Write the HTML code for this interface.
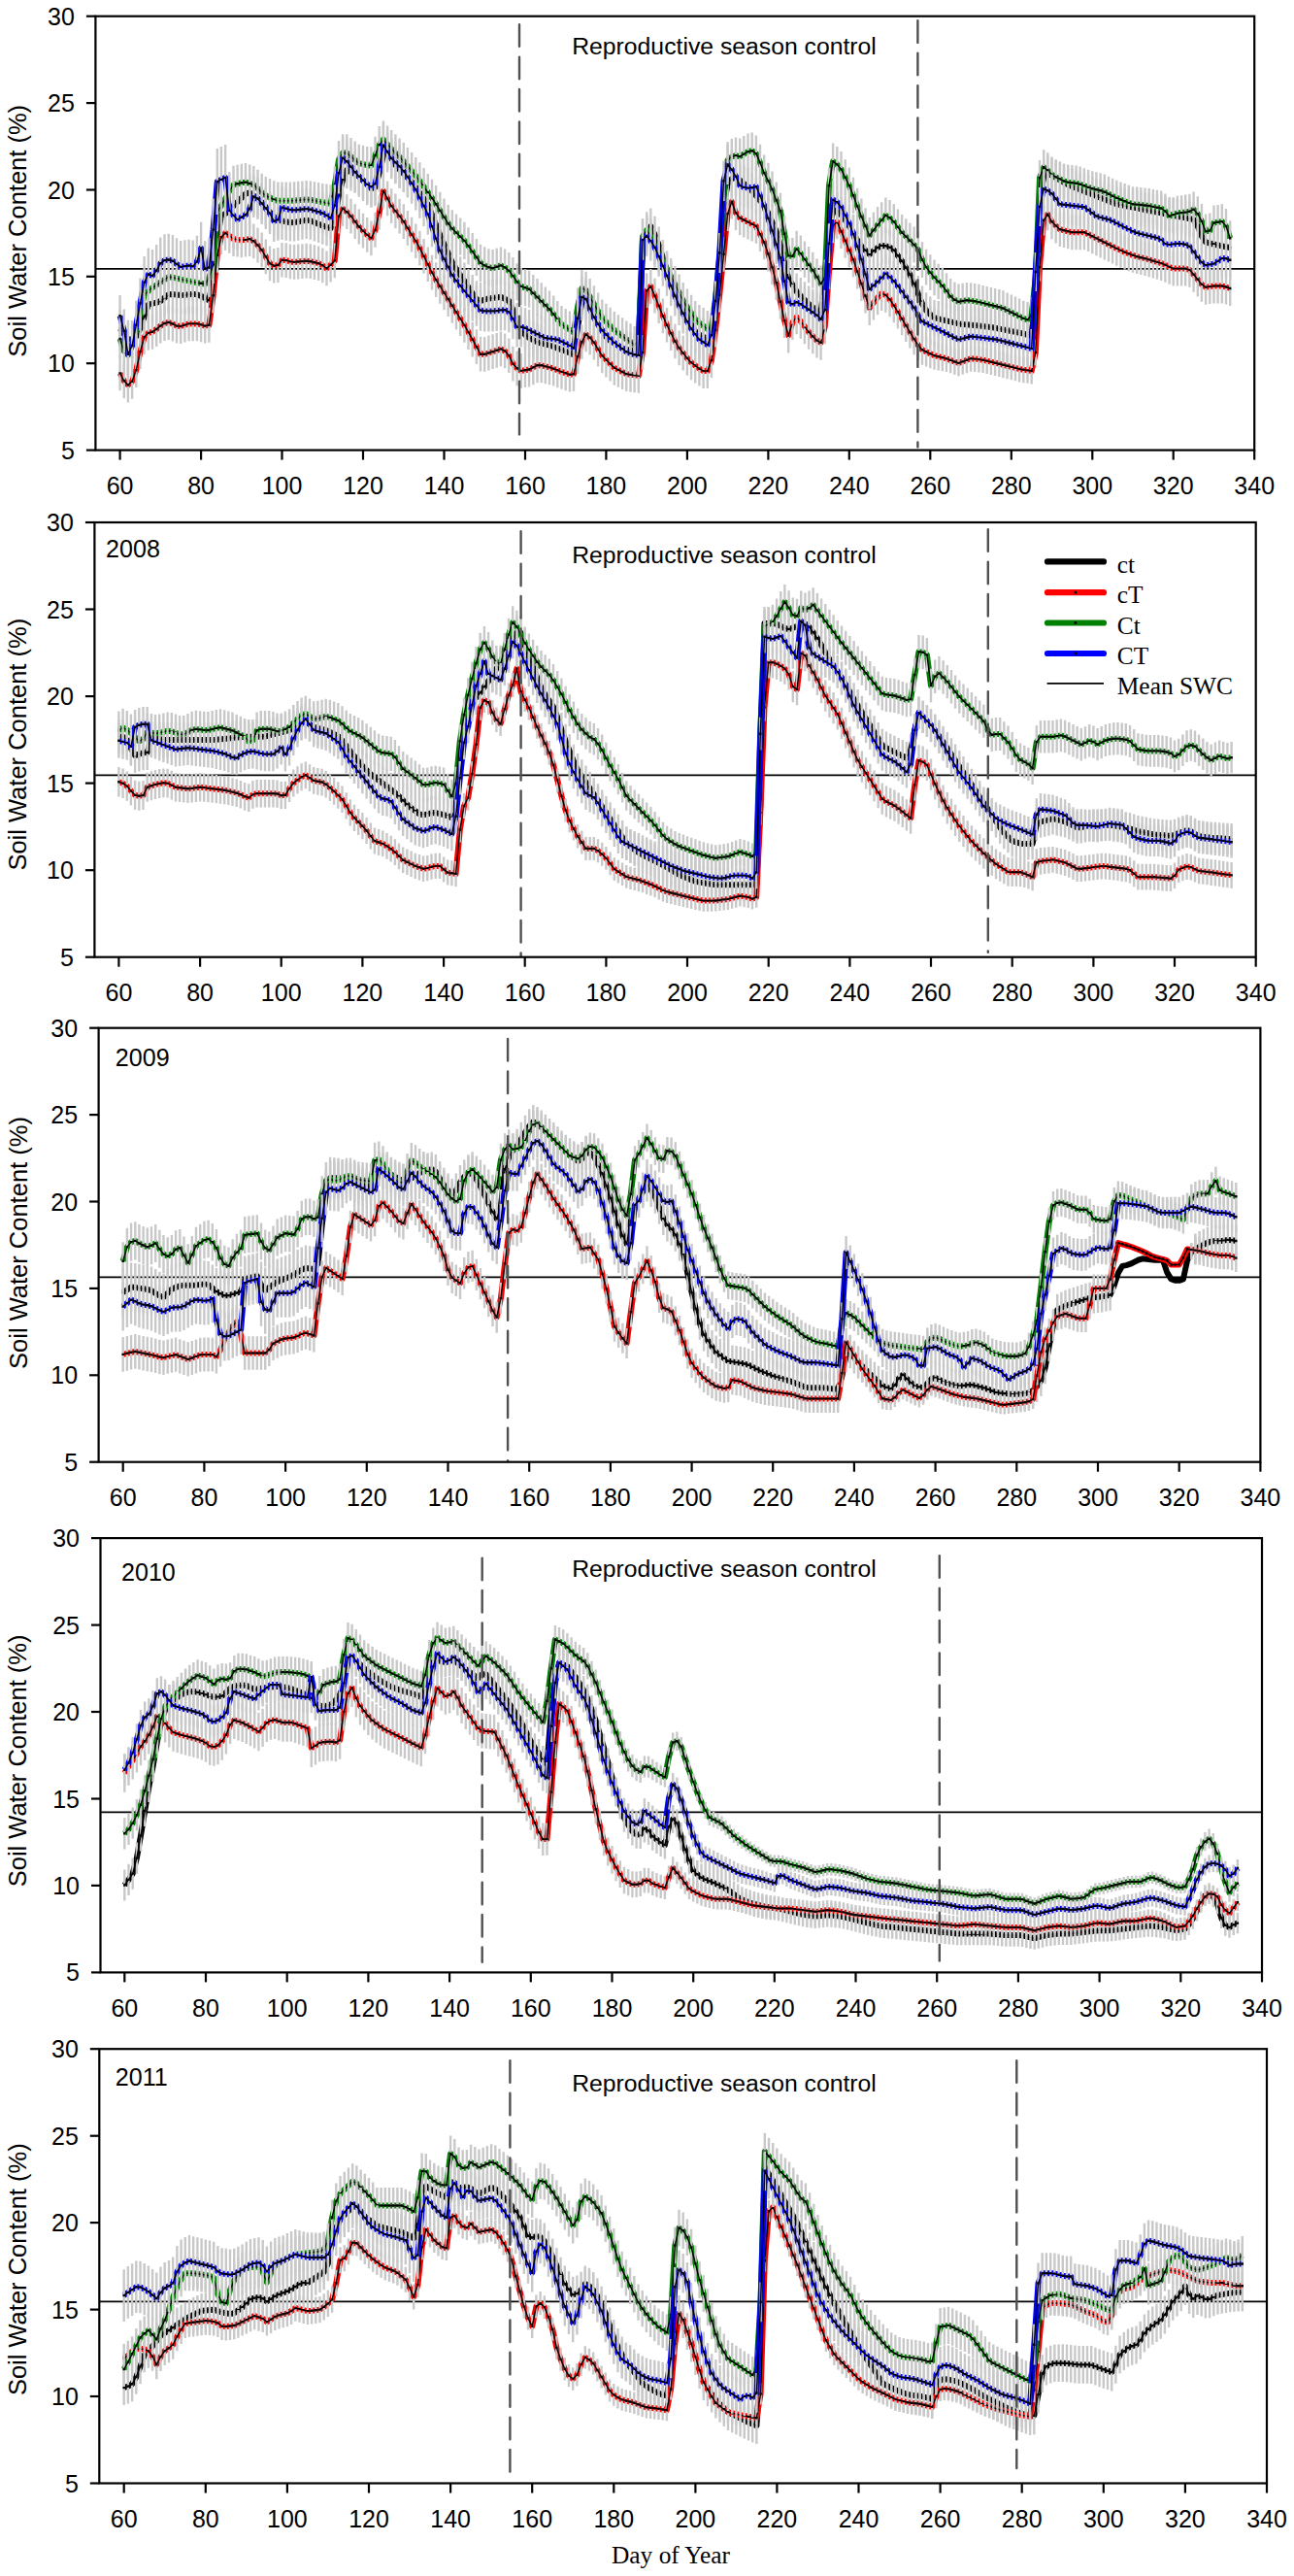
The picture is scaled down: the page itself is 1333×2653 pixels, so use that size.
<!DOCTYPE html><html><head><meta charset="utf-8"><title>Soil Water Content</title>
<style>html,body{margin:0;padding:0;background:#fff;}body{width:1333px;height:2653px;overflow:hidden;}svg{display:block;}</style>
</head><body>
<svg width="1333" height="2653" viewBox="0 0 1333 2653">
<rect x="0" y="0" width="1333" height="2653" fill="#fff"/>
<line x1="98.4" y1="276.9" x2="1292.2" y2="276.9" stroke="#000" stroke-width="1.8"/>
<polyline fill="none" stroke="#000000" stroke-width="6" stroke-linejoin="round" points="123.6,338.2 127.8,343.8 131.9,349.3 136.1,349.7 140.3,346.4 144.5,338.1 148.6,326.1 152.8,313.7 157,312.6 161.2,311.6 165.3,310.1 169.5,306.7 173.7,303.2 177.9,303 182,303.6 186.2,304.1 190.4,303.8 194.6,303.3 198.7,302.8 202.9,303.4 207.1,304.8 211.2,307 215.4,309.3 219.6,285.7 223.8,245.2 227.9,222.3 232.1,220.2 236.3,216.4 240.5,212.2 244.6,208 248.8,203.8 253,199.7 257.2,198.3 261.3,201.5 265.5,204.6 269.7,208.2 273.8,213.2 278,218.3 282.2,223.3 286.4,226.6 290.5,227.5 294.7,228.3 298.9,229.2 303.1,229.1 307.2,228.3 311.4,227.5 315.6,226.6 319.8,227.3 323.9,229 328.1,230.7 332.3,232.4 336.5,233.8 340.6,235.2 344.8,226.3 349,201.2 353.1,184.9 357.3,175 361.5,177.1 365.7,179.1 369.8,181.6 374,185.8 378.2,189.9 382.4,194.1 386.5,193 390.7,178.4 394.9,160.3 399.1,155.7 403.2,162.8 407.4,170 411.6,174.6 415.8,178.8 419.9,183 424.1,187.2 428.3,192.9 432.4,198.8 436.6,204.6 440.8,210.7 445,221.2 449.1,231.6 453.3,242 457.5,251.5 461.7,260.9 465.8,270.2 470,277 474.2,283.3 478.4,289.5 482.5,295.8 486.7,302.1 490.9,308.3 495,309.9 499.2,308.6 503.4,307.4 507.6,306.9 511.7,306.4 515.9,305.8 520.1,307.9 524.3,310 528.4,318.9 532.6,330.9 536.8,337.8 541,344.8 545.1,348 549.3,350.1 553.5,352.2 557.7,353.6 561.8,354.6 566,355.7 570.2,357 574.3,358.6 578.5,360.1 582.7,361.8 586.9,363.6 591,365.4 595.2,336.2 599.4,311.1 603.6,307.8 607.7,317.4 611.9,326.9 616.1,334.3 620.3,340.6 624.4,346.8 628.6,351 632.8,353.5 636.9,356 641.1,358.5 645.3,360 649.5,360.9 653.6,361.9 657.8,348.5 662,259.5 666.2,240.2 670.3,233.2 674.5,241.6 678.7,252.4 682.9,265.7 687,277.7 691.2,288.6 695.4,299.4 699.6,310.3 703.7,318.9 707.9,326.4 712.1,333.9 716.2,341.4 720.4,344.8 724.6,346.9 728.8,349 732.9,346.9 737.1,329.8 741.3,291.3 745.5,212 749.6,189.6 753.8,184 758,182.3 762.2,185.7 766.3,189 770.5,192.4 774.7,196.6 778.9,201.6 783,206.6 787.2,211.6 791.4,219.6 795.5,228.9 799.7,238.3 803.9,252.5 808.1,270.6 812.2,286.3 816.4,293.2 820.6,300.2 824.8,304.7 828.9,308.8 833.1,313 837.3,316.4 841.5,319.5 845.6,322.6 849.8,284.9 854,231.5 858.1,218.9 862.3,216.2 866.5,221.4 870.7,226.7 874.8,232.8 879,240.1 883.2,247.4 887.4,253.7 891.5,257.8 895.7,262 899.9,258.3 904.1,255 908.2,252.9 912.4,253.3 916.6,254.7 920.8,257.6 924.9,263.2 929.1,268.8 933.3,275.7 937.4,282.7 941.6,292.1 945.8,302.5 950,312.9 954.1,319.7 958.3,323.8 962.5,327.2 966.7,328.3 970.8,329.3 975,330.3 979.2,331.4 983.4,332.4 987.5,333.4 991.7,333.9 995.9,334.3 1000.1,334.7 1004.2,335.1 1008.4,335.5 1012.6,336 1016.7,336.4 1020.9,336.9 1025.1,337.7 1029.3,338.6 1033.4,339.4 1037.6,340.2 1041.8,341.1 1046,341.9 1050.1,342.7 1054.3,343.7 1058.5,344.9 1062.7,346.1 1066.8,301.9 1071,205.1 1075.2,182.3 1079.3,178.3 1083.5,180.6 1087.7,183 1091.9,185.4 1096,187.8 1100.2,190.2 1104.4,192 1108.6,193.7 1112.7,195.3 1116.9,197 1121.1,198.7 1125.3,200.3 1129.4,202 1133.6,203.7 1137.8,205.3 1142,207 1146.1,208.7 1150.3,210.2 1154.5,211.1 1158.6,211.9 1162.8,212.7 1167,213.6 1171.2,214.4 1175.3,215.2 1179.5,216.1 1183.7,216.9 1187.9,217.7 1192,218.6 1196.2,219.4 1200.4,220.2 1204.6,221.1 1208.7,221.9 1212.9,222.7 1217.1,223.6 1221.2,224.4 1225.4,225.2 1229.6,226.1 1233.8,233.2 1237.9,243 1242.1,249.4 1246.3,250.5 1250.5,251.5 1254.6,252.5 1258.8,253.4 1263,254.3 1267.2,255.1"/>
<path fill="none" stroke="#c8c8c8" stroke-width="2.4" d="M123.6 318.5V357.9M127.8 324.1V363.4M131.9 329.7V369M136.1 330V369.3M140.3 326.8V366.1M144.5 318.5V357.7M148.6 306.4V345.7M152.8 294.1V333.3M157 293V332.2M161.2 292V331.2M165.3 290.5V329.7M169.5 287.1V326.3M173.7 283.6V322.8M177.9 283.5V322.6M182 284V323.1M186.2 284.5V323.6M190.4 284.3V323.4M194.6 283.8V322.9M198.7 283.3V322.3M202.9 283.9V323M207.1 285.3V324.4M211.2 287.5V326.5M215.4 289.8V328.9M219.6 266.2V305.3M223.8 225.7V264.7M227.9 202.8V241.8M232.1 200.7V239.7M236.3 196.9V235.8M240.5 192.7V231.7M244.6 188.5V227.5M248.8 184.4V223.3M253 180.2V219.1M257.2 178.9V217.8M261.3 182V220.9M265.5 185.1V224M269.7 188.8V227.7M273.8 193.8V232.7M278 198.8V237.7M282.2 203.8V242.7M286.4 207.2V246.1M290.5 208.1V246.9M294.7 208.9V247.7M298.9 209.8V248.5M303.1 209.8V248.5M307.2 208.9V247.7M311.4 208.1V246.8M315.6 207.3V246M319.8 208V246.7M323.9 209.7V248.4M328.1 211.3V250M332.3 213V251.7M336.5 214.5V253.2M340.6 215.9V254.5M344.8 207V245.6M349 181.9V220.5M353.1 165.6V204.2M357.3 155.7V194.3M361.5 157.8V196.4M365.7 159.9V198.4M369.8 162.3V200.9M374 166.5V205M378.2 170.7V209.2M382.4 174.8V213.4M386.5 173.8V212.3M390.7 159.2V197.6M394.9 141V179.5M399.1 136.4V174.9M403.2 143.6V182M407.4 150.8V189.2M411.6 155.4V193.9M415.8 159.6V198M419.9 163.8V202.2M424.1 168V206.4M428.3 173.7V212.1M432.4 179.6V217.9M436.6 185.4V223.8M440.8 191.6V229.9M445 202V240.3M449.1 212.4V250.7M453.3 222.9V261.2M457.5 232.3V270.6M461.7 241.7V280M465.8 251.1V289.4M470 257.9V296.1M474.2 264.2V302.4M478.4 270.4V308.6M482.5 276.7V314.9M486.7 283V321.1M490.9 289.2V327.4M495 290.8V329M499.2 289.6V327.7M503.4 288.3V326.5M507.6 287.8V326M511.7 287.3V325.4M515.9 286.8V324.9M520.1 288.9V326.9M524.3 291V329M528.4 299.9V337.9M532.6 311.9V349.9M536.8 318.8V356.9M541 325.8V363.8M545.1 329V367M549.3 331.1V369.1M553.5 333.2V371.2M557.7 334.6V372.6M561.8 335.7V373.6M566 336.7V374.6M570.2 338V376M574.3 339.6V377.5M578.5 341.2V379.1M582.7 342.9V380.7M586.9 344.6V382.5M591 346.4V384.3M595.2 317.2V355.1M599.4 292.2V330M603.6 288.9V326.7M607.7 298.5V336.3M611.9 308V345.8M616.1 315.4V353.2M620.3 321.7V359.4M624.4 327.9V365.7M628.6 332.2V369.9M632.8 334.7V372.4M636.9 337.2V374.9M641.1 339.7V377.4M645.3 341.2V378.9M649.5 342.1V379.8M653.6 343V380.7M657.8 329.7V367.4M662 240.7V278.3M666.2 221.3V259M670.3 214.4V252M674.5 222.8V260.4M678.7 233.6V271.2M682.9 246.9V284.5M687 258.9V296.5M691.2 269.8V307.3M695.4 280.6V318.2M699.6 291.5V329M703.7 300.2V337.7M707.9 307.7V345.2M712.1 315.2V352.7M716.2 322.7V360.2M720.4 326V363.5M724.6 328.1V365.6M728.8 330.2V367.7M732.9 328.2V365.6M737.1 311.1V348.5M741.3 272.6V309.9M745.5 193.3V230.6M749.6 170.9V208.3M753.8 165.3V202.7M758 163.7V201M762.2 167V204.4M766.3 170.4V207.7M770.5 173.7V211M774.7 178V215.3M778.9 183V220.3M783 188V225.3M787.2 193V230.3M791.4 200.9V238.2M795.5 210.3V247.6M799.7 219.7V256.9M803.9 233.9V271.1M808.1 252V289.2M812.2 267.7V304.8M816.4 274.6V311.8M820.6 281.6V318.7M824.8 286.1V323.2M828.9 290.3V327.4M833.1 294.5V331.6M837.3 297.8V334.9M841.5 301V338.1M845.6 304.1V341.2M849.8 266.4V303.5M854 212.9V250M858.1 200.4V237.5M862.3 197.7V234.7M866.5 202.9V239.9M870.7 208.2V245.2M874.8 214.3V251.3M879 221.6V258.6M883.2 228.9V265.9M887.4 235.2V272.1M891.5 239.4V276.3M895.7 243.6V280.5M899.9 239.9V276.8M904.1 236.6V273.4M908.2 234.5V271.3M912.4 234.8V271.7M916.6 236.2V273.1M920.8 239.2V276M924.9 244.7V281.6M929.1 250.4V287.2M933.3 257.3V294.1M937.4 264.3V301.1M941.6 273.7V310.5M945.8 284.1V320.9M950 294.6V331.3M954.1 301.3V338M958.3 305.5V342.2M962.5 308.9V345.6M966.7 309.9V346.6M970.8 311V347.6M975 312V348.7M979.2 313.1V349.7M983.4 314.1V350.7M987.5 315.1V351.8M991.7 315.6V352.2M995.9 316V352.6M1000.1 316.4V353M1004.2 316.8V353.4M1008.4 317.3V353.8M1012.6 317.7V354.2M1016.7 318.1V354.6M1020.9 318.6V355.2M1025.1 319.5V356M1029.3 320.3V356.8M1033.4 321.2V357.6M1037.6 322V358.5M1041.8 322.8V359.3M1046 323.7V360.1M1050.1 324.5V361M1054.3 325.5V362M1058.5 326.7V363.1M1062.7 327.9V364.3M1066.8 283.7V320.1M1071 187V223.3M1075.2 164.1V200.4M1079.3 160.1V196.4M1083.5 162.5V198.8M1087.7 164.9V201.2M1091.9 167.3V203.6M1096 169.7V205.9M1100.2 172V208.3M1104.4 173.9V210.1M1108.6 175.5V211.8M1112.7 177.2V213.4M1116.9 178.9V215.1M1121.1 180.6V216.8M1125.3 182.2V218.4M1129.4 183.9V220.1M1133.6 185.6V221.8M1137.8 187.3V223.4M1142 188.9V225.1M1146.1 190.6V226.7M1150.3 192.2V228.3M1154.5 193V229.1M1158.6 193.8V229.9M1162.8 194.7V230.8M1167 195.5V231.6M1171.2 196.4V232.4M1175.3 197.2V233.2M1179.5 198.1V234.1M1183.7 198.9V234.9M1187.9 199.7V235.7M1192 200.6V236.6M1196.2 201.4V237.4M1200.4 202.3V238.2M1204.6 203.1V239M1208.7 203.9V239.9M1212.9 204.8V240.7M1217.1 205.6V241.5M1221.2 206.5V242.4M1225.4 207.3V243.2M1229.6 208.1V244M1233.8 215.3V251.2M1237.9 225.1V260.9M1242.1 231.5V267.4M1246.3 232.6V268.4M1250.5 233.6V269.4M1254.6 234.6V270.4M1258.8 235.5V271.3M1263 236.4V272.1M1267.2 237.3V273"/>
<polyline fill="none" stroke="#000" stroke-width="1.4" stroke-linejoin="round" points="123.6,338.2 127.8,343.8 131.9,349.3 136.1,349.7 140.3,346.4 144.5,338.1 148.6,326.1 152.8,313.7 157,312.6 161.2,311.6 165.3,310.1 169.5,306.7 173.7,303.2 177.9,303 182,303.6 186.2,304.1 190.4,303.8 194.6,303.3 198.7,302.8 202.9,303.4 207.1,304.8 211.2,307 215.4,309.3 219.6,285.7 223.8,245.2 227.9,222.3 232.1,220.2 236.3,216.4 240.5,212.2 244.6,208 248.8,203.8 253,199.7 257.2,198.3 261.3,201.5 265.5,204.6 269.7,208.2 273.8,213.2 278,218.3 282.2,223.3 286.4,226.6 290.5,227.5 294.7,228.3 298.9,229.2 303.1,229.1 307.2,228.3 311.4,227.5 315.6,226.6 319.8,227.3 323.9,229 328.1,230.7 332.3,232.4 336.5,233.8 340.6,235.2 344.8,226.3 349,201.2 353.1,184.9 357.3,175 361.5,177.1 365.7,179.1 369.8,181.6 374,185.8 378.2,189.9 382.4,194.1 386.5,193 390.7,178.4 394.9,160.3 399.1,155.7 403.2,162.8 407.4,170 411.6,174.6 415.8,178.8 419.9,183 424.1,187.2 428.3,192.9 432.4,198.8 436.6,204.6 440.8,210.7 445,221.2 449.1,231.6 453.3,242 457.5,251.5 461.7,260.9 465.8,270.2 470,277 474.2,283.3 478.4,289.5 482.5,295.8 486.7,302.1 490.9,308.3 495,309.9 499.2,308.6 503.4,307.4 507.6,306.9 511.7,306.4 515.9,305.8 520.1,307.9 524.3,310 528.4,318.9 532.6,330.9 536.8,337.8 541,344.8 545.1,348 549.3,350.1 553.5,352.2 557.7,353.6 561.8,354.6 566,355.7 570.2,357 574.3,358.6 578.5,360.1 582.7,361.8 586.9,363.6 591,365.4 595.2,336.2 599.4,311.1 603.6,307.8 607.7,317.4 611.9,326.9 616.1,334.3 620.3,340.6 624.4,346.8 628.6,351 632.8,353.5 636.9,356 641.1,358.5 645.3,360 649.5,360.9 653.6,361.9 657.8,348.5 662,259.5 666.2,240.2 670.3,233.2 674.5,241.6 678.7,252.4 682.9,265.7 687,277.7 691.2,288.6 695.4,299.4 699.6,310.3 703.7,318.9 707.9,326.4 712.1,333.9 716.2,341.4 720.4,344.8 724.6,346.9 728.8,349 732.9,346.9 737.1,329.8 741.3,291.3 745.5,212 749.6,189.6 753.8,184 758,182.3 762.2,185.7 766.3,189 770.5,192.4 774.7,196.6 778.9,201.6 783,206.6 787.2,211.6 791.4,219.6 795.5,228.9 799.7,238.3 803.9,252.5 808.1,270.6 812.2,286.3 816.4,293.2 820.6,300.2 824.8,304.7 828.9,308.8 833.1,313 837.3,316.4 841.5,319.5 845.6,322.6 849.8,284.9 854,231.5 858.1,218.9 862.3,216.2 866.5,221.4 870.7,226.7 874.8,232.8 879,240.1 883.2,247.4 887.4,253.7 891.5,257.8 895.7,262 899.9,258.3 904.1,255 908.2,252.9 912.4,253.3 916.6,254.7 920.8,257.6 924.9,263.2 929.1,268.8 933.3,275.7 937.4,282.7 941.6,292.1 945.8,302.5 950,312.9 954.1,319.7 958.3,323.8 962.5,327.2 966.7,328.3 970.8,329.3 975,330.3 979.2,331.4 983.4,332.4 987.5,333.4 991.7,333.9 995.9,334.3 1000.1,334.7 1004.2,335.1 1008.4,335.5 1012.6,336 1016.7,336.4 1020.9,336.9 1025.1,337.7 1029.3,338.6 1033.4,339.4 1037.6,340.2 1041.8,341.1 1046,341.9 1050.1,342.7 1054.3,343.7 1058.5,344.9 1062.7,346.1 1066.8,301.9 1071,205.1 1075.2,182.3 1079.3,178.3 1083.5,180.6 1087.7,183 1091.9,185.4 1096,187.8 1100.2,190.2 1104.4,192 1108.6,193.7 1112.7,195.3 1116.9,197 1121.1,198.7 1125.3,200.3 1129.4,202 1133.6,203.7 1137.8,205.3 1142,207 1146.1,208.7 1150.3,210.2 1154.5,211.1 1158.6,211.9 1162.8,212.7 1167,213.6 1171.2,214.4 1175.3,215.2 1179.5,216.1 1183.7,216.9 1187.9,217.7 1192,218.6 1196.2,219.4 1200.4,220.2 1204.6,221.1 1208.7,221.9 1212.9,222.7 1217.1,223.6 1221.2,224.4 1225.4,225.2 1229.6,226.1 1233.8,233.2 1237.9,243 1242.1,249.4 1246.3,250.5 1250.5,251.5 1254.6,252.5 1258.8,253.4 1263,254.3 1267.2,255.1"/><path fill="none" stroke="#000" stroke-width="2.4" d="M122.4 338.2h2.4M126.6 343.8h2.4M130.7 349.3h2.4M134.9 349.7h2.4M139.1 346.4h2.4M143.3 338.1h2.4M147.4 326.1h2.4M151.6 313.7h2.4M155.8 312.6h2.4M160 311.6h2.4M164.1 310.1h2.4M168.3 306.7h2.4M172.5 303.2h2.4M176.7 303h2.4M180.8 303.6h2.4M185 304.1h2.4M189.2 303.8h2.4M193.4 303.3h2.4M197.5 302.8h2.4M201.7 303.4h2.4M205.9 304.8h2.4M210 307h2.4M214.2 309.3h2.4M218.4 285.7h2.4M222.6 245.2h2.4M226.7 222.3h2.4M230.9 220.2h2.4M235.1 216.4h2.4M239.3 212.2h2.4M243.4 208h2.4M247.6 203.8h2.4M251.8 199.7h2.4M256 198.3h2.4M260.1 201.5h2.4M264.3 204.6h2.4M268.5 208.2h2.4M272.6 213.2h2.4M276.8 218.3h2.4M281 223.3h2.4M285.2 226.6h2.4M289.3 227.5h2.4M293.5 228.3h2.4M297.7 229.2h2.4M301.9 229.1h2.4M306 228.3h2.4M310.2 227.5h2.4M314.4 226.6h2.4M318.6 227.3h2.4M322.7 229h2.4M326.9 230.7h2.4M331.1 232.4h2.4M335.3 233.8h2.4M339.4 235.2h2.4M343.6 226.3h2.4M347.8 201.2h2.4M351.9 184.9h2.4M356.1 175h2.4M360.3 177.1h2.4M364.5 179.1h2.4M368.6 181.6h2.4M372.8 185.8h2.4M377 189.9h2.4M381.2 194.1h2.4M385.3 193h2.4M389.5 178.4h2.4M393.7 160.3h2.4M397.9 155.7h2.4M402 162.8h2.4M406.2 170h2.4M410.4 174.6h2.4M414.6 178.8h2.4M418.7 183h2.4M422.9 187.2h2.4M427.1 192.9h2.4M431.2 198.8h2.4M435.4 204.6h2.4M439.6 210.7h2.4M443.8 221.2h2.4M447.9 231.6h2.4M452.1 242h2.4M456.3 251.5h2.4M460.5 260.9h2.4M464.6 270.2h2.4M468.8 277h2.4M473 283.3h2.4M477.2 289.5h2.4M481.3 295.8h2.4M485.5 302.1h2.4M489.7 308.3h2.4M493.8 309.9h2.4M498 308.6h2.4M502.2 307.4h2.4M506.4 306.9h2.4M510.5 306.4h2.4M514.7 305.8h2.4M518.9 307.9h2.4M523.1 310h2.4M527.2 318.9h2.4M531.4 330.9h2.4M535.6 337.8h2.4M539.8 344.8h2.4M543.9 348h2.4M548.1 350.1h2.4M552.3 352.2h2.4M556.5 353.6h2.4M560.6 354.6h2.4M564.8 355.7h2.4M569 357h2.4M573.1 358.6h2.4M577.3 360.1h2.4M581.5 361.8h2.4M585.7 363.6h2.4M589.8 365.4h2.4M594 336.2h2.4M598.2 311.1h2.4M602.4 307.8h2.4M606.5 317.4h2.4M610.7 326.9h2.4M614.9 334.3h2.4M619.1 340.6h2.4M623.2 346.8h2.4M627.4 351h2.4M631.6 353.5h2.4M635.7 356h2.4M639.9 358.5h2.4M644.1 360h2.4M648.3 360.9h2.4M652.4 361.9h2.4M656.6 348.5h2.4M660.8 259.5h2.4M665 240.2h2.4M669.1 233.2h2.4M673.3 241.6h2.4M677.5 252.4h2.4M681.7 265.7h2.4M685.8 277.7h2.4M690 288.6h2.4M694.2 299.4h2.4M698.4 310.3h2.4M702.5 318.9h2.4M706.7 326.4h2.4M710.9 333.9h2.4M715 341.4h2.4M719.2 344.8h2.4M723.4 346.9h2.4M727.6 349h2.4M731.7 346.9h2.4M735.9 329.8h2.4M740.1 291.3h2.4M744.3 212h2.4M748.4 189.6h2.4M752.6 184h2.4M756.8 182.3h2.4M761 185.7h2.4M765.1 189h2.4M769.3 192.4h2.4M773.5 196.6h2.4M777.7 201.6h2.4M781.8 206.6h2.4M786 211.6h2.4M790.2 219.6h2.4M794.3 228.9h2.4M798.5 238.3h2.4M802.7 252.5h2.4M806.9 270.6h2.4M811 286.3h2.4M815.2 293.2h2.4M819.4 300.2h2.4M823.6 304.7h2.4M827.7 308.8h2.4M831.9 313h2.4M836.1 316.4h2.4M840.3 319.5h2.4M844.4 322.6h2.4M848.6 284.9h2.4M852.8 231.5h2.4M856.9 218.9h2.4M861.1 216.2h2.4M865.3 221.4h2.4M869.5 226.7h2.4M873.6 232.8h2.4M877.8 240.1h2.4M882 247.4h2.4M886.2 253.7h2.4M890.3 257.8h2.4M894.5 262h2.4M898.7 258.3h2.4M902.9 255h2.4M907 252.9h2.4M911.2 253.3h2.4M915.4 254.7h2.4M919.6 257.6h2.4M923.7 263.2h2.4M927.9 268.8h2.4M932.1 275.7h2.4M936.2 282.7h2.4M940.4 292.1h2.4M944.6 302.5h2.4M948.8 312.9h2.4M952.9 319.7h2.4M957.1 323.8h2.4M961.3 327.2h2.4M965.5 328.3h2.4M969.6 329.3h2.4M973.8 330.3h2.4M978 331.4h2.4M982.2 332.4h2.4M986.3 333.4h2.4M990.5 333.9h2.4M994.7 334.3h2.4M998.9 334.7h2.4M1003 335.1h2.4M1007.2 335.5h2.4M1011.4 336h2.4M1015.5 336.4h2.4M1019.7 336.9h2.4M1023.9 337.7h2.4M1028.1 338.6h2.4M1032.2 339.4h2.4M1036.4 340.2h2.4M1040.6 341.1h2.4M1044.8 341.9h2.4M1048.9 342.7h2.4M1053.1 343.7h2.4M1057.3 344.9h2.4M1061.5 346.1h2.4M1065.6 301.9h2.4M1069.8 205.1h2.4M1074 182.3h2.4M1078.1 178.3h2.4M1082.3 180.6h2.4M1086.5 183h2.4M1090.7 185.4h2.4M1094.8 187.8h2.4M1099 190.2h2.4M1103.2 192h2.4M1107.4 193.7h2.4M1111.5 195.3h2.4M1115.7 197h2.4M1119.9 198.7h2.4M1124.1 200.3h2.4M1128.2 202h2.4M1132.4 203.7h2.4M1136.6 205.3h2.4M1140.8 207h2.4M1144.9 208.7h2.4M1149.1 210.2h2.4M1153.3 211.1h2.4M1157.4 211.9h2.4M1161.6 212.7h2.4M1165.8 213.6h2.4M1170 214.4h2.4M1174.1 215.2h2.4M1178.3 216.1h2.4M1182.5 216.9h2.4M1186.7 217.7h2.4M1190.8 218.6h2.4M1195 219.4h2.4M1199.2 220.2h2.4M1203.4 221.1h2.4M1207.5 221.9h2.4M1211.7 222.7h2.4M1215.9 223.6h2.4M1220 224.4h2.4M1224.2 225.2h2.4M1228.4 226.1h2.4M1232.6 233.2h2.4M1236.7 243h2.4M1240.9 249.4h2.4M1245.1 250.5h2.4M1249.3 251.5h2.4M1253.4 252.5h2.4M1257.6 253.4h2.4M1261.8 254.3h2.4M1266 255.1h2.4"/>
<polyline fill="none" stroke="#ff0000" stroke-width="6" stroke-linejoin="round" points="123.6,384.4 127.8,392.3 131.9,396.5 136.1,392.8 140.3,381.1 144.5,362.1 148.6,347.2 152.8,342.9 157,341.8 161.2,339 165.3,335.6 169.5,333 173.7,332 177.9,333.5 182,335.6 186.2,336 190.4,334.6 194.6,333.4 198.7,333.4 202.9,333.4 207.1,334.4 211.2,335.6 215.4,334.8 219.6,304.3 223.8,262.8 227.9,244.2 232.1,240 236.3,242.8 240.5,246 244.6,246.7 248.8,247.4 253,246.8 257.2,246.1 261.3,248.3 265.5,252.5 269.7,257.5 273.8,264.4 278,271.4 282.2,273.7 286.4,273 290.5,267.8 294.7,268.1 298.9,269.4 303.1,269.9 307.2,269.5 311.4,269.1 315.6,268.7 319.8,269.2 323.9,270.2 328.1,271.2 332.3,273.3 336.5,276.5 340.6,272.7 344.8,268.4 349,222.6 353.1,214.8 357.3,218.2 361.5,222.6 365.7,228.2 369.8,233.5 374,237.7 378.2,241.9 382.4,245.3 386.5,237 390.7,218.7 394.9,196.7 399.1,204.4 403.2,212.1 407.4,217.4 411.6,222.6 415.8,228.2 419.9,234.9 424.1,241.6 428.3,248.2 432.4,255.6 436.6,263.9 440.8,272.3 445,280.6 449.1,288.1 453.3,294.8 457.5,301.5 461.7,308.1 465.8,314.8 470,321.5 474.2,328.2 478.4,334.9 482.5,342.1 486.7,349.7 490.9,357.2 495,364.7 499.2,364.8 503.4,363.5 507.6,362.2 511.7,360.8 515.9,359.4 520.1,361.5 524.3,366.3 528.4,374.6 532.6,379.3 536.8,381.9 541,381.2 545.1,380.5 549.3,378.4 553.5,376.3 557.7,376.3 561.8,377.4 566,378.4 570.2,379.7 574.3,381.3 578.5,382.9 582.7,384.3 586.9,385.7 591,385.2 595.2,367.1 599.4,352.2 603.6,344.4 607.7,347.8 611.9,352.7 616.1,359.6 620.3,366.3 624.4,370.5 628.6,374.7 632.8,378.8 636.9,380.9 641.1,383 645.3,385.1 649.5,385.8 653.6,386.3 657.8,386.9 662,362.9 666.2,299.2 670.3,294.9 674.5,304.6 678.7,315 682.9,325.5 687,334.8 691.2,343.1 695.4,351.5 699.6,358.4 703.7,363.6 707.9,368.9 712.1,373.4 716.2,376.5 720.4,379.7 724.6,382.1 728.8,382.1 732.9,371.1 737.1,339.7 741.3,303.5 745.5,261.8 749.6,220.1 753.8,207.7 758,219.2 762.2,224.5 766.3,226.5 770.5,228.6 774.7,230.7 778.9,232.8 783,241.1 787.2,249.5 791.4,261.5 795.5,275.4 799.7,291.1 803.9,310.6 808.1,330.1 812.2,345.5 816.4,332.1 820.6,326.5 824.8,330.8 828.9,336.3 833.1,341.9 837.3,346.4 841.5,350.6 845.6,352.9 849.8,336.3 854,279.8 858.1,232.4 862.3,228.5 866.5,238.2 870.7,247.9 874.8,257.7 879,267.4 883.2,279.6 887.4,292.1 891.5,304.7 895.7,317.2 899.9,311.6 904.1,306.4 908.2,302.2 912.4,303.9 916.6,308.4 920.8,314.6 924.9,321.3 929.1,328.3 933.3,335.2 937.4,342.2 941.6,349.1 945.8,355.5 950,360.2 954.1,362.3 958.3,364.3 962.5,366.2 966.7,367.2 970.8,368.2 975,369.4 979.2,370.9 983.4,372.5 987.5,373.9 991.7,372.4 995.9,370.8 1000.1,369.2 1004.2,369.6 1008.4,370.1 1012.6,370.7 1016.7,371.6 1020.9,372.7 1025.1,373.7 1029.3,374.7 1033.4,375.8 1037.6,376.8 1041.8,377.9 1046,378.9 1050.1,380 1054.3,380.8 1058.5,381.4 1062.7,382 1066.8,363 1071,275 1075.2,226.9 1079.3,220.6 1083.5,228.3 1087.7,232.5 1091.9,236.2 1096,237.3 1100.2,238.3 1104.4,239.3 1108.6,239.3 1112.7,239.3 1116.9,239.3 1121.1,241.2 1125.3,243.3 1129.4,245.4 1133.6,247.5 1137.8,249.6 1142,251.7 1146.1,253.8 1150.3,255.9 1154.5,257.9 1158.6,259.7 1162.8,261.3 1167,262.8 1171.2,264.2 1175.3,265.2 1179.5,266.2 1183.7,267.4 1187.9,268.6 1192,269.9 1196.2,271.1 1200.4,272.8 1204.6,274.9 1208.7,276.6 1212.9,276.6 1217.1,276.6 1221.2,276.6 1225.4,277.9 1229.6,282.8 1233.8,287.7 1237.9,292.9 1242.1,295.8 1246.3,295.1 1250.5,294.5 1254.6,294.5 1258.8,294.5 1263,295.5 1267.2,297"/>
<path fill="none" stroke="#c8c8c8" stroke-width="2.4" d="M123.6 366.5V402.3M127.8 374.4V410.2M131.9 378.6V414.4M136.1 374.9V410.7M140.3 363.2V399M144.5 344.2V380M148.6 329.3V365.1M152.8 325V360.8M157 324V359.7M161.2 321.2V356.9M165.3 317.7V353.4M169.5 315.2V350.9M173.7 314.1V349.9M177.9 315.7V351.4M182 317.8V353.5M186.2 318.1V353.9M190.4 316.7V352.5M194.6 315.6V351.3M198.7 315.6V351.3M202.9 315.6V351.3M207.1 316.5V352.3M211.2 317.7V353.5M215.4 317V352.7M219.6 286.4V322.2M223.8 245V280.7M227.9 226.3V262.1M232.1 222.1V257.9M236.3 224.9V260.7M240.5 228.1V263.9M244.6 228.8V264.6M248.8 229.5V265.3M253 228.9V264.6M257.2 228.2V263.9M261.3 230.5V266.2M265.5 234.6V270.4M269.7 239.6V275.3M273.8 246.5V282.3M278 253.5V289.3M282.2 255.9V291.6M286.4 255.1V290.9M290.5 249.9V285.6M294.7 250.2V285.9M298.9 251.6V287.3M303.1 252.1V287.8M307.2 251.6V287.4M311.4 251.2V287M315.6 250.8V286.6M319.8 251.3V287M323.9 252.3V288.1M328.1 253.4V289.1M332.3 255.5V291.2M336.5 258.6V294.3M340.6 254.8V290.6M344.8 250.5V286.3M349 204.7V240.5M353.1 197V232.7M357.3 200.3V236M361.5 204.7V240.5M365.7 210.3V246.1M369.8 215.6V251.4M374 219.8V255.6M378.2 224V259.7M382.4 227.4V263.2M386.5 219.1V254.8M390.7 200.8V236.6M394.9 178.8V214.6M399.1 186.5V222.3M403.2 194.3V230M407.4 199.5V235.2M411.6 204.7V240.4M415.8 210.3V246.1M419.9 217V252.8M424.1 223.7V259.4M428.3 230.4V266.1M432.4 237.7V273.4M436.6 246V281.8M440.8 254.4V290.1M445 262.7V298.5M449.1 270.2V306M453.3 276.9V312.7M457.5 283.6V319.3M461.7 290.3V326M465.8 296.9V332.7M470 303.6V339.4M474.2 310.3V346.1M478.4 317V352.7M482.5 324.3V360M486.7 331.8V367.5M490.9 339.3V375M495 346.8V382.6M499.2 346.9V382.7M503.4 345.6V381.4M507.6 344.3V380.1M511.7 342.9V378.7M515.9 341.5V377.3M520.1 343.6V379.3M524.3 348.4V384.1M528.4 356.7V392.5M532.6 361.4V397.2M536.8 364V399.8M541 363.3V399.1M545.1 362.6V398.4M549.3 360.6V396.3M553.5 358.5V394.2M557.7 358.4V394.2M561.8 359.5V395.2M566 360.5V396.3M570.2 361.8V397.6M574.3 363.4V399.2M578.5 365V400.7M582.7 366.5V402.2M586.9 367.9V403.6M591 367.3V403M595.2 349.2V384.9M599.4 334.4V370.1M603.6 326.6V362.3M607.7 329.9V365.6M611.9 334.8V370.6M616.1 341.8V377.5M620.3 348.4V384.2M624.4 352.6V388.4M628.6 356.8V392.5M632.8 361V396.7M636.9 363.1V398.8M641.1 365.2V400.9M645.3 367.2V403M649.5 367.9V403.7M653.6 368.5V404.2M657.8 369V404.7M662 345V380.8M666.2 281.3V317M670.3 277V312.8M674.5 286.7V322.5M678.7 297.2V332.9M682.9 307.6V343.3M687 316.9V352.6M691.2 325.2V361M695.4 333.6V369.3M699.6 340.6V376.3M703.7 345.8V381.5M707.9 351V386.7M712.1 355.5V391.3M716.2 358.7V394.4M720.4 361.8V397.5M724.6 364.2V400M728.8 364.2V400M732.9 353.2V389M737.1 321.8V357.5M741.3 285.7V321.4M745.5 243.9V279.7M749.6 202.2V237.9M753.8 189.8V225.6M758 201.3V237.1M762.2 206.6V242.3M766.3 208.7V244.4M770.5 210.8V246.5M774.7 212.8V248.6M778.9 214.9V250.7M783 223.2V259M787.2 231.6V267.3M791.4 243.6V279.4M795.5 257.5V293.3M799.7 273.3V309M803.9 292.7V328.5M808.1 312.2V348M812.2 327.6V363.4M816.4 314.3V350M820.6 308.6V344.3M824.8 312.9V348.7M828.9 318.5V354.2M833.1 324V359.8M837.3 328.5V364.3M841.5 332.7V368.4M845.6 335V370.8M849.8 318.4V354.2M854 262V297.7M858.1 214.5V250.3M862.3 210.6V246.3M866.5 220.3V256.1M870.7 230.1V265.8M874.8 239.8V275.5M879 249.5V285.3M883.2 261.7V297.5M887.4 274.3V310M891.5 286.8V322.5M895.7 299.3V335.1M899.9 293.7V329.5M904.1 288.5V324.3M908.2 284.3V320.1M912.4 286V321.8M916.6 290.5V326.3M920.8 297.1V332.2M924.9 304V338.6M929.1 311.3V345.3M933.3 318.5V351.9M937.4 325.8V358.6M941.6 333.1V365.2M945.8 339.7V371.2M950 344.7V375.7M954.1 347.1V377.5M958.3 349.4V379.2M962.5 351.6V380.8M966.7 352.9V381.5M970.8 354.2V382.2M975 355.7V383.1M979.2 357.5V384.3M983.4 359.1V385.9M987.5 360.5V387.4M991.7 359V385.8M995.9 357.4V384.2M1000.1 355.8V382.7M1004.2 356.2V383M1008.4 356.7V383.5M1012.6 357.3V384.1M1016.7 358.2V385M1020.9 359.2V386.1M1025.1 360.3V387.1M1029.3 361.3V388.1M1033.4 362.4V389.2M1037.6 363.4V390.2M1041.8 364.5V391.3M1046 365.5V392.3M1050.1 366.5V393.4M1054.3 367.4V394.2M1058.5 368V394.8M1062.7 368.6V395.4M1066.8 349.6V376.4M1071 260.5V289.5M1075.2 211.3V242.6M1079.3 203.8V237.3M1083.5 210.5V246.2M1087.7 214.6V250.4M1091.9 218.3V254.1M1096 219.4V255.1M1100.2 220.4V256.2M1104.4 221.4V257.2M1108.6 221.4V257.2M1112.7 221.4V257.2M1116.9 221.4V257.2M1121.1 223.4V259.1M1125.3 225.5V261.2M1129.4 227.5V263.3M1133.6 229.6V265.4M1137.8 231.7V267.5M1142 233.8V269.6M1146.1 235.9V271.6M1150.3 238V273.7M1154.5 240.1V275.8M1158.6 241.8V277.6M1162.8 243.4V279.2M1167 245V280.7M1171.2 246.3V282M1175.3 247.3V283.1M1179.5 248.4V284.1M1183.7 249.5V285.2M1187.9 250.7V286.5M1192 252V287.7M1196.2 253.2V289M1200.4 254.9V290.7M1204.6 257V292.7M1208.7 258.8V294.5M1212.9 258.8V294.5M1217.1 258.8V294.5M1221.2 258.8V294.5M1225.4 260.1V295.8M1229.6 264.9V300.7M1233.8 269.8V305.5M1237.9 275V310.7M1242.1 278V313.7M1246.3 277.3V313M1250.5 276.6V312.4M1254.6 276.6V312.4M1258.8 276.6V312.4M1263 277.7V313.4M1267.2 279.2V314.9"/>
<polyline fill="none" stroke="#000" stroke-width="1.4" stroke-linejoin="round" points="123.6,384.4 127.8,392.3 131.9,396.5 136.1,392.8 140.3,381.1 144.5,362.1 148.6,347.2 152.8,342.9 157,341.8 161.2,339 165.3,335.6 169.5,333 173.7,332 177.9,333.5 182,335.6 186.2,336 190.4,334.6 194.6,333.4 198.7,333.4 202.9,333.4 207.1,334.4 211.2,335.6 215.4,334.8 219.6,304.3 223.8,262.8 227.9,244.2 232.1,240 236.3,242.8 240.5,246 244.6,246.7 248.8,247.4 253,246.8 257.2,246.1 261.3,248.3 265.5,252.5 269.7,257.5 273.8,264.4 278,271.4 282.2,273.7 286.4,273 290.5,267.8 294.7,268.1 298.9,269.4 303.1,269.9 307.2,269.5 311.4,269.1 315.6,268.7 319.8,269.2 323.9,270.2 328.1,271.2 332.3,273.3 336.5,276.5 340.6,272.7 344.8,268.4 349,222.6 353.1,214.8 357.3,218.2 361.5,222.6 365.7,228.2 369.8,233.5 374,237.7 378.2,241.9 382.4,245.3 386.5,237 390.7,218.7 394.9,196.7 399.1,204.4 403.2,212.1 407.4,217.4 411.6,222.6 415.8,228.2 419.9,234.9 424.1,241.6 428.3,248.2 432.4,255.6 436.6,263.9 440.8,272.3 445,280.6 449.1,288.1 453.3,294.8 457.5,301.5 461.7,308.1 465.8,314.8 470,321.5 474.2,328.2 478.4,334.9 482.5,342.1 486.7,349.7 490.9,357.2 495,364.7 499.2,364.8 503.4,363.5 507.6,362.2 511.7,360.8 515.9,359.4 520.1,361.5 524.3,366.3 528.4,374.6 532.6,379.3 536.8,381.9 541,381.2 545.1,380.5 549.3,378.4 553.5,376.3 557.7,376.3 561.8,377.4 566,378.4 570.2,379.7 574.3,381.3 578.5,382.9 582.7,384.3 586.9,385.7 591,385.2 595.2,367.1 599.4,352.2 603.6,344.4 607.7,347.8 611.9,352.7 616.1,359.6 620.3,366.3 624.4,370.5 628.6,374.7 632.8,378.8 636.9,380.9 641.1,383 645.3,385.1 649.5,385.8 653.6,386.3 657.8,386.9 662,362.9 666.2,299.2 670.3,294.9 674.5,304.6 678.7,315 682.9,325.5 687,334.8 691.2,343.1 695.4,351.5 699.6,358.4 703.7,363.6 707.9,368.9 712.1,373.4 716.2,376.5 720.4,379.7 724.6,382.1 728.8,382.1 732.9,371.1 737.1,339.7 741.3,303.5 745.5,261.8 749.6,220.1 753.8,207.7 758,219.2 762.2,224.5 766.3,226.5 770.5,228.6 774.7,230.7 778.9,232.8 783,241.1 787.2,249.5 791.4,261.5 795.5,275.4 799.7,291.1 803.9,310.6 808.1,330.1 812.2,345.5 816.4,332.1 820.6,326.5 824.8,330.8 828.9,336.3 833.1,341.9 837.3,346.4 841.5,350.6 845.6,352.9 849.8,336.3 854,279.8 858.1,232.4 862.3,228.5 866.5,238.2 870.7,247.9 874.8,257.7 879,267.4 883.2,279.6 887.4,292.1 891.5,304.7 895.7,317.2 899.9,311.6 904.1,306.4 908.2,302.2 912.4,303.9 916.6,308.4 920.8,314.6 924.9,321.3 929.1,328.3 933.3,335.2 937.4,342.2 941.6,349.1 945.8,355.5 950,360.2 954.1,362.3 958.3,364.3 962.5,366.2 966.7,367.2 970.8,368.2 975,369.4 979.2,370.9 983.4,372.5 987.5,373.9 991.7,372.4 995.9,370.8 1000.1,369.2 1004.2,369.6 1008.4,370.1 1012.6,370.7 1016.7,371.6 1020.9,372.7 1025.1,373.7 1029.3,374.7 1033.4,375.8 1037.6,376.8 1041.8,377.9 1046,378.9 1050.1,380 1054.3,380.8 1058.5,381.4 1062.7,382 1066.8,363 1071,275 1075.2,226.9 1079.3,220.6 1083.5,228.3 1087.7,232.5 1091.9,236.2 1096,237.3 1100.2,238.3 1104.4,239.3 1108.6,239.3 1112.7,239.3 1116.9,239.3 1121.1,241.2 1125.3,243.3 1129.4,245.4 1133.6,247.5 1137.8,249.6 1142,251.7 1146.1,253.8 1150.3,255.9 1154.5,257.9 1158.6,259.7 1162.8,261.3 1167,262.8 1171.2,264.2 1175.3,265.2 1179.5,266.2 1183.7,267.4 1187.9,268.6 1192,269.9 1196.2,271.1 1200.4,272.8 1204.6,274.9 1208.7,276.6 1212.9,276.6 1217.1,276.6 1221.2,276.6 1225.4,277.9 1229.6,282.8 1233.8,287.7 1237.9,292.9 1242.1,295.8 1246.3,295.1 1250.5,294.5 1254.6,294.5 1258.8,294.5 1263,295.5 1267.2,297"/><path fill="none" stroke="#000" stroke-width="2.4" d="M122.4 384.4h2.4M126.6 392.3h2.4M130.7 396.5h2.4M134.9 392.8h2.4M139.1 381.1h2.4M143.3 362.1h2.4M147.4 347.2h2.4M151.6 342.9h2.4M155.8 341.8h2.4M160 339h2.4M164.1 335.6h2.4M168.3 333h2.4M172.5 332h2.4M176.7 333.5h2.4M180.8 335.6h2.4M185 336h2.4M189.2 334.6h2.4M193.4 333.4h2.4M197.5 333.4h2.4M201.7 333.4h2.4M205.9 334.4h2.4M210 335.6h2.4M214.2 334.8h2.4M218.4 304.3h2.4M222.6 262.8h2.4M226.7 244.2h2.4M230.9 240h2.4M235.1 242.8h2.4M239.3 246h2.4M243.4 246.7h2.4M247.6 247.4h2.4M251.8 246.8h2.4M256 246.1h2.4M260.1 248.3h2.4M264.3 252.5h2.4M268.5 257.5h2.4M272.6 264.4h2.4M276.8 271.4h2.4M281 273.7h2.4M285.2 273h2.4M289.3 267.8h2.4M293.5 268.1h2.4M297.7 269.4h2.4M301.9 269.9h2.4M306 269.5h2.4M310.2 269.1h2.4M314.4 268.7h2.4M318.6 269.2h2.4M322.7 270.2h2.4M326.9 271.2h2.4M331.1 273.3h2.4M335.3 276.5h2.4M339.4 272.7h2.4M343.6 268.4h2.4M347.8 222.6h2.4M351.9 214.8h2.4M356.1 218.2h2.4M360.3 222.6h2.4M364.5 228.2h2.4M368.6 233.5h2.4M372.8 237.7h2.4M377 241.9h2.4M381.2 245.3h2.4M385.3 237h2.4M389.5 218.7h2.4M393.7 196.7h2.4M397.9 204.4h2.4M402 212.1h2.4M406.2 217.4h2.4M410.4 222.6h2.4M414.6 228.2h2.4M418.7 234.9h2.4M422.9 241.6h2.4M427.1 248.2h2.4M431.2 255.6h2.4M435.4 263.9h2.4M439.6 272.3h2.4M443.8 280.6h2.4M447.9 288.1h2.4M452.1 294.8h2.4M456.3 301.5h2.4M460.5 308.1h2.4M464.6 314.8h2.4M468.8 321.5h2.4M473 328.2h2.4M477.2 334.9h2.4M481.3 342.1h2.4M485.5 349.7h2.4M489.7 357.2h2.4M493.8 364.7h2.4M498 364.8h2.4M502.2 363.5h2.4M506.4 362.2h2.4M510.5 360.8h2.4M514.7 359.4h2.4M518.9 361.5h2.4M523.1 366.3h2.4M527.2 374.6h2.4M531.4 379.3h2.4M535.6 381.9h2.4M539.8 381.2h2.4M543.9 380.5h2.4M548.1 378.4h2.4M552.3 376.3h2.4M556.5 376.3h2.4M560.6 377.4h2.4M564.8 378.4h2.4M569 379.7h2.4M573.1 381.3h2.4M577.3 382.9h2.4M581.5 384.3h2.4M585.7 385.7h2.4M589.8 385.2h2.4M594 367.1h2.4M598.2 352.2h2.4M602.4 344.4h2.4M606.5 347.8h2.4M610.7 352.7h2.4M614.9 359.6h2.4M619.1 366.3h2.4M623.2 370.5h2.4M627.4 374.7h2.4M631.6 378.8h2.4M635.7 380.9h2.4M639.9 383h2.4M644.1 385.1h2.4M648.3 385.8h2.4M652.4 386.3h2.4M656.6 386.9h2.4M660.8 362.9h2.4M665 299.2h2.4M669.1 294.9h2.4M673.3 304.6h2.4M677.5 315h2.4M681.7 325.5h2.4M685.8 334.8h2.4M690 343.1h2.4M694.2 351.5h2.4M698.4 358.4h2.4M702.5 363.6h2.4M706.7 368.9h2.4M710.9 373.4h2.4M715 376.5h2.4M719.2 379.7h2.4M723.4 382.1h2.4M727.6 382.1h2.4M731.7 371.1h2.4M735.9 339.7h2.4M740.1 303.5h2.4M744.3 261.8h2.4M748.4 220.1h2.4M752.6 207.7h2.4M756.8 219.2h2.4M761 224.5h2.4M765.1 226.5h2.4M769.3 228.6h2.4M773.5 230.7h2.4M777.7 232.8h2.4M781.8 241.1h2.4M786 249.5h2.4M790.2 261.5h2.4M794.3 275.4h2.4M798.5 291.1h2.4M802.7 310.6h2.4M806.9 330.1h2.4M811 345.5h2.4M815.2 332.1h2.4M819.4 326.5h2.4M823.6 330.8h2.4M827.7 336.3h2.4M831.9 341.9h2.4M836.1 346.4h2.4M840.3 350.6h2.4M844.4 352.9h2.4M848.6 336.3h2.4M852.8 279.8h2.4M856.9 232.4h2.4M861.1 228.5h2.4M865.3 238.2h2.4M869.5 247.9h2.4M873.6 257.7h2.4M877.8 267.4h2.4M882 279.6h2.4M886.2 292.1h2.4M890.3 304.7h2.4M894.5 317.2h2.4M898.7 311.6h2.4M902.9 306.4h2.4M907 302.2h2.4M911.2 303.9h2.4M915.4 308.4h2.4M919.6 314.6h2.4M923.7 321.3h2.4M927.9 328.3h2.4M932.1 335.2h2.4M936.2 342.2h2.4M940.4 349.1h2.4M944.6 355.5h2.4M948.8 360.2h2.4M952.9 362.3h2.4M957.1 364.3h2.4M961.3 366.2h2.4M965.5 367.2h2.4M969.6 368.2h2.4M973.8 369.4h2.4M978 370.9h2.4M982.2 372.5h2.4M986.3 373.9h2.4M990.5 372.4h2.4M994.7 370.8h2.4M998.9 369.2h2.4M1003 369.6h2.4M1007.2 370.1h2.4M1011.4 370.7h2.4M1015.5 371.6h2.4M1019.7 372.7h2.4M1023.9 373.7h2.4M1028.1 374.7h2.4M1032.2 375.8h2.4M1036.4 376.8h2.4M1040.6 377.9h2.4M1044.8 378.9h2.4M1048.9 380h2.4M1053.1 380.8h2.4M1057.3 381.4h2.4M1061.5 382h2.4M1065.6 363h2.4M1069.8 275h2.4M1074 226.9h2.4M1078.1 220.6h2.4M1082.3 228.3h2.4M1086.5 232.5h2.4M1090.7 236.2h2.4M1094.8 237.3h2.4M1099 238.3h2.4M1103.2 239.3h2.4M1107.4 239.3h2.4M1111.5 239.3h2.4M1115.7 239.3h2.4M1119.9 241.2h2.4M1124.1 243.3h2.4M1128.2 245.4h2.4M1132.4 247.5h2.4M1136.6 249.6h2.4M1140.8 251.7h2.4M1144.9 253.8h2.4M1149.1 255.9h2.4M1153.3 257.9h2.4M1157.4 259.7h2.4M1161.6 261.3h2.4M1165.8 262.8h2.4M1170 264.2h2.4M1174.1 265.2h2.4M1178.3 266.2h2.4M1182.5 267.4h2.4M1186.7 268.6h2.4M1190.8 269.9h2.4M1195 271.1h2.4M1199.2 272.8h2.4M1203.4 274.9h2.4M1207.5 276.6h2.4M1211.7 276.6h2.4M1215.9 276.6h2.4M1220 276.6h2.4M1224.2 277.9h2.4M1228.4 282.8h2.4M1232.6 287.7h2.4M1236.7 292.9h2.4M1240.9 295.8h2.4M1245.1 295.1h2.4M1249.3 294.5h2.4M1253.4 294.5h2.4M1257.6 294.5h2.4M1261.8 295.5h2.4M1266 297h2.4"/>
<polyline fill="none" stroke="#008000" stroke-width="6" stroke-linejoin="round" points="123.6,348.9 127.8,361.5 131.9,365.6 136.1,354.1 140.3,339.4 144.5,321.4 148.6,304 152.8,299.8 157,296.3 161.2,293.6 165.3,290.8 169.5,288 173.7,285.2 177.9,285.6 182,286.7 186.2,287.7 190.4,288.6 194.6,289.4 198.7,290.3 202.9,291.1 207.1,291.8 211.2,292.5 215.4,286.1 219.6,272.5 223.8,218.7 227.9,211.7 232.1,204.8 236.3,196.7 240.5,190.3 244.6,189.3 248.8,188.2 253,187.6 257.2,189 261.3,190.4 265.5,194.1 269.7,198.3 273.8,201.4 278,203.5 282.2,205.6 286.4,206.8 290.5,206.8 294.7,206.8 298.9,206.8 303.1,206.6 307.2,206.2 311.4,205.8 315.6,205.4 319.8,205.7 323.9,206.6 328.1,207.4 332.3,208.2 336.5,209 340.6,209.7 344.8,190.5 349,164.3 353.1,157.5 357.3,157.6 361.5,161.2 365.7,164.9 369.8,168.1 374,169.1 378.2,170.2 382.4,170.5 386.5,160.1 390.7,149.3 394.9,143.6 399.1,148.6 403.2,153.3 407.4,157.5 411.6,161.7 415.8,166.1 419.9,171.1 424.1,176.1 428.3,181.1 432.4,186.4 436.6,192.3 440.8,198.1 445,204 449.1,210.2 453.3,216.9 457.5,223.6 461.7,230.2 465.8,235.4 470,239.6 474.2,243.7 478.4,247.9 482.5,253.3 486.7,259.1 490.9,265 495,270.8 499.2,273.4 503.4,275.3 507.6,276.2 511.7,274.8 515.9,273.4 520.1,275.4 524.3,278.9 528.4,284.1 532.6,290.2 536.8,294.9 541,296.3 545.1,297.7 549.3,301.9 553.5,306 557.7,310.2 561.8,314.4 566,318.5 570.2,323.5 574.3,329 578.5,334 582.7,336.8 586.9,339.6 591,342.4 595.2,315.4 599.4,297 603.6,298.7 607.7,305.8 611.9,313.1 616.1,320.4 620.3,327.4 624.4,331.5 628.6,335.7 632.8,339.9 636.9,343 641.1,346.2 645.3,349.3 649.5,352.1 653.6,354.9 657.8,351.6 662,243.7 666.2,237 670.3,243.9 674.5,253.5 678.7,262.8 682.9,270.1 687,277.4 691.2,284.7 695.4,293 699.6,301.4 703.7,309.7 707.9,316.2 712.1,322.5 716.2,328.8 720.4,332.6 724.6,335.7 728.8,338.9 732.9,337.2 737.1,307.2 741.3,264.3 745.5,201.7 749.6,164.8 753.8,161.5 758,160.2 762.2,161.3 766.3,158.6 770.5,156.2 774.7,155.2 778.9,158.1 783,167.4 787.2,178.1 791.4,186.4 795.5,195 799.7,206.2 803.9,217.3 808.1,240.8 812.2,263.4 816.4,263.7 820.6,256.4 824.8,261.1 828.9,267.1 833.1,272.7 837.3,278.2 841.5,285.2 845.6,292.1 849.8,286.2 854,191.2 858.1,166.1 862.3,169.4 866.5,174.4 870.7,182.7 874.8,191.1 879,201.3 883.2,212.4 887.4,223.1 891.5,232.8 895.7,242.5 899.9,237 904.1,231.6 908.2,226.7 912.4,221.8 916.6,224.3 920.8,228.4 924.9,233.9 929.1,239.5 933.3,243.6 937.4,247.8 941.6,252 945.8,257.1 950,267.5 954.1,275.1 958.3,280.6 962.5,285.8 966.7,290 970.8,294.2 975,299.6 979.2,305.2 983.4,308.7 987.5,310.7 991.7,310 995.9,309.3 1000.1,309.6 1004.2,310.3 1008.4,311.1 1012.6,312.1 1016.7,313.2 1020.9,314.2 1025.1,315.3 1029.3,316.3 1033.4,317.5 1037.6,319.6 1041.8,321.7 1046,323.8 1050.1,325.9 1054.3,327.9 1058.5,329.3 1062.7,324.3 1066.8,285.4 1071,183.1 1075.2,172.3 1079.3,175.5 1083.5,179.7 1087.7,182.4 1091.9,184.4 1096,186.5 1100.2,187.7 1104.4,188.2 1108.6,188.7 1112.7,189.8 1116.9,191.3 1121.1,192.9 1125.3,194.3 1129.4,195.3 1133.6,196.3 1137.8,197.7 1142,199.7 1146.1,201.8 1150.3,203.9 1154.5,205.5 1158.6,207.2 1162.8,208.9 1167,210.2 1171.2,210.6 1175.3,211 1179.5,211.5 1183.7,212 1187.9,212.9 1192,213.7 1196.2,214.5 1200.4,217.5 1204.6,222.7 1208.7,221.1 1212.9,219.6 1217.1,219.1 1221.2,218.6 1225.4,217.7 1229.6,215.6 1233.8,220.2 1237.9,227.9 1242.1,238.4 1246.3,237.5 1250.5,229.5 1254.6,228.8 1258.8,228.1 1263,232.9 1267.2,245.2"/>
<path fill="none" stroke="#c8c8c8" stroke-width="2.4" d="M123.6 329.2V368.5M127.8 341.8V381.1M131.9 346V385.3M136.1 334.5V373.8M140.3 319.8V359.1M144.5 301.7V341M148.6 284.4V323.6M152.8 280.2V319.4M157 276.7V316M161.2 274V313.2M165.3 271.2V310.4M169.5 268.4V307.6M173.7 265.6V304.8M177.9 266V305.2M182 267.1V306.2M186.2 268.1V307.3M190.4 269V308.2M194.6 269.9V309M198.7 270.7V309.8M202.9 271.6V310.6M207.1 272.3V311.3M211.2 273V312M215.4 266.6V305.6M219.6 253V292M223.8 199.2V238.2M227.9 192.2V231.2M232.1 185.3V224.3M236.3 177.2V216.1M240.5 170.8V209.8M244.6 169.8V208.8M248.8 168.8V207.7M253 168.1V207.1M257.2 169.5V208.4M261.3 170.9V209.8M265.5 174.7V213.5M269.7 178.8V217.7M273.8 182V220.8M278 184.1V222.9M282.2 186.2V225M286.4 187.4V226.3M290.5 187.4V226.2M294.7 187.5V226.2M298.9 187.5V226.2M303.1 187.3V226M307.2 186.8V225.6M311.4 186.4V225.2M315.6 186V224.7M319.8 186.4V225.1M323.9 187.2V225.9M328.1 188.1V226.7M332.3 188.9V227.6M336.5 189.6V228.3M340.6 190.3V229M344.8 171.2V209.8M349 145V183.6M353.1 138.2V176.8M357.3 138.3V176.9M361.5 141.9V180.5M365.7 145.6V184.1M369.8 148.8V187.4M374 149.8V188.4M378.2 150.9V189.4M382.4 151.3V189.8M386.5 140.8V179.4M390.7 130.1V168.6M394.9 124.4V162.9M399.1 129.4V167.9M403.2 134.1V172.5M407.4 138.3V176.7M411.6 142.4V180.9M415.8 146.9V185.3M419.9 151.9V190.3M424.1 156.9V195.3M428.3 161.9V200.3M432.4 167.2V205.6M436.6 173.1V211.4M440.8 178.9V217.3M445 184.8V223.1M449.1 191.1V229.4M453.3 197.7V236M457.5 204.4V242.7M461.7 211.1V249.4M465.8 216.3V254.5M470 220.4V258.7M474.2 224.6V262.8M478.4 228.8V267M482.5 234.2V272.4M486.7 240V278.2M490.9 245.9V284.1M495 251.7V289.9M499.2 254.3V292.5M503.4 256.2V294.4M507.6 257.1V295.2M511.7 255.7V293.8M515.9 254.4V292.5M520.1 256.4V294.5M524.3 259.9V297.9M528.4 265.1V303.1M532.6 271.2V309.3M536.8 275.9V313.9M541 277.3V315.3M545.1 278.7V316.7M549.3 282.9V320.9M553.5 287V325M557.7 291.2V329.2M561.8 295.4V333.4M566 299.6V337.5M570.2 304.5V342.4M574.3 310.1V348M578.5 315.1V353M582.7 317.9V355.7M586.9 320.6V358.5M591 323.4V361.3M595.2 296.5V334.4M599.4 278V315.9M603.6 279.8V317.7M607.7 286.9V324.7M611.9 294.2V332M616.1 301.5V339.3M620.3 308.5V346.3M624.4 312.7V350.4M628.6 316.8V354.6M632.8 321V358.8M636.9 324.2V361.9M641.1 327.3V365M645.3 330.4V368.1M649.5 333.3V371M653.6 336.1V373.7M657.8 332.8V370.4M662 224.9V262.5M666.2 218.2V255.8M670.3 225.1V262.7M674.5 234.7V272.3M678.7 244V281.6M682.9 251.3V288.9M687 258.6V296.2M691.2 265.9V303.5M695.4 274.3V311.8M699.6 282.6V320.1M703.7 291V328.5M707.9 297.5V335M712.1 303.7V341.2M716.2 310V347.5M720.4 313.9V351.3M724.6 317V354.5M728.8 320.1V357.6M732.9 318.5V355.9M737.1 288.5V325.9M741.3 245.6V283M745.5 183V220.3M749.6 146.1V183.5M753.8 142.9V180.2M758 141.6V178.9M762.2 142.6V180M766.3 140V177.3M770.5 137.5V174.8M774.7 136.5V173.8M778.9 139.5V176.8M783 148.7V186M787.2 159.4V196.7M791.4 167.8V205M795.5 176.4V213.7M799.7 187.6V224.8M803.9 198.7V235.9M808.1 222.2V259.4M812.2 244.8V282M816.4 245.1V282.3M820.6 237.8V274.9M824.8 242.5V279.6M828.9 248.5V285.7M833.1 254.1V291.2M837.3 259.7V296.8M841.5 266.6V303.7M845.6 273.6V310.7M849.8 267.6V304.7M854 172.6V209.7M858.1 147.6V184.6M862.3 150.9V187.9M866.5 155.9V192.9M870.7 164.2V201.2M874.8 172.6V209.6M879 182.8V219.7M883.2 193.9V230.9M887.4 204.6V241.5M891.5 214.3V251.3M895.7 224.1V261M899.9 218.5V255.4M904.1 213.1V250M908.2 208.3V245.1M912.4 203.4V240.3M916.6 205.9V242.8M920.8 210V246.8M924.9 215.5V252.4M929.1 221.1V257.9M933.3 225.2V262M937.4 229.4V266.2M941.6 233.6V270.4M945.8 238.7V275.5M950 249.1V285.9M954.1 256.7V293.4M958.3 262.3V299M962.5 267.5V304.2M966.7 271.7V308.3M970.8 275.8V312.5M975 281.3V318M979.2 286.9V323.5M983.4 290.4V327M987.5 292.4V329M991.7 291.7V328.3M995.9 291V327.6M1000.1 291.3V327.9M1004.2 292V328.6M1008.4 292.8V329.4M1012.6 293.9V330.4M1016.7 294.9V331.5M1020.9 296V332.5M1025.1 297V333.5M1029.3 298.1V334.6M1033.4 299.3V335.8M1037.6 301.4V337.8M1041.8 303.5V339.9M1046 305.6V342M1050.1 307.6V344.1M1054.3 309.7V346.2M1058.5 311.1V347.5M1062.7 306.1V342.5M1066.8 267.2V303.6M1071 164.9V201.2M1075.2 154.2V190.5M1079.3 157.3V193.7M1083.5 161.5V197.8M1087.7 164.2V200.5M1091.9 166.3V202.6M1096 168.4V204.7M1100.2 169.5V205.8M1104.4 170.1V206.3M1108.6 170.6V206.9M1112.7 171.6V207.9M1116.9 173.2V209.4M1121.1 174.8V211M1125.3 176.2V212.4M1129.4 177.2V213.4M1133.6 178.3V214.4M1137.8 179.6V215.7M1142 181.7V217.8M1146.1 183.8V219.9M1150.3 185.8V221.9M1154.5 187.5V223.6M1158.6 189.1V225.2M1162.8 190.8V226.9M1167 192.2V228.2M1171.2 192.6V228.6M1175.3 193V229.1M1179.5 193.4V229.5M1183.7 194V230M1187.9 194.9V230.9M1192 195.7V231.7M1196.2 196.5V232.5M1200.4 199.5V235.5M1204.6 204.7V240.7M1208.7 203.2V239.1M1212.9 201.7V237.6M1217.1 201.2V237.1M1221.2 200.6V236.5M1225.4 199.7V235.6M1229.6 197.6V233.5M1233.8 202.2V238.1M1237.9 210V245.9M1242.1 220.5V256.3M1246.3 219.6V255.5M1250.5 211.6V247.4M1254.6 210.9V246.7M1258.8 210.3V246M1263 215V250.8M1267.2 227.3V263"/>
<polyline fill="none" stroke="#000" stroke-width="1.4" stroke-linejoin="round" points="123.6,348.9 127.8,361.5 131.9,365.6 136.1,354.1 140.3,339.4 144.5,321.4 148.6,304 152.8,299.8 157,296.3 161.2,293.6 165.3,290.8 169.5,288 173.7,285.2 177.9,285.6 182,286.7 186.2,287.7 190.4,288.6 194.6,289.4 198.7,290.3 202.9,291.1 207.1,291.8 211.2,292.5 215.4,286.1 219.6,272.5 223.8,218.7 227.9,211.7 232.1,204.8 236.3,196.7 240.5,190.3 244.6,189.3 248.8,188.2 253,187.6 257.2,189 261.3,190.4 265.5,194.1 269.7,198.3 273.8,201.4 278,203.5 282.2,205.6 286.4,206.8 290.5,206.8 294.7,206.8 298.9,206.8 303.1,206.6 307.2,206.2 311.4,205.8 315.6,205.4 319.8,205.7 323.9,206.6 328.1,207.4 332.3,208.2 336.5,209 340.6,209.7 344.8,190.5 349,164.3 353.1,157.5 357.3,157.6 361.5,161.2 365.7,164.9 369.8,168.1 374,169.1 378.2,170.2 382.4,170.5 386.5,160.1 390.7,149.3 394.9,143.6 399.1,148.6 403.2,153.3 407.4,157.5 411.6,161.7 415.8,166.1 419.9,171.1 424.1,176.1 428.3,181.1 432.4,186.4 436.6,192.3 440.8,198.1 445,204 449.1,210.2 453.3,216.9 457.5,223.6 461.7,230.2 465.8,235.4 470,239.6 474.2,243.7 478.4,247.9 482.5,253.3 486.7,259.1 490.9,265 495,270.8 499.2,273.4 503.4,275.3 507.6,276.2 511.7,274.8 515.9,273.4 520.1,275.4 524.3,278.9 528.4,284.1 532.6,290.2 536.8,294.9 541,296.3 545.1,297.7 549.3,301.9 553.5,306 557.7,310.2 561.8,314.4 566,318.5 570.2,323.5 574.3,329 578.5,334 582.7,336.8 586.9,339.6 591,342.4 595.2,315.4 599.4,297 603.6,298.7 607.7,305.8 611.9,313.1 616.1,320.4 620.3,327.4 624.4,331.5 628.6,335.7 632.8,339.9 636.9,343 641.1,346.2 645.3,349.3 649.5,352.1 653.6,354.9 657.8,351.6 662,243.7 666.2,237 670.3,243.9 674.5,253.5 678.7,262.8 682.9,270.1 687,277.4 691.2,284.7 695.4,293 699.6,301.4 703.7,309.7 707.9,316.2 712.1,322.5 716.2,328.8 720.4,332.6 724.6,335.7 728.8,338.9 732.9,337.2 737.1,307.2 741.3,264.3 745.5,201.7 749.6,164.8 753.8,161.5 758,160.2 762.2,161.3 766.3,158.6 770.5,156.2 774.7,155.2 778.9,158.1 783,167.4 787.2,178.1 791.4,186.4 795.5,195 799.7,206.2 803.9,217.3 808.1,240.8 812.2,263.4 816.4,263.7 820.6,256.4 824.8,261.1 828.9,267.1 833.1,272.7 837.3,278.2 841.5,285.2 845.6,292.1 849.8,286.2 854,191.2 858.1,166.1 862.3,169.4 866.5,174.4 870.7,182.7 874.8,191.1 879,201.3 883.2,212.4 887.4,223.1 891.5,232.8 895.7,242.5 899.9,237 904.1,231.6 908.2,226.7 912.4,221.8 916.6,224.3 920.8,228.4 924.9,233.9 929.1,239.5 933.3,243.6 937.4,247.8 941.6,252 945.8,257.1 950,267.5 954.1,275.1 958.3,280.6 962.5,285.8 966.7,290 970.8,294.2 975,299.6 979.2,305.2 983.4,308.7 987.5,310.7 991.7,310 995.9,309.3 1000.1,309.6 1004.2,310.3 1008.4,311.1 1012.6,312.1 1016.7,313.2 1020.9,314.2 1025.1,315.3 1029.3,316.3 1033.4,317.5 1037.6,319.6 1041.8,321.7 1046,323.8 1050.1,325.9 1054.3,327.9 1058.5,329.3 1062.7,324.3 1066.8,285.4 1071,183.1 1075.2,172.3 1079.3,175.5 1083.5,179.7 1087.7,182.4 1091.9,184.4 1096,186.5 1100.2,187.7 1104.4,188.2 1108.6,188.7 1112.7,189.8 1116.9,191.3 1121.1,192.9 1125.3,194.3 1129.4,195.3 1133.6,196.3 1137.8,197.7 1142,199.7 1146.1,201.8 1150.3,203.9 1154.5,205.5 1158.6,207.2 1162.8,208.9 1167,210.2 1171.2,210.6 1175.3,211 1179.5,211.5 1183.7,212 1187.9,212.9 1192,213.7 1196.2,214.5 1200.4,217.5 1204.6,222.7 1208.7,221.1 1212.9,219.6 1217.1,219.1 1221.2,218.6 1225.4,217.7 1229.6,215.6 1233.8,220.2 1237.9,227.9 1242.1,238.4 1246.3,237.5 1250.5,229.5 1254.6,228.8 1258.8,228.1 1263,232.9 1267.2,245.2"/><path fill="none" stroke="#000" stroke-width="2.4" d="M122.4 348.9h2.4M126.6 361.5h2.4M130.7 365.6h2.4M134.9 354.1h2.4M139.1 339.4h2.4M143.3 321.4h2.4M147.4 304h2.4M151.6 299.8h2.4M155.8 296.3h2.4M160 293.6h2.4M164.1 290.8h2.4M168.3 288h2.4M172.5 285.2h2.4M176.7 285.6h2.4M180.8 286.7h2.4M185 287.7h2.4M189.2 288.6h2.4M193.4 289.4h2.4M197.5 290.3h2.4M201.7 291.1h2.4M205.9 291.8h2.4M210 292.5h2.4M214.2 286.1h2.4M218.4 272.5h2.4M222.6 218.7h2.4M226.7 211.7h2.4M230.9 204.8h2.4M235.1 196.7h2.4M239.3 190.3h2.4M243.4 189.3h2.4M247.6 188.2h2.4M251.8 187.6h2.4M256 189h2.4M260.1 190.4h2.4M264.3 194.1h2.4M268.5 198.3h2.4M272.6 201.4h2.4M276.8 203.5h2.4M281 205.6h2.4M285.2 206.8h2.4M289.3 206.8h2.4M293.5 206.8h2.4M297.7 206.8h2.4M301.9 206.6h2.4M306 206.2h2.4M310.2 205.8h2.4M314.4 205.4h2.4M318.6 205.7h2.4M322.7 206.6h2.4M326.9 207.4h2.4M331.1 208.2h2.4M335.3 209h2.4M339.4 209.7h2.4M343.6 190.5h2.4M347.8 164.3h2.4M351.9 157.5h2.4M356.1 157.6h2.4M360.3 161.2h2.4M364.5 164.9h2.4M368.6 168.1h2.4M372.8 169.1h2.4M377 170.2h2.4M381.2 170.5h2.4M385.3 160.1h2.4M389.5 149.3h2.4M393.7 143.6h2.4M397.9 148.6h2.4M402 153.3h2.4M406.2 157.5h2.4M410.4 161.7h2.4M414.6 166.1h2.4M418.7 171.1h2.4M422.9 176.1h2.4M427.1 181.1h2.4M431.2 186.4h2.4M435.4 192.3h2.4M439.6 198.1h2.4M443.8 204h2.4M447.9 210.2h2.4M452.1 216.9h2.4M456.3 223.6h2.4M460.5 230.2h2.4M464.6 235.4h2.4M468.8 239.6h2.4M473 243.7h2.4M477.2 247.9h2.4M481.3 253.3h2.4M485.5 259.1h2.4M489.7 265h2.4M493.8 270.8h2.4M498 273.4h2.4M502.2 275.3h2.4M506.4 276.2h2.4M510.5 274.8h2.4M514.7 273.4h2.4M518.9 275.4h2.4M523.1 278.9h2.4M527.2 284.1h2.4M531.4 290.2h2.4M535.6 294.9h2.4M539.8 296.3h2.4M543.9 297.7h2.4M548.1 301.9h2.4M552.3 306h2.4M556.5 310.2h2.4M560.6 314.4h2.4M564.8 318.5h2.4M569 323.5h2.4M573.1 329h2.4M577.3 334h2.4M581.5 336.8h2.4M585.7 339.6h2.4M589.8 342.4h2.4M594 315.4h2.4M598.2 297h2.4M602.4 298.7h2.4M606.5 305.8h2.4M610.7 313.1h2.4M614.9 320.4h2.4M619.1 327.4h2.4M623.2 331.5h2.4M627.4 335.7h2.4M631.6 339.9h2.4M635.7 343h2.4M639.9 346.2h2.4M644.1 349.3h2.4M648.3 352.1h2.4M652.4 354.9h2.4M656.6 351.6h2.4M660.8 243.7h2.4M665 237h2.4M669.1 243.9h2.4M673.3 253.5h2.4M677.5 262.8h2.4M681.7 270.1h2.4M685.8 277.4h2.4M690 284.7h2.4M694.2 293h2.4M698.4 301.4h2.4M702.5 309.7h2.4M706.7 316.2h2.4M710.9 322.5h2.4M715 328.8h2.4M719.2 332.6h2.4M723.4 335.7h2.4M727.6 338.9h2.4M731.7 337.2h2.4M735.9 307.2h2.4M740.1 264.3h2.4M744.3 201.7h2.4M748.4 164.8h2.4M752.6 161.5h2.4M756.8 160.2h2.4M761 161.3h2.4M765.1 158.6h2.4M769.3 156.2h2.4M773.5 155.2h2.4M777.7 158.1h2.4M781.8 167.4h2.4M786 178.1h2.4M790.2 186.4h2.4M794.3 195h2.4M798.5 206.2h2.4M802.7 217.3h2.4M806.9 240.8h2.4M811 263.4h2.4M815.2 263.7h2.4M819.4 256.4h2.4M823.6 261.1h2.4M827.7 267.1h2.4M831.9 272.7h2.4M836.1 278.2h2.4M840.3 285.2h2.4M844.4 292.1h2.4M848.6 286.2h2.4M852.8 191.2h2.4M856.9 166.1h2.4M861.1 169.4h2.4M865.3 174.4h2.4M869.5 182.7h2.4M873.6 191.1h2.4M877.8 201.3h2.4M882 212.4h2.4M886.2 223.1h2.4M890.3 232.8h2.4M894.5 242.5h2.4M898.7 237h2.4M902.9 231.6h2.4M907 226.7h2.4M911.2 221.8h2.4M915.4 224.3h2.4M919.6 228.4h2.4M923.7 233.9h2.4M927.9 239.5h2.4M932.1 243.6h2.4M936.2 247.8h2.4M940.4 252h2.4M944.6 257.1h2.4M948.8 267.5h2.4M952.9 275.1h2.4M957.1 280.6h2.4M961.3 285.8h2.4M965.5 290h2.4M969.6 294.2h2.4M973.8 299.6h2.4M978 305.2h2.4M982.2 308.7h2.4M986.3 310.7h2.4M990.5 310h2.4M994.7 309.3h2.4M998.9 309.6h2.4M1003 310.3h2.4M1007.2 311.1h2.4M1011.4 312.1h2.4M1015.5 313.2h2.4M1019.7 314.2h2.4M1023.9 315.3h2.4M1028.1 316.3h2.4M1032.2 317.5h2.4M1036.4 319.6h2.4M1040.6 321.7h2.4M1044.8 323.8h2.4M1048.9 325.9h2.4M1053.1 327.9h2.4M1057.3 329.3h2.4M1061.5 324.3h2.4M1065.6 285.4h2.4M1069.8 183.1h2.4M1074 172.3h2.4M1078.1 175.5h2.4M1082.3 179.7h2.4M1086.5 182.4h2.4M1090.7 184.4h2.4M1094.8 186.5h2.4M1099 187.7h2.4M1103.2 188.2h2.4M1107.4 188.7h2.4M1111.5 189.8h2.4M1115.7 191.3h2.4M1119.9 192.9h2.4M1124.1 194.3h2.4M1128.2 195.3h2.4M1132.4 196.3h2.4M1136.6 197.7h2.4M1140.8 199.7h2.4M1144.9 201.8h2.4M1149.1 203.9h2.4M1153.3 205.5h2.4M1157.4 207.2h2.4M1161.6 208.9h2.4M1165.8 210.2h2.4M1170 210.6h2.4M1174.1 211h2.4M1178.3 211.5h2.4M1182.5 212h2.4M1186.7 212.9h2.4M1190.8 213.7h2.4M1195 214.5h2.4M1199.2 217.5h2.4M1203.4 222.7h2.4M1207.5 221.1h2.4M1211.7 219.6h2.4M1215.9 219.1h2.4M1220 218.6h2.4M1224.2 217.7h2.4M1228.4 215.6h2.4M1232.6 220.2h2.4M1236.7 227.9h2.4M1240.9 238.4h2.4M1245.1 237.5h2.4M1249.3 229.5h2.4M1253.4 228.8h2.4M1257.6 228.1h2.4M1261.8 232.9h2.4M1266 245.2h2.4"/>
<polyline fill="none" stroke="#0000ff" stroke-width="6" stroke-linejoin="round" points="123.6,325.3 127.8,340.8 131.9,364.7 136.1,356 140.3,334.6 144.5,312.3 148.6,290.8 152.8,282.5 157,284 161.2,278.7 165.3,271.2 169.5,268.1 173.7,267.5 177.9,268.7 182,272 186.2,274.9 190.4,274.1 194.6,273.5 198.7,274.4 202.9,269.5 207.1,255.5 211.2,276.8 215.4,275.5 219.6,236.6 223.8,187 227.9,184.9 232.1,182.9 236.3,216.9 240.5,221.9 244.6,226.1 248.8,223.7 253,221.3 257.2,215 261.3,202.4 265.5,204.5 269.7,209.5 273.8,214.5 278,219.6 282.2,227.7 286.4,226.3 290.5,213.6 294.7,214.8 298.9,216 303.1,216.4 307.2,216 311.4,215.5 315.6,215.1 319.8,215.7 323.9,217 328.1,218.2 332.3,219.5 336.5,221.8 340.6,224.6 344.8,211.6 349,178.3 353.1,162.6 357.3,166.2 361.5,171.8 365.7,177.3 369.8,181.6 374,185.8 378.2,189.9 382.4,192.4 386.5,189.2 390.7,171.8 394.9,149.6 399.1,156.3 403.2,163 407.4,167.2 411.6,171.4 415.8,176.2 419.9,182.4 424.1,188.7 428.3,195.3 432.4,203.6 436.6,212 440.8,220.6 445,233.1 449.1,245.6 453.3,258.1 457.5,266.7 461.7,275 465.8,283.4 470,289.1 474.2,294.3 478.4,299.6 482.5,304.6 486.7,309.6 490.9,314.6 495,319.6 499.2,320.4 503.4,320.4 507.6,320.4 511.7,320.1 515.9,319.4 520.1,319.3 524.3,321.4 528.4,328.2 532.6,336.7 536.8,336.7 541,337.8 545.1,339.9 549.3,342 553.5,344.1 557.7,346.2 561.8,348.1 566,348.6 570.2,349.1 574.3,349.7 578.5,351.7 582.7,353.8 586.9,355.9 591,358.6 595.2,327.7 599.4,305.9 603.6,308 607.7,318 611.9,326.7 616.1,333.7 620.3,340.3 624.4,344.5 628.6,348.7 632.8,352.9 636.9,356 641.1,359.1 645.3,362.3 649.5,363.9 653.6,365.3 657.8,365.9 662,247.1 666.2,243 670.3,248.1 674.5,254.7 678.7,264.1 682.9,273.9 687,284 691.2,294.4 695.4,304.8 699.6,314.4 703.7,322.7 707.9,331.1 712.1,338.5 716.2,344.1 720.4,349.6 724.6,352.4 728.8,355.2 732.9,345.1 737.1,310 741.3,260.5 745.5,186.4 749.6,169.5 753.8,174.7 758,181.8 762.2,191.1 766.3,192.9 770.5,193.6 774.7,193.3 778.9,192.2 783,201.6 787.2,212.4 791.4,224.9 795.5,237.5 799.7,251.5 803.9,265.4 808.1,289.5 812.2,311.2 816.4,313.3 820.6,311.2 824.8,313.2 828.9,316 833.1,318.7 837.3,321.5 841.5,324.6 845.6,328.8 849.8,319.1 854,250.7 858.1,205.6 862.3,208.3 866.5,213.3 870.7,221.7 874.8,230 879,241.1 883.2,253.7 887.4,267.1 891.5,282.4 895.7,297.7 899.9,294 904.1,290.2 908.2,286 912.4,281.8 916.6,285.4 920.8,289.5 924.9,294.5 929.1,300.1 933.3,305.7 937.4,311.2 941.6,316.8 945.8,324.9 950,331 954.1,333 958.3,335.1 962.5,337.2 966.7,339.3 970.8,341.4 975,343.5 979.2,345.6 983.4,347.7 987.5,349.6 991.7,348.6 995.9,347.5 1000.1,346.5 1004.2,346.9 1008.4,347.4 1012.6,347.9 1016.7,348.5 1020.9,349 1025.1,349.5 1029.3,350.4 1033.4,351.4 1037.6,352.5 1041.8,353.5 1046,354.6 1050.1,355.6 1054.3,356.7 1058.5,357.9 1062.7,359.1 1066.8,279.9 1071,212.9 1075.2,194.5 1079.3,196.3 1083.5,199.4 1087.7,204.8 1091.9,210.2 1096,210.7 1100.2,211.2 1104.4,211.7 1108.6,212.3 1112.7,212.8 1116.9,213.3 1121.1,216.2 1125.3,219.4 1129.4,222.5 1133.6,223.9 1137.8,225 1142,226 1146.1,227.8 1150.3,229.9 1154.5,232 1158.6,234.1 1162.8,236.1 1167,238.2 1171.2,239.8 1175.3,240.9 1179.5,241.9 1183.7,242.9 1187.9,244 1192,245 1196.2,246.9 1200.4,251.1 1204.6,251.9 1208.7,251.4 1212.9,250.9 1217.1,251.1 1221.2,251.8 1225.4,253.8 1229.6,259.3 1233.8,264.9 1237.9,270.1 1242.1,273.1 1246.3,272.4 1250.5,271.6 1254.6,268.9 1258.8,266.1 1263,266.3 1267.2,267.8"/>
<path fill="none" stroke="#c8c8c8" stroke-width="2.4" d="M123.6 303.9V346.8M127.8 318.5V363.2M131.9 341.4V387.9M136.1 331.9V380.1M140.3 309.6V359.6M144.5 286.4V338.3M148.6 264V317.6M152.8 255.6V309.3M157 257.1V310.8M161.2 251.9V305.6M165.3 244.4V298.1M169.5 241.3V294.9M173.7 240.7V294.3M177.9 241.9V295.5M182 245.2V298.8M186.2 248.1V301.7M190.4 247.3V300.9M194.6 246.7V300.3M198.7 247.5V301.2M202.9 242.7V296.3M207.1 228.7V282.3M211.2 248.2V305.4M215.4 245.1V305.9M219.6 204.4V268.8M223.8 153.1V221M227.9 151V218.9M232.1 148.9V216.8M236.3 182.9V250.8M240.5 187.9V255.8M244.6 195.2V256.9M248.8 196V251.4M253 196.7V245.9M257.2 193.5V236.4M261.3 181V223.9M265.5 183.1V226M269.7 188.1V231M273.8 193.1V236M278 198.1V241M282.2 206.3V249.1M286.4 204.9V247.7M290.5 192.2V235M294.7 193.4V236.2M298.9 194.6V237.4M303.1 195V237.7M307.2 194.6V237.3M311.4 194.2V236.9M315.6 193.8V236.5M319.8 194.4V237.1M323.9 195.6V238.3M328.1 196.9V239.6M332.3 198.2V240.8M336.5 200.5V243.2M340.6 203.3V245.9M344.8 190.3V232.9M349 157.1V199.6M353.1 141.4V183.9M357.3 144.9V187.5M361.5 150.5V193M365.7 156.1V198.6M369.8 160.3V202.8M374 164.5V207M378.2 168.7V211.2M382.4 171.1V213.6M386.5 168V210.4M390.7 150.6V193.1M394.9 128.4V170.8M399.1 135.1V177.5M403.2 141.9V184.2M407.4 146V188.4M411.6 150.2V192.6M415.8 155V197.3M419.9 161.2V203.6M424.1 167.5V209.8M428.3 174.1V216.4M432.4 182.5V224.8M436.6 190.9V233.1M440.8 199.5V241.7M445 212V254.2M449.1 224.5V266.7M453.3 237V279.2M457.5 245.6V287.8M461.7 254V296.1M465.8 262.3V304.5M470 268V310.2M474.2 273.3V315.4M478.4 278.5V320.6M482.5 283.6V325.7M486.7 288.6V330.7M490.9 293.6V335.7M495 298.6V340.7M499.2 299.4V341.5M503.4 299.4V341.5M507.6 299.4V341.5M511.7 299.1V341.1M515.9 298.4V340.4M520.1 298.3V340.2M524.3 300.4V342.3M528.4 307.2V349.2M532.6 315.7V357.6M536.8 315.7V357.6M541 316.9V358.8M545.1 319V360.8M549.3 321.1V362.9M553.5 323.1V365M557.7 325.2V367.1M561.8 327.2V369M566 327.7V369.5M570.2 328.2V370M574.3 328.8V370.5M578.5 330.8V372.6M582.7 332.9V374.7M586.9 335V376.8M591 337.7V379.5M595.2 306.8V348.5M599.4 285.1V326.8M603.6 287.2V328.9M607.7 297.2V338.9M611.9 305.9V347.5M616.1 312.9V354.5M620.3 319.5V361.2M624.4 323.7V365.3M628.6 327.9V369.5M632.8 332.1V373.7M636.9 335.2V376.8M641.1 338.4V379.9M645.3 341.5V383M649.5 343.1V384.6M653.6 344.5V386M657.8 345.1V386.6M662 226.3V267.8M666.2 222.3V263.8M670.3 227.3V268.8M674.5 234V275.5M678.7 243.4V284.8M682.9 253.2V294.5M687 263.3V304.7M691.2 273.7V315.1M695.4 284.2V325.5M699.6 293.7V335M703.7 302V343.4M707.9 310.4V351.7M712.1 317.8V359.1M716.2 323.4V364.7M720.4 329V370.3M724.6 331.8V373M728.8 334.6V375.8M732.9 324.5V365.7M737.1 289.4V330.6M741.3 239.9V281.1M745.5 165.8V207M749.6 148.9V190.1M753.8 154.1V195.3M758 161.2V202.3M762.2 170.6V211.7M766.3 172.3V213.4M770.5 173V214.1M774.7 172.8V213.8M778.9 171.7V212.8M783 181.1V222.1M787.2 191.8V232.9M791.4 204.4V245.4M795.5 217V258M799.7 231V271.9M803.9 244.9V285.8M808.1 269V310M812.2 290.7V331.6M816.4 292.8V333.7M820.6 290.7V331.6M824.8 292.7V333.6M828.9 295.5V336.4M833.1 298.3V339.2M837.3 301.1V341.9M841.5 304.2V345M845.6 308.4V349.2M849.8 298.7V339.5M854 230.3V271.1M858.1 185.2V225.9M862.3 187.9V228.7M866.5 193V233.7M870.7 201.3V242M874.8 209.7V250.4M879 220.8V261.5M883.2 233.3V274M887.4 246.8V287.4M891.5 262.1V302.7M895.7 277.4V318M899.9 273.7V314.3M904.1 269.9V310.5M908.2 265.7V306.3M912.4 261.5V302.1M916.6 265.1V305.6M920.8 269.3V309.8M924.9 274.3V314.8M929.1 279.8V320.4M933.3 285.4V325.9M937.4 291V331.5M941.6 296.5V337M945.8 304.7V345.2M950 310.7V351.2M954.1 312.8V353.3M958.3 314.9V355.3M962.5 317V357.4M966.7 319.1V359.5M970.8 321.2V361.6M975 323.3V363.7M979.2 325.4V365.7M983.4 327.5V367.8M987.5 329.5V369.8M991.7 328.4V368.7M995.9 327.4V367.7M1000.1 326.4V366.6M1004.2 326.8V367M1008.4 327.3V367.5M1012.6 327.8V368.1M1016.7 328.4V368.6M1020.9 328.9V369.1M1025.1 329.4V369.6M1029.3 330.3V370.5M1033.4 331.4V371.5M1037.6 332.4V372.6M1041.8 333.5V373.6M1046 334.5V374.6M1050.1 335.6V375.7M1054.3 336.7V376.8M1058.5 337.9V378M1062.7 339.1V379.1M1066.8 259.9V299.9M1071 192.9V232.9M1075.2 174.5V214.5M1079.3 176.3V216.3M1083.5 179.4V219.4M1087.7 184.8V224.8M1091.9 190.2V230.1M1096 190.7V230.7M1100.2 191.3V231.2M1104.4 191.8V231.7M1108.6 192.3V232.2M1112.7 192.8V232.7M1116.9 193.4V233.2M1121.1 196.3V236.2M1125.3 199.5V239.3M1129.4 202.6V242.4M1133.6 204V243.8M1137.8 205.1V244.9M1142 206.1V245.9M1146.1 207.9V247.7M1150.3 210V249.8M1154.5 212.1V251.8M1158.6 214.2V253.9M1162.8 216.3V256M1167 218.4V258.1M1171.2 220V259.6M1175.3 221V260.7M1179.5 222.1V261.7M1183.7 223.1V262.8M1187.9 224.2V263.8M1192 225.2V264.8M1196.2 227.1V266.7M1200.4 231.3V270.9M1204.6 232.1V271.7M1208.7 231.6V271.2M1212.9 231.1V270.6M1217.1 231.3V270.8M1221.2 232V271.5M1225.4 234V273.5M1229.6 239.6V279.1M1233.8 245.2V284.6M1237.9 250.4V289.9M1242.1 253.4V292.8M1246.3 252.7V292.1M1250.5 251.9V291.3M1254.6 249.2V288.5M1258.8 246.4V285.8M1263 246.7V286M1267.2 248.2V287.5"/>
<polyline fill="none" stroke="#000" stroke-width="1.4" stroke-linejoin="round" points="123.6,325.3 127.8,340.8 131.9,364.7 136.1,356 140.3,334.6 144.5,312.3 148.6,290.8 152.8,282.5 157,284 161.2,278.7 165.3,271.2 169.5,268.1 173.7,267.5 177.9,268.7 182,272 186.2,274.9 190.4,274.1 194.6,273.5 198.7,274.4 202.9,269.5 207.1,255.5 211.2,276.8 215.4,275.5 219.6,236.6 223.8,187 227.9,184.9 232.1,182.9 236.3,216.9 240.5,221.9 244.6,226.1 248.8,223.7 253,221.3 257.2,215 261.3,202.4 265.5,204.5 269.7,209.5 273.8,214.5 278,219.6 282.2,227.7 286.4,226.3 290.5,213.6 294.7,214.8 298.9,216 303.1,216.4 307.2,216 311.4,215.5 315.6,215.1 319.8,215.7 323.9,217 328.1,218.2 332.3,219.5 336.5,221.8 340.6,224.6 344.8,211.6 349,178.3 353.1,162.6 357.3,166.2 361.5,171.8 365.7,177.3 369.8,181.6 374,185.8 378.2,189.9 382.4,192.4 386.5,189.2 390.7,171.8 394.9,149.6 399.1,156.3 403.2,163 407.4,167.2 411.6,171.4 415.8,176.2 419.9,182.4 424.1,188.7 428.3,195.3 432.4,203.6 436.6,212 440.8,220.6 445,233.1 449.1,245.6 453.3,258.1 457.5,266.7 461.7,275 465.8,283.4 470,289.1 474.2,294.3 478.4,299.6 482.5,304.6 486.7,309.6 490.9,314.6 495,319.6 499.2,320.4 503.4,320.4 507.6,320.4 511.7,320.1 515.9,319.4 520.1,319.3 524.3,321.4 528.4,328.2 532.6,336.7 536.8,336.7 541,337.8 545.1,339.9 549.3,342 553.5,344.1 557.7,346.2 561.8,348.1 566,348.6 570.2,349.1 574.3,349.7 578.5,351.7 582.7,353.8 586.9,355.9 591,358.6 595.2,327.7 599.4,305.9 603.6,308 607.7,318 611.9,326.7 616.1,333.7 620.3,340.3 624.4,344.5 628.6,348.7 632.8,352.9 636.9,356 641.1,359.1 645.3,362.3 649.5,363.9 653.6,365.3 657.8,365.9 662,247.1 666.2,243 670.3,248.1 674.5,254.7 678.7,264.1 682.9,273.9 687,284 691.2,294.4 695.4,304.8 699.6,314.4 703.7,322.7 707.9,331.1 712.1,338.5 716.2,344.1 720.4,349.6 724.6,352.4 728.8,355.2 732.9,345.1 737.1,310 741.3,260.5 745.5,186.4 749.6,169.5 753.8,174.7 758,181.8 762.2,191.1 766.3,192.9 770.5,193.6 774.7,193.3 778.9,192.2 783,201.6 787.2,212.4 791.4,224.9 795.5,237.5 799.7,251.5 803.9,265.4 808.1,289.5 812.2,311.2 816.4,313.3 820.6,311.2 824.8,313.2 828.9,316 833.1,318.7 837.3,321.5 841.5,324.6 845.6,328.8 849.8,319.1 854,250.7 858.1,205.6 862.3,208.3 866.5,213.3 870.7,221.7 874.8,230 879,241.1 883.2,253.7 887.4,267.1 891.5,282.4 895.7,297.7 899.9,294 904.1,290.2 908.2,286 912.4,281.8 916.6,285.4 920.8,289.5 924.9,294.5 929.1,300.1 933.3,305.7 937.4,311.2 941.6,316.8 945.8,324.9 950,331 954.1,333 958.3,335.1 962.5,337.2 966.7,339.3 970.8,341.4 975,343.5 979.2,345.6 983.4,347.7 987.5,349.6 991.7,348.6 995.9,347.5 1000.1,346.5 1004.2,346.9 1008.4,347.4 1012.6,347.9 1016.7,348.5 1020.9,349 1025.1,349.5 1029.3,350.4 1033.4,351.4 1037.6,352.5 1041.8,353.5 1046,354.6 1050.1,355.6 1054.3,356.7 1058.5,357.9 1062.7,359.1 1066.8,279.9 1071,212.9 1075.2,194.5 1079.3,196.3 1083.5,199.4 1087.7,204.8 1091.9,210.2 1096,210.7 1100.2,211.2 1104.4,211.7 1108.6,212.3 1112.7,212.8 1116.9,213.3 1121.1,216.2 1125.3,219.4 1129.4,222.5 1133.6,223.9 1137.8,225 1142,226 1146.1,227.8 1150.3,229.9 1154.5,232 1158.6,234.1 1162.8,236.1 1167,238.2 1171.2,239.8 1175.3,240.9 1179.5,241.9 1183.7,242.9 1187.9,244 1192,245 1196.2,246.9 1200.4,251.1 1204.6,251.9 1208.7,251.4 1212.9,250.9 1217.1,251.1 1221.2,251.8 1225.4,253.8 1229.6,259.3 1233.8,264.9 1237.9,270.1 1242.1,273.1 1246.3,272.4 1250.5,271.6 1254.6,268.9 1258.8,266.1 1263,266.3 1267.2,267.8"/><path fill="none" stroke="#000" stroke-width="2.4" d="M122.4 325.3h2.4M126.6 340.8h2.4M130.7 364.7h2.4M134.9 356h2.4M139.1 334.6h2.4M143.3 312.3h2.4M147.4 290.8h2.4M151.6 282.5h2.4M155.8 284h2.4M160 278.7h2.4M164.1 271.2h2.4M168.3 268.1h2.4M172.5 267.5h2.4M176.7 268.7h2.4M180.8 272h2.4M185 274.9h2.4M189.2 274.1h2.4M193.4 273.5h2.4M197.5 274.4h2.4M201.7 269.5h2.4M205.9 255.5h2.4M210 276.8h2.4M214.2 275.5h2.4M218.4 236.6h2.4M222.6 187h2.4M226.7 184.9h2.4M230.9 182.9h2.4M235.1 216.9h2.4M239.3 221.9h2.4M243.4 226.1h2.4M247.6 223.7h2.4M251.8 221.3h2.4M256 215h2.4M260.1 202.4h2.4M264.3 204.5h2.4M268.5 209.5h2.4M272.6 214.5h2.4M276.8 219.6h2.4M281 227.7h2.4M285.2 226.3h2.4M289.3 213.6h2.4M293.5 214.8h2.4M297.7 216h2.4M301.9 216.4h2.4M306 216h2.4M310.2 215.5h2.4M314.4 215.1h2.4M318.6 215.7h2.4M322.7 217h2.4M326.9 218.2h2.4M331.1 219.5h2.4M335.3 221.8h2.4M339.4 224.6h2.4M343.6 211.6h2.4M347.8 178.3h2.4M351.9 162.6h2.4M356.1 166.2h2.4M360.3 171.8h2.4M364.5 177.3h2.4M368.6 181.6h2.4M372.8 185.8h2.4M377 189.9h2.4M381.2 192.4h2.4M385.3 189.2h2.4M389.5 171.8h2.4M393.7 149.6h2.4M397.9 156.3h2.4M402 163h2.4M406.2 167.2h2.4M410.4 171.4h2.4M414.6 176.2h2.4M418.7 182.4h2.4M422.9 188.7h2.4M427.1 195.3h2.4M431.2 203.6h2.4M435.4 212h2.4M439.6 220.6h2.4M443.8 233.1h2.4M447.9 245.6h2.4M452.1 258.1h2.4M456.3 266.7h2.4M460.5 275h2.4M464.6 283.4h2.4M468.8 289.1h2.4M473 294.3h2.4M477.2 299.6h2.4M481.3 304.6h2.4M485.5 309.6h2.4M489.7 314.6h2.4M493.8 319.6h2.4M498 320.4h2.4M502.2 320.4h2.4M506.4 320.4h2.4M510.5 320.1h2.4M514.7 319.4h2.4M518.9 319.3h2.4M523.1 321.4h2.4M527.2 328.2h2.4M531.4 336.7h2.4M535.6 336.7h2.4M539.8 337.8h2.4M543.9 339.9h2.4M548.1 342h2.4M552.3 344.1h2.4M556.5 346.2h2.4M560.6 348.1h2.4M564.8 348.6h2.4M569 349.1h2.4M573.1 349.7h2.4M577.3 351.7h2.4M581.5 353.8h2.4M585.7 355.9h2.4M589.8 358.6h2.4M594 327.7h2.4M598.2 305.9h2.4M602.4 308h2.4M606.5 318h2.4M610.7 326.7h2.4M614.9 333.7h2.4M619.1 340.3h2.4M623.2 344.5h2.4M627.4 348.7h2.4M631.6 352.9h2.4M635.7 356h2.4M639.9 359.1h2.4M644.1 362.3h2.4M648.3 363.9h2.4M652.4 365.3h2.4M656.6 365.9h2.4M660.8 247.1h2.4M665 243h2.4M669.1 248.1h2.4M673.3 254.7h2.4M677.5 264.1h2.4M681.7 273.9h2.4M685.8 284h2.4M690 294.4h2.4M694.2 304.8h2.4M698.4 314.4h2.4M702.5 322.7h2.4M706.7 331.1h2.4M710.9 338.5h2.4M715 344.1h2.4M719.2 349.6h2.4M723.4 352.4h2.4M727.6 355.2h2.4M731.7 345.1h2.4M735.9 310h2.4M740.1 260.5h2.4M744.3 186.4h2.4M748.4 169.5h2.4M752.6 174.7h2.4M756.8 181.8h2.4M761 191.1h2.4M765.1 192.9h2.4M769.3 193.6h2.4M773.5 193.3h2.4M777.7 192.2h2.4M781.8 201.6h2.4M786 212.4h2.4M790.2 224.9h2.4M794.3 237.5h2.4M798.5 251.5h2.4M802.7 265.4h2.4M806.9 289.5h2.4M811 311.2h2.4M815.2 313.3h2.4M819.4 311.2h2.4M823.6 313.2h2.4M827.7 316h2.4M831.9 318.7h2.4M836.1 321.5h2.4M840.3 324.6h2.4M844.4 328.8h2.4M848.6 319.1h2.4M852.8 250.7h2.4M856.9 205.6h2.4M861.1 208.3h2.4M865.3 213.3h2.4M869.5 221.7h2.4M873.6 230h2.4M877.8 241.1h2.4M882 253.7h2.4M886.2 267.1h2.4M890.3 282.4h2.4M894.5 297.7h2.4M898.7 294h2.4M902.9 290.2h2.4M907 286h2.4M911.2 281.8h2.4M915.4 285.4h2.4M919.6 289.5h2.4M923.7 294.5h2.4M927.9 300.1h2.4M932.1 305.7h2.4M936.2 311.2h2.4M940.4 316.8h2.4M944.6 324.9h2.4M948.8 331h2.4M952.9 333h2.4M957.1 335.1h2.4M961.3 337.2h2.4M965.5 339.3h2.4M969.6 341.4h2.4M973.8 343.5h2.4M978 345.6h2.4M982.2 347.7h2.4M986.3 349.6h2.4M990.5 348.6h2.4M994.7 347.5h2.4M998.9 346.5h2.4M1003 346.9h2.4M1007.2 347.4h2.4M1011.4 347.9h2.4M1015.5 348.5h2.4M1019.7 349h2.4M1023.9 349.5h2.4M1028.1 350.4h2.4M1032.2 351.4h2.4M1036.4 352.5h2.4M1040.6 353.5h2.4M1044.8 354.6h2.4M1048.9 355.6h2.4M1053.1 356.7h2.4M1057.3 357.9h2.4M1061.5 359.1h2.4M1065.6 279.9h2.4M1069.8 212.9h2.4M1074 194.5h2.4M1078.1 196.3h2.4M1082.3 199.4h2.4M1086.5 204.8h2.4M1090.7 210.2h2.4M1094.8 210.7h2.4M1099 211.2h2.4M1103.2 211.7h2.4M1107.4 212.3h2.4M1111.5 212.8h2.4M1115.7 213.3h2.4M1119.9 216.2h2.4M1124.1 219.4h2.4M1128.2 222.5h2.4M1132.4 223.9h2.4M1136.6 225h2.4M1140.8 226h2.4M1144.9 227.8h2.4M1149.1 229.9h2.4M1153.3 232h2.4M1157.4 234.1h2.4M1161.6 236.1h2.4M1165.8 238.2h2.4M1170 239.8h2.4M1174.1 240.9h2.4M1178.3 241.9h2.4M1182.5 242.9h2.4M1186.7 244h2.4M1190.8 245h2.4M1195 246.9h2.4M1199.2 251.1h2.4M1203.4 251.9h2.4M1207.5 251.4h2.4M1211.7 250.9h2.4M1215.9 251.1h2.4M1220 251.8h2.4M1224.2 253.8h2.4M1228.4 259.3h2.4M1232.6 264.9h2.4M1236.7 270.1h2.4M1240.9 273.1h2.4M1245.1 272.4h2.4M1249.3 271.6h2.4M1253.4 268.9h2.4M1257.6 266.1h2.4M1261.8 266.3h2.4M1266 267.8h2.4"/>
<line x1="535" y1="25.2" x2="535" y2="447.4" stroke="#505050" stroke-width="2.4" stroke-dasharray="22.6 10.8" stroke-linecap="round"/>
<line x1="945.4" y1="21.3" x2="945.4" y2="460.4" stroke="#505050" stroke-width="2.4" stroke-dasharray="22.6 10.8" stroke-linecap="round"/>
<rect x="98.4" y="16.7" width="1193.8" height="446.9" fill="none" stroke="#000" stroke-width="2.2"/>
<line x1="88.9" y1="463.6" x2="98.4" y2="463.6" stroke="#000" stroke-width="2.2"/>
<text x="76.9" y="472.6" text-anchor="end" font-family='"Liberation Sans", sans-serif' font-size="25">5</text>
<line x1="88.9" y1="374.2" x2="98.4" y2="374.2" stroke="#000" stroke-width="2.2"/>
<text x="76.9" y="383.2" text-anchor="end" font-family='"Liberation Sans", sans-serif' font-size="25">10</text>
<line x1="88.9" y1="284.8" x2="98.4" y2="284.8" stroke="#000" stroke-width="2.2"/>
<text x="76.9" y="293.8" text-anchor="end" font-family='"Liberation Sans", sans-serif' font-size="25">15</text>
<line x1="88.9" y1="195.5" x2="98.4" y2="195.5" stroke="#000" stroke-width="2.2"/>
<text x="76.9" y="204.5" text-anchor="end" font-family='"Liberation Sans", sans-serif' font-size="25">20</text>
<line x1="88.9" y1="106.1" x2="98.4" y2="106.1" stroke="#000" stroke-width="2.2"/>
<text x="76.9" y="115.1" text-anchor="end" font-family='"Liberation Sans", sans-serif' font-size="25">25</text>
<line x1="88.9" y1="16.7" x2="98.4" y2="16.7" stroke="#000" stroke-width="2.2"/>
<text x="76.9" y="25.7" text-anchor="end" font-family='"Liberation Sans", sans-serif' font-size="25">30</text>
<line x1="123.6" y1="463.6" x2="123.6" y2="473.6" stroke="#000" stroke-width="2.2"/>
<text x="123.6" y="509.1" text-anchor="middle" font-family='"Liberation Sans", sans-serif' font-size="25">60</text>
<line x1="207.1" y1="463.6" x2="207.1" y2="473.6" stroke="#000" stroke-width="2.2"/>
<text x="207.1" y="509.1" text-anchor="middle" font-family='"Liberation Sans", sans-serif' font-size="25">80</text>
<line x1="290.5" y1="463.6" x2="290.5" y2="473.6" stroke="#000" stroke-width="2.2"/>
<text x="290.5" y="509.1" text-anchor="middle" font-family='"Liberation Sans", sans-serif' font-size="25">100</text>
<line x1="374" y1="463.6" x2="374" y2="473.6" stroke="#000" stroke-width="2.2"/>
<text x="374" y="509.1" text-anchor="middle" font-family='"Liberation Sans", sans-serif' font-size="25">120</text>
<line x1="457.5" y1="463.6" x2="457.5" y2="473.6" stroke="#000" stroke-width="2.2"/>
<text x="457.5" y="509.1" text-anchor="middle" font-family='"Liberation Sans", sans-serif' font-size="25">140</text>
<line x1="541" y1="463.6" x2="541" y2="473.6" stroke="#000" stroke-width="2.2"/>
<text x="541" y="509.1" text-anchor="middle" font-family='"Liberation Sans", sans-serif' font-size="25">160</text>
<line x1="624.4" y1="463.6" x2="624.4" y2="473.6" stroke="#000" stroke-width="2.2"/>
<text x="624.4" y="509.1" text-anchor="middle" font-family='"Liberation Sans", sans-serif' font-size="25">180</text>
<line x1="707.9" y1="463.6" x2="707.9" y2="473.6" stroke="#000" stroke-width="2.2"/>
<text x="707.9" y="509.1" text-anchor="middle" font-family='"Liberation Sans", sans-serif' font-size="25">200</text>
<line x1="791.4" y1="463.6" x2="791.4" y2="473.6" stroke="#000" stroke-width="2.2"/>
<text x="791.4" y="509.1" text-anchor="middle" font-family='"Liberation Sans", sans-serif' font-size="25">220</text>
<line x1="874.8" y1="463.6" x2="874.8" y2="473.6" stroke="#000" stroke-width="2.2"/>
<text x="874.8" y="509.1" text-anchor="middle" font-family='"Liberation Sans", sans-serif' font-size="25">240</text>
<line x1="958.3" y1="463.6" x2="958.3" y2="473.6" stroke="#000" stroke-width="2.2"/>
<text x="958.3" y="509.1" text-anchor="middle" font-family='"Liberation Sans", sans-serif' font-size="25">260</text>
<line x1="1041.8" y1="463.6" x2="1041.8" y2="473.6" stroke="#000" stroke-width="2.2"/>
<text x="1041.8" y="509.1" text-anchor="middle" font-family='"Liberation Sans", sans-serif' font-size="25">280</text>
<line x1="1125.3" y1="463.6" x2="1125.3" y2="473.6" stroke="#000" stroke-width="2.2"/>
<text x="1125.3" y="509.1" text-anchor="middle" font-family='"Liberation Sans", sans-serif' font-size="25">300</text>
<line x1="1208.7" y1="463.6" x2="1208.7" y2="473.6" stroke="#000" stroke-width="2.2"/>
<text x="1208.7" y="509.1" text-anchor="middle" font-family='"Liberation Sans", sans-serif' font-size="25">320</text>
<line x1="1292.2" y1="463.6" x2="1292.2" y2="473.6" stroke="#000" stroke-width="2.2"/>
<text x="1292.2" y="509.1" text-anchor="middle" font-family='"Liberation Sans", sans-serif' font-size="25">340</text>
<text transform="translate(26.8 237.8) rotate(-90)" text-anchor="middle" font-family='"Liberation Sans", sans-serif' font-size="25.5">Soil Water Content (%)</text>
<text x="589.2" y="56.4" font-family='"Liberation Sans", sans-serif' font-size="24.75">Reproductive season control</text>
<line x1="97.4" y1="798.4" x2="1293.7" y2="798.4" stroke="#000" stroke-width="1.8"/>
<polyline fill="none" stroke="#000000" stroke-width="6" stroke-linejoin="round" points="122.4,758.8 126.6,758.8 130.8,762.4 134.9,770.8 139.1,778.1 143.3,776.7 147.5,775.3 151.7,775 155.9,760.5 160,760.9 164.2,761.3 168.4,761.8 172.6,762 176.8,762 181,762 185.1,762 189.3,762 193.5,762 197.7,762 201.9,762 206.1,762 210.2,762 214.4,762 218.6,762 222.8,761.7 227,761.3 231.2,760.9 235.3,760.5 239.5,760.1 243.7,759.6 247.9,759.2 252.1,758.8 256.3,758.8 260.4,758.8 264.6,758.8 268.8,758.8 273,758.5 277.2,757.4 281.4,756.4 285.5,755.3 289.7,754.3 293.9,753.2 298.1,752.1 302.3,749.6 306.5,747 310.6,744.5 314.8,743.1 319,745.9 323.2,748.7 327.4,750 331.6,751 335.7,752.1 339.9,753.9 344.1,756 348.3,758.1 352.5,762.5 356.7,768.1 360.8,773.6 365,778.8 369.2,784 373.4,789 377.6,793.2 381.8,797.4 385.9,800.6 390.1,803.7 394.3,806.9 398.5,810 402.7,813.1 406.9,816.3 411,820.2 415.2,824.3 419.4,828.5 423.6,832.1 427.8,835.2 432,838.4 436.1,839.4 440.3,838.4 444.5,837.3 448.7,837.1 452.9,838.1 457.1,839.2 461.2,840.4 465.4,842.1 469.6,829.4 473.8,790.3 478,751.7 482.2,729.4 486.3,722.7 490.5,718.5 494.7,713.4 498.9,707.5 503.1,701.6 507.3,695.5 511.4,688.8 515.6,682.1 519.8,675.4 524,667.3 528.2,656.9 532.4,651.5 536.5,651.7 540.7,664.3 544.9,676.8 549.1,687.4 553.3,697.9 557.5,708.3 561.6,715.3 565.8,721.6 570,727.9 574.2,738.7 578.4,751.2 582.6,763 586.7,773.4 590.9,783.9 595.1,793.1 599.3,799.4 603.5,805.6 607.7,811.9 611.8,818.2 616,824.5 620.2,830.7 624.4,837 628.6,843.3 632.8,849.6 636.9,855.8 641.1,862.1 645.3,868.4 649.5,871.9 653.7,875 657.9,878.2 662,880.5 666.2,882.6 670.4,884.7 674.6,886.8 678.8,888.9 683,891 687.1,893.3 691.3,895.8 695.5,898.3 699.7,900.8 703.9,902.7 708,904.4 712.2,906.1 716.4,907.8 720.6,908.6 724.8,909.3 729,910 733.1,910.7 737.3,911.3 741.5,911.3 745.7,911.3 749.9,911.3 754.1,911.3 758.2,911.3 762.4,911.3 766.6,911.3 770.8,911.3 775,911.3 779.2,911.3 783.3,828.6 787.5,641.9 791.7,641.9 795.9,641.9 800.1,642.8 804.3,644.9 808.4,647 812.6,648 816.8,646.6 821,645.2 825.2,643.8 829.4,642.4 833.5,645.6 837.7,651.2 841.9,657.3 846.1,664.6 850.3,672 854.5,679 858.6,685.3 862.8,691.6 867,698 871.2,705.3 875.4,712.6 879.6,719.9 883.7,726.7 887.9,733.5 892.1,740.3 896.3,747.1 900.5,753.9 904.7,760.7 908.8,767.5 913,770.3 917.2,772.4 921.4,774.5 925.6,776.6 929.8,778.7 933.9,780.8 938.1,772.5 942.3,751.9 946.5,734.1 950.7,738.3 954.9,742.5 959,747.7 963.2,752.9 967.4,758.2 971.6,764.3 975.8,770.6 980,776.9 984.1,783.1 988.3,789.4 992.5,795.7 996.7,802 1000.9,808.2 1005.1,814.5 1009.2,820.8 1013.4,827.1 1017.6,833.3 1021.8,839.6 1026,845.9 1030.2,852.2 1034.3,857.7 1038.5,861.9 1042.7,865.9 1046.9,867.3 1051.1,868.7 1055.3,869.1 1059.4,869.1 1063.6,869.1 1067.8,849.1 1072,846.4 1076.2,845.3 1080.4,844.3 1084.5,843.2 1088.7,844.2 1092.9,845.2 1097.1,846.3 1101.3,848.2 1105.5,850.3 1109.6,852.4 1113.8,852.1 1118,851.1 1122.2,850 1126.4,849.7 1130.6,849.7 1134.7,849.7 1138.9,849.7 1143.1,849.7 1147.3,850.3 1151.5,851 1155.7,851.7 1159.8,852.4 1164,853.4 1168.2,854.8 1172.4,856.2 1176.6,857 1180.8,857.8 1184.9,858.7 1189.1,859.4 1193.3,859.8 1197.5,860.1 1201.7,860.5 1205.9,860.8 1210,860 1214.2,858 1218.4,856.5 1222.6,855.1 1226.8,856.2 1231,859 1235.1,861.2 1239.3,861.7 1243.5,862.2 1247.7,862.7 1251.9,863 1256.1,863.3 1260.2,863.6 1264.4,863.9 1268.6,864.2"/>
<path fill="none" stroke="#c8c8c8" stroke-width="2.4" d="M122.4 740.9V776.7M126.6 740.9V776.7M130.8 744.5V780.3M134.9 752.9V788.7M139.1 760.2V796M143.3 758.8V794.6M147.5 757.4V793.2M151.7 757.1V792.9M155.9 742.6V778.4M160 743.1V778.8M164.2 743.5V779.2M168.4 743.9V779.6M172.6 744.2V779.9M176.8 744.2V779.8M181 744.2V779.8M185.1 744.2V779.8M189.3 744.2V779.8M193.5 744.2V779.8M197.7 744.2V779.8M201.9 744.2V779.8M206.1 744.2V779.8M210.2 744.3V779.8M214.4 744.3V779.8M218.6 744.3V779.8M222.8 744V779.5M227 743.6V779.1M231.2 743.2V778.6M235.3 742.7V778.2M239.5 742.3V777.8M243.7 741.9V777.4M247.9 741.5V776.9M252.1 741.1V776.5M256.3 741.1V776.5M260.4 741.1V776.5M264.6 741.1V776.5M268.8 741.1V776.5M273 740.8V776.1M277.2 739.8V775.1M281.4 738.7V774M285.5 737.7V773M289.7 736.6V771.9M293.9 735.6V770.9M298.1 734.4V769.7M302.3 731.9V767.2M306.5 729.4V764.7M310.6 726.9V762.2M314.8 725.5V760.7M319 728.3V763.5M323.2 731.1V766.3M327.4 732.4V767.6M331.6 733.4V768.6M335.7 734.5V769.6M339.9 736.3V771.5M344.1 738.4V773.6M348.3 740.5V775.7M352.5 745V780.1M356.7 750.6V785.7M360.8 756V791.1M365 761.3V796.3M369.2 766.5V801.5M373.4 771.5V806.5M377.6 775.7V810.7M381.8 779.9V814.9M385.9 783.1V818.1M390.1 786.2V821.2M394.3 789.4V824.4M398.5 792.5V827.5M402.7 795.7V830.6M406.9 798.8V833.7M411 802.7V837.6M415.2 806.9V841.8M419.4 811.1V846M423.6 814.6V849.5M427.8 817.8V852.6M432 820.9V855.8M436.1 822V856.8M440.3 820.9V855.8M444.5 819.9V854.7M448.7 819.7V854.5M452.9 820.7V855.5M457.1 821.8V856.6M461.2 823V857.8M465.4 824.7V859.5M469.6 812V846.7M473.8 773V807.7M478 734.4V769.1M482.2 712.1V746.8M486.3 705.4V740.1M490.5 701.2V735.9M494.7 696.1V730.7M498.9 690.2V724.8M503.1 684.3V718.9M507.3 678.2V712.8M511.4 671.5V706.1M515.6 664.8V699.4M519.8 658.1V692.7M524 650V684.6M528.2 639.6V674.1M532.4 634.2V668.8M536.5 634.5V669M540.7 647V681.5M544.9 659.6V694.1M549.1 670.2V704.7M553.3 680.6V715.1M557.5 691.1V725.6M561.6 698.1V732.5M565.8 704.4V738.8M570 710.6V745.1M574.2 721.5V755.9M578.4 734.1V768.4M582.6 745.8V780.1M586.7 756.2V790.6M590.9 766.7V801.1M595.1 775.9V810.3M599.3 782.2V816.5M603.5 788.5V822.8M607.7 794.8V829.1M611.8 801.1V835.3M616 807.3V841.6M620.2 813.6V847.9M624.4 819.9V854.1M628.6 826.2V860.4M632.8 832.5V866.7M636.9 838.7V872.9M641.1 845V879.2M645.3 851.3V885.5M649.5 854.8V889M653.7 858V892.1M657.9 861.1V895.2M662 863.4V897.6M666.2 865.5V899.6M670.4 867.6V901.7M674.6 869.7V903.8M678.8 871.8V905.9M683 873.9V908M687.1 876.3V910.3M691.3 878.8V912.8M695.5 881.3V915.3M699.7 883.8V917.8M703.9 885.7V919.7M708 887.4V921.4M712.2 889.1V923.1M716.4 890.8V924.7M720.6 891.7V925.6M724.8 892.4V926.3M729 893.1V927M733.1 893.8V927.7M737.3 894.4V928.3M741.5 894.4V928.3M745.7 894.4V928.3M749.9 894.4V928.3M754.1 894.4V928.3M758.2 894.4V928.2M762.4 894.4V928.2M766.6 894.4V928.2M770.8 894.4V928.2M775 894.4V928.2M779.2 894.4V928.2M783.3 811.7V845.5M787.5 625.1V658.8M791.7 625.1V658.8M795.9 625.1V658.8M800.1 626V659.6M804.3 628V661.7M808.4 630.1V663.8M812.6 631.2V664.8M816.8 629.8V663.4M821 628.4V662M825.2 627V660.6M829.4 625.6V659.2M833.5 628.8V662.4M837.7 634.4V668M841.9 640.5V674.1M846.1 647.9V681.4M850.3 655.2V688.7M854.5 662.3V695.8M858.6 668.6V702.1M862.8 674.8V708.3M867 681.2V714.7M871.2 688.6V722.1M875.4 695.9V729.4M879.6 703.2V736.7M883.7 710V743.5M887.9 716.8V750.2M892.1 723.6V757M896.3 730.4V763.8M900.5 737.2V770.6M904.7 744V777.4M908.8 750.8V784.2M913 753.6V787M917.2 755.7V789.1M921.4 757.8V791.1M925.6 759.9V793.2M929.8 762V795.3M933.9 764.1V797.4M938.1 755.9V789.2M942.3 735.3V768.6M946.5 717.5V750.7M950.7 721.7V754.9M954.9 725.9V759.1M959 731.1V764.3M963.2 736.3V769.5M967.4 741.6V774.8M971.6 747.7V780.9M975.8 754V787.2M980 760.3V793.4M984.1 766.6V799.7M988.3 772.9V806M992.5 779.1V812.2M996.7 785.4V818.5M1000.9 791.7V824.8M1005.1 798V831M1009.2 804.3V837.3M1013.4 810.6V843.6M1017.6 816.8V849.9M1021.8 823.1V856.1M1026 829.4V862.4M1030.2 835.7V868.7M1034.3 841.2V874.2M1038.5 845.4V878.3M1042.7 849.5V882.4M1046.9 850.9V883.8M1051.1 852.3V885.2M1055.3 852.7V885.6M1059.4 852.7V885.6M1063.6 852.7V885.6M1067.8 832.6V865.5M1072 829.9V862.8M1076.2 828.9V861.7M1080.4 827.9V860.7M1084.5 826.8V859.6M1088.7 827.8V860.6M1092.9 828.8V861.6M1097.1 829.9V862.6M1101.3 831.8V864.6M1105.5 833.9V866.7M1109.6 836V868.7M1113.8 835.8V868.5M1118 834.7V867.4M1122.2 833.7V866.4M1126.4 833.3V866M1130.6 833.3V866M1134.7 833.3V866M1138.9 833.3V866M1143.1 833.3V866M1147.3 834V866.7M1151.5 834.7V867.3M1155.7 835.4V868M1159.8 836.2V868.7M1164 837.1V869.6M1168.2 838.5V871M1172.4 839.9V872.4M1176.6 840.7V873.3M1180.8 841.6V874.1M1184.9 842.4V874.9M1189.1 843.2V875.7M1193.3 843.6V876M1197.5 843.9V876.4M1201.7 844.3V876.7M1205.9 844.6V877M1210 843.8V876.3M1214.2 841.8V874.2M1218.4 840.3V872.7M1222.6 838.9V871.3M1226.8 840V872.3M1231 842.8V875.1M1235.1 845V877.3M1239.3 845.5V877.8M1243.5 846V878.4M1247.7 846.5V878.8M1251.9 846.8V879.1M1256.1 847.2V879.4M1260.2 847.5V879.7M1264.4 847.8V880M1268.6 848.1V880.3"/>
<polyline fill="none" stroke="#000" stroke-width="1.4" stroke-linejoin="round" points="122.4,758.8 126.6,758.8 130.8,762.4 134.9,770.8 139.1,778.1 143.3,776.7 147.5,775.3 151.7,775 155.9,760.5 160,760.9 164.2,761.3 168.4,761.8 172.6,762 176.8,762 181,762 185.1,762 189.3,762 193.5,762 197.7,762 201.9,762 206.1,762 210.2,762 214.4,762 218.6,762 222.8,761.7 227,761.3 231.2,760.9 235.3,760.5 239.5,760.1 243.7,759.6 247.9,759.2 252.1,758.8 256.3,758.8 260.4,758.8 264.6,758.8 268.8,758.8 273,758.5 277.2,757.4 281.4,756.4 285.5,755.3 289.7,754.3 293.9,753.2 298.1,752.1 302.3,749.6 306.5,747 310.6,744.5 314.8,743.1 319,745.9 323.2,748.7 327.4,750 331.6,751 335.7,752.1 339.9,753.9 344.1,756 348.3,758.1 352.5,762.5 356.7,768.1 360.8,773.6 365,778.8 369.2,784 373.4,789 377.6,793.2 381.8,797.4 385.9,800.6 390.1,803.7 394.3,806.9 398.5,810 402.7,813.1 406.9,816.3 411,820.2 415.2,824.3 419.4,828.5 423.6,832.1 427.8,835.2 432,838.4 436.1,839.4 440.3,838.4 444.5,837.3 448.7,837.1 452.9,838.1 457.1,839.2 461.2,840.4 465.4,842.1 469.6,829.4 473.8,790.3 478,751.7 482.2,729.4 486.3,722.7 490.5,718.5 494.7,713.4 498.9,707.5 503.1,701.6 507.3,695.5 511.4,688.8 515.6,682.1 519.8,675.4 524,667.3 528.2,656.9 532.4,651.5 536.5,651.7 540.7,664.3 544.9,676.8 549.1,687.4 553.3,697.9 557.5,708.3 561.6,715.3 565.8,721.6 570,727.9 574.2,738.7 578.4,751.2 582.6,763 586.7,773.4 590.9,783.9 595.1,793.1 599.3,799.4 603.5,805.6 607.7,811.9 611.8,818.2 616,824.5 620.2,830.7 624.4,837 628.6,843.3 632.8,849.6 636.9,855.8 641.1,862.1 645.3,868.4 649.5,871.9 653.7,875 657.9,878.2 662,880.5 666.2,882.6 670.4,884.7 674.6,886.8 678.8,888.9 683,891 687.1,893.3 691.3,895.8 695.5,898.3 699.7,900.8 703.9,902.7 708,904.4 712.2,906.1 716.4,907.8 720.6,908.6 724.8,909.3 729,910 733.1,910.7 737.3,911.3 741.5,911.3 745.7,911.3 749.9,911.3 754.1,911.3 758.2,911.3 762.4,911.3 766.6,911.3 770.8,911.3 775,911.3 779.2,911.3 783.3,828.6 787.5,641.9 791.7,641.9 795.9,641.9 800.1,642.8 804.3,644.9 808.4,647 812.6,648 816.8,646.6 821,645.2 825.2,643.8 829.4,642.4 833.5,645.6 837.7,651.2 841.9,657.3 846.1,664.6 850.3,672 854.5,679 858.6,685.3 862.8,691.6 867,698 871.2,705.3 875.4,712.6 879.6,719.9 883.7,726.7 887.9,733.5 892.1,740.3 896.3,747.1 900.5,753.9 904.7,760.7 908.8,767.5 913,770.3 917.2,772.4 921.4,774.5 925.6,776.6 929.8,778.7 933.9,780.8 938.1,772.5 942.3,751.9 946.5,734.1 950.7,738.3 954.9,742.5 959,747.7 963.2,752.9 967.4,758.2 971.6,764.3 975.8,770.6 980,776.9 984.1,783.1 988.3,789.4 992.5,795.7 996.7,802 1000.9,808.2 1005.1,814.5 1009.2,820.8 1013.4,827.1 1017.6,833.3 1021.8,839.6 1026,845.9 1030.2,852.2 1034.3,857.7 1038.5,861.9 1042.7,865.9 1046.9,867.3 1051.1,868.7 1055.3,869.1 1059.4,869.1 1063.6,869.1 1067.8,849.1 1072,846.4 1076.2,845.3 1080.4,844.3 1084.5,843.2 1088.7,844.2 1092.9,845.2 1097.1,846.3 1101.3,848.2 1105.5,850.3 1109.6,852.4 1113.8,852.1 1118,851.1 1122.2,850 1126.4,849.7 1130.6,849.7 1134.7,849.7 1138.9,849.7 1143.1,849.7 1147.3,850.3 1151.5,851 1155.7,851.7 1159.8,852.4 1164,853.4 1168.2,854.8 1172.4,856.2 1176.6,857 1180.8,857.8 1184.9,858.7 1189.1,859.4 1193.3,859.8 1197.5,860.1 1201.7,860.5 1205.9,860.8 1210,860 1214.2,858 1218.4,856.5 1222.6,855.1 1226.8,856.2 1231,859 1235.1,861.2 1239.3,861.7 1243.5,862.2 1247.7,862.7 1251.9,863 1256.1,863.3 1260.2,863.6 1264.4,863.9 1268.6,864.2"/><path fill="none" stroke="#000" stroke-width="2.4" d="M121.2 758.8h2.4M125.4 758.8h2.4M129.6 762.4h2.4M133.7 770.8h2.4M137.9 778.1h2.4M142.1 776.7h2.4M146.3 775.3h2.4M150.5 775h2.4M154.7 760.5h2.4M158.8 760.9h2.4M163 761.3h2.4M167.2 761.8h2.4M171.4 762h2.4M175.6 762h2.4M179.8 762h2.4M183.9 762h2.4M188.1 762h2.4M192.3 762h2.4M196.5 762h2.4M200.7 762h2.4M204.9 762h2.4M209 762h2.4M213.2 762h2.4M217.4 762h2.4M221.6 761.7h2.4M225.8 761.3h2.4M230 760.9h2.4M234.1 760.5h2.4M238.3 760.1h2.4M242.5 759.6h2.4M246.7 759.2h2.4M250.9 758.8h2.4M255.1 758.8h2.4M259.2 758.8h2.4M263.4 758.8h2.4M267.6 758.8h2.4M271.8 758.5h2.4M276 757.4h2.4M280.2 756.4h2.4M284.3 755.3h2.4M288.5 754.3h2.4M292.7 753.2h2.4M296.9 752.1h2.4M301.1 749.6h2.4M305.3 747h2.4M309.4 744.5h2.4M313.6 743.1h2.4M317.8 745.9h2.4M322 748.7h2.4M326.2 750h2.4M330.4 751h2.4M334.5 752.1h2.4M338.7 753.9h2.4M342.9 756h2.4M347.1 758.1h2.4M351.3 762.5h2.4M355.5 768.1h2.4M359.6 773.6h2.4M363.8 778.8h2.4M368 784h2.4M372.2 789h2.4M376.4 793.2h2.4M380.6 797.4h2.4M384.7 800.6h2.4M388.9 803.7h2.4M393.1 806.9h2.4M397.3 810h2.4M401.5 813.1h2.4M405.7 816.3h2.4M409.8 820.2h2.4M414 824.3h2.4M418.2 828.5h2.4M422.4 832.1h2.4M426.6 835.2h2.4M430.8 838.4h2.4M434.9 839.4h2.4M439.1 838.4h2.4M443.3 837.3h2.4M447.5 837.1h2.4M451.7 838.1h2.4M455.9 839.2h2.4M460 840.4h2.4M464.2 842.1h2.4M468.4 829.4h2.4M472.6 790.3h2.4M476.8 751.7h2.4M481 729.4h2.4M485.1 722.7h2.4M489.3 718.5h2.4M493.5 713.4h2.4M497.7 707.5h2.4M501.9 701.6h2.4M506.1 695.5h2.4M510.2 688.8h2.4M514.4 682.1h2.4M518.6 675.4h2.4M522.8 667.3h2.4M527 656.9h2.4M531.2 651.5h2.4M535.3 651.7h2.4M539.5 664.3h2.4M543.7 676.8h2.4M547.9 687.4h2.4M552.1 697.9h2.4M556.3 708.3h2.4M560.4 715.3h2.4M564.6 721.6h2.4M568.8 727.9h2.4M573 738.7h2.4M577.2 751.2h2.4M581.4 763h2.4M585.5 773.4h2.4M589.7 783.9h2.4M593.9 793.1h2.4M598.1 799.4h2.4M602.3 805.6h2.4M606.5 811.9h2.4M610.6 818.2h2.4M614.8 824.5h2.4M619 830.7h2.4M623.2 837h2.4M627.4 843.3h2.4M631.6 849.6h2.4M635.7 855.8h2.4M639.9 862.1h2.4M644.1 868.4h2.4M648.3 871.9h2.4M652.5 875h2.4M656.7 878.2h2.4M660.8 880.5h2.4M665 882.6h2.4M669.2 884.7h2.4M673.4 886.8h2.4M677.6 888.9h2.4M681.8 891h2.4M685.9 893.3h2.4M690.1 895.8h2.4M694.3 898.3h2.4M698.5 900.8h2.4M702.7 902.7h2.4M706.8 904.4h2.4M711 906.1h2.4M715.2 907.8h2.4M719.4 908.6h2.4M723.6 909.3h2.4M727.8 910h2.4M731.9 910.7h2.4M736.1 911.3h2.4M740.3 911.3h2.4M744.5 911.3h2.4M748.7 911.3h2.4M752.9 911.3h2.4M757 911.3h2.4M761.2 911.3h2.4M765.4 911.3h2.4M769.6 911.3h2.4M773.8 911.3h2.4M778 911.3h2.4M782.1 828.6h2.4M786.3 641.9h2.4M790.5 641.9h2.4M794.7 641.9h2.4M798.9 642.8h2.4M803.1 644.9h2.4M807.2 647h2.4M811.4 648h2.4M815.6 646.6h2.4M819.8 645.2h2.4M824 643.8h2.4M828.2 642.4h2.4M832.3 645.6h2.4M836.5 651.2h2.4M840.7 657.3h2.4M844.9 664.6h2.4M849.1 672h2.4M853.3 679h2.4M857.4 685.3h2.4M861.6 691.6h2.4M865.8 698h2.4M870 705.3h2.4M874.2 712.6h2.4M878.4 719.9h2.4M882.5 726.7h2.4M886.7 733.5h2.4M890.9 740.3h2.4M895.1 747.1h2.4M899.3 753.9h2.4M903.5 760.7h2.4M907.6 767.5h2.4M911.8 770.3h2.4M916 772.4h2.4M920.2 774.5h2.4M924.4 776.6h2.4M928.6 778.7h2.4M932.7 780.8h2.4M936.9 772.5h2.4M941.1 751.9h2.4M945.3 734.1h2.4M949.5 738.3h2.4M953.7 742.5h2.4M957.8 747.7h2.4M962 752.9h2.4M966.2 758.2h2.4M970.4 764.3h2.4M974.6 770.6h2.4M978.8 776.9h2.4M982.9 783.1h2.4M987.1 789.4h2.4M991.3 795.7h2.4M995.5 802h2.4M999.7 808.2h2.4M1003.9 814.5h2.4M1008 820.8h2.4M1012.2 827.1h2.4M1016.4 833.3h2.4M1020.6 839.6h2.4M1024.8 845.9h2.4M1029 852.2h2.4M1033.1 857.7h2.4M1037.3 861.9h2.4M1041.5 865.9h2.4M1045.7 867.3h2.4M1049.9 868.7h2.4M1054.1 869.1h2.4M1058.2 869.1h2.4M1062.4 869.1h2.4M1066.6 849.1h2.4M1070.8 846.4h2.4M1075 845.3h2.4M1079.2 844.3h2.4M1083.3 843.2h2.4M1087.5 844.2h2.4M1091.7 845.2h2.4M1095.9 846.3h2.4M1100.1 848.2h2.4M1104.3 850.3h2.4M1108.4 852.4h2.4M1112.6 852.1h2.4M1116.8 851.1h2.4M1121 850h2.4M1125.2 849.7h2.4M1129.4 849.7h2.4M1133.5 849.7h2.4M1137.7 849.7h2.4M1141.9 849.7h2.4M1146.1 850.3h2.4M1150.3 851h2.4M1154.5 851.7h2.4M1158.6 852.4h2.4M1162.8 853.4h2.4M1167 854.8h2.4M1171.2 856.2h2.4M1175.4 857h2.4M1179.6 857.8h2.4M1183.7 858.7h2.4M1187.9 859.4h2.4M1192.1 859.8h2.4M1196.3 860.1h2.4M1200.5 860.5h2.4M1204.7 860.8h2.4M1208.8 860h2.4M1213 858h2.4M1217.2 856.5h2.4M1221.4 855.1h2.4M1225.6 856.2h2.4M1229.8 859h2.4M1233.9 861.2h2.4M1238.1 861.7h2.4M1242.3 862.2h2.4M1246.5 862.7h2.4M1250.7 863h2.4M1254.9 863.3h2.4M1259 863.6h2.4M1263.2 863.9h2.4M1267.4 864.2h2.4"/>
<polyline fill="none" stroke="#ff0000" stroke-width="6" stroke-linejoin="round" points="122.4,805.3 126.6,806.7 130.8,809.6 134.9,814.5 139.1,818.9 143.3,819.8 147.5,819.1 151.7,810.7 155.9,809.3 160,807.9 164.2,807 168.4,806.3 172.6,806.6 176.8,808.7 181,810.7 185.1,811.2 189.3,811.8 193.5,812.3 197.7,811.9 201.9,811.3 206.1,810.8 210.2,811.1 214.4,811.7 218.6,812.2 222.8,812.7 227,813.2 231.2,813.8 235.3,814.6 239.5,815.6 243.7,816.7 247.9,818.3 252.1,820.3 256.3,821.5 260.4,818.4 264.6,817.2 268.8,817.2 273,817.2 277.2,817.2 281.4,817.2 285.5,817.5 289.7,819.2 293.9,818.8 298.1,812.1 302.3,806.5 306.5,803.3 310.6,800.2 314.8,798.3 319,801.1 323.2,803.9 327.4,804.8 331.6,805.5 335.7,807.8 339.9,811.3 344.1,814.9 348.3,819.1 352.5,823.3 356.7,830 360.8,836.9 365,842.3 369.2,846.5 373.4,850.7 377.6,855.5 381.8,861.1 385.9,866.1 390.1,867.5 394.3,868.9 398.5,871.4 402.7,874.2 406.9,877.6 411,881.8 415.2,885.7 419.4,887.8 423.6,889.9 427.8,891.9 432,893.3 436.1,894.7 440.3,894.1 444.5,892.7 448.7,891.9 452.9,891.9 457.1,895.4 461.2,898.6 465.4,899.2 469.6,899.9 473.8,854.6 478,830 482.2,821.6 486.3,797 490.5,766.6 494.7,728.9 498.9,721.2 503.1,723.3 507.3,733.8 511.4,741.3 515.6,745.5 519.8,730.4 524,716 528.2,705.5 532.4,688.5 536.5,712.3 540.7,720.7 544.9,729 549.1,738.7 553.3,748.5 557.5,757.4 561.6,765.7 565.8,775.3 570,787.8 574.2,803.4 578.4,819.8 582.6,834.4 586.7,845.1 590.9,853.5 595.1,861.3 599.3,867.5 603.5,873.8 607.7,874 611.8,874 616,876.2 620.2,879.7 624.4,883.9 628.6,889.4 632.8,895 636.9,897.7 641.1,900.3 645.3,902.9 649.5,904.1 653.7,905.2 657.9,906.2 662,907.7 666.2,909.3 670.4,910.8 674.6,912.7 678.8,914.8 683,916.9 687.1,918.4 691.3,919.5 695.5,920.5 699.7,921.6 703.9,922.6 708,923.6 712.2,924.7 716.4,925.7 720.6,926.8 724.8,927.6 729,927.6 733.1,927.6 737.3,927.5 741.5,927 745.7,926.4 749.9,925.9 754.1,924.8 758.2,923.8 762.4,922.7 766.6,923.4 770.8,924 775,925.6 779.2,924 783.3,836.9 787.5,728.4 791.7,682.4 795.9,682.2 800.1,683.6 804.3,685.9 808.4,688.7 812.6,694.5 816.8,707.1 821,710.1 825.2,672.7 829.4,675.1 833.5,685.5 837.7,692.4 841.9,699.9 846.1,708.2 850.3,716.6 854.5,722.9 858.6,729.1 862.8,735.4 867,744.8 871.2,754.6 875.4,764.3 879.6,774.1 883.7,783.1 887.9,789.7 892.1,796.3 896.3,802.9 900.5,809.5 904.7,816.1 908.8,822.7 913,825.5 917.2,827.6 921.4,829.7 925.6,832.7 929.8,836 933.9,839.4 938.1,842.7 942.3,808.4 946.5,783.3 950.7,784.6 954.9,787.9 959,797.6 963.2,807.4 967.4,816.2 971.6,824.6 975.8,832.3 980,838.5 984.1,844.8 988.3,850.9 992.5,856.1 996.7,861.3 1000.9,866.4 1005.1,870.6 1009.2,874.8 1013.4,878.9 1017.6,882.6 1021.8,886.3 1026,889.9 1030.2,892.6 1034.3,895.2 1038.5,897.9 1042.7,898.3 1046.9,898.3 1051.1,898.3 1055.3,899.6 1059.4,901.4 1063.6,903.2 1067.8,888.3 1072,887 1076.2,886.4 1080.4,885.9 1084.5,885.4 1088.7,886.4 1092.9,887.4 1097.1,888.4 1101.3,890.4 1105.5,892.5 1109.6,894.6 1113.8,894.7 1118,894.2 1122.2,893.7 1126.4,893.1 1130.6,892.6 1134.7,892.1 1138.9,892.1 1143.1,892.7 1147.3,893.2 1151.5,893.7 1155.7,894.2 1159.8,894.7 1164,896.2 1168.2,899.7 1172.4,903.2 1176.6,903.2 1180.8,903.2 1184.9,903.2 1189.1,903.3 1193.3,903.6 1197.5,904 1201.7,904.3 1205.9,904.7 1210,901.9 1214.2,895.6 1218.4,893.8 1222.6,892.4 1226.8,893.1 1231,895.2 1235.1,896.9 1239.3,897.4 1243.5,897.9 1247.7,898.4 1251.9,899 1256.1,899.6 1260.2,900.2 1264.4,900.8 1268.6,901.4"/>
<path fill="none" stroke="#c8c8c8" stroke-width="2.4" d="M122.4 790.1V820.5M126.6 791.5V821.9M130.8 794.4V824.8M134.9 799.3V829.6M139.1 803.8V834M143.3 804.7V834.8M147.5 804V834.1M151.7 795.7V825.7M155.9 794.3V824.3M160 792.9V822.9M164.2 792V821.9M168.4 791.4V821.2M172.6 791.7V821.5M176.8 793.8V823.5M181 795.9V825.6M185.1 796.4V826.1M189.3 797V826.5M193.5 797.5V827M197.7 797.1V826.6M201.9 796.6V826M206.1 796.1V825.5M210.2 796.5V825.8M214.4 797V826.3M218.6 797.6V826.8M222.8 798.1V827.3M227 798.7V827.8M231.2 799.2V828.3M235.3 800.1V829.1M239.5 801.2V830.1M243.7 802.3V831.1M247.9 803.9V832.6M252.1 806V834.7M256.3 807.2V835.9M260.4 804.1V832.7M264.6 802.9V831.5M268.8 802.9V831.5M273 803V831.4M277.2 803V831.4M281.4 803V831.4M285.5 803.4V831.7M289.7 805.1V833.3M293.9 804.7V832.9M298.1 798V826.1M302.3 792.4V820.5M306.5 789.3V817.4M310.6 786.2V814.2M314.8 784.4V812.3M319 787.2V815M323.2 790V817.8M327.4 791V818.7M331.6 791.7V819.4M335.7 794V821.6M339.9 797.5V825M344.1 801.1V828.7M348.3 805.3V832.8M352.5 809.6V837M356.7 816.3V843.6M360.8 823.3V850.6M365 828.7V855.9M369.2 832.9V860.1M373.4 837.1V864.2M377.6 842V869M381.8 847.6V874.6M385.9 852.6V879.6M390.1 854V880.9M394.3 855.4V882.3M398.5 858V884.8M402.7 860.8V887.6M406.9 864.3V891M411 868.5V895.2M415.2 872.4V899M419.4 874.5V901M423.6 876.6V903.1M427.8 878.7V905.1M432 880.1V906.5M436.1 881.6V907.9M440.3 881V907.2M444.5 879.6V905.8M448.7 878.8V904.9M452.9 878.8V904.9M457.1 882.4V908.4M461.2 885.6V911.5M465.4 886.3V912.2M469.6 887V912.9M473.8 841.7V867.6M478 817.1V842.9M482.2 808.8V834.5M486.3 784.2V809.8M490.5 753.8V779.4M494.7 716.2V741.7M498.9 708.5V734M503.1 710.6V736M507.3 721.1V746.4M511.4 728.6V753.9M515.6 732.8V758.1M519.8 717.8V743M524 703.4V728.6M528.2 693V718.1M532.4 676V701M536.5 699.8V724.8M540.7 708.2V733.1M544.9 716.6V741.5M549.1 726.3V751.1M553.3 736.1V760.8M557.5 745V769.7M561.6 753.4V778.1M565.8 763V787.6M570 775.5V800.1M574.2 791.2V815.7M578.4 807.6V832M582.6 822.2V846.6M586.7 833V857.3M590.9 841.4V865.6M595.1 849.1V873.4M599.3 855.4V879.6M603.5 861.8V885.9M607.7 862V886M611.8 862V886M616 864.3V888.2M620.2 867.8V891.7M624.4 871.9V895.8M628.6 877.6V901.3M632.8 883.2V906.9M636.9 885.8V909.5M641.1 888.5V912.1M645.3 891.1V914.7M649.5 892.4V915.9M653.7 893.5V916.9M657.9 894.5V917.9M662 896V919.3M666.2 897.6V920.9M670.4 899.2V922.4M674.6 901.2V924.3M678.8 903.3V926.4M683 905.4V928.4M687.1 906.9V929.9M691.3 908V930.9M695.5 909.1V931.9M699.7 910.2V932.9M703.9 911.3V933.9M708 912.3V935M712.2 913.4V936M716.4 914.5V937M720.6 915.6V938M724.8 916.4V938.7M729 916.4V938.7M733.1 916.4V938.7M737.3 916.4V938.6M741.5 915.9V938M745.7 915.4V937.4M749.9 914.9V936.9M754.1 913.9V935.8M758.2 912.9V934.7M762.4 911.9V933.6M766.6 912.5V934.2M770.8 913.2V934.9M775 914.8V936.4M779.2 913.3V934.8M783.3 824.4V849.5M787.5 714.1V742.8M791.7 666.3V698.5M795.9 666.1V698.3M800.1 667.5V699.7M804.3 669.8V702M808.4 672.6V704.8M812.6 678.4V710.6M816.8 691V723.2M821 694V726.2M825.2 656.6V688.8M829.4 659V691.2M833.5 669.3V701.6M837.7 676.3V708.5M841.9 683.7V716M846.1 692.1V724.3M850.3 700.5V732.7M854.5 706.7V739M858.6 713V745.3M862.8 719.3V751.5M867 728.7V760.9M871.2 738.5V770.7M875.4 748.2V780.4M879.6 758V790.2M883.7 767V799.2M887.9 773.6V805.8M892.1 780.2V812.4M896.3 786.8V819M900.5 793.4V825.6M904.7 800V832.2M908.8 806.6V838.8M913 809.4V841.6M917.2 811.4V843.7M921.4 813.5V845.8M925.6 816.6V848.8M929.8 819.9V852.1M933.9 823.3V855.5M938.1 826.6V858.8M942.3 792.3V824.6M946.5 767.2V799.5M950.7 768.5V800.7M954.9 771.8V804.1M959 781.5V813.7M963.2 791.3V823.5M967.4 800.1V832.3M971.6 808.5V840.7M975.8 816.1V848.4M980 822.4V854.7M984.1 828.7V860.9M988.3 834.7V867M992.5 840V872.2M996.7 845.2V877.4M1000.9 850.3V882.5M1005.1 854.6V886.6M1009.2 858.9V890.6M1013.4 863.2V894.7M1017.6 867V898.2M1021.8 870.8V901.7M1026 874.6V905.2M1030.2 877.5V907.8M1034.3 880.2V910.3M1038.5 882.9V912.8M1042.7 883.6V913.1M1046.9 883.7V913M1051.1 883.8V912.9M1055.3 885.2V914M1059.4 887.2V915.6M1063.6 889.1V917.3M1067.8 874.3V902.3M1072 873.1V900.8M1076.2 872.7V900.1M1080.4 872.3V899.5M1084.5 872V898.8M1088.7 872.9V899.8M1092.9 874V900.8M1097.1 875V901.9M1101.3 877V903.8M1105.5 879V905.9M1109.6 881.1V908M1113.8 881.3V908.1M1118 880.8V907.6M1122.2 880.2V907.1M1126.4 879.7V906.6M1130.6 879.2V906.1M1134.7 878.7V905.5M1138.9 878.7V905.6M1143.1 879.2V906.1M1147.3 879.8V906.6M1151.5 880.3V907.1M1155.7 880.8V907.7M1159.8 881.3V908.2M1164 882.8V909.7M1168.2 886.3V913.2M1172.4 889.8V916.6M1176.6 889.8V916.6M1180.8 889.8V916.6M1184.9 889.8V916.6M1189.1 889.8V916.7M1193.3 890.2V917M1197.5 890.5V917.4M1201.7 890.9V917.7M1205.9 891.2V918.1M1210 888.5V915.3M1214.2 882.2V909.1M1218.4 880.4V907.3M1222.6 879V905.9M1226.8 879.7V906.5M1231 881.7V908.6M1235.1 883.4V910.3M1239.3 884V910.8M1243.5 884.5V911.3M1247.7 885V911.9M1251.9 885.6V912.5M1256.1 886.2V913.1M1260.2 886.8V913.7M1264.4 887.4V914.3M1268.6 888V914.9"/>
<polyline fill="none" stroke="#000" stroke-width="1.4" stroke-linejoin="round" points="122.4,805.3 126.6,806.7 130.8,809.6 134.9,814.5 139.1,818.9 143.3,819.8 147.5,819.1 151.7,810.7 155.9,809.3 160,807.9 164.2,807 168.4,806.3 172.6,806.6 176.8,808.7 181,810.7 185.1,811.2 189.3,811.8 193.5,812.3 197.7,811.9 201.9,811.3 206.1,810.8 210.2,811.1 214.4,811.7 218.6,812.2 222.8,812.7 227,813.2 231.2,813.8 235.3,814.6 239.5,815.6 243.7,816.7 247.9,818.3 252.1,820.3 256.3,821.5 260.4,818.4 264.6,817.2 268.8,817.2 273,817.2 277.2,817.2 281.4,817.2 285.5,817.5 289.7,819.2 293.9,818.8 298.1,812.1 302.3,806.5 306.5,803.3 310.6,800.2 314.8,798.3 319,801.1 323.2,803.9 327.4,804.8 331.6,805.5 335.7,807.8 339.9,811.3 344.1,814.9 348.3,819.1 352.5,823.3 356.7,830 360.8,836.9 365,842.3 369.2,846.5 373.4,850.7 377.6,855.5 381.8,861.1 385.9,866.1 390.1,867.5 394.3,868.9 398.5,871.4 402.7,874.2 406.9,877.6 411,881.8 415.2,885.7 419.4,887.8 423.6,889.9 427.8,891.9 432,893.3 436.1,894.7 440.3,894.1 444.5,892.7 448.7,891.9 452.9,891.9 457.1,895.4 461.2,898.6 465.4,899.2 469.6,899.9 473.8,854.6 478,830 482.2,821.6 486.3,797 490.5,766.6 494.7,728.9 498.9,721.2 503.1,723.3 507.3,733.8 511.4,741.3 515.6,745.5 519.8,730.4 524,716 528.2,705.5 532.4,688.5 536.5,712.3 540.7,720.7 544.9,729 549.1,738.7 553.3,748.5 557.5,757.4 561.6,765.7 565.8,775.3 570,787.8 574.2,803.4 578.4,819.8 582.6,834.4 586.7,845.1 590.9,853.5 595.1,861.3 599.3,867.5 603.5,873.8 607.7,874 611.8,874 616,876.2 620.2,879.7 624.4,883.9 628.6,889.4 632.8,895 636.9,897.7 641.1,900.3 645.3,902.9 649.5,904.1 653.7,905.2 657.9,906.2 662,907.7 666.2,909.3 670.4,910.8 674.6,912.7 678.8,914.8 683,916.9 687.1,918.4 691.3,919.5 695.5,920.5 699.7,921.6 703.9,922.6 708,923.6 712.2,924.7 716.4,925.7 720.6,926.8 724.8,927.6 729,927.6 733.1,927.6 737.3,927.5 741.5,927 745.7,926.4 749.9,925.9 754.1,924.8 758.2,923.8 762.4,922.7 766.6,923.4 770.8,924 775,925.6 779.2,924 783.3,836.9 787.5,728.4 791.7,682.4 795.9,682.2 800.1,683.6 804.3,685.9 808.4,688.7 812.6,694.5 816.8,707.1 821,710.1 825.2,672.7 829.4,675.1 833.5,685.5 837.7,692.4 841.9,699.9 846.1,708.2 850.3,716.6 854.5,722.9 858.6,729.1 862.8,735.4 867,744.8 871.2,754.6 875.4,764.3 879.6,774.1 883.7,783.1 887.9,789.7 892.1,796.3 896.3,802.9 900.5,809.5 904.7,816.1 908.8,822.7 913,825.5 917.2,827.6 921.4,829.7 925.6,832.7 929.8,836 933.9,839.4 938.1,842.7 942.3,808.4 946.5,783.3 950.7,784.6 954.9,787.9 959,797.6 963.2,807.4 967.4,816.2 971.6,824.6 975.8,832.3 980,838.5 984.1,844.8 988.3,850.9 992.5,856.1 996.7,861.3 1000.9,866.4 1005.1,870.6 1009.2,874.8 1013.4,878.9 1017.6,882.6 1021.8,886.3 1026,889.9 1030.2,892.6 1034.3,895.2 1038.5,897.9 1042.7,898.3 1046.9,898.3 1051.1,898.3 1055.3,899.6 1059.4,901.4 1063.6,903.2 1067.8,888.3 1072,887 1076.2,886.4 1080.4,885.9 1084.5,885.4 1088.7,886.4 1092.9,887.4 1097.1,888.4 1101.3,890.4 1105.5,892.5 1109.6,894.6 1113.8,894.7 1118,894.2 1122.2,893.7 1126.4,893.1 1130.6,892.6 1134.7,892.1 1138.9,892.1 1143.1,892.7 1147.3,893.2 1151.5,893.7 1155.7,894.2 1159.8,894.7 1164,896.2 1168.2,899.7 1172.4,903.2 1176.6,903.2 1180.8,903.2 1184.9,903.2 1189.1,903.3 1193.3,903.6 1197.5,904 1201.7,904.3 1205.9,904.7 1210,901.9 1214.2,895.6 1218.4,893.8 1222.6,892.4 1226.8,893.1 1231,895.2 1235.1,896.9 1239.3,897.4 1243.5,897.9 1247.7,898.4 1251.9,899 1256.1,899.6 1260.2,900.2 1264.4,900.8 1268.6,901.4"/><path fill="none" stroke="#000" stroke-width="2.4" d="M121.2 805.3h2.4M125.4 806.7h2.4M129.6 809.6h2.4M133.7 814.5h2.4M137.9 818.9h2.4M142.1 819.8h2.4M146.3 819.1h2.4M150.5 810.7h2.4M154.7 809.3h2.4M158.8 807.9h2.4M163 807h2.4M167.2 806.3h2.4M171.4 806.6h2.4M175.6 808.7h2.4M179.8 810.7h2.4M183.9 811.2h2.4M188.1 811.8h2.4M192.3 812.3h2.4M196.5 811.9h2.4M200.7 811.3h2.4M204.9 810.8h2.4M209 811.1h2.4M213.2 811.7h2.4M217.4 812.2h2.4M221.6 812.7h2.4M225.8 813.2h2.4M230 813.8h2.4M234.1 814.6h2.4M238.3 815.6h2.4M242.5 816.7h2.4M246.7 818.3h2.4M250.9 820.3h2.4M255.1 821.5h2.4M259.2 818.4h2.4M263.4 817.2h2.4M267.6 817.2h2.4M271.8 817.2h2.4M276 817.2h2.4M280.2 817.2h2.4M284.3 817.5h2.4M288.5 819.2h2.4M292.7 818.8h2.4M296.9 812.1h2.4M301.1 806.5h2.4M305.3 803.3h2.4M309.4 800.2h2.4M313.6 798.3h2.4M317.8 801.1h2.4M322 803.9h2.4M326.2 804.8h2.4M330.4 805.5h2.4M334.5 807.8h2.4M338.7 811.3h2.4M342.9 814.9h2.4M347.1 819.1h2.4M351.3 823.3h2.4M355.5 830h2.4M359.6 836.9h2.4M363.8 842.3h2.4M368 846.5h2.4M372.2 850.7h2.4M376.4 855.5h2.4M380.6 861.1h2.4M384.7 866.1h2.4M388.9 867.5h2.4M393.1 868.9h2.4M397.3 871.4h2.4M401.5 874.2h2.4M405.7 877.6h2.4M409.8 881.8h2.4M414 885.7h2.4M418.2 887.8h2.4M422.4 889.9h2.4M426.6 891.9h2.4M430.8 893.3h2.4M434.9 894.7h2.4M439.1 894.1h2.4M443.3 892.7h2.4M447.5 891.9h2.4M451.7 891.9h2.4M455.9 895.4h2.4M460 898.6h2.4M464.2 899.2h2.4M468.4 899.9h2.4M472.6 854.6h2.4M476.8 830h2.4M481 821.6h2.4M485.1 797h2.4M489.3 766.6h2.4M493.5 728.9h2.4M497.7 721.2h2.4M501.9 723.3h2.4M506.1 733.8h2.4M510.2 741.3h2.4M514.4 745.5h2.4M518.6 730.4h2.4M522.8 716h2.4M527 705.5h2.4M531.2 688.5h2.4M535.3 712.3h2.4M539.5 720.7h2.4M543.7 729h2.4M547.9 738.7h2.4M552.1 748.5h2.4M556.3 757.4h2.4M560.4 765.7h2.4M564.6 775.3h2.4M568.8 787.8h2.4M573 803.4h2.4M577.2 819.8h2.4M581.4 834.4h2.4M585.5 845.1h2.4M589.7 853.5h2.4M593.9 861.3h2.4M598.1 867.5h2.4M602.3 873.8h2.4M606.5 874h2.4M610.6 874h2.4M614.8 876.2h2.4M619 879.7h2.4M623.2 883.9h2.4M627.4 889.4h2.4M631.6 895h2.4M635.7 897.7h2.4M639.9 900.3h2.4M644.1 902.9h2.4M648.3 904.1h2.4M652.5 905.2h2.4M656.7 906.2h2.4M660.8 907.7h2.4M665 909.3h2.4M669.2 910.8h2.4M673.4 912.7h2.4M677.6 914.8h2.4M681.8 916.9h2.4M685.9 918.4h2.4M690.1 919.5h2.4M694.3 920.5h2.4M698.5 921.6h2.4M702.7 922.6h2.4M706.8 923.6h2.4M711 924.7h2.4M715.2 925.7h2.4M719.4 926.8h2.4M723.6 927.6h2.4M727.8 927.6h2.4M731.9 927.6h2.4M736.1 927.5h2.4M740.3 927h2.4M744.5 926.4h2.4M748.7 925.9h2.4M752.9 924.8h2.4M757 923.8h2.4M761.2 922.7h2.4M765.4 923.4h2.4M769.6 924h2.4M773.8 925.6h2.4M778 924h2.4M782.1 836.9h2.4M786.3 728.4h2.4M790.5 682.4h2.4M794.7 682.2h2.4M798.9 683.6h2.4M803.1 685.9h2.4M807.2 688.7h2.4M811.4 694.5h2.4M815.6 707.1h2.4M819.8 710.1h2.4M824 672.7h2.4M828.2 675.1h2.4M832.3 685.5h2.4M836.5 692.4h2.4M840.7 699.9h2.4M844.9 708.2h2.4M849.1 716.6h2.4M853.3 722.9h2.4M857.4 729.1h2.4M861.6 735.4h2.4M865.8 744.8h2.4M870 754.6h2.4M874.2 764.3h2.4M878.4 774.1h2.4M882.5 783.1h2.4M886.7 789.7h2.4M890.9 796.3h2.4M895.1 802.9h2.4M899.3 809.5h2.4M903.5 816.1h2.4M907.6 822.7h2.4M911.8 825.5h2.4M916 827.6h2.4M920.2 829.7h2.4M924.4 832.7h2.4M928.6 836h2.4M932.7 839.4h2.4M936.9 842.7h2.4M941.1 808.4h2.4M945.3 783.3h2.4M949.5 784.6h2.4M953.7 787.9h2.4M957.8 797.6h2.4M962 807.4h2.4M966.2 816.2h2.4M970.4 824.6h2.4M974.6 832.3h2.4M978.8 838.5h2.4M982.9 844.8h2.4M987.1 850.9h2.4M991.3 856.1h2.4M995.5 861.3h2.4M999.7 866.4h2.4M1003.9 870.6h2.4M1008 874.8h2.4M1012.2 878.9h2.4M1016.4 882.6h2.4M1020.6 886.3h2.4M1024.8 889.9h2.4M1029 892.6h2.4M1033.1 895.2h2.4M1037.3 897.9h2.4M1041.5 898.3h2.4M1045.7 898.3h2.4M1049.9 898.3h2.4M1054.1 899.6h2.4M1058.2 901.4h2.4M1062.4 903.2h2.4M1066.6 888.3h2.4M1070.8 887h2.4M1075 886.4h2.4M1079.2 885.9h2.4M1083.3 885.4h2.4M1087.5 886.4h2.4M1091.7 887.4h2.4M1095.9 888.4h2.4M1100.1 890.4h2.4M1104.3 892.5h2.4M1108.4 894.6h2.4M1112.6 894.7h2.4M1116.8 894.2h2.4M1121 893.7h2.4M1125.2 893.1h2.4M1129.4 892.6h2.4M1133.5 892.1h2.4M1137.7 892.1h2.4M1141.9 892.7h2.4M1146.1 893.2h2.4M1150.3 893.7h2.4M1154.5 894.2h2.4M1158.6 894.7h2.4M1162.8 896.2h2.4M1167 899.7h2.4M1171.2 903.2h2.4M1175.4 903.2h2.4M1179.6 903.2h2.4M1183.7 903.2h2.4M1187.9 903.3h2.4M1192.1 903.6h2.4M1196.3 904h2.4M1200.5 904.3h2.4M1204.7 904.7h2.4M1208.8 901.9h2.4M1213 895.6h2.4M1217.2 893.8h2.4M1221.4 892.4h2.4M1225.6 893.1h2.4M1229.8 895.2h2.4M1233.9 896.9h2.4M1238.1 897.4h2.4M1242.3 897.9h2.4M1246.5 898.4h2.4M1250.7 899h2.4M1254.9 899.6h2.4M1259 900.2h2.4M1263.2 900.8h2.4M1267.4 901.4h2.4"/>
<polyline fill="none" stroke="#008000" stroke-width="6" stroke-linejoin="round" points="122.4,752.3 126.6,749.5 130.8,751.6 134.9,755 139.1,759.2 143.3,763.4 147.5,761.2 151.7,753.9 155.9,754.6 160,755.3 164.2,754.8 168.4,753.8 172.6,752.7 176.8,753.2 181,754.8 185.1,756.3 189.3,756.2 193.5,754.1 197.7,752 201.9,750.9 206.1,751.4 210.2,751.9 214.4,752 218.6,751 222.8,749.9 227,749.2 231.2,750.3 235.3,751.3 239.5,752.4 243.7,754.5 247.9,756.6 252.1,758.7 256.3,763.7 260.4,762.7 264.6,752.3 268.8,750.7 273,750.7 277.2,750.7 281.4,751.7 285.5,753.1 289.7,753 293.9,750.9 298.1,748.7 302.3,744.5 306.5,740.3 310.6,736.9 314.8,735 319,737.8 323.2,740.6 327.4,740 331.6,739 335.7,737.9 339.9,738.9 344.1,740.5 348.3,742 352.5,745.4 356.7,749.6 360.8,753 365,755.1 369.2,757.2 373.4,759.6 377.6,763.1 381.8,766.6 385.9,770.1 390.1,773.6 394.3,775.3 398.5,775.8 402.7,776.4 406.9,779.7 411,785.9 415.2,791.7 419.4,794.9 423.6,798 427.8,801.2 432,804.6 436.1,808.1 440.3,808.1 444.5,806.7 448.7,806.1 452.9,806.8 457.1,807.9 461.2,814.2 465.4,820.1 469.6,807 473.8,763.4 478,736.2 482.2,715.7 486.3,698.9 490.5,683 494.7,668.7 498.9,662 503.1,668.1 507.3,676.4 511.4,681.9 515.6,684 519.8,668.8 524,653.6 528.2,641 532.4,645.5 536.5,653.9 540.7,662.2 544.9,669.1 549.1,675.4 553.3,681.7 557.5,686.7 561.6,690.8 565.8,695 570,700.6 574.2,707.6 578.4,714.8 582.6,723.2 586.7,731.5 590.9,738.7 595.1,745.7 599.3,751.2 603.5,755.4 607.7,759.2 611.8,761.3 616,766 620.2,772.5 624.4,780.9 628.6,788.5 632.8,795.5 636.9,802.7 641.1,811.1 645.3,819.5 649.5,824.1 653.7,828.3 657.9,832.5 662,836.7 666.2,840.9 670.4,845.1 674.6,849.9 678.8,855.2 683,860.4 687.1,864.1 691.3,866.8 695.5,869.4 699.7,871.5 703.9,873.1 708,874.6 712.2,876.2 716.4,877.8 720.6,879.3 724.8,880.8 729,881.8 733.1,882.9 737.3,883.7 741.5,883.1 745.7,882.6 749.9,882 754.1,880.5 758.2,878.9 762.4,877.3 766.6,878.6 770.8,880 775,881.8 779.2,877.7 783.3,752 787.5,644.5 791.7,643.1 795.9,640.7 800.1,634.5 804.3,626.9 808.4,619.8 812.6,626 816.8,633.4 821,634.5 825.2,626.1 829.4,628.2 833.5,626.2 837.7,623 841.9,628.6 846.1,634.2 850.3,639.8 854.5,645.3 858.6,650.9 862.8,656.5 867,662 871.2,667.3 875.4,672.5 879.6,677.7 883.7,682.9 887.9,688.1 892.1,693.3 896.3,698.6 900.5,703.8 904.7,709 908.8,714.2 913,715.4 917.2,715.9 921.4,716.5 925.6,717.8 929.8,719.3 933.9,720.9 938.1,720.1 942.3,695 946.5,671.3 950.7,671.8 954.9,674.4 959,706 963.2,696.8 967.4,693.4 971.6,697.6 975.8,702.1 980,707.3 984.1,712.5 988.3,717.5 992.5,721.7 996.7,725.9 1000.9,730.1 1005.1,734.3 1009.2,738.5 1013.4,742.7 1017.6,752.2 1021.8,756.8 1026,756.1 1030.2,756.1 1034.3,760.3 1038.5,764.5 1042.7,770.9 1046.9,777.9 1051.1,782.5 1055.3,784.6 1059.4,787 1063.6,791.2 1067.8,764.1 1072,758.8 1076.2,758.8 1080.4,758.8 1084.5,758.8 1088.7,758.1 1092.9,757.4 1097.1,758.5 1101.3,760.6 1105.5,762.6 1109.6,764.7 1113.8,766.8 1118,764.9 1122.2,762.8 1126.4,764 1130.6,766.7 1134.7,764.6 1138.9,762.5 1143.1,761.5 1147.3,760.8 1151.5,760.6 1155.7,761.2 1159.8,761.7 1164,763.4 1168.2,767.6 1172.4,771.8 1176.6,772.5 1180.8,773.2 1184.9,773.4 1189.1,773.4 1193.3,773.4 1197.5,773.8 1201.7,774.5 1205.9,775.8 1210,778.9 1214.2,777 1218.4,772.8 1222.6,768.6 1226.8,767.5 1231,768.7 1235.1,772.8 1239.3,776.7 1243.5,780.2 1247.7,782.8 1251.9,780.7 1256.1,778.6 1260.2,780 1264.4,781.2 1268.6,780.2"/>
<path fill="none" stroke="#c8c8c8" stroke-width="2.4" d="M122.4 732.6V772M126.6 729.8V769.2M130.8 731.9V771.2M134.9 735.4V774.7M139.1 739.6V778.8M143.3 743.9V783M147.5 741.7V780.7M151.7 734.4V773.4M155.9 735.1V774.1M160 735.9V774.7M164.2 735.4V774.2M168.4 734.4V773.2M172.6 733.4V772.1M176.8 733.9V772.5M181 735.5V774M185.1 737.1V775.6M189.3 737V775.4M193.5 734.9V773.3M197.7 732.8V771.2M201.9 731.7V770M206.1 732.3V770.5M210.2 732.8V771M214.4 733V771.1M218.6 732V770M222.8 730.9V768.9M227 730.3V768.2M231.2 731.3V769.2M235.3 732.4V770.2M239.5 733.5V771.3M243.7 735.7V773.3M247.9 737.8V775.4M252.1 739.9V777.4M256.3 745V782.5M260.4 744V781.4M264.6 733.6V771M268.8 732V769.3M273 732V769.3M277.2 732.1V769.3M281.4 733.1V770.3M285.5 734.6V771.6M289.7 734.5V771.5M293.9 732.5V769.4M298.1 730.2V767.1M302.3 726.1V762.9M306.5 721.9V758.7M310.6 718.6V755.3M314.8 716.7V753.3M319 719.5V756.1M323.2 722.3V758.9M327.4 721.8V758.2M331.6 720.8V757.2M335.7 719.7V756.1M339.9 720.8V757M344.1 722.4V758.6M348.3 724V760.1M352.5 727.3V763.4M356.7 731.5V767.6M360.8 735V771M365 737.1V773.1M369.2 739.3V775.1M373.4 741.7V777.5M377.6 745.2V781M381.8 748.7V784.4M385.9 752.3V787.9M390.1 755.8V791.4M394.3 757.6V793.1M398.5 758.1V793.6M402.7 758.7V794.1M406.9 762V797.3M411 768.3V803.6M415.2 774.1V809.3M419.4 777.3V812.4M423.6 780.4V815.5M427.8 783.6V818.7M432 787.2V822.1M436.1 790.7V825.6M440.3 790.6V825.5M444.5 789.3V824.1M448.7 788.7V823.5M452.9 789.5V824.2M457.1 790.6V825.2M461.2 796.9V831.5M465.4 802.8V837.3M469.6 789.7V824.2M473.8 746.2V780.6M478 719V753.3M482.2 698.5V732.8M486.3 681.8V716M490.5 665.9V700M494.7 651.7V685.8M498.9 645V679M503.1 651.1V685.1M507.3 659.5V693.4M511.4 664.9V698.8M515.6 667.1V700.8M519.8 651.9V685.6M524 636.7V670.4M528.2 624.2V657.8M532.4 628.7V662.3M536.5 637.1V670.6M540.7 645.5V678.9M544.9 652.4V685.8M549.1 658.7V692M553.3 665V698.3M557.5 670.1V703.3M561.6 674.3V707.4M565.8 678.5V711.6M570 684.1V717.1M574.2 691.1V724.1M578.4 698.4V731.3M582.6 706.8V739.6M586.7 715.2V747.9M590.9 722.4V755.1M595.1 729.4V762M599.3 734.9V767.5M603.5 739.1V771.7M607.7 742.9V775.4M611.8 745.1V777.5M616 749.9V782.2M620.2 756.4V788.7M624.4 764.8V797M628.6 772.6V804.4M632.8 779.7V811.2M636.9 787.1V818.3M641.1 795.7V826.5M645.3 804.2V834.7M649.5 809.1V839.2M653.7 813.5V843.2M657.9 817.8V847.2M662 822.2V851.2M666.2 826.5V855.2M670.4 830.9V859.2M674.6 836V863.9M678.8 841.4V869M683 846.8V874M687.1 850.7V877.6M691.3 853.3V880.2M695.5 855.9V882.8M699.7 858.1V884.9M703.9 859.6V886.5M708 861.2V888.1M712.2 862.8V889.6M716.4 864.3V891.2M720.6 865.9V892.8M724.8 867.3V894.2M729 868.4V895.2M733.1 869.4V896.3M737.3 870.2V897.1M741.5 869.7V896.6M745.7 869.2V896M749.9 868.6V895.5M754.1 867V893.9M758.2 865.5V892.3M762.4 863.9V890.8M766.6 865.1V892M770.8 866.5V893.4M775 868.4V895.2M779.2 864.3V891.2M783.3 737.1V766.9M787.5 628V660.9M791.7 625.2V661M795.9 622.8V658.6M800.1 616.6V652.3M804.3 609V644.7M808.4 601.9V637.6M812.6 608.2V643.9M816.8 615.6V651.2M821 616.7V652.3M825.2 608.4V643.9M829.4 610.5V646M833.5 608.5V644M837.7 605.3V640.8M841.9 610.9V646.3M846.1 616.5V651.9M850.3 622.1V657.5M854.5 627.7V663M858.6 633.3V668.6M862.8 638.9V674.1M867 644.4V679.7M871.2 649.7V684.9M875.4 654.9V690.1M879.6 660.1V695.3M883.7 665.4V700.5M887.9 670.6V705.7M892.1 675.8V710.9M896.3 681V716.1M900.5 686.3V721.3M904.7 691.5V726.5M908.8 696.7V731.6M913 698V732.9M917.2 698.5V733.4M921.4 699V733.9M925.6 700.3V735.2M929.8 701.9V736.7M933.9 703.5V738.3M938.1 702.8V737.5M942.3 677.6V712.3M946.5 653.9V688.6M950.7 654.5V689.2M954.9 657.1V691.7M959 688.8V723.3M963.2 679.5V714.1M967.4 676.1V710.6M971.6 680.3V714.8M975.8 684.9V719.3M980 690.1V724.5M984.1 695.4V729.7M988.3 700.4V734.7M992.5 704.6V738.9M996.7 708.8V743M1000.9 713V747.2M1005.1 717.2V751.4M1009.2 721.4V755.5M1013.4 725.7V759.8M1017.6 735.1V769.2M1021.8 739.8V773.9M1026 739.1V773.2M1030.2 739.1V773.1M1034.3 743.3V777.3M1038.5 747.5V781.5M1042.7 754V787.9M1046.9 761V794.9M1051.1 765.6V799.4M1055.3 767.7V801.5M1059.4 770.1V803.9M1063.6 774.3V808.1M1067.8 747.2V780.9M1072 741.9V775.6M1076.2 741.9V775.6M1080.4 742V775.6M1084.5 742V775.6M1088.7 741.3V774.9M1092.9 740.6V774.2M1097.1 741.7V775.2M1101.3 743.8V777.3M1105.5 745.9V779.4M1109.6 748V781.4M1113.8 750.1V783.5M1118 748.2V781.6M1122.2 746.1V779.4M1126.4 747.4V780.7M1130.6 750.1V783.3M1134.7 748V781.2M1138.9 745.9V779.1M1143.1 744.9V778.1M1147.3 744.2V777.4M1151.5 744.1V777.2M1155.7 744.6V777.7M1159.8 745.1V778.2M1164 746.9V779.9M1168.2 751.1V784.1M1172.4 755.3V788.2M1176.6 756V788.9M1180.8 756.7V789.6M1184.9 757V789.8M1189.1 757V789.8M1193.3 757V789.8M1197.5 757.4V790.2M1201.7 758.1V790.8M1205.9 759.4V792.1M1210 762.6V795.2M1214.2 760.7V793.3M1218.4 756.5V789.1M1222.6 752.3V784.9M1226.8 751.2V783.8M1231 752.4V784.9M1235.1 756.6V789.1M1239.3 760.5V792.9M1243.5 764V796.4M1247.7 766.6V799M1251.9 764.5V796.9M1256.1 762.4V794.8M1260.2 763.8V796.1M1264.4 765.1V797.3M1268.6 764V796.3"/>
<polyline fill="none" stroke="#000" stroke-width="1.4" stroke-linejoin="round" points="122.4,752.3 126.6,749.5 130.8,751.6 134.9,755 139.1,759.2 143.3,763.4 147.5,761.2 151.7,753.9 155.9,754.6 160,755.3 164.2,754.8 168.4,753.8 172.6,752.7 176.8,753.2 181,754.8 185.1,756.3 189.3,756.2 193.5,754.1 197.7,752 201.9,750.9 206.1,751.4 210.2,751.9 214.4,752 218.6,751 222.8,749.9 227,749.2 231.2,750.3 235.3,751.3 239.5,752.4 243.7,754.5 247.9,756.6 252.1,758.7 256.3,763.7 260.4,762.7 264.6,752.3 268.8,750.7 273,750.7 277.2,750.7 281.4,751.7 285.5,753.1 289.7,753 293.9,750.9 298.1,748.7 302.3,744.5 306.5,740.3 310.6,736.9 314.8,735 319,737.8 323.2,740.6 327.4,740 331.6,739 335.7,737.9 339.9,738.9 344.1,740.5 348.3,742 352.5,745.4 356.7,749.6 360.8,753 365,755.1 369.2,757.2 373.4,759.6 377.6,763.1 381.8,766.6 385.9,770.1 390.1,773.6 394.3,775.3 398.5,775.8 402.7,776.4 406.9,779.7 411,785.9 415.2,791.7 419.4,794.9 423.6,798 427.8,801.2 432,804.6 436.1,808.1 440.3,808.1 444.5,806.7 448.7,806.1 452.9,806.8 457.1,807.9 461.2,814.2 465.4,820.1 469.6,807 473.8,763.4 478,736.2 482.2,715.7 486.3,698.9 490.5,683 494.7,668.7 498.9,662 503.1,668.1 507.3,676.4 511.4,681.9 515.6,684 519.8,668.8 524,653.6 528.2,641 532.4,645.5 536.5,653.9 540.7,662.2 544.9,669.1 549.1,675.4 553.3,681.7 557.5,686.7 561.6,690.8 565.8,695 570,700.6 574.2,707.6 578.4,714.8 582.6,723.2 586.7,731.5 590.9,738.7 595.1,745.7 599.3,751.2 603.5,755.4 607.7,759.2 611.8,761.3 616,766 620.2,772.5 624.4,780.9 628.6,788.5 632.8,795.5 636.9,802.7 641.1,811.1 645.3,819.5 649.5,824.1 653.7,828.3 657.9,832.5 662,836.7 666.2,840.9 670.4,845.1 674.6,849.9 678.8,855.2 683,860.4 687.1,864.1 691.3,866.8 695.5,869.4 699.7,871.5 703.9,873.1 708,874.6 712.2,876.2 716.4,877.8 720.6,879.3 724.8,880.8 729,881.8 733.1,882.9 737.3,883.7 741.5,883.1 745.7,882.6 749.9,882 754.1,880.5 758.2,878.9 762.4,877.3 766.6,878.6 770.8,880 775,881.8 779.2,877.7 783.3,752 787.5,644.5 791.7,643.1 795.9,640.7 800.1,634.5 804.3,626.9 808.4,619.8 812.6,626 816.8,633.4 821,634.5 825.2,626.1 829.4,628.2 833.5,626.2 837.7,623 841.9,628.6 846.1,634.2 850.3,639.8 854.5,645.3 858.6,650.9 862.8,656.5 867,662 871.2,667.3 875.4,672.5 879.6,677.7 883.7,682.9 887.9,688.1 892.1,693.3 896.3,698.6 900.5,703.8 904.7,709 908.8,714.2 913,715.4 917.2,715.9 921.4,716.5 925.6,717.8 929.8,719.3 933.9,720.9 938.1,720.1 942.3,695 946.5,671.3 950.7,671.8 954.9,674.4 959,706 963.2,696.8 967.4,693.4 971.6,697.6 975.8,702.1 980,707.3 984.1,712.5 988.3,717.5 992.5,721.7 996.7,725.9 1000.9,730.1 1005.1,734.3 1009.2,738.5 1013.4,742.7 1017.6,752.2 1021.8,756.8 1026,756.1 1030.2,756.1 1034.3,760.3 1038.5,764.5 1042.7,770.9 1046.9,777.9 1051.1,782.5 1055.3,784.6 1059.4,787 1063.6,791.2 1067.8,764.1 1072,758.8 1076.2,758.8 1080.4,758.8 1084.5,758.8 1088.7,758.1 1092.9,757.4 1097.1,758.5 1101.3,760.6 1105.5,762.6 1109.6,764.7 1113.8,766.8 1118,764.9 1122.2,762.8 1126.4,764 1130.6,766.7 1134.7,764.6 1138.9,762.5 1143.1,761.5 1147.3,760.8 1151.5,760.6 1155.7,761.2 1159.8,761.7 1164,763.4 1168.2,767.6 1172.4,771.8 1176.6,772.5 1180.8,773.2 1184.9,773.4 1189.1,773.4 1193.3,773.4 1197.5,773.8 1201.7,774.5 1205.9,775.8 1210,778.9 1214.2,777 1218.4,772.8 1222.6,768.6 1226.8,767.5 1231,768.7 1235.1,772.8 1239.3,776.7 1243.5,780.2 1247.7,782.8 1251.9,780.7 1256.1,778.6 1260.2,780 1264.4,781.2 1268.6,780.2"/><path fill="none" stroke="#000" stroke-width="2.4" d="M121.2 752.3h2.4M125.4 749.5h2.4M129.6 751.6h2.4M133.7 755h2.4M137.9 759.2h2.4M142.1 763.4h2.4M146.3 761.2h2.4M150.5 753.9h2.4M154.7 754.6h2.4M158.8 755.3h2.4M163 754.8h2.4M167.2 753.8h2.4M171.4 752.7h2.4M175.6 753.2h2.4M179.8 754.8h2.4M183.9 756.3h2.4M188.1 756.2h2.4M192.3 754.1h2.4M196.5 752h2.4M200.7 750.9h2.4M204.9 751.4h2.4M209 751.9h2.4M213.2 752h2.4M217.4 751h2.4M221.6 749.9h2.4M225.8 749.2h2.4M230 750.3h2.4M234.1 751.3h2.4M238.3 752.4h2.4M242.5 754.5h2.4M246.7 756.6h2.4M250.9 758.7h2.4M255.1 763.7h2.4M259.2 762.7h2.4M263.4 752.3h2.4M267.6 750.7h2.4M271.8 750.7h2.4M276 750.7h2.4M280.2 751.7h2.4M284.3 753.1h2.4M288.5 753h2.4M292.7 750.9h2.4M296.9 748.7h2.4M301.1 744.5h2.4M305.3 740.3h2.4M309.4 736.9h2.4M313.6 735h2.4M317.8 737.8h2.4M322 740.6h2.4M326.2 740h2.4M330.4 739h2.4M334.5 737.9h2.4M338.7 738.9h2.4M342.9 740.5h2.4M347.1 742h2.4M351.3 745.4h2.4M355.5 749.6h2.4M359.6 753h2.4M363.8 755.1h2.4M368 757.2h2.4M372.2 759.6h2.4M376.4 763.1h2.4M380.6 766.6h2.4M384.7 770.1h2.4M388.9 773.6h2.4M393.1 775.3h2.4M397.3 775.8h2.4M401.5 776.4h2.4M405.7 779.7h2.4M409.8 785.9h2.4M414 791.7h2.4M418.2 794.9h2.4M422.4 798h2.4M426.6 801.2h2.4M430.8 804.6h2.4M434.9 808.1h2.4M439.1 808.1h2.4M443.3 806.7h2.4M447.5 806.1h2.4M451.7 806.8h2.4M455.9 807.9h2.4M460 814.2h2.4M464.2 820.1h2.4M468.4 807h2.4M472.6 763.4h2.4M476.8 736.2h2.4M481 715.7h2.4M485.1 698.9h2.4M489.3 683h2.4M493.5 668.7h2.4M497.7 662h2.4M501.9 668.1h2.4M506.1 676.4h2.4M510.2 681.9h2.4M514.4 684h2.4M518.6 668.8h2.4M522.8 653.6h2.4M527 641h2.4M531.2 645.5h2.4M535.3 653.9h2.4M539.5 662.2h2.4M543.7 669.1h2.4M547.9 675.4h2.4M552.1 681.7h2.4M556.3 686.7h2.4M560.4 690.8h2.4M564.6 695h2.4M568.8 700.6h2.4M573 707.6h2.4M577.2 714.8h2.4M581.4 723.2h2.4M585.5 731.5h2.4M589.7 738.7h2.4M593.9 745.7h2.4M598.1 751.2h2.4M602.3 755.4h2.4M606.5 759.2h2.4M610.6 761.3h2.4M614.8 766h2.4M619 772.5h2.4M623.2 780.9h2.4M627.4 788.5h2.4M631.6 795.5h2.4M635.7 802.7h2.4M639.9 811.1h2.4M644.1 819.5h2.4M648.3 824.1h2.4M652.5 828.3h2.4M656.7 832.5h2.4M660.8 836.7h2.4M665 840.9h2.4M669.2 845.1h2.4M673.4 849.9h2.4M677.6 855.2h2.4M681.8 860.4h2.4M685.9 864.1h2.4M690.1 866.8h2.4M694.3 869.4h2.4M698.5 871.5h2.4M702.7 873.1h2.4M706.8 874.6h2.4M711 876.2h2.4M715.2 877.8h2.4M719.4 879.3h2.4M723.6 880.8h2.4M727.8 881.8h2.4M731.9 882.9h2.4M736.1 883.7h2.4M740.3 883.1h2.4M744.5 882.6h2.4M748.7 882h2.4M752.9 880.5h2.4M757 878.9h2.4M761.2 877.3h2.4M765.4 878.6h2.4M769.6 880h2.4M773.8 881.8h2.4M778 877.7h2.4M782.1 752h2.4M786.3 644.5h2.4M790.5 643.1h2.4M794.7 640.7h2.4M798.9 634.5h2.4M803.1 626.9h2.4M807.2 619.8h2.4M811.4 626h2.4M815.6 633.4h2.4M819.8 634.5h2.4M824 626.1h2.4M828.2 628.2h2.4M832.3 626.2h2.4M836.5 623h2.4M840.7 628.6h2.4M844.9 634.2h2.4M849.1 639.8h2.4M853.3 645.3h2.4M857.4 650.9h2.4M861.6 656.5h2.4M865.8 662h2.4M870 667.3h2.4M874.2 672.5h2.4M878.4 677.7h2.4M882.5 682.9h2.4M886.7 688.1h2.4M890.9 693.3h2.4M895.1 698.6h2.4M899.3 703.8h2.4M903.5 709h2.4M907.6 714.2h2.4M911.8 715.4h2.4M916 715.9h2.4M920.2 716.5h2.4M924.4 717.8h2.4M928.6 719.3h2.4M932.7 720.9h2.4M936.9 720.1h2.4M941.1 695h2.4M945.3 671.3h2.4M949.5 671.8h2.4M953.7 674.4h2.4M957.8 706h2.4M962 696.8h2.4M966.2 693.4h2.4M970.4 697.6h2.4M974.6 702.1h2.4M978.8 707.3h2.4M982.9 712.5h2.4M987.1 717.5h2.4M991.3 721.7h2.4M995.5 725.9h2.4M999.7 730.1h2.4M1003.9 734.3h2.4M1008 738.5h2.4M1012.2 742.7h2.4M1016.4 752.2h2.4M1020.6 756.8h2.4M1024.8 756.1h2.4M1029 756.1h2.4M1033.1 760.3h2.4M1037.3 764.5h2.4M1041.5 770.9h2.4M1045.7 777.9h2.4M1049.9 782.5h2.4M1054.1 784.6h2.4M1058.2 787h2.4M1062.4 791.2h2.4M1066.6 764.1h2.4M1070.8 758.8h2.4M1075 758.8h2.4M1079.2 758.8h2.4M1083.3 758.8h2.4M1087.5 758.1h2.4M1091.7 757.4h2.4M1095.9 758.5h2.4M1100.1 760.6h2.4M1104.3 762.6h2.4M1108.4 764.7h2.4M1112.6 766.8h2.4M1116.8 764.9h2.4M1121 762.8h2.4M1125.2 764h2.4M1129.4 766.7h2.4M1133.5 764.6h2.4M1137.7 762.5h2.4M1141.9 761.5h2.4M1146.1 760.8h2.4M1150.3 760.6h2.4M1154.5 761.2h2.4M1158.6 761.7h2.4M1162.8 763.4h2.4M1167 767.6h2.4M1171.2 771.8h2.4M1175.4 772.5h2.4M1179.6 773.2h2.4M1183.7 773.4h2.4M1187.9 773.4h2.4M1192.1 773.4h2.4M1196.3 773.8h2.4M1200.5 774.5h2.4M1204.7 775.8h2.4M1208.8 778.9h2.4M1213 777h2.4M1217.2 772.8h2.4M1221.4 768.6h2.4M1225.6 767.5h2.4M1229.8 768.7h2.4M1233.9 772.8h2.4M1238.1 776.7h2.4M1242.3 780.2h2.4M1246.5 782.8h2.4M1250.7 780.7h2.4M1254.9 778.6h2.4M1259 780h2.4M1263.2 781.2h2.4M1267.4 780.2h2.4"/>
<polyline fill="none" stroke="#0000ff" stroke-width="6" stroke-linejoin="round" points="122.4,762.8 126.6,763.9 130.8,764.9 134.9,768.9 139.1,748.8 143.3,746.7 147.5,745.8 151.7,745.8 155.9,762.4 160,763.9 164.2,765.5 168.4,767.1 172.6,768.7 176.8,770.2 181,771.8 185.1,771.2 189.3,770.7 193.5,770.2 197.7,770.6 201.9,771.1 206.1,771.7 210.2,772.2 214.4,772.7 218.6,773.2 222.8,774.1 227,775.2 231.2,776.2 235.3,777.9 239.5,780 243.7,780.6 247.9,777.5 252.1,775.6 256.3,774.2 260.4,773.8 264.6,774.8 268.8,775.9 273,776.6 277.2,776.6 281.4,776.6 285.5,773.8 289.7,769.9 293.9,776.9 298.1,770.8 302.3,760.4 306.5,751.8 310.6,744.8 314.8,740.5 319,746 323.2,751.6 327.4,753.2 331.6,754.3 335.7,755.3 339.9,758 344.1,761.1 348.3,764.2 352.5,770.9 356.7,778.9 360.8,784.1 365,789.3 369.2,794.6 373.4,799.8 377.6,805 381.8,810.3 385.9,815.2 390.1,820.1 394.3,822.5 398.5,823.2 402.7,825.3 406.9,831.6 411,837.9 415.2,843.7 419.4,846.8 423.6,849.9 427.8,853 432,854.4 436.1,855.8 440.3,854.6 444.5,852.5 448.7,851.8 452.9,853.2 457.1,854.7 461.2,856.8 465.4,858.9 469.6,840.8 473.8,801.2 478,764.8 482.2,748.1 486.3,726 490.5,706.2 494.7,693.7 498.9,681.1 503.1,693.9 507.3,696 511.4,698.1 515.6,700.2 519.8,688.8 524,675.5 528.2,660.9 532.4,665 536.5,673.3 540.7,681.7 544.9,690.1 549.1,698.4 553.3,706.8 557.5,714.3 561.6,721.3 565.8,728.7 570,737 574.2,745.4 578.4,760.4 582.6,775.7 586.7,786.7 590.9,795.1 595.1,803 599.3,810 603.5,817 607.7,819.2 611.8,821.3 616,826.8 620.2,834.1 624.4,841 628.6,848 632.8,855 636.9,861.9 641.1,866.8 645.3,868.9 649.5,871 653.7,873.1 657.9,875.2 662,877.3 666.2,879.3 670.4,881.4 674.6,883.5 678.8,885.6 683,887.7 687.1,889.8 691.3,891.9 695.5,893.5 699.7,895 703.9,896.6 708,897.7 712.2,898.7 716.4,899.8 720.6,900.8 724.8,901.9 729,902.9 733.1,903.6 737.3,904.1 741.5,904.6 745.7,904.2 749.9,903.2 754.1,902.1 758.2,901.6 762.4,901.6 766.6,901.6 770.8,902.4 775,904.5 779.2,898.4 783.3,755.7 787.5,655.6 791.7,657 795.9,657.9 800.1,656.5 804.3,655.1 808.4,660.3 812.6,666.4 816.8,672 821,677.5 825.2,639.6 829.4,643.7 833.5,667.1 837.7,673.4 841.9,676.1 846.1,678.7 850.3,681.3 854.5,683.9 858.6,686.5 862.8,692.1 867,699 871.2,707 875.4,716.7 879.6,726.4 883.7,733.7 887.9,740.9 892.1,748.2 896.3,755.4 900.5,762.7 904.7,769.9 908.8,777.2 913,780 917.2,782.1 921.4,784.2 925.6,787.5 929.8,791.2 933.9,795 938.1,787.1 942.3,751.9 946.5,734.1 950.7,738.3 954.9,742.5 959,746.7 963.2,752.2 967.4,759.5 971.6,766.9 975.8,774.2 980,781.5 984.1,788.8 988.3,795.7 992.5,800.9 996.7,806.1 1000.9,811.5 1005.1,817.8 1009.2,824 1013.4,830.3 1017.6,834.5 1021.8,838.6 1026,842.8 1030.2,845.1 1034.3,847.2 1038.5,849.3 1042.7,850.9 1046.9,852.5 1051.1,854.1 1055.3,855.8 1059.4,857.6 1063.6,859.4 1067.8,838.7 1072,833.5 1076.2,834 1080.4,834.5 1084.5,835 1088.7,836.5 1092.9,838.1 1097.1,839.7 1101.3,843.5 1105.5,847.7 1109.6,849.7 1113.8,849.7 1118,849.8 1122.2,850.3 1126.4,850.8 1130.6,851.2 1134.7,850.1 1138.9,849.1 1143.1,848.1 1147.3,848.6 1151.5,849.1 1155.7,849.6 1159.8,853.3 1164,857.5 1168.2,861.7 1172.4,863.5 1176.6,864.5 1180.8,865.5 1184.9,865.9 1189.1,865.9 1193.3,865.9 1197.5,866.5 1201.7,867.5 1205.9,868.6 1210,866.2 1214.2,859.9 1218.4,858.1 1222.6,856.7 1226.8,857.8 1231,860.6 1235.1,862.8 1239.3,863.3 1243.5,863.8 1247.7,864.3 1251.9,864.9 1256.1,865.4 1260.2,865.9 1264.4,866.6 1268.6,867.3"/>
<path fill="none" stroke="#c8c8c8" stroke-width="2.4" d="M122.4 744.9V780.7M126.6 746V781.8M130.8 747V782.8M134.9 751.1V786.8M139.1 730.9V766.7M143.3 728.9V764.6M147.5 727.9V763.7M151.7 727.9V763.7M155.9 744.5V780.2M160 746.1V781.8M164.2 747.7V783.4M168.4 749.3V784.9M172.6 750.8V786.5M176.8 752.4V788M181 753.9V789.6M185.1 753.4V789M189.3 752.9V788.5M193.5 752.4V788M197.7 752.8V788.4M201.9 753.4V788.9M206.1 753.9V789.4M210.2 754.4V790M214.4 754.9V790.5M218.6 755.5V791M222.8 756.4V791.9M227 757.4V792.9M231.2 758.5V794M235.3 760.2V795.6M239.5 762.3V797.7M243.7 762.9V798.3M247.9 759.8V795.2M252.1 757.9V793.3M256.3 756.5V791.9M260.4 756.1V791.5M264.6 757.2V792.5M268.8 758.2V793.6M273 759V794.3M277.2 759V794.3M281.4 759V794.3M285.5 756.2V791.5M289.7 752.3V787.6M293.9 759.2V794.5M298.1 753.2V788.5M302.3 742.8V778M306.5 734.2V769.4M310.6 727.2V762.4M314.8 722.9V758.1M319 728.4V763.6M323.2 734V769.2M327.4 735.6V770.8M331.6 736.7V771.8M335.7 737.7V772.9M339.9 740.4V775.5M344.1 743.5V778.7M348.3 746.7V781.8M352.5 753.4V788.5M356.7 761.3V796.4M360.8 766.6V801.7M365 771.8V806.9M369.2 777.1V812.1M373.4 782.3V817.3M377.6 787.5V822.5M381.8 792.8V827.8M385.9 797.7V832.7M390.1 802.6V837.5M394.3 805V840M398.5 805.7V840.7M402.7 807.8V842.8M406.9 814.1V849.1M411 820.4V855.3M415.2 826.2V861.1M419.4 829.3V864.2M423.6 832.5V867.4M427.8 835.5V870.4M432 836.9V871.8M436.1 838.3V873.2M440.3 837.2V872M444.5 835.1V870M448.7 834.4V869.2M452.9 835.8V870.6M457.1 837.3V872.1M461.2 839.4V874.1M465.4 841.5V876.2M469.6 823.4V858.2M473.8 783.9V818.6M478 747.5V782.2M482.2 730.8V765.5M486.3 708.6V743.3M490.5 688.9V723.5M494.7 676.3V711M498.9 663.8V698.4M503.1 676.6V711.2M507.3 678.7V713.3M511.4 680.8V715.4M515.6 682.9V717.5M519.8 671.6V706.1M524 658.2V692.8M528.2 643.6V678.2M532.4 647.7V682.2M536.5 656.1V690.6M540.7 664.5V699M544.9 672.8V707.3M549.1 681.2V715.7M553.3 689.6V724M557.5 697.1V731.6M561.6 704.1V738.5M565.8 711.4V745.9M570 719.8V754.2M574.2 728.2V762.6M578.4 743.2V777.6M582.6 758.5V792.9M586.7 769.5V803.9M590.9 777.9V812.3M595.1 785.9V820.2M599.3 792.8V827.2M603.5 799.8V834.1M607.7 802.1V836.4M611.8 804.2V838.5M616 809.6V843.9M620.2 816.9V851.2M624.4 823.9V858.1M628.6 830.9V865.1M632.8 837.9V872.1M636.9 844.8V879M641.1 849.7V883.9M645.3 851.8V886M649.5 853.9V888.1M653.7 856V890.1M657.9 858.1V892.2M662 860.2V894.3M666.2 862.3V896.4M670.4 864.4V898.5M674.6 866.5V900.6M678.8 868.6V902.7M683 870.7V904.7M687.1 872.8V906.8M691.3 874.9V908.9M695.5 876.4V910.5M699.7 878V912M703.9 879.6V913.6M708 880.7V914.7M712.2 881.7V915.7M716.4 882.8V916.8M720.6 883.8V917.8M724.8 884.9V918.8M729 885.9V919.9M733.1 886.6V920.5M737.3 887.2V921.1M741.5 887.7V921.6M745.7 887.3V921.1M749.9 886.2V920.1M754.1 885.2V919M758.2 884.7V918.5M762.4 884.7V918.5M766.6 884.7V918.5M770.8 885.5V919.3M775 887.6V921.4M779.2 881.5V915.3M783.3 738.8V772.6M787.5 638.8V672.5M791.7 640.2V673.9M795.9 641V674.8M800.1 639.7V673.3M804.3 638.3V671.9M808.4 643.5V677.2M812.6 649.6V683.2M816.8 655.1V688.8M821 660.7V694.4M825.2 622.7V656.4M829.4 626.9V660.5M833.5 650.3V683.9M837.7 656.7V690.2M841.9 659.3V692.8M846.1 661.9V695.5M850.3 664.5V698.1M854.5 667.1V700.7M858.6 669.8V703.3M862.8 675.3V708.8M867 682.3V715.8M871.2 690.2V723.7M875.4 700V733.5M879.6 709.7V743.2M883.7 717V750.4M887.9 724.2V757.6M892.1 731.5V764.9M896.3 738.7V772.1M900.5 746V779.4M904.7 753.2V786.6M908.8 760.5V793.8M913 763.4V796.7M917.2 765.5V798.8M921.4 767.6V800.9M925.6 770.9V804.2M929.8 774.6V807.9M933.9 778.3V811.6M938.1 770.5V803.7M942.3 735.3V768.6M946.5 717.5V750.7M950.7 721.7V754.9M954.9 725.9V759.1M959 730.1V763.3M963.2 735.6V768.8M967.4 743V776.1M971.6 750.3V783.4M975.8 757.6V790.8M980 764.9V798.1M984.1 772.3V805.4M988.3 779.1V812.2M992.5 784.4V817.5M996.7 789.6V822.7M1000.9 795V828M1005.1 801.2V834.3M1009.2 807.5V840.6M1013.4 813.8V846.8M1017.6 817.9V851M1021.8 822.1V855.1M1026 826.3V859.3M1030.2 828.6V861.6M1034.3 830.7V863.7M1038.5 832.8V865.7M1042.7 834.5V867.4M1046.9 836V869M1051.1 837.6V870.5M1055.3 839.4V872.3M1059.4 841.1V874M1063.6 842.9V875.8M1067.8 822.3V855.1M1072 817V849.9M1076.2 817.6V850.4M1080.4 818.1V850.9M1084.5 818.6V851.4M1088.7 820.1V852.9M1092.9 821.7V854.5M1097.1 823.3V856.1M1101.3 827.1V859.8M1105.5 831.3V864M1109.6 833.3V866M1113.8 833.3V866M1118 833.4V866.1M1122.2 833.9V866.6M1126.4 834.5V867.1M1130.6 834.9V867.5M1134.7 833.8V866.5M1138.9 832.8V865.4M1143.1 831.7V864.4M1147.3 832.2V864.9M1151.5 832.8V865.4M1155.7 833.3V865.9M1159.8 837.1V869.6M1164 841.2V873.8M1168.2 845.4V878M1172.4 847.2V879.7M1176.6 848.2V880.8M1180.8 849.3V881.8M1184.9 849.6V882.1M1189.1 849.6V882.1M1193.3 849.7V882.1M1197.5 850.3V882.7M1201.7 851.3V883.8M1205.9 852.4V884.8M1210 850V882.4M1214.2 843.7V876.1M1218.4 841.9V874.3M1222.6 840.5V872.9M1226.8 841.6V874M1231 844.4V876.8M1235.1 846.6V878.9M1239.3 847.1V879.5M1243.5 847.7V880M1247.7 848.2V880.5M1251.9 848.7V881M1256.1 849.3V881.5M1260.2 849.8V882.1M1264.4 850.5V882.7M1268.6 851.2V883.4"/>
<polyline fill="none" stroke="#000" stroke-width="1.4" stroke-linejoin="round" points="122.4,762.8 126.6,763.9 130.8,764.9 134.9,768.9 139.1,748.8 143.3,746.7 147.5,745.8 151.7,745.8 155.9,762.4 160,763.9 164.2,765.5 168.4,767.1 172.6,768.7 176.8,770.2 181,771.8 185.1,771.2 189.3,770.7 193.5,770.2 197.7,770.6 201.9,771.1 206.1,771.7 210.2,772.2 214.4,772.7 218.6,773.2 222.8,774.1 227,775.2 231.2,776.2 235.3,777.9 239.5,780 243.7,780.6 247.9,777.5 252.1,775.6 256.3,774.2 260.4,773.8 264.6,774.8 268.8,775.9 273,776.6 277.2,776.6 281.4,776.6 285.5,773.8 289.7,769.9 293.9,776.9 298.1,770.8 302.3,760.4 306.5,751.8 310.6,744.8 314.8,740.5 319,746 323.2,751.6 327.4,753.2 331.6,754.3 335.7,755.3 339.9,758 344.1,761.1 348.3,764.2 352.5,770.9 356.7,778.9 360.8,784.1 365,789.3 369.2,794.6 373.4,799.8 377.6,805 381.8,810.3 385.9,815.2 390.1,820.1 394.3,822.5 398.5,823.2 402.7,825.3 406.9,831.6 411,837.9 415.2,843.7 419.4,846.8 423.6,849.9 427.8,853 432,854.4 436.1,855.8 440.3,854.6 444.5,852.5 448.7,851.8 452.9,853.2 457.1,854.7 461.2,856.8 465.4,858.9 469.6,840.8 473.8,801.2 478,764.8 482.2,748.1 486.3,726 490.5,706.2 494.7,693.7 498.9,681.1 503.1,693.9 507.3,696 511.4,698.1 515.6,700.2 519.8,688.8 524,675.5 528.2,660.9 532.4,665 536.5,673.3 540.7,681.7 544.9,690.1 549.1,698.4 553.3,706.8 557.5,714.3 561.6,721.3 565.8,728.7 570,737 574.2,745.4 578.4,760.4 582.6,775.7 586.7,786.7 590.9,795.1 595.1,803 599.3,810 603.5,817 607.7,819.2 611.8,821.3 616,826.8 620.2,834.1 624.4,841 628.6,848 632.8,855 636.9,861.9 641.1,866.8 645.3,868.9 649.5,871 653.7,873.1 657.9,875.2 662,877.3 666.2,879.3 670.4,881.4 674.6,883.5 678.8,885.6 683,887.7 687.1,889.8 691.3,891.9 695.5,893.5 699.7,895 703.9,896.6 708,897.7 712.2,898.7 716.4,899.8 720.6,900.8 724.8,901.9 729,902.9 733.1,903.6 737.3,904.1 741.5,904.6 745.7,904.2 749.9,903.2 754.1,902.1 758.2,901.6 762.4,901.6 766.6,901.6 770.8,902.4 775,904.5 779.2,898.4 783.3,755.7 787.5,655.6 791.7,657 795.9,657.9 800.1,656.5 804.3,655.1 808.4,660.3 812.6,666.4 816.8,672 821,677.5 825.2,639.6 829.4,643.7 833.5,667.1 837.7,673.4 841.9,676.1 846.1,678.7 850.3,681.3 854.5,683.9 858.6,686.5 862.8,692.1 867,699 871.2,707 875.4,716.7 879.6,726.4 883.7,733.7 887.9,740.9 892.1,748.2 896.3,755.4 900.5,762.7 904.7,769.9 908.8,777.2 913,780 917.2,782.1 921.4,784.2 925.6,787.5 929.8,791.2 933.9,795 938.1,787.1 942.3,751.9 946.5,734.1 950.7,738.3 954.9,742.5 959,746.7 963.2,752.2 967.4,759.5 971.6,766.9 975.8,774.2 980,781.5 984.1,788.8 988.3,795.7 992.5,800.9 996.7,806.1 1000.9,811.5 1005.1,817.8 1009.2,824 1013.4,830.3 1017.6,834.5 1021.8,838.6 1026,842.8 1030.2,845.1 1034.3,847.2 1038.5,849.3 1042.7,850.9 1046.9,852.5 1051.1,854.1 1055.3,855.8 1059.4,857.6 1063.6,859.4 1067.8,838.7 1072,833.5 1076.2,834 1080.4,834.5 1084.5,835 1088.7,836.5 1092.9,838.1 1097.1,839.7 1101.3,843.5 1105.5,847.7 1109.6,849.7 1113.8,849.7 1118,849.8 1122.2,850.3 1126.4,850.8 1130.6,851.2 1134.7,850.1 1138.9,849.1 1143.1,848.1 1147.3,848.6 1151.5,849.1 1155.7,849.6 1159.8,853.3 1164,857.5 1168.2,861.7 1172.4,863.5 1176.6,864.5 1180.8,865.5 1184.9,865.9 1189.1,865.9 1193.3,865.9 1197.5,866.5 1201.7,867.5 1205.9,868.6 1210,866.2 1214.2,859.9 1218.4,858.1 1222.6,856.7 1226.8,857.8 1231,860.6 1235.1,862.8 1239.3,863.3 1243.5,863.8 1247.7,864.3 1251.9,864.9 1256.1,865.4 1260.2,865.9 1264.4,866.6 1268.6,867.3"/><path fill="none" stroke="#000" stroke-width="2.4" d="M121.2 762.8h2.4M125.4 763.9h2.4M129.6 764.9h2.4M133.7 768.9h2.4M137.9 748.8h2.4M142.1 746.7h2.4M146.3 745.8h2.4M150.5 745.8h2.4M154.7 762.4h2.4M158.8 763.9h2.4M163 765.5h2.4M167.2 767.1h2.4M171.4 768.7h2.4M175.6 770.2h2.4M179.8 771.8h2.4M183.9 771.2h2.4M188.1 770.7h2.4M192.3 770.2h2.4M196.5 770.6h2.4M200.7 771.1h2.4M204.9 771.7h2.4M209 772.2h2.4M213.2 772.7h2.4M217.4 773.2h2.4M221.6 774.1h2.4M225.8 775.2h2.4M230 776.2h2.4M234.1 777.9h2.4M238.3 780h2.4M242.5 780.6h2.4M246.7 777.5h2.4M250.9 775.6h2.4M255.1 774.2h2.4M259.2 773.8h2.4M263.4 774.8h2.4M267.6 775.9h2.4M271.8 776.6h2.4M276 776.6h2.4M280.2 776.6h2.4M284.3 773.8h2.4M288.5 769.9h2.4M292.7 776.9h2.4M296.9 770.8h2.4M301.1 760.4h2.4M305.3 751.8h2.4M309.4 744.8h2.4M313.6 740.5h2.4M317.8 746h2.4M322 751.6h2.4M326.2 753.2h2.4M330.4 754.3h2.4M334.5 755.3h2.4M338.7 758h2.4M342.9 761.1h2.4M347.1 764.2h2.4M351.3 770.9h2.4M355.5 778.9h2.4M359.6 784.1h2.4M363.8 789.3h2.4M368 794.6h2.4M372.2 799.8h2.4M376.4 805h2.4M380.6 810.3h2.4M384.7 815.2h2.4M388.9 820.1h2.4M393.1 822.5h2.4M397.3 823.2h2.4M401.5 825.3h2.4M405.7 831.6h2.4M409.8 837.9h2.4M414 843.7h2.4M418.2 846.8h2.4M422.4 849.9h2.4M426.6 853h2.4M430.8 854.4h2.4M434.9 855.8h2.4M439.1 854.6h2.4M443.3 852.5h2.4M447.5 851.8h2.4M451.7 853.2h2.4M455.9 854.7h2.4M460 856.8h2.4M464.2 858.9h2.4M468.4 840.8h2.4M472.6 801.2h2.4M476.8 764.8h2.4M481 748.1h2.4M485.1 726h2.4M489.3 706.2h2.4M493.5 693.7h2.4M497.7 681.1h2.4M501.9 693.9h2.4M506.1 696h2.4M510.2 698.1h2.4M514.4 700.2h2.4M518.6 688.8h2.4M522.8 675.5h2.4M527 660.9h2.4M531.2 665h2.4M535.3 673.3h2.4M539.5 681.7h2.4M543.7 690.1h2.4M547.9 698.4h2.4M552.1 706.8h2.4M556.3 714.3h2.4M560.4 721.3h2.4M564.6 728.7h2.4M568.8 737h2.4M573 745.4h2.4M577.2 760.4h2.4M581.4 775.7h2.4M585.5 786.7h2.4M589.7 795.1h2.4M593.9 803h2.4M598.1 810h2.4M602.3 817h2.4M606.5 819.2h2.4M610.6 821.3h2.4M614.8 826.8h2.4M619 834.1h2.4M623.2 841h2.4M627.4 848h2.4M631.6 855h2.4M635.7 861.9h2.4M639.9 866.8h2.4M644.1 868.9h2.4M648.3 871h2.4M652.5 873.1h2.4M656.7 875.2h2.4M660.8 877.3h2.4M665 879.3h2.4M669.2 881.4h2.4M673.4 883.5h2.4M677.6 885.6h2.4M681.8 887.7h2.4M685.9 889.8h2.4M690.1 891.9h2.4M694.3 893.5h2.4M698.5 895h2.4M702.7 896.6h2.4M706.8 897.7h2.4M711 898.7h2.4M715.2 899.8h2.4M719.4 900.8h2.4M723.6 901.9h2.4M727.8 902.9h2.4M731.9 903.6h2.4M736.1 904.1h2.4M740.3 904.6h2.4M744.5 904.2h2.4M748.7 903.2h2.4M752.9 902.1h2.4M757 901.6h2.4M761.2 901.6h2.4M765.4 901.6h2.4M769.6 902.4h2.4M773.8 904.5h2.4M778 898.4h2.4M782.1 755.7h2.4M786.3 655.6h2.4M790.5 657h2.4M794.7 657.9h2.4M798.9 656.5h2.4M803.1 655.1h2.4M807.2 660.3h2.4M811.4 666.4h2.4M815.6 672h2.4M819.8 677.5h2.4M824 639.6h2.4M828.2 643.7h2.4M832.3 667.1h2.4M836.5 673.4h2.4M840.7 676.1h2.4M844.9 678.7h2.4M849.1 681.3h2.4M853.3 683.9h2.4M857.4 686.5h2.4M861.6 692.1h2.4M865.8 699h2.4M870 707h2.4M874.2 716.7h2.4M878.4 726.4h2.4M882.5 733.7h2.4M886.7 740.9h2.4M890.9 748.2h2.4M895.1 755.4h2.4M899.3 762.7h2.4M903.5 769.9h2.4M907.6 777.2h2.4M911.8 780h2.4M916 782.1h2.4M920.2 784.2h2.4M924.4 787.5h2.4M928.6 791.2h2.4M932.7 795h2.4M936.9 787.1h2.4M941.1 751.9h2.4M945.3 734.1h2.4M949.5 738.3h2.4M953.7 742.5h2.4M957.8 746.7h2.4M962 752.2h2.4M966.2 759.5h2.4M970.4 766.9h2.4M974.6 774.2h2.4M978.8 781.5h2.4M982.9 788.8h2.4M987.1 795.7h2.4M991.3 800.9h2.4M995.5 806.1h2.4M999.7 811.5h2.4M1003.9 817.8h2.4M1008 824h2.4M1012.2 830.3h2.4M1016.4 834.5h2.4M1020.6 838.6h2.4M1024.8 842.8h2.4M1029 845.1h2.4M1033.1 847.2h2.4M1037.3 849.3h2.4M1041.5 850.9h2.4M1045.7 852.5h2.4M1049.9 854.1h2.4M1054.1 855.8h2.4M1058.2 857.6h2.4M1062.4 859.4h2.4M1066.6 838.7h2.4M1070.8 833.5h2.4M1075 834h2.4M1079.2 834.5h2.4M1083.3 835h2.4M1087.5 836.5h2.4M1091.7 838.1h2.4M1095.9 839.7h2.4M1100.1 843.5h2.4M1104.3 847.7h2.4M1108.4 849.7h2.4M1112.6 849.7h2.4M1116.8 849.8h2.4M1121 850.3h2.4M1125.2 850.8h2.4M1129.4 851.2h2.4M1133.5 850.1h2.4M1137.7 849.1h2.4M1141.9 848.1h2.4M1146.1 848.6h2.4M1150.3 849.1h2.4M1154.5 849.6h2.4M1158.6 853.3h2.4M1162.8 857.5h2.4M1167 861.7h2.4M1171.2 863.5h2.4M1175.4 864.5h2.4M1179.6 865.5h2.4M1183.7 865.9h2.4M1187.9 865.9h2.4M1192.1 865.9h2.4M1196.3 866.5h2.4M1200.5 867.5h2.4M1204.7 868.6h2.4M1208.8 866.2h2.4M1213 859.9h2.4M1217.2 858.1h2.4M1221.4 856.7h2.4M1225.6 857.8h2.4M1229.8 860.6h2.4M1233.9 862.8h2.4M1238.1 863.3h2.4M1242.3 863.8h2.4M1246.5 864.3h2.4M1250.7 864.9h2.4M1254.9 865.4h2.4M1259 865.9h2.4M1263.2 866.6h2.4M1267.4 867.3h2.4"/>
<line x1="536.6" y1="547.2" x2="536.6" y2="984.8" stroke="#505050" stroke-width="2.4" stroke-dasharray="22.6 10.8" stroke-linecap="round"/>
<line x1="1017.8" y1="545.2" x2="1017.8" y2="980.8" stroke="#505050" stroke-width="2.4" stroke-dasharray="22.6 10.8" stroke-linecap="round"/>
<rect x="97.4" y="538" width="1196.3" height="447.7" fill="none" stroke="#000" stroke-width="2.2"/>
<line x1="87.9" y1="985.7" x2="97.4" y2="985.7" stroke="#000" stroke-width="2.2"/>
<text x="75.9" y="994.7" text-anchor="end" font-family='"Liberation Sans", sans-serif' font-size="25">5</text>
<line x1="87.9" y1="896.2" x2="97.4" y2="896.2" stroke="#000" stroke-width="2.2"/>
<text x="75.9" y="905.2" text-anchor="end" font-family='"Liberation Sans", sans-serif' font-size="25">10</text>
<line x1="87.9" y1="806.6" x2="97.4" y2="806.6" stroke="#000" stroke-width="2.2"/>
<text x="75.9" y="815.6" text-anchor="end" font-family='"Liberation Sans", sans-serif' font-size="25">15</text>
<line x1="87.9" y1="717.1" x2="97.4" y2="717.1" stroke="#000" stroke-width="2.2"/>
<text x="75.9" y="726.1" text-anchor="end" font-family='"Liberation Sans", sans-serif' font-size="25">20</text>
<line x1="87.9" y1="627.5" x2="97.4" y2="627.5" stroke="#000" stroke-width="2.2"/>
<text x="75.9" y="636.5" text-anchor="end" font-family='"Liberation Sans", sans-serif' font-size="25">25</text>
<line x1="87.9" y1="538" x2="97.4" y2="538" stroke="#000" stroke-width="2.2"/>
<text x="75.9" y="547" text-anchor="end" font-family='"Liberation Sans", sans-serif' font-size="25">30</text>
<line x1="122.4" y1="985.7" x2="122.4" y2="995.7" stroke="#000" stroke-width="2.2"/>
<text x="122.4" y="1031.2" text-anchor="middle" font-family='"Liberation Sans", sans-serif' font-size="25">60</text>
<line x1="206.1" y1="985.7" x2="206.1" y2="995.7" stroke="#000" stroke-width="2.2"/>
<text x="206.1" y="1031.2" text-anchor="middle" font-family='"Liberation Sans", sans-serif' font-size="25">80</text>
<line x1="289.7" y1="985.7" x2="289.7" y2="995.7" stroke="#000" stroke-width="2.2"/>
<text x="289.7" y="1031.2" text-anchor="middle" font-family='"Liberation Sans", sans-serif' font-size="25">100</text>
<line x1="373.4" y1="985.7" x2="373.4" y2="995.7" stroke="#000" stroke-width="2.2"/>
<text x="373.4" y="1031.2" text-anchor="middle" font-family='"Liberation Sans", sans-serif' font-size="25">120</text>
<line x1="457.1" y1="985.7" x2="457.1" y2="995.7" stroke="#000" stroke-width="2.2"/>
<text x="457.1" y="1031.2" text-anchor="middle" font-family='"Liberation Sans", sans-serif' font-size="25">140</text>
<line x1="540.7" y1="985.7" x2="540.7" y2="995.7" stroke="#000" stroke-width="2.2"/>
<text x="540.7" y="1031.2" text-anchor="middle" font-family='"Liberation Sans", sans-serif' font-size="25">160</text>
<line x1="624.4" y1="985.7" x2="624.4" y2="995.7" stroke="#000" stroke-width="2.2"/>
<text x="624.4" y="1031.2" text-anchor="middle" font-family='"Liberation Sans", sans-serif' font-size="25">180</text>
<line x1="708" y1="985.7" x2="708" y2="995.7" stroke="#000" stroke-width="2.2"/>
<text x="708" y="1031.2" text-anchor="middle" font-family='"Liberation Sans", sans-serif' font-size="25">200</text>
<line x1="791.7" y1="985.7" x2="791.7" y2="995.7" stroke="#000" stroke-width="2.2"/>
<text x="791.7" y="1031.2" text-anchor="middle" font-family='"Liberation Sans", sans-serif' font-size="25">220</text>
<line x1="875.4" y1="985.7" x2="875.4" y2="995.7" stroke="#000" stroke-width="2.2"/>
<text x="875.4" y="1031.2" text-anchor="middle" font-family='"Liberation Sans", sans-serif' font-size="25">240</text>
<line x1="959" y1="985.7" x2="959" y2="995.7" stroke="#000" stroke-width="2.2"/>
<text x="959" y="1031.2" text-anchor="middle" font-family='"Liberation Sans", sans-serif' font-size="25">260</text>
<line x1="1042.7" y1="985.7" x2="1042.7" y2="995.7" stroke="#000" stroke-width="2.2"/>
<text x="1042.7" y="1031.2" text-anchor="middle" font-family='"Liberation Sans", sans-serif' font-size="25">280</text>
<line x1="1126.4" y1="985.7" x2="1126.4" y2="995.7" stroke="#000" stroke-width="2.2"/>
<text x="1126.4" y="1031.2" text-anchor="middle" font-family='"Liberation Sans", sans-serif' font-size="25">300</text>
<line x1="1210" y1="985.7" x2="1210" y2="995.7" stroke="#000" stroke-width="2.2"/>
<text x="1210" y="1031.2" text-anchor="middle" font-family='"Liberation Sans", sans-serif' font-size="25">320</text>
<line x1="1293.7" y1="985.7" x2="1293.7" y2="995.7" stroke="#000" stroke-width="2.2"/>
<text x="1293.7" y="1031.2" text-anchor="middle" font-family='"Liberation Sans", sans-serif' font-size="25">340</text>
<text transform="translate(26.8 766.7) rotate(-90)" text-anchor="middle" font-family='"Liberation Sans", sans-serif' font-size="25.5">Soil Water Content (%)</text>
<text x="109.1" y="574" font-family='"Liberation Sans", sans-serif' font-size="25.1">2008</text>
<text x="589.2" y="579.6" font-family='"Liberation Sans", sans-serif' font-size="24.75">Reproductive season control</text>
<line x1="1079" y1="578.4" x2="1137" y2="578.4" stroke="#000" stroke-width="6.2" stroke-linecap="round"/>
<text x="1150.8" y="590" font-family='"Liberation Serif", serif' font-size="25.4">ct</text>
<line x1="1079" y1="610.2" x2="1137" y2="610.2" stroke="#ff0000" stroke-width="6.2" stroke-linecap="round"/>
<rect x="1106.6" y="608.9" width="2.6" height="2.6" fill="#000"/>
<text x="1150.8" y="621.4" font-family='"Liberation Serif", serif' font-size="25.4">cT</text>
<line x1="1079" y1="641.5" x2="1137" y2="641.5" stroke="#008000" stroke-width="6.2" stroke-linecap="round"/>
<rect x="1106.6" y="640.2" width="2.6" height="2.6" fill="#000"/>
<text x="1150.8" y="652.7" font-family='"Liberation Serif", serif' font-size="25.4">Ct</text>
<line x1="1079" y1="673" x2="1137" y2="673" stroke="#0000ff" stroke-width="6.2" stroke-linecap="round"/>
<rect x="1106.6" y="671.7" width="2.6" height="2.6" fill="#000"/>
<text x="1150.8" y="683.6" font-family='"Liberation Serif", serif' font-size="25.4">CT</text>
<line x1="1078.6" y1="703.9" x2="1137" y2="703.9" stroke="#000" stroke-width="1.6"/>
<text x="1150.8" y="714.6" font-family='"Liberation Serif", serif' font-size="25.4">Mean SWC</text>
<line x1="101.6" y1="1315.4" x2="1298.4" y2="1315.4" stroke="#000" stroke-width="1.8"/>
<polyline fill="none" stroke="#000000" stroke-width="6" stroke-linejoin="round" points="126.7,1331.1 130.9,1328.4 135.1,1325.6 139.3,1326 143.4,1326.6 147.6,1327.3 151.8,1328 156,1329.2 160.2,1331.9 164.4,1334.5 168.5,1336 172.7,1331.8 176.9,1327.7 181.1,1325.8 185.3,1324.4 189.5,1323.7 193.7,1323.7 197.8,1323.7 202,1323.5 206.2,1323 210.4,1322.4 214.6,1323.1 218.8,1326.6 222.9,1330.1 227.1,1332.2 231.3,1334.3 235.5,1334.2 239.7,1332.8 243.9,1331.5 248.1,1330.4 252.2,1317.4 256.4,1316.2 260.6,1315.1 264.8,1314.1 269,1323.2 273.2,1329.1 277.3,1326 281.5,1322.9 285.7,1320.1 289.9,1318.4 294.1,1316.7 298.3,1315 302.5,1313 306.6,1310.4 310.8,1307.8 315,1306 319.2,1306.5 323.4,1307 327.6,1301.5 331.7,1261.8 335.9,1229.1 340.1,1213.3 344.3,1213.3 348.5,1213.3 352.7,1213.9 356.9,1214.8 361,1215.6 365.2,1216.5 369.4,1218 373.6,1219.7 377.8,1221.3 382,1223 386.1,1211 390.3,1204.2 394.5,1205.6 398.7,1207.1 402.9,1209.6 407.1,1212.1 411.3,1214.6 415.4,1216.3 419.6,1214.9 423.8,1213.5 428,1210.9 432.2,1208.1 436.4,1206.3 440.5,1205.2 444.7,1204.2 448.9,1206.7 453.1,1213.7 457.3,1220.5 461.5,1226.1 465.7,1231.7 469.8,1226.1 474,1217.8 478.2,1212 482.4,1209.2 486.6,1207.8 490.8,1214.8 494.9,1221.8 499.1,1230.3 503.3,1239.2 507.5,1248.1 511.7,1255.2 515.9,1242.5 520.1,1204.3 524.2,1191.8 528.4,1184.7 532.6,1180.2 536.8,1173.2 541,1166.2 545.2,1159.8 549.3,1155.4 553.5,1157.5 557.7,1161 561.9,1165.1 566.1,1169.3 570.3,1173.5 574.5,1177.7 578.6,1181.9 582.8,1186.1 587,1189.5 591.2,1192.7 595.4,1195.8 599.6,1193.4 603.7,1187.4 607.9,1187.4 612.1,1191.4 616.3,1199.8 620.5,1208.8 624.7,1221.4 628.9,1233.9 633,1247.6 637.2,1261.6 641.4,1272.7 645.6,1281.1 649.8,1257.6 654,1244.4 658.1,1234.3 662.3,1227.1 666.5,1220.4 670.7,1225.9 674.9,1232.6 679.1,1243.7 683.3,1254.8 687.4,1261.5 691.6,1265.7 695.8,1271.6 700,1281.4 704.2,1291.1 708.4,1312 712.6,1331.1 716.7,1347.8 720.9,1362.7 725.1,1374.5 729.3,1380.8 733.5,1387 737.7,1392.6 741.8,1395.7 746,1398.9 750.2,1401.7 754.4,1402.4 758.6,1403.1 762.8,1403.8 767,1404.5 771.1,1405.8 775.3,1407.9 779.5,1410 783.7,1412 787.9,1413.6 792.1,1415.3 796.2,1417 800.4,1418.4 804.6,1419.7 808.8,1421 813,1422.2 817.2,1423.7 821.4,1425.4 825.5,1427.1 829.7,1428.7 833.9,1429.2 838.1,1429.2 842.3,1429.2 846.5,1429.2 850.6,1429.5 854.8,1430 859,1430.4 863.2,1430.8 867.4,1417.1 871.6,1396.2 875.8,1392.3 879.9,1397.9 884.1,1403 888.3,1407.2 892.5,1411.3 896.7,1415.5 900.9,1419.4 905,1423.4 909.2,1427.3 913.4,1428.9 917.6,1430.3 921.8,1426.5 926,1419.5 930.2,1415.8 934.3,1420 938.5,1424.1 942.7,1427.7 946.9,1428.4 951.1,1429.1 955.3,1425 959.4,1420.1 963.6,1418.9 967.8,1421 972,1423.1 976.2,1424.8 980.4,1425.8 984.6,1426.9 988.7,1427.4 992.9,1426.9 997.1,1426.3 1001.3,1426.2 1005.5,1427.2 1009.7,1428.3 1013.8,1429.4 1018,1430.9 1022.2,1432.5 1026.4,1434.1 1030.6,1434.6 1034.8,1435.1 1039,1435.6 1043.1,1435.7 1047.3,1435.7 1051.5,1435.7 1055.7,1435.1 1059.9,1434.4 1064.1,1432 1068.2,1427.8 1072.4,1421.7 1076.6,1409 1080.8,1386 1085,1364.7 1089.2,1349.1 1093.4,1347 1097.5,1344.9 1101.7,1343.5 1105.9,1342.1 1110.1,1340.7 1114.3,1339.3 1118.5,1338 1122.6,1336.9 1126.8,1336.3 1131,1335.8 1135.2,1335.2 1139.4,1334.5 1143.6,1333.7 1147.8,1323.6 1151.9,1311.1 1156.1,1303.9 1160.3,1303.1 1164.5,1301.7 1168.7,1299.6 1172.9,1297.5 1177,1296.3 1181.2,1296.8 1185.4,1297.3 1189.6,1297.7 1193.8,1297.7 1198,1297.7 1202.2,1310.4 1206.3,1317.1 1210.5,1318.8 1214.7,1318.8 1218.9,1317.4 1223.1,1297.8 1227.3,1289.3 1231.4,1286.5 1235.6,1284 1239.8,1281.9 1244,1279.8 1248.2,1278.3 1252.4,1278.3 1256.6,1278.3 1260.7,1277.6 1264.9,1276.9 1269.1,1277.2 1273.3,1278"/>
<path fill="none" stroke="#c8c8c8" stroke-width="2.4" d="M126.7 1306.1V1356.2M130.9 1303.4V1353.3M135.1 1300.6V1350.5M139.3 1301V1350.9M143.4 1301.8V1351.5M147.6 1302.5V1352.2M151.8 1303.2V1352.9M156 1304.5V1354M160.2 1307.1V1356.6M164.4 1309.8V1359.2M168.5 1311.4V1360.7M172.7 1307.2V1356.5M176.9 1303.1V1352.2M181.1 1301.2V1350.3M185.3 1299.9V1348.9M189.5 1299.2V1348.2M193.7 1299.3V1348.1M197.8 1299.3V1348.1M202 1299.1V1347.8M206.2 1298.6V1347.3M210.4 1298.2V1346.7M214.6 1298.9V1347.4M218.8 1302.4V1350.8M222.9 1305.9V1354.3M227.1 1308.1V1356.4M231.3 1310.2V1358.4M235.5 1310.1V1358.2M239.7 1308.7V1356.8M243.9 1307.5V1355.5M248.1 1306.5V1354.4M252.2 1293.5V1341.3M256.4 1292.3V1340M260.6 1291.3V1339M264.8 1290.3V1337.9M269 1299.5V1347M273.2 1305.4V1352.9M277.3 1302.3V1349.7M281.5 1299.2V1346.5M285.7 1296.4V1343.7M289.9 1294.8V1342M294.1 1293.2V1340.3M298.3 1291.5V1338.5M302.5 1289.6V1336.5M306.6 1287V1333.8M310.8 1284.4V1331.2M315 1282.6V1329.3M319.2 1283.2V1329.8M323.4 1283.7V1330.3M327.6 1278.3V1324.8M331.7 1239.1V1284.5M335.9 1207V1251.3M340.1 1191.7V1235M344.3 1192.2V1234.4M348.5 1192.8V1233.9M352.7 1193.9V1234M356.9 1195.3V1234.3M361 1196.7V1234.6M365.2 1198V1234.9M369.4 1200.1V1235.9M373.6 1201.8V1237.5M377.8 1203.5V1239.2M382 1205.2V1240.9M386.1 1193.1V1228.8M390.3 1186.3V1222M394.5 1187.7V1223.4M398.7 1189.2V1224.9M402.9 1191.8V1227.4M407.1 1194.3V1229.9M411.3 1196.8V1232.4M415.4 1198.5V1234.1M419.6 1197.1V1232.7M423.8 1195.8V1231.3M428 1193.1V1228.6M432.2 1190.4V1225.8M436.4 1188.5V1224M440.5 1187.5V1222.9M444.7 1186.5V1221.9M448.9 1189V1224.4M453.1 1196V1231.4M457.3 1202.8V1238.2M461.5 1208.4V1243.8M465.7 1214V1249.3M469.8 1208.5V1243.8M474 1200.1V1235.4M478.2 1194.4V1229.7M482.4 1191.6V1226.9M486.6 1190.2V1225.5M490.8 1197.2V1232.4M494.9 1204.2V1239.4M499.1 1212.7V1247.9M503.3 1221.6V1256.8M507.5 1230.5V1265.7M511.7 1237.7V1272.8M515.9 1224.9V1260M520.1 1186.8V1221.8M524.2 1174.2V1209.3M528.4 1167.1V1202.2M532.6 1162.7V1197.7M536.8 1155.7V1190.7M541 1148.8V1183.7M545.2 1142.3V1177.3M549.3 1137.9V1172.8M553.5 1140V1174.9M557.7 1143.5V1178.4M561.9 1147.7V1182.6M566.1 1151.9V1186.8M570.3 1156.1V1190.9M574.5 1160.3V1195.1M578.6 1164.5V1199.3M582.8 1168.7V1203.5M587 1172.2V1206.9M591.2 1175.3V1210M595.4 1178.5V1213.2M599.6 1176.1V1210.8M603.7 1170V1204.7M607.9 1170V1204.7M612.1 1174.1V1208.7M616.3 1182.5V1217.1M620.5 1191.5V1226.1M624.7 1204.1V1238.7M628.9 1216.6V1251.2M633 1230.4V1264.9M637.2 1244.3V1278.9M641.4 1255.5V1290M645.6 1263.9V1298.3M649.8 1240.4V1274.8M654 1227.1V1261.6M658.1 1217.1V1251.5M662.3 1209.9V1244.3M666.5 1203.2V1237.6M670.7 1208.7V1243.1M674.9 1215.4V1249.8M679.1 1226.5V1260.8M683.3 1237.7V1272M687.4 1244.3V1278.6M691.6 1248.5V1282.8M695.8 1254.5V1288.7M700 1264.3V1298.5M704.2 1274V1308.3M708.4 1294.9V1329.1M712.6 1314V1348.1M716.7 1330.7V1364.9M720.9 1345.6V1379.7M725.1 1357.4V1391.6M729.3 1363.7V1397.8M733.5 1370V1404.1M737.7 1375.6V1409.6M741.8 1378.7V1412.8M746 1381.9V1415.9M750.2 1384.7V1418.7M754.4 1385.4V1419.4M758.6 1386.1V1420.1M762.8 1386.8V1420.8M767 1387.5V1421.4M771.1 1388.9V1422.8M775.3 1391V1424.9M779.5 1393.1V1427M783.7 1395V1428.9M787.9 1396.7V1430.5M792.1 1398.4V1432.2M796.2 1400.1V1433.9M800.4 1401.6V1435.3M804.6 1402.8V1436.6M808.8 1404.1V1437.8M813 1405.4V1439.1M817.2 1406.9V1440.6M821.4 1408.6V1442.2M825.5 1410.2V1443.9M829.7 1411.9V1445.6M833.9 1412.4V1446M838.1 1412.4V1446M842.3 1412.4V1446M846.5 1412.4V1446M850.6 1412.8V1446.3M854.8 1413.2V1446.7M859 1413.6V1447.1M863.2 1414.1V1447.5M867.4 1400.3V1433.8M871.6 1379.5V1413M875.8 1375.6V1409M879.9 1381.2V1414.6M884.1 1386.3V1419.7M888.3 1390.5V1423.8M892.5 1394.7V1428M896.7 1398.8V1432.1M900.9 1402.8V1436.1M905 1406.7V1440M909.2 1410.7V1444M913.4 1412.2V1445.5M917.6 1413.6V1446.9M921.8 1409.9V1443.1M926 1402.9V1436.1M930.2 1399.2V1432.4M934.3 1403.4V1436.5M938.5 1407.6V1440.7M942.7 1411.1V1444.2M946.9 1411.8V1444.9M951.1 1412.5V1445.6M955.3 1408.5V1441.5M959.4 1403.6V1436.6M963.6 1402.4V1435.4M967.8 1404.5V1437.5M972 1406.6V1439.6M976.2 1408.3V1441.2M980.4 1409.3V1442.3M984.6 1410.4V1443.3M988.7 1410.9V1443.8M992.9 1410.4V1443.3M997.1 1409.9V1442.8M1001.3 1409.7V1442.6M1005.5 1410.8V1443.6M1009.7 1411.9V1444.7M1013.8 1413V1445.8M1018 1414.6V1447.3M1022.2 1416.1V1448.9M1026.4 1417.7V1450.4M1030.6 1418.2V1450.9M1034.8 1418.8V1451.5M1039 1419.3V1452M1043.1 1419.3V1452M1047.3 1419.4V1452M1051.5 1419.4V1452M1055.7 1418.8V1451.4M1059.9 1418.1V1450.7M1064.1 1415.7V1448.3M1068.2 1411.6V1444.1M1072.4 1405.4V1437.9M1076.6 1392.7V1425.2M1080.8 1369.7V1402.2M1085 1348.5V1380.9M1089.2 1332.8V1365.3M1093.4 1330.8V1363.2M1097.5 1328.7V1361.1M1101.7 1327.3V1359.7M1105.9 1325.9V1358.2M1110.1 1324.5V1356.8M1114.3 1323.1V1355.4M1118.5 1321.8V1354.1M1122.6 1320.8V1353.1M1126.8 1320.1V1352.4M1131 1319.6V1351.9M1135.2 1319.1V1351.4M1139.4 1318.4V1350.6M1143.6 1317.6V1349.8M1147.8 1315.5V1331.6M1227.3 1281.2V1297.3M1231.4 1270.4V1302.6M1235.6 1267.9V1300M1239.8 1265.8V1298M1244 1263.7V1295.9M1248.2 1262.2V1294.3M1252.4 1262.2V1294.3M1256.6 1262.2V1294.3M1260.7 1261.5V1293.7M1264.9 1260.8V1293M1269.1 1261.1V1293.2M1273.3 1261.9V1294.1"/>
<polyline fill="none" stroke="#000" stroke-width="1.4" stroke-linejoin="round" points="126.7,1331.1 130.9,1328.4 135.1,1325.6 139.3,1326 143.4,1326.6 147.6,1327.3 151.8,1328 156,1329.2 160.2,1331.9 164.4,1334.5 168.5,1336 172.7,1331.8 176.9,1327.7 181.1,1325.8 185.3,1324.4 189.5,1323.7 193.7,1323.7 197.8,1323.7 202,1323.5 206.2,1323 210.4,1322.4 214.6,1323.1 218.8,1326.6 222.9,1330.1 227.1,1332.2 231.3,1334.3 235.5,1334.2 239.7,1332.8 243.9,1331.5 248.1,1330.4 252.2,1317.4 256.4,1316.2 260.6,1315.1 264.8,1314.1 269,1323.2 273.2,1329.1 277.3,1326 281.5,1322.9 285.7,1320.1 289.9,1318.4 294.1,1316.7 298.3,1315 302.5,1313 306.6,1310.4 310.8,1307.8 315,1306 319.2,1306.5 323.4,1307 327.6,1301.5 331.7,1261.8 335.9,1229.1 340.1,1213.3 344.3,1213.3 348.5,1213.3 352.7,1213.9 356.9,1214.8 361,1215.6 365.2,1216.5 369.4,1218 373.6,1219.7 377.8,1221.3 382,1223 386.1,1211 390.3,1204.2 394.5,1205.6 398.7,1207.1 402.9,1209.6 407.1,1212.1 411.3,1214.6 415.4,1216.3 419.6,1214.9 423.8,1213.5 428,1210.9 432.2,1208.1 436.4,1206.3 440.5,1205.2 444.7,1204.2 448.9,1206.7 453.1,1213.7 457.3,1220.5 461.5,1226.1 465.7,1231.7 469.8,1226.1 474,1217.8 478.2,1212 482.4,1209.2 486.6,1207.8 490.8,1214.8 494.9,1221.8 499.1,1230.3 503.3,1239.2 507.5,1248.1 511.7,1255.2 515.9,1242.5 520.1,1204.3 524.2,1191.8 528.4,1184.7 532.6,1180.2 536.8,1173.2 541,1166.2 545.2,1159.8 549.3,1155.4 553.5,1157.5 557.7,1161 561.9,1165.1 566.1,1169.3 570.3,1173.5 574.5,1177.7 578.6,1181.9 582.8,1186.1 587,1189.5 591.2,1192.7 595.4,1195.8 599.6,1193.4 603.7,1187.4 607.9,1187.4 612.1,1191.4 616.3,1199.8 620.5,1208.8 624.7,1221.4 628.9,1233.9 633,1247.6 637.2,1261.6 641.4,1272.7 645.6,1281.1 649.8,1257.6 654,1244.4 658.1,1234.3 662.3,1227.1 666.5,1220.4 670.7,1225.9 674.9,1232.6 679.1,1243.7 683.3,1254.8 687.4,1261.5 691.6,1265.7 695.8,1271.6 700,1281.4 704.2,1291.1 708.4,1312 712.6,1331.1 716.7,1347.8 720.9,1362.7 725.1,1374.5 729.3,1380.8 733.5,1387 737.7,1392.6 741.8,1395.7 746,1398.9 750.2,1401.7 754.4,1402.4 758.6,1403.1 762.8,1403.8 767,1404.5 771.1,1405.8 775.3,1407.9 779.5,1410 783.7,1412 787.9,1413.6 792.1,1415.3 796.2,1417 800.4,1418.4 804.6,1419.7 808.8,1421 813,1422.2 817.2,1423.7 821.4,1425.4 825.5,1427.1 829.7,1428.7 833.9,1429.2 838.1,1429.2 842.3,1429.2 846.5,1429.2 850.6,1429.5 854.8,1430 859,1430.4 863.2,1430.8 867.4,1417.1 871.6,1396.2 875.8,1392.3 879.9,1397.9 884.1,1403 888.3,1407.2 892.5,1411.3 896.7,1415.5 900.9,1419.4 905,1423.4 909.2,1427.3 913.4,1428.9 917.6,1430.3 921.8,1426.5 926,1419.5 930.2,1415.8 934.3,1420 938.5,1424.1 942.7,1427.7 946.9,1428.4 951.1,1429.1 955.3,1425 959.4,1420.1 963.6,1418.9 967.8,1421 972,1423.1 976.2,1424.8 980.4,1425.8 984.6,1426.9 988.7,1427.4 992.9,1426.9 997.1,1426.3 1001.3,1426.2 1005.5,1427.2 1009.7,1428.3 1013.8,1429.4 1018,1430.9 1022.2,1432.5 1026.4,1434.1 1030.6,1434.6 1034.8,1435.1 1039,1435.6 1043.1,1435.7 1047.3,1435.7 1051.5,1435.7 1055.7,1435.1 1059.9,1434.4 1064.1,1432 1068.2,1427.8 1072.4,1421.7 1076.6,1409 1080.8,1386 1085,1364.7 1089.2,1349.1 1093.4,1347 1097.5,1344.9 1101.7,1343.5 1105.9,1342.1 1110.1,1340.7 1114.3,1339.3 1118.5,1338 1122.6,1336.9 1126.8,1336.3 1131,1335.8 1135.2,1335.2 1139.4,1334.5 1143.6,1333.7 1147.8,1323.6 1151.9,1311.1 1156.1,1303.9 1160.3,1303.1 1164.5,1301.7 1168.7,1299.6 1172.9,1297.5 1177,1296.3 1181.2,1296.8 1185.4,1297.3 1189.6,1297.7 1193.8,1297.7 1198,1297.7 1202.2,1310.4 1206.3,1317.1 1210.5,1318.8 1214.7,1318.8 1218.9,1317.4 1223.1,1297.8 1227.3,1289.3 1231.4,1286.5 1235.6,1284 1239.8,1281.9 1244,1279.8 1248.2,1278.3 1252.4,1278.3 1256.6,1278.3 1260.7,1277.6 1264.9,1276.9 1269.1,1277.2 1273.3,1278"/><path fill="none" stroke="#000" stroke-width="2.4" d="M125.5 1331.1h2.4M129.7 1328.4h2.4M133.9 1325.6h2.4M138.1 1326h2.4M142.2 1326.6h2.4M146.4 1327.3h2.4M150.6 1328h2.4M154.8 1329.2h2.4M159 1331.9h2.4M163.2 1334.5h2.4M167.3 1336h2.4M171.5 1331.8h2.4M175.7 1327.7h2.4M179.9 1325.8h2.4M184.1 1324.4h2.4M188.3 1323.7h2.4M192.5 1323.7h2.4M196.6 1323.7h2.4M200.8 1323.5h2.4M205 1323h2.4M209.2 1322.4h2.4M213.4 1323.1h2.4M217.6 1326.6h2.4M221.7 1330.1h2.4M225.9 1332.2h2.4M230.1 1334.3h2.4M234.3 1334.2h2.4M238.5 1332.8h2.4M242.7 1331.5h2.4M246.9 1330.4h2.4M251 1317.4h2.4M255.2 1316.2h2.4M259.4 1315.1h2.4M263.6 1314.1h2.4M267.8 1323.2h2.4M272 1329.1h2.4M276.1 1326h2.4M280.3 1322.9h2.4M284.5 1320.1h2.4M288.7 1318.4h2.4M292.9 1316.7h2.4M297.1 1315h2.4M301.3 1313h2.4M305.4 1310.4h2.4M309.6 1307.8h2.4M313.8 1306h2.4M318 1306.5h2.4M322.2 1307h2.4M326.4 1301.5h2.4M330.5 1261.8h2.4M334.7 1229.1h2.4M338.9 1213.3h2.4M343.1 1213.3h2.4M347.3 1213.3h2.4M351.5 1213.9h2.4M355.7 1214.8h2.4M359.8 1215.6h2.4M364 1216.5h2.4M368.2 1218h2.4M372.4 1219.7h2.4M376.6 1221.3h2.4M380.8 1223h2.4M384.9 1211h2.4M389.1 1204.2h2.4M393.3 1205.6h2.4M397.5 1207.1h2.4M401.7 1209.6h2.4M405.9 1212.1h2.4M410.1 1214.6h2.4M414.2 1216.3h2.4M418.4 1214.9h2.4M422.6 1213.5h2.4M426.8 1210.9h2.4M431 1208.1h2.4M435.2 1206.3h2.4M439.3 1205.2h2.4M443.5 1204.2h2.4M447.7 1206.7h2.4M451.9 1213.7h2.4M456.1 1220.5h2.4M460.3 1226.1h2.4M464.5 1231.7h2.4M468.6 1226.1h2.4M472.8 1217.8h2.4M477 1212h2.4M481.2 1209.2h2.4M485.4 1207.8h2.4M489.6 1214.8h2.4M493.7 1221.8h2.4M497.9 1230.3h2.4M502.1 1239.2h2.4M506.3 1248.1h2.4M510.5 1255.2h2.4M514.7 1242.5h2.4M518.9 1204.3h2.4M523 1191.8h2.4M527.2 1184.7h2.4M531.4 1180.2h2.4M535.6 1173.2h2.4M539.8 1166.2h2.4M544 1159.8h2.4M548.1 1155.4h2.4M552.3 1157.5h2.4M556.5 1161h2.4M560.7 1165.1h2.4M564.9 1169.3h2.4M569.1 1173.5h2.4M573.3 1177.7h2.4M577.4 1181.9h2.4M581.6 1186.1h2.4M585.8 1189.5h2.4M590 1192.7h2.4M594.2 1195.8h2.4M598.4 1193.4h2.4M602.5 1187.4h2.4M606.7 1187.4h2.4M610.9 1191.4h2.4M615.1 1199.8h2.4M619.3 1208.8h2.4M623.5 1221.4h2.4M627.7 1233.9h2.4M631.8 1247.6h2.4M636 1261.6h2.4M640.2 1272.7h2.4M644.4 1281.1h2.4M648.6 1257.6h2.4M652.8 1244.4h2.4M656.9 1234.3h2.4M661.1 1227.1h2.4M665.3 1220.4h2.4M669.5 1225.9h2.4M673.7 1232.6h2.4M677.9 1243.7h2.4M682.1 1254.8h2.4M686.2 1261.5h2.4M690.4 1265.7h2.4M694.6 1271.6h2.4M698.8 1281.4h2.4M703 1291.1h2.4M707.2 1312h2.4M711.4 1331.1h2.4M715.5 1347.8h2.4M719.7 1362.7h2.4M723.9 1374.5h2.4M728.1 1380.8h2.4M732.3 1387h2.4M736.5 1392.6h2.4M740.6 1395.7h2.4M744.8 1398.9h2.4M749 1401.7h2.4M753.2 1402.4h2.4M757.4 1403.1h2.4M761.6 1403.8h2.4M765.8 1404.5h2.4M769.9 1405.8h2.4M774.1 1407.9h2.4M778.3 1410h2.4M782.5 1412h2.4M786.7 1413.6h2.4M790.9 1415.3h2.4M795 1417h2.4M799.2 1418.4h2.4M803.4 1419.7h2.4M807.6 1421h2.4M811.8 1422.2h2.4M816 1423.7h2.4M820.2 1425.4h2.4M824.3 1427.1h2.4M828.5 1428.7h2.4M832.7 1429.2h2.4M836.9 1429.2h2.4M841.1 1429.2h2.4M845.3 1429.2h2.4M849.4 1429.5h2.4M853.6 1430h2.4M857.8 1430.4h2.4M862 1430.8h2.4M866.2 1417.1h2.4M870.4 1396.2h2.4M874.6 1392.3h2.4M878.7 1397.9h2.4M882.9 1403h2.4M887.1 1407.2h2.4M891.3 1411.3h2.4M895.5 1415.5h2.4M899.7 1419.4h2.4M903.8 1423.4h2.4M908 1427.3h2.4M912.2 1428.9h2.4M916.4 1430.3h2.4M920.6 1426.5h2.4M924.8 1419.5h2.4M929 1415.8h2.4M933.1 1420h2.4M937.3 1424.1h2.4M941.5 1427.7h2.4M945.7 1428.4h2.4M949.9 1429.1h2.4M954.1 1425h2.4M958.2 1420.1h2.4M962.4 1418.9h2.4M966.6 1421h2.4M970.8 1423.1h2.4M975 1424.8h2.4M979.2 1425.8h2.4M983.4 1426.9h2.4M987.5 1427.4h2.4M991.7 1426.9h2.4M995.9 1426.3h2.4M1000.1 1426.2h2.4M1004.3 1427.2h2.4M1008.5 1428.3h2.4M1012.6 1429.4h2.4M1016.8 1430.9h2.4M1021 1432.5h2.4M1025.2 1434.1h2.4M1029.4 1434.6h2.4M1033.6 1435.1h2.4M1037.8 1435.6h2.4M1041.9 1435.7h2.4M1046.1 1435.7h2.4M1050.3 1435.7h2.4M1054.5 1435.1h2.4M1058.7 1434.4h2.4M1062.9 1432h2.4M1067 1427.8h2.4M1071.2 1421.7h2.4M1075.4 1409h2.4M1079.6 1386h2.4M1083.8 1364.7h2.4M1088 1349.1h2.4M1092.2 1347h2.4M1096.3 1344.9h2.4M1100.5 1343.5h2.4M1104.7 1342.1h2.4M1108.9 1340.7h2.4M1113.1 1339.3h2.4M1117.3 1338h2.4M1121.4 1336.9h2.4M1125.6 1336.3h2.4M1129.8 1335.8h2.4M1134 1335.2h2.4M1138.2 1334.5h2.4M1142.4 1333.7h2.4M1146.6 1323.6h2.4M1150.7 1311.1h2.4M1154.9 1303.9h2.4M1159.1 1303.1h2.4M1163.3 1301.7h2.4M1167.5 1299.6h2.4M1171.7 1297.5h2.4M1175.8 1296.3h2.4M1180 1296.8h2.4M1184.2 1297.3h2.4M1188.4 1297.7h2.4M1192.6 1297.7h2.4M1196.8 1297.7h2.4M1201 1310.4h2.4M1205.1 1317.1h2.4M1209.3 1318.8h2.4M1213.5 1318.8h2.4M1217.7 1317.4h2.4M1221.9 1297.8h2.4M1226.1 1289.3h2.4M1230.2 1286.5h2.4M1234.4 1284h2.4M1238.6 1281.9h2.4M1242.8 1279.8h2.4M1247 1278.3h2.4M1251.2 1278.3h2.4M1255.4 1278.3h2.4M1259.5 1277.6h2.4M1263.7 1276.9h2.4M1267.9 1277.2h2.4M1272.1 1278h2.4"/>
<polyline fill="none" stroke="#ff0000" stroke-width="6" stroke-linejoin="round" points="126.7,1394.9 130.9,1393.8 135.1,1392.8 139.3,1392 143.4,1392.8 147.6,1393.6 151.8,1394.5 156,1395.4 160.2,1396.4 164.4,1397.5 168.5,1398.2 172.7,1397.1 176.9,1396.1 181.1,1395.2 185.3,1396.8 189.5,1398.3 193.7,1399.9 197.8,1398.5 202,1396.9 206.2,1395.3 210.4,1395.1 214.6,1395.1 218.8,1395.1 222.9,1397.2 227.1,1390.2 231.3,1379.2 235.5,1372.2 239.7,1365.5 243.9,1361.3 248.1,1375.2 252.2,1393.5 256.4,1393.5 260.6,1393.5 264.8,1393.5 269,1393.5 273.2,1393.5 277.3,1390 281.5,1383.7 285.7,1381.6 289.9,1379.5 294.1,1378.5 298.3,1378 302.5,1377.5 306.6,1376 310.8,1373.9 315,1372.7 319.2,1374.1 323.4,1375.5 327.6,1342.4 331.7,1315.2 335.9,1305.9 340.1,1308.7 344.3,1311.5 348.5,1314.3 352.7,1317 356.9,1293.5 361,1263.5 365.2,1250.8 369.4,1253.6 373.6,1256.3 377.8,1259.1 382,1261.9 386.1,1256.7 390.3,1242.1 394.5,1238.7 398.7,1242.9 402.9,1247.4 407.1,1252.6 411.3,1257.9 415.4,1259.9 419.6,1249.4 423.8,1240.3 428,1245.4 432.2,1252.4 436.4,1258.4 440.5,1263.7 444.7,1268.9 448.9,1275.5 453.1,1283.9 457.3,1293 461.5,1307.7 465.7,1315.7 469.8,1318.7 474,1321.6 478.2,1311.3 482.4,1305.3 486.6,1303.9 490.8,1313 494.9,1322 499.1,1331.1 503.3,1340.1 507.5,1349.8 511.7,1356.6 515.9,1337.1 520.1,1301.4 524.2,1269.7 528.4,1266.2 532.6,1267.6 536.8,1263.8 541,1249.1 545.2,1232.9 549.3,1217.7 553.5,1208.8 557.7,1214.7 561.9,1220.7 566.1,1227.6 570.3,1234.6 574.5,1240.5 578.6,1246.1 582.8,1252.3 587,1259.3 591.2,1266.6 595.4,1276.4 599.6,1286.1 603.7,1285.4 607.9,1284.8 612.1,1291 616.3,1297.3 620.5,1312 624.7,1327.4 628.9,1346.1 633,1366.2 637.2,1372.5 641.4,1378.3 645.6,1383.5 649.8,1351.3 654,1321.2 658.1,1314.9 662.3,1306.8 666.5,1298.5 670.7,1308.4 674.9,1320.1 679.1,1336.7 683.3,1347 687.4,1348.4 691.6,1350.6 695.8,1360.3 700,1370.1 704.2,1382 708.4,1394.6 712.6,1403.9 716.7,1409.1 720.9,1414.4 725.1,1418.9 729.3,1422 733.5,1425.2 737.7,1427.8 741.8,1428.8 746,1429.9 750.2,1429.1 754.4,1421.3 758.6,1422 762.8,1422.8 767,1424.8 771.1,1426.9 775.3,1429 779.5,1430.2 783.7,1431.2 787.9,1432.2 792.1,1432.9 796.2,1433.4 800.4,1433.9 804.6,1434.4 808.8,1435 813,1435.5 817.2,1436.4 821.4,1437.7 825.5,1439 829.7,1440.2 833.9,1440.5 838.1,1440.5 842.3,1440.5 846.5,1440.5 850.6,1440.5 854.8,1440.5 859,1440.5 863.2,1440.5 867.4,1414.1 871.6,1382.4 875.8,1389.1 879.9,1395.8 884.1,1402.8 888.3,1409.8 892.5,1415.7 896.7,1421.3 900.9,1427.2 905,1433.7 909.2,1440.2 913.4,1441.2 917.6,1441.9 921.8,1439.2 926,1434.3 930.2,1431.4 934.3,1433.5 938.5,1435.6 942.7,1437.7 946.9,1439.8 951.1,1437 955.3,1431.4 959.4,1428 963.6,1429.4 967.8,1430.8 972,1432.3 976.2,1433.9 980.4,1435.5 984.6,1436.6 988.7,1437.6 992.9,1438.7 997.1,1439.3 1001.3,1439.8 1005.5,1440.4 1009.7,1441.2 1013.8,1442.3 1018,1443.3 1022.2,1444.4 1026.4,1445.4 1030.6,1446.5 1034.8,1446.8 1039,1446.3 1043.1,1445.7 1047.3,1445.2 1051.5,1444.7 1055.7,1444.2 1059.9,1443.2 1064.1,1441.1 1068.2,1416.7 1072.4,1392.4 1076.6,1378.9 1080.8,1370.5 1085,1362.2 1089.2,1355.8 1093.4,1354.4 1097.5,1353 1101.7,1354.4 1105.9,1356 1110.1,1357.5 1114.3,1357.8 1118.5,1357.8 1122.6,1343.9 1126.8,1326.9 1131,1326.9 1135.2,1326.9 1139.4,1326.9 1143.6,1317.5 1147.8,1297.5 1151.9,1280.1 1156.1,1281.3 1160.3,1282.5 1164.5,1283.8 1168.7,1285.4 1172.9,1287 1177,1288.7 1181.2,1290.8 1185.4,1292.9 1189.6,1294.7 1193.8,1295.8 1198,1296.8 1202.2,1298.3 1206.3,1302.5 1210.5,1302.6 1214.7,1302.4 1218.9,1295.2 1223.1,1286.4 1227.3,1287 1231.4,1287.6 1235.6,1288.4 1239.8,1289.4 1244,1290.5 1248.2,1291.4 1252.4,1292.1 1256.6,1292.8 1260.7,1292.9 1264.9,1292.9 1269.1,1293.9 1273.3,1295.6"/>
<path fill="none" stroke="#c8c8c8" stroke-width="2.4" d="M126.7 1377V1412.7M130.9 1375.9V1411.7M135.1 1374.9V1410.6M139.3 1374.1V1409.8M143.4 1375V1410.6M147.6 1375.9V1411.4M151.8 1376.7V1412.2M156 1377.6V1413.1M160.2 1378.7V1414.1M164.4 1379.8V1415.2M168.5 1380.5V1415.9M172.7 1379.5V1414.8M176.9 1378.5V1413.7M181.1 1377.6V1412.8M185.3 1379.2V1414.4M189.5 1380.7V1415.9M193.7 1382.3V1417.5M197.8 1380.9V1416M202 1379.4V1414.4M206.2 1377.8V1412.8M210.4 1377.6V1412.6M214.6 1377.6V1412.6M218.8 1377.7V1412.5M222.9 1379.8V1414.6M227.1 1372.8V1407.6M231.3 1361.8V1396.6M235.5 1354.9V1389.6M239.7 1348.2V1382.9M243.9 1344V1378.6M248.1 1357.9V1392.5M252.2 1376.2V1410.8M256.4 1376.2V1410.7M260.6 1376.2V1410.7M264.8 1376.3V1410.7M269 1376.3V1410.7M273.2 1376.3V1410.7M277.3 1372.8V1407.1M281.5 1366.6V1400.9M285.7 1364.5V1398.8M289.9 1362.4V1396.6M294.1 1361.4V1395.6M298.3 1360.9V1395.1M302.5 1360.4V1394.5M306.6 1359V1393.1M310.8 1356.9V1391M315 1355.7V1389.7M319.2 1357.2V1391.1M323.4 1358.6V1392.5M327.6 1325.4V1359.3M331.7 1298.3V1332.1M335.9 1289V1322.8M340.1 1291.8V1325.5M344.3 1294.6V1328.3M348.5 1297.4V1331.1M352.7 1300.2V1333.9M356.9 1276.7V1310.3M361 1246.7V1280.2M365.2 1234V1267.5M369.4 1236.8V1270.3M373.6 1239.6V1273.1M377.8 1242.4V1275.8M382 1245.3V1278.6M386.1 1240V1273.3M390.3 1225.5V1258.8M394.5 1222.1V1255.3M398.7 1226.3V1259.5M402.9 1230.8V1264M407.1 1236.1V1269.2M411.3 1241.3V1274.4M415.4 1243.4V1276.4M419.6 1232.9V1265.9M423.8 1223.8V1256.8M428 1229V1261.9M432.2 1236V1268.8M436.4 1242V1274.8M440.5 1247.3V1280M444.7 1252.5V1285.3M448.9 1259.2V1291.9M453.1 1267.6V1300.2M457.3 1276.7V1309.4M461.5 1291.4V1324M465.7 1299.4V1331.9M469.8 1302.4V1334.9M474 1305.4V1337.9M478.2 1295.1V1327.5M482.4 1289.1V1321.5M486.6 1287.7V1320.1M490.8 1296.8V1329.1M494.9 1305.9V1338.2M499.1 1315V1347.2M503.3 1324V1356.2M507.5 1333.7V1365.9M511.7 1340.6V1372.7M515.9 1321.1V1353.1M520.1 1285.4V1317.4M524.2 1253.7V1285.6M528.4 1250.2V1282.2M532.6 1251.6V1283.5M536.8 1247.8V1279.7M541 1233.2V1265M545.2 1217V1248.8M549.3 1201.8V1233.5M553.5 1193V1224.7M557.7 1198.8V1230.5M561.9 1204.8V1236.5M566.1 1211.8V1243.4M570.3 1218.8V1250.4M574.5 1224.7V1256.2M578.6 1230.3V1261.8M582.8 1236.6V1268M587 1243.6V1275M591.2 1250.9V1282.3M595.4 1260.7V1292M599.6 1270.5V1301.8M603.7 1269.8V1301.1M607.9 1269.2V1300.3M612.1 1275.5V1306.6M616.3 1281.8V1312.9M620.5 1296.5V1327.6M624.7 1311.9V1342.9M628.9 1330.6V1361.6M633 1350.8V1381.7M637.2 1357.1V1388M641.4 1362.8V1393.7M645.6 1368.1V1398.9M649.8 1335.9V1366.7M654 1305.8V1336.6M658.1 1299.5V1330.3M662.3 1291.5V1322.2M666.5 1283.2V1313.8M670.7 1293.1V1323.7M674.9 1304.8V1335.4M679.1 1321.5V1352M683.3 1331.8V1362.2M687.4 1333.2V1363.6M691.6 1335.4V1365.8M695.8 1345.2V1375.5M700 1354.9V1385.3M704.2 1366.9V1397.1M708.4 1379.4V1409.7M712.6 1388.8V1419M716.7 1394V1424.2M720.9 1399.3V1429.4M725.1 1403.8V1433.9M729.3 1407V1437M733.5 1410.2V1440.2M737.7 1412.8V1442.8M741.8 1413.9V1443.8M746 1415V1444.8M750.2 1414.2V1444.1M754.4 1406.4V1436.2M758.6 1407.1V1436.9M762.8 1407.9V1437.6M767 1410V1439.7M771.1 1412.1V1441.8M775.3 1414.2V1443.8M779.5 1415.4V1444.9M783.7 1416.4V1446M787.9 1417.5V1447M792.1 1418.1V1447.6M796.2 1418.7V1448.1M800.4 1419.2V1448.6M804.6 1419.8V1449.1M808.8 1420.3V1449.6M813 1420.9V1450.1M817.2 1421.8V1451.1M821.4 1423.1V1452.3M825.5 1424.4V1453.5M829.7 1425.7V1454.8M833.9 1426V1455.1M838.1 1426V1455M842.3 1426.1V1455M846.5 1426.1V1455M850.6 1426.1V1455M854.8 1426.1V1455M859 1426.1V1454.9M863.2 1426.2V1454.9M867.4 1399.7V1428.4M871.6 1368.1V1396.8M875.8 1374.8V1403.4M879.9 1381.5V1410.1M884.1 1389V1416.7M888.3 1396.4V1423.2M892.5 1402.7V1428.6M896.7 1408.7V1433.8M900.9 1415.2V1439.3M905 1422.1V1445.3M909.2 1429V1451.3M913.4 1430.5V1451.9M917.6 1431.6V1452.2M921.8 1429.3V1449M926 1424.4V1444.1M930.2 1421.6V1441.2M934.3 1423.7V1443.3M938.5 1425.8V1445.4M942.7 1427.8V1447.5M946.9 1429.9V1449.6M951.1 1427.2V1446.8M955.3 1421.6V1441.3M959.4 1418.2V1437.8M963.6 1419.5V1439.2M967.8 1420.9V1440.6M972 1422.5V1442.2M976.2 1424.1V1443.7M980.4 1425.6V1445.3M984.6 1426.8V1446.4M988.7 1427.8V1447.5M992.9 1428.8V1448.5M997.1 1429.5V1449.2M1001.3 1430V1449.7M1005.5 1430.5V1450.2M1009.7 1431.4V1451.1M1013.8 1432.5V1452.1M1018 1433.5V1453.2M1022.2 1434.5V1454.2M1026.4 1435.6V1455.3M1030.6 1436.6V1456.3M1034.8 1437V1456.6M1039 1436.4V1456.1M1043.1 1435.9V1455.6M1047.3 1435.4V1455.1M1051.5 1434.9V1454.5M1055.7 1434.3V1454M1059.9 1433.4V1453.1M1064.1 1431.3V1451M1068.2 1406.9V1426.6M1072.4 1381.7V1403.2M1076.6 1367.3V1390.5M1080.8 1358V1383.1M1085 1348.8V1375.6M1089.2 1341.5V1370.1M1093.4 1340.1V1368.7M1097.5 1338.7V1367.3M1101.7 1340.1V1368.7M1105.9 1341.7V1370.3M1110.1 1343.2V1371.8M1114.3 1343.5V1372.1M1118.5 1343.5V1372.1M1122.6 1329.6V1358.2M1126.8 1312.6V1341.2M1131 1312.6V1341.2M1135.2 1312.6V1341.2M1139.4 1312.6V1341.2M1143.6 1303.2V1331.8M1147.8 1290.4V1304.7M1227.3 1279.9V1294.2M1231.4 1273.3V1301.9M1235.6 1274.1V1302.7M1239.8 1275.1V1303.7M1244 1276.2V1304.8M1248.2 1277.1V1305.7M1252.4 1277.8V1306.4M1256.6 1278.5V1307.1M1260.7 1278.6V1307.2M1264.9 1278.6V1307.2M1269.1 1279.6V1308.2M1273.3 1281.3V1309.9"/>
<polyline fill="none" stroke="#000" stroke-width="1.4" stroke-linejoin="round" points="126.7,1394.9 130.9,1393.8 135.1,1392.8 139.3,1392 143.4,1392.8 147.6,1393.6 151.8,1394.5 156,1395.4 160.2,1396.4 164.4,1397.5 168.5,1398.2 172.7,1397.1 176.9,1396.1 181.1,1395.2 185.3,1396.8 189.5,1398.3 193.7,1399.9 197.8,1398.5 202,1396.9 206.2,1395.3 210.4,1395.1 214.6,1395.1 218.8,1395.1 222.9,1397.2 227.1,1390.2 231.3,1379.2 235.5,1372.2 239.7,1365.5 243.9,1361.3 248.1,1375.2 252.2,1393.5 256.4,1393.5 260.6,1393.5 264.8,1393.5 269,1393.5 273.2,1393.5 277.3,1390 281.5,1383.7 285.7,1381.6 289.9,1379.5 294.1,1378.5 298.3,1378 302.5,1377.5 306.6,1376 310.8,1373.9 315,1372.7 319.2,1374.1 323.4,1375.5 327.6,1342.4 331.7,1315.2 335.9,1305.9 340.1,1308.7 344.3,1311.5 348.5,1314.3 352.7,1317 356.9,1293.5 361,1263.5 365.2,1250.8 369.4,1253.6 373.6,1256.3 377.8,1259.1 382,1261.9 386.1,1256.7 390.3,1242.1 394.5,1238.7 398.7,1242.9 402.9,1247.4 407.1,1252.6 411.3,1257.9 415.4,1259.9 419.6,1249.4 423.8,1240.3 428,1245.4 432.2,1252.4 436.4,1258.4 440.5,1263.7 444.7,1268.9 448.9,1275.5 453.1,1283.9 457.3,1293 461.5,1307.7 465.7,1315.7 469.8,1318.7 474,1321.6 478.2,1311.3 482.4,1305.3 486.6,1303.9 490.8,1313 494.9,1322 499.1,1331.1 503.3,1340.1 507.5,1349.8 511.7,1356.6 515.9,1337.1 520.1,1301.4 524.2,1269.7 528.4,1266.2 532.6,1267.6 536.8,1263.8 541,1249.1 545.2,1232.9 549.3,1217.7 553.5,1208.8 557.7,1214.7 561.9,1220.7 566.1,1227.6 570.3,1234.6 574.5,1240.5 578.6,1246.1 582.8,1252.3 587,1259.3 591.2,1266.6 595.4,1276.4 599.6,1286.1 603.7,1285.4 607.9,1284.8 612.1,1291 616.3,1297.3 620.5,1312 624.7,1327.4 628.9,1346.1 633,1366.2 637.2,1372.5 641.4,1378.3 645.6,1383.5 649.8,1351.3 654,1321.2 658.1,1314.9 662.3,1306.8 666.5,1298.5 670.7,1308.4 674.9,1320.1 679.1,1336.7 683.3,1347 687.4,1348.4 691.6,1350.6 695.8,1360.3 700,1370.1 704.2,1382 708.4,1394.6 712.6,1403.9 716.7,1409.1 720.9,1414.4 725.1,1418.9 729.3,1422 733.5,1425.2 737.7,1427.8 741.8,1428.8 746,1429.9 750.2,1429.1 754.4,1421.3 758.6,1422 762.8,1422.8 767,1424.8 771.1,1426.9 775.3,1429 779.5,1430.2 783.7,1431.2 787.9,1432.2 792.1,1432.9 796.2,1433.4 800.4,1433.9 804.6,1434.4 808.8,1435 813,1435.5 817.2,1436.4 821.4,1437.7 825.5,1439 829.7,1440.2 833.9,1440.5 838.1,1440.5 842.3,1440.5 846.5,1440.5 850.6,1440.5 854.8,1440.5 859,1440.5 863.2,1440.5 867.4,1414.1 871.6,1382.4 875.8,1389.1 879.9,1395.8 884.1,1402.8 888.3,1409.8 892.5,1415.7 896.7,1421.3 900.9,1427.2 905,1433.7 909.2,1440.2 913.4,1441.2 917.6,1441.9 921.8,1439.2 926,1434.3 930.2,1431.4 934.3,1433.5 938.5,1435.6 942.7,1437.7 946.9,1439.8 951.1,1437 955.3,1431.4 959.4,1428 963.6,1429.4 967.8,1430.8 972,1432.3 976.2,1433.9 980.4,1435.5 984.6,1436.6 988.7,1437.6 992.9,1438.7 997.1,1439.3 1001.3,1439.8 1005.5,1440.4 1009.7,1441.2 1013.8,1442.3 1018,1443.3 1022.2,1444.4 1026.4,1445.4 1030.6,1446.5 1034.8,1446.8 1039,1446.3 1043.1,1445.7 1047.3,1445.2 1051.5,1444.7 1055.7,1444.2 1059.9,1443.2 1064.1,1441.1 1068.2,1416.7 1072.4,1392.4 1076.6,1378.9 1080.8,1370.5 1085,1362.2 1089.2,1355.8 1093.4,1354.4 1097.5,1353 1101.7,1354.4 1105.9,1356 1110.1,1357.5 1114.3,1357.8 1118.5,1357.8 1122.6,1343.9 1126.8,1326.9 1131,1326.9 1135.2,1326.9 1139.4,1326.9 1143.6,1317.5 1147.8,1297.5 1151.9,1280.1 1156.1,1281.3 1160.3,1282.5 1164.5,1283.8 1168.7,1285.4 1172.9,1287 1177,1288.7 1181.2,1290.8 1185.4,1292.9 1189.6,1294.7 1193.8,1295.8 1198,1296.8 1202.2,1298.3 1206.3,1302.5 1210.5,1302.6 1214.7,1302.4 1218.9,1295.2 1223.1,1286.4 1227.3,1287 1231.4,1287.6 1235.6,1288.4 1239.8,1289.4 1244,1290.5 1248.2,1291.4 1252.4,1292.1 1256.6,1292.8 1260.7,1292.9 1264.9,1292.9 1269.1,1293.9 1273.3,1295.6"/><path fill="none" stroke="#000" stroke-width="2.4" d="M125.5 1394.9h2.4M129.7 1393.8h2.4M133.9 1392.8h2.4M138.1 1392h2.4M142.2 1392.8h2.4M146.4 1393.6h2.4M150.6 1394.5h2.4M154.8 1395.4h2.4M159 1396.4h2.4M163.2 1397.5h2.4M167.3 1398.2h2.4M171.5 1397.1h2.4M175.7 1396.1h2.4M179.9 1395.2h2.4M184.1 1396.8h2.4M188.3 1398.3h2.4M192.5 1399.9h2.4M196.6 1398.5h2.4M200.8 1396.9h2.4M205 1395.3h2.4M209.2 1395.1h2.4M213.4 1395.1h2.4M217.6 1395.1h2.4M221.7 1397.2h2.4M225.9 1390.2h2.4M230.1 1379.2h2.4M234.3 1372.2h2.4M238.5 1365.5h2.4M242.7 1361.3h2.4M246.9 1375.2h2.4M251 1393.5h2.4M255.2 1393.5h2.4M259.4 1393.5h2.4M263.6 1393.5h2.4M267.8 1393.5h2.4M272 1393.5h2.4M276.1 1390h2.4M280.3 1383.7h2.4M284.5 1381.6h2.4M288.7 1379.5h2.4M292.9 1378.5h2.4M297.1 1378h2.4M301.3 1377.5h2.4M305.4 1376h2.4M309.6 1373.9h2.4M313.8 1372.7h2.4M318 1374.1h2.4M322.2 1375.5h2.4M326.4 1342.4h2.4M330.5 1315.2h2.4M334.7 1305.9h2.4M338.9 1308.7h2.4M343.1 1311.5h2.4M347.3 1314.3h2.4M351.5 1317h2.4M355.7 1293.5h2.4M359.8 1263.5h2.4M364 1250.8h2.4M368.2 1253.6h2.4M372.4 1256.3h2.4M376.6 1259.1h2.4M380.8 1261.9h2.4M384.9 1256.7h2.4M389.1 1242.1h2.4M393.3 1238.7h2.4M397.5 1242.9h2.4M401.7 1247.4h2.4M405.9 1252.6h2.4M410.1 1257.9h2.4M414.2 1259.9h2.4M418.4 1249.4h2.4M422.6 1240.3h2.4M426.8 1245.4h2.4M431 1252.4h2.4M435.2 1258.4h2.4M439.3 1263.7h2.4M443.5 1268.9h2.4M447.7 1275.5h2.4M451.9 1283.9h2.4M456.1 1293h2.4M460.3 1307.7h2.4M464.5 1315.7h2.4M468.6 1318.7h2.4M472.8 1321.6h2.4M477 1311.3h2.4M481.2 1305.3h2.4M485.4 1303.9h2.4M489.6 1313h2.4M493.7 1322h2.4M497.9 1331.1h2.4M502.1 1340.1h2.4M506.3 1349.8h2.4M510.5 1356.6h2.4M514.7 1337.1h2.4M518.9 1301.4h2.4M523 1269.7h2.4M527.2 1266.2h2.4M531.4 1267.6h2.4M535.6 1263.8h2.4M539.8 1249.1h2.4M544 1232.9h2.4M548.1 1217.7h2.4M552.3 1208.8h2.4M556.5 1214.7h2.4M560.7 1220.7h2.4M564.9 1227.6h2.4M569.1 1234.6h2.4M573.3 1240.5h2.4M577.4 1246.1h2.4M581.6 1252.3h2.4M585.8 1259.3h2.4M590 1266.6h2.4M594.2 1276.4h2.4M598.4 1286.1h2.4M602.5 1285.4h2.4M606.7 1284.8h2.4M610.9 1291h2.4M615.1 1297.3h2.4M619.3 1312h2.4M623.5 1327.4h2.4M627.7 1346.1h2.4M631.8 1366.2h2.4M636 1372.5h2.4M640.2 1378.3h2.4M644.4 1383.5h2.4M648.6 1351.3h2.4M652.8 1321.2h2.4M656.9 1314.9h2.4M661.1 1306.8h2.4M665.3 1298.5h2.4M669.5 1308.4h2.4M673.7 1320.1h2.4M677.9 1336.7h2.4M682.1 1347h2.4M686.2 1348.4h2.4M690.4 1350.6h2.4M694.6 1360.3h2.4M698.8 1370.1h2.4M703 1382h2.4M707.2 1394.6h2.4M711.4 1403.9h2.4M715.5 1409.1h2.4M719.7 1414.4h2.4M723.9 1418.9h2.4M728.1 1422h2.4M732.3 1425.2h2.4M736.5 1427.8h2.4M740.6 1428.8h2.4M744.8 1429.9h2.4M749 1429.1h2.4M753.2 1421.3h2.4M757.4 1422h2.4M761.6 1422.8h2.4M765.8 1424.8h2.4M769.9 1426.9h2.4M774.1 1429h2.4M778.3 1430.2h2.4M782.5 1431.2h2.4M786.7 1432.2h2.4M790.9 1432.9h2.4M795 1433.4h2.4M799.2 1433.9h2.4M803.4 1434.4h2.4M807.6 1435h2.4M811.8 1435.5h2.4M816 1436.4h2.4M820.2 1437.7h2.4M824.3 1439h2.4M828.5 1440.2h2.4M832.7 1440.5h2.4M836.9 1440.5h2.4M841.1 1440.5h2.4M845.3 1440.5h2.4M849.4 1440.5h2.4M853.6 1440.5h2.4M857.8 1440.5h2.4M862 1440.5h2.4M866.2 1414.1h2.4M870.4 1382.4h2.4M874.6 1389.1h2.4M878.7 1395.8h2.4M882.9 1402.8h2.4M887.1 1409.8h2.4M891.3 1415.7h2.4M895.5 1421.3h2.4M899.7 1427.2h2.4M903.8 1433.7h2.4M908 1440.2h2.4M912.2 1441.2h2.4M916.4 1441.9h2.4M920.6 1439.2h2.4M924.8 1434.3h2.4M929 1431.4h2.4M933.1 1433.5h2.4M937.3 1435.6h2.4M941.5 1437.7h2.4M945.7 1439.8h2.4M949.9 1437h2.4M954.1 1431.4h2.4M958.2 1428h2.4M962.4 1429.4h2.4M966.6 1430.8h2.4M970.8 1432.3h2.4M975 1433.9h2.4M979.2 1435.5h2.4M983.4 1436.6h2.4M987.5 1437.6h2.4M991.7 1438.7h2.4M995.9 1439.3h2.4M1000.1 1439.8h2.4M1004.3 1440.4h2.4M1008.5 1441.2h2.4M1012.6 1442.3h2.4M1016.8 1443.3h2.4M1021 1444.4h2.4M1025.2 1445.4h2.4M1029.4 1446.5h2.4M1033.6 1446.8h2.4M1037.8 1446.3h2.4M1041.9 1445.7h2.4M1046.1 1445.2h2.4M1050.3 1444.7h2.4M1054.5 1444.2h2.4M1058.7 1443.2h2.4M1062.9 1441.1h2.4M1067 1416.7h2.4M1071.2 1392.4h2.4M1075.4 1378.9h2.4M1079.6 1370.5h2.4M1083.8 1362.2h2.4M1088 1355.8h2.4M1092.2 1354.4h2.4M1096.3 1353h2.4M1100.5 1354.4h2.4M1104.7 1356h2.4M1108.9 1357.5h2.4M1113.1 1357.8h2.4M1117.3 1357.8h2.4M1121.4 1343.9h2.4M1125.6 1326.9h2.4M1129.8 1326.9h2.4M1134 1326.9h2.4M1138.2 1326.9h2.4M1142.4 1317.5h2.4M1146.6 1297.5h2.4M1150.7 1280.1h2.4M1154.9 1281.3h2.4M1159.1 1282.5h2.4M1163.3 1283.8h2.4M1167.5 1285.4h2.4M1171.7 1287h2.4M1175.8 1288.7h2.4M1180 1290.8h2.4M1184.2 1292.9h2.4M1188.4 1294.7h2.4M1192.6 1295.8h2.4M1196.8 1296.8h2.4M1201 1298.3h2.4M1205.1 1302.5h2.4M1209.3 1302.6h2.4M1213.5 1302.4h2.4M1217.7 1295.2h2.4M1221.9 1286.4h2.4M1226.1 1287h2.4M1230.2 1287.6h2.4M1234.4 1288.4h2.4M1238.6 1289.4h2.4M1242.8 1290.5h2.4M1247 1291.4h2.4M1251.2 1292.1h2.4M1255.4 1292.8h2.4M1259.5 1292.9h2.4M1263.7 1292.9h2.4M1267.9 1293.9h2.4M1272.1 1295.6h2.4"/>
<polyline fill="none" stroke="#008000" stroke-width="6" stroke-linejoin="round" points="126.7,1298.9 130.9,1284.4 135.1,1279.1 139.3,1277.9 143.4,1280.5 147.6,1282.5 151.8,1284.2 156,1282.7 160.2,1280.4 164.4,1286.3 168.5,1291.6 172.7,1293.7 176.9,1291.5 181.1,1286.7 185.3,1285.2 189.5,1292.9 193.7,1300.6 197.8,1292.2 202,1283.1 206.2,1280.1 210.4,1277.1 214.6,1276 218.8,1279.3 222.9,1285.2 227.1,1295.7 231.3,1301.9 235.5,1303.7 239.7,1295.3 243.9,1289.9 248.1,1285.7 252.2,1272 256.4,1271.2 260.6,1270.7 264.8,1270.2 269,1278.5 273.2,1285.4 277.3,1287.5 281.5,1281.4 285.7,1274.5 289.9,1272.4 294.1,1270.3 298.3,1270.8 302.5,1271.5 306.6,1265.7 310.8,1255.5 315,1253.4 319.2,1253.3 323.4,1255.4 327.6,1253.6 331.7,1229.9 335.9,1215.8 340.1,1214.5 344.3,1215.9 348.5,1215.5 352.7,1213.5 356.9,1211.4 361,1210.9 365.2,1213 369.4,1215 373.6,1215.5 377.8,1216 382,1216.6 386.1,1195.1 390.3,1194 394.5,1198.6 398.7,1204.6 402.9,1210.6 407.1,1214.8 411.3,1217.6 415.4,1217.5 419.6,1206.4 423.8,1195.2 428,1197.5 432.2,1201.3 436.4,1204.1 440.5,1206.9 444.7,1209.6 448.9,1212.4 453.1,1217.6 457.3,1223.9 461.5,1230.1 465.7,1234.4 469.8,1237.2 474,1234.7 478.2,1215.9 482.4,1207.2 486.6,1204.2 490.8,1208.4 494.9,1212.6 499.1,1217.4 503.3,1222.3 507.5,1227.2 511.7,1222.9 515.9,1194.6 520.1,1183.6 524.2,1179.4 528.4,1183.6 532.6,1182.9 536.8,1181.5 541,1175.1 545.2,1164.7 549.3,1158.4 553.5,1156.8 557.7,1161 561.9,1165.1 566.1,1169.3 570.3,1173.5 574.5,1177.7 578.6,1181.9 582.8,1186.1 587,1190.3 591.2,1191.9 595.4,1193.3 599.6,1190.2 603.7,1184 607.9,1180.9 612.1,1181.6 616.3,1186.5 620.5,1192.2 624.7,1201.9 628.9,1211.7 633,1223.8 637.2,1236.3 641.4,1245.7 645.6,1252 649.8,1229.7 654,1194.6 658.1,1188.3 662.3,1180.3 666.5,1171.9 670.7,1178 674.9,1185.5 679.1,1192.9 683.3,1193.6 687.4,1185.2 691.6,1185.9 695.8,1190.5 700,1200.2 704.2,1210 708.4,1219.8 712.6,1229.5 716.7,1241.1 720.9,1253.7 725.1,1265.3 729.3,1275.1 733.5,1284.9 737.7,1296 741.8,1307.2 746,1316.4 750.2,1323.8 754.4,1324.5 758.6,1325.2 762.8,1325.9 767,1326.6 771.1,1328.9 775.3,1333.1 779.5,1337.3 783.7,1341.5 787.9,1345.7 792.1,1349 796.2,1352.1 800.4,1355.3 804.6,1358 808.8,1360.7 813,1363.3 817.2,1366.5 821.4,1370.2 825.5,1373.9 829.7,1376.7 833.9,1378.8 838.1,1380.9 842.3,1382.4 846.5,1383.1 850.6,1383.8 854.8,1384.9 859,1385.9 863.2,1387 867.4,1364.3 871.6,1352.2 875.8,1354.3 879.9,1356.6 884.1,1360.8 888.3,1365 892.5,1369.2 896.7,1373.3 900.9,1377.3 905,1381.1 909.2,1383.1 913.4,1384.5 917.6,1385.6 921.8,1386.1 926,1386.6 930.2,1387.1 934.3,1387.7 938.5,1388.2 942.7,1388.7 946.9,1389.4 951.1,1390.1 955.3,1381.9 959.4,1378.3 963.6,1377.5 967.8,1378.8 972,1380.9 976.2,1382.8 980.4,1384.4 984.6,1385.9 988.7,1386.8 992.9,1386.1 997.1,1385.4 1001.3,1383.3 1005.5,1382.7 1009.7,1384.1 1013.8,1385.8 1018,1389.3 1022.2,1392.8 1026.4,1394.3 1030.6,1395.4 1034.8,1396.4 1039,1396.7 1043.1,1396.7 1047.3,1396.7 1051.5,1395.7 1055.7,1394.1 1059.9,1387.1 1064.1,1375 1068.2,1360.3 1072.4,1325.5 1076.6,1289.2 1080.8,1258 1085,1241.4 1089.2,1238.9 1093.4,1238.4 1097.5,1239.8 1101.7,1241.3 1105.9,1243.4 1110.1,1245.5 1114.3,1245.8 1118.5,1245.8 1122.6,1249.1 1126.8,1255.4 1131,1256.2 1135.2,1256.9 1139.4,1257.2 1143.6,1255.4 1147.8,1237.3 1151.9,1230.9 1156.1,1231.2 1160.3,1233.3 1164.5,1235.1 1168.7,1236.7 1172.9,1238.3 1177,1240.2 1181.2,1242.8 1185.4,1245.4 1189.6,1247.5 1193.8,1248.1 1198,1248.6 1202.2,1249.3 1206.3,1250.8 1210.5,1252.4 1214.7,1254 1218.9,1256.1 1223.1,1244.1 1227.3,1234.1 1231.4,1231.3 1235.6,1229.6 1239.8,1229.6 1244,1229.2 1248.2,1221.7 1252.4,1216.1 1256.6,1225.8 1260.7,1227.6 1264.9,1229 1269.1,1230.6 1273.3,1232.3"/>
<path fill="none" stroke="#c8c8c8" stroke-width="2.4" d="M126.7 1279.3V1318.6M130.9 1264.7V1304M135.1 1259.5V1298.8M139.3 1258.3V1297.6M143.4 1260.9V1300M147.6 1262.9V1302M151.8 1264.6V1303.7M156 1263.2V1302.2M160.2 1260.9V1299.9M164.4 1266.8V1305.8M168.5 1272.1V1311M172.7 1274.2V1313.1M176.9 1272.1V1311M181.1 1267.2V1306.1M185.3 1265.9V1304.6M189.5 1273.5V1312.3M193.7 1281.2V1319.9M197.8 1272.9V1311.6M202 1263.8V1302.4M206.2 1260.8V1299.4M210.4 1257.8V1296.4M214.6 1256.7V1295.2M218.8 1260.1V1298.6M222.9 1266V1304.4M227.1 1276.5V1314.9M231.3 1282.8V1321.1M235.5 1284.6V1322.9M239.7 1276.2V1314.5M243.9 1270.8V1309M248.1 1266.6V1304.8M252.2 1252.9V1291M256.4 1252.2V1290.3M260.6 1251.7V1289.8M264.8 1251.2V1289.2M269 1259.5V1297.5M273.2 1266.5V1304.4M277.3 1268.6V1306.5M281.5 1262.5V1300.4M285.7 1255.6V1293.4M289.9 1253.5V1291.3M294.1 1251.5V1289.2M298.3 1251.9V1289.6M302.5 1252.6V1290.3M306.6 1246.9V1284.5M310.8 1236.7V1274.3M315 1234.6V1272.2M319.2 1234.5V1272M323.4 1236.6V1274.1M327.6 1234.9V1272.3M331.7 1211.2V1248.6M335.9 1197.1V1234.5M340.1 1195.8V1233.1M344.3 1197.2V1234.5M348.5 1196.9V1234.2M352.7 1194.9V1232.1M356.9 1192.8V1229.9M361 1192.4V1229.5M365.2 1194.5V1231.5M369.4 1196.5V1233.5M373.6 1197V1234M377.8 1197.6V1234.5M382 1198.1V1235M386.1 1176.7V1213.5M390.3 1175.5V1212.4M394.5 1180.2V1217M398.7 1186.2V1222.9M402.9 1192.2V1228.9M407.1 1196.5V1233.2M411.3 1199.3V1235.9M415.4 1199.2V1235.8M419.6 1188.1V1224.6M423.8 1176.9V1213.5M428 1179.3V1215.8M432.2 1183.1V1219.5M436.4 1185.9V1222.3M440.5 1188.7V1225M444.7 1191.5V1227.8M448.9 1194.3V1230.6M453.1 1199.5V1235.7M457.3 1205.8V1241.9M461.5 1212V1248.2M465.7 1216.4V1252.5M469.8 1219.2V1255.2M474 1216.7V1252.7M478.2 1197.9V1233.9M482.4 1189.2V1225.2M486.6 1186.2V1222.2M490.8 1190.4V1226.3M494.9 1194.6V1230.5M499.1 1199.5V1235.3M503.3 1204.4V1240.2M507.5 1209.7V1244.8M511.7 1205.8V1240.1M515.9 1177.8V1211.4M520.1 1167.2V1200.1M524.2 1163.3V1195.5M528.4 1167.9V1199.3M532.6 1167.5V1198.3M536.8 1166.5V1196.5M541 1160.5V1189.8M545.2 1150.4V1179M549.3 1144.1V1172.7M553.5 1142.5V1171.1M557.7 1146.7V1175.3M561.9 1150.8V1179.5M566.1 1155V1183.6M570.3 1159.2V1187.8M574.5 1163.4V1192M578.6 1167.6V1196.2M582.8 1171.8V1200.4M587 1176V1204.6M591.2 1177.6V1206.2M595.4 1179V1207.6M599.6 1175.9V1204.5M603.7 1169.7V1198.3M607.9 1166.6V1195.2M612.1 1167.3V1195.9M616.3 1172.2V1200.8M620.5 1177.8V1206.5M624.7 1187.6V1216.2M628.9 1197.4V1226M633 1209.5V1238.1M637.2 1222V1250.6M641.4 1231.4V1260M645.6 1237.7V1266.3M649.8 1215.4V1244M654 1180.3V1208.9M658.1 1174V1202.6M662.3 1166V1194.6M666.5 1157.6V1186.2M670.7 1163.7V1192.3M674.9 1171.2V1199.8M679.1 1178.6V1207.2M683.3 1179.3V1207.9M687.4 1170.9V1199.5M691.6 1171.6V1200.2M695.8 1176.2V1204.8M700 1185.9V1214.5M704.2 1195.7V1224.3M708.4 1205.5V1234.1M712.6 1215.2V1243.8M716.7 1226.8V1255.5M720.9 1239.4V1268M725.1 1251V1279.6M729.3 1260.8V1289.4M733.5 1270.6V1299.2M737.7 1281.7V1310.3M741.8 1292.9V1321.5M746 1302.1V1330.7M750.2 1309.5V1338.1M754.4 1310.2V1338.8M758.6 1310.9V1339.5M762.8 1311.6V1340.2M767 1312.3V1340.9M771.1 1314.6V1343.2M775.3 1318.8V1347.4M779.5 1323V1351.6M783.7 1327.2V1355.8M787.9 1331.4V1360M792.1 1334.7V1363.3M796.2 1337.8V1366.4M800.4 1341V1369.6M804.6 1343.7V1372.3M808.8 1346.4V1375M813 1349V1377.6M817.2 1352.2V1380.8M821.4 1355.9V1384.5M825.5 1359.6V1388.2M829.7 1362.4V1391M833.9 1364.5V1393.1M838.1 1366.6V1395.2M842.3 1368.1V1396.7M846.5 1368.8V1397.4M850.6 1369.5V1398.1M854.8 1370.6V1399.2M859 1371.6V1400.2M863.2 1372.7V1401.3M867.4 1350V1378.6M871.6 1337.9V1366.5M875.8 1340V1368.6M879.9 1342.3V1370.9M884.1 1346.5V1375.1M888.3 1350.7V1379.3M892.5 1354.8V1383.5M896.7 1359V1387.6M900.9 1363V1391.6M905 1366.8V1395.4M909.2 1368.8V1397.4M913.4 1370.2V1398.8M917.6 1371.3V1399.9M921.8 1371.8V1400.4M926 1372.3V1400.9M930.2 1372.8V1401.4M934.3 1373.4V1402M938.5 1373.9V1402.5M942.7 1374.4V1403M946.9 1375.1V1403.7M951.1 1375.8V1404.4M955.3 1367.6V1396.2M959.4 1364V1392.6M963.6 1363.1V1391.8M967.8 1364.5V1393.1M972 1366.6V1395.2M976.2 1368.5V1397.1M980.4 1370.1V1398.7M984.6 1371.6V1400.2M988.7 1372.5V1401.1M992.9 1371.8V1400.4M997.1 1371.1V1399.7M1001.3 1369V1397.6M1005.5 1368.4V1397M1009.7 1369.8V1398.4M1013.8 1371.5V1400.1M1018 1375V1403.6M1022.2 1378.5V1407.1M1026.4 1380V1408.6M1030.6 1381.1V1409.7M1034.8 1382.1V1410.7M1039 1382.4V1411M1043.1 1382.4V1411M1047.3 1382.4V1411M1051.5 1381.4V1410M1055.7 1379.8V1408.4M1059.9 1372.8V1401.4M1064.1 1360.7V1389.3M1068.2 1346V1374.7M1072.4 1311.2V1339.8M1076.6 1274.9V1303.5M1080.8 1243.7V1272.3M1085 1227.1V1255.7M1089.2 1224.6V1253.2M1093.4 1224.1V1252.7M1097.5 1225.5V1254.1M1101.7 1227V1255.6M1105.9 1229.1V1257.7M1110.1 1231.2V1259.8M1114.3 1231.5V1260.1M1118.5 1231.5V1260.1M1122.6 1234.8V1263.4M1126.8 1241.1V1269.7M1131 1241.9V1270.5M1135.2 1242.6V1271.2M1139.4 1242.9V1271.5M1143.6 1241.1V1269.7M1147.8 1223V1251.6M1151.9 1216.6V1245.2M1156.1 1216.9V1245.5M1160.3 1219V1247.6M1164.5 1220.8V1249.4M1168.7 1222.4V1251M1172.9 1224V1252.6M1177 1225.9V1254.5M1181.2 1228.5V1257.1M1185.4 1231.1V1259.7M1189.6 1233.2V1261.8M1193.8 1233.8V1262.4M1198 1234.3V1262.9M1202.2 1234.9V1263.6M1206.3 1236.5V1265.1M1210.5 1238.1V1266.7M1214.7 1239.7V1268.3M1218.9 1241.8V1270.4M1223.1 1229.8V1258.4M1227.3 1219.8V1248.4M1231.4 1217V1245.6M1235.6 1215.3V1243.9M1239.8 1215.3V1243.9M1244 1214.9V1243.5M1248.2 1207.3V1236M1252.4 1201.7V1230.4M1256.6 1211.5V1240.1M1260.7 1213.3V1241.9M1264.9 1214.7V1243.3M1269.1 1216.3V1244.9M1273.3 1218V1246.6"/>
<polyline fill="none" stroke="#000" stroke-width="1.4" stroke-linejoin="round" points="126.7,1298.9 130.9,1284.4 135.1,1279.1 139.3,1277.9 143.4,1280.5 147.6,1282.5 151.8,1284.2 156,1282.7 160.2,1280.4 164.4,1286.3 168.5,1291.6 172.7,1293.7 176.9,1291.5 181.1,1286.7 185.3,1285.2 189.5,1292.9 193.7,1300.6 197.8,1292.2 202,1283.1 206.2,1280.1 210.4,1277.1 214.6,1276 218.8,1279.3 222.9,1285.2 227.1,1295.7 231.3,1301.9 235.5,1303.7 239.7,1295.3 243.9,1289.9 248.1,1285.7 252.2,1272 256.4,1271.2 260.6,1270.7 264.8,1270.2 269,1278.5 273.2,1285.4 277.3,1287.5 281.5,1281.4 285.7,1274.5 289.9,1272.4 294.1,1270.3 298.3,1270.8 302.5,1271.5 306.6,1265.7 310.8,1255.5 315,1253.4 319.2,1253.3 323.4,1255.4 327.6,1253.6 331.7,1229.9 335.9,1215.8 340.1,1214.5 344.3,1215.9 348.5,1215.5 352.7,1213.5 356.9,1211.4 361,1210.9 365.2,1213 369.4,1215 373.6,1215.5 377.8,1216 382,1216.6 386.1,1195.1 390.3,1194 394.5,1198.6 398.7,1204.6 402.9,1210.6 407.1,1214.8 411.3,1217.6 415.4,1217.5 419.6,1206.4 423.8,1195.2 428,1197.5 432.2,1201.3 436.4,1204.1 440.5,1206.9 444.7,1209.6 448.9,1212.4 453.1,1217.6 457.3,1223.9 461.5,1230.1 465.7,1234.4 469.8,1237.2 474,1234.7 478.2,1215.9 482.4,1207.2 486.6,1204.2 490.8,1208.4 494.9,1212.6 499.1,1217.4 503.3,1222.3 507.5,1227.2 511.7,1222.9 515.9,1194.6 520.1,1183.6 524.2,1179.4 528.4,1183.6 532.6,1182.9 536.8,1181.5 541,1175.1 545.2,1164.7 549.3,1158.4 553.5,1156.8 557.7,1161 561.9,1165.1 566.1,1169.3 570.3,1173.5 574.5,1177.7 578.6,1181.9 582.8,1186.1 587,1190.3 591.2,1191.9 595.4,1193.3 599.6,1190.2 603.7,1184 607.9,1180.9 612.1,1181.6 616.3,1186.5 620.5,1192.2 624.7,1201.9 628.9,1211.7 633,1223.8 637.2,1236.3 641.4,1245.7 645.6,1252 649.8,1229.7 654,1194.6 658.1,1188.3 662.3,1180.3 666.5,1171.9 670.7,1178 674.9,1185.5 679.1,1192.9 683.3,1193.6 687.4,1185.2 691.6,1185.9 695.8,1190.5 700,1200.2 704.2,1210 708.4,1219.8 712.6,1229.5 716.7,1241.1 720.9,1253.7 725.1,1265.3 729.3,1275.1 733.5,1284.9 737.7,1296 741.8,1307.2 746,1316.4 750.2,1323.8 754.4,1324.5 758.6,1325.2 762.8,1325.9 767,1326.6 771.1,1328.9 775.3,1333.1 779.5,1337.3 783.7,1341.5 787.9,1345.7 792.1,1349 796.2,1352.1 800.4,1355.3 804.6,1358 808.8,1360.7 813,1363.3 817.2,1366.5 821.4,1370.2 825.5,1373.9 829.7,1376.7 833.9,1378.8 838.1,1380.9 842.3,1382.4 846.5,1383.1 850.6,1383.8 854.8,1384.9 859,1385.9 863.2,1387 867.4,1364.3 871.6,1352.2 875.8,1354.3 879.9,1356.6 884.1,1360.8 888.3,1365 892.5,1369.2 896.7,1373.3 900.9,1377.3 905,1381.1 909.2,1383.1 913.4,1384.5 917.6,1385.6 921.8,1386.1 926,1386.6 930.2,1387.1 934.3,1387.7 938.5,1388.2 942.7,1388.7 946.9,1389.4 951.1,1390.1 955.3,1381.9 959.4,1378.3 963.6,1377.5 967.8,1378.8 972,1380.9 976.2,1382.8 980.4,1384.4 984.6,1385.9 988.7,1386.8 992.9,1386.1 997.1,1385.4 1001.3,1383.3 1005.5,1382.7 1009.7,1384.1 1013.8,1385.8 1018,1389.3 1022.2,1392.8 1026.4,1394.3 1030.6,1395.4 1034.8,1396.4 1039,1396.7 1043.1,1396.7 1047.3,1396.7 1051.5,1395.7 1055.7,1394.1 1059.9,1387.1 1064.1,1375 1068.2,1360.3 1072.4,1325.5 1076.6,1289.2 1080.8,1258 1085,1241.4 1089.2,1238.9 1093.4,1238.4 1097.5,1239.8 1101.7,1241.3 1105.9,1243.4 1110.1,1245.5 1114.3,1245.8 1118.5,1245.8 1122.6,1249.1 1126.8,1255.4 1131,1256.2 1135.2,1256.9 1139.4,1257.2 1143.6,1255.4 1147.8,1237.3 1151.9,1230.9 1156.1,1231.2 1160.3,1233.3 1164.5,1235.1 1168.7,1236.7 1172.9,1238.3 1177,1240.2 1181.2,1242.8 1185.4,1245.4 1189.6,1247.5 1193.8,1248.1 1198,1248.6 1202.2,1249.3 1206.3,1250.8 1210.5,1252.4 1214.7,1254 1218.9,1256.1 1223.1,1244.1 1227.3,1234.1 1231.4,1231.3 1235.6,1229.6 1239.8,1229.6 1244,1229.2 1248.2,1221.7 1252.4,1216.1 1256.6,1225.8 1260.7,1227.6 1264.9,1229 1269.1,1230.6 1273.3,1232.3"/><path fill="none" stroke="#000" stroke-width="2.4" d="M125.5 1298.9h2.4M129.7 1284.4h2.4M133.9 1279.1h2.4M138.1 1277.9h2.4M142.2 1280.5h2.4M146.4 1282.5h2.4M150.6 1284.2h2.4M154.8 1282.7h2.4M159 1280.4h2.4M163.2 1286.3h2.4M167.3 1291.6h2.4M171.5 1293.7h2.4M175.7 1291.5h2.4M179.9 1286.7h2.4M184.1 1285.2h2.4M188.3 1292.9h2.4M192.5 1300.6h2.4M196.6 1292.2h2.4M200.8 1283.1h2.4M205 1280.1h2.4M209.2 1277.1h2.4M213.4 1276h2.4M217.6 1279.3h2.4M221.7 1285.2h2.4M225.9 1295.7h2.4M230.1 1301.9h2.4M234.3 1303.7h2.4M238.5 1295.3h2.4M242.7 1289.9h2.4M246.9 1285.7h2.4M251 1272h2.4M255.2 1271.2h2.4M259.4 1270.7h2.4M263.6 1270.2h2.4M267.8 1278.5h2.4M272 1285.4h2.4M276.1 1287.5h2.4M280.3 1281.4h2.4M284.5 1274.5h2.4M288.7 1272.4h2.4M292.9 1270.3h2.4M297.1 1270.8h2.4M301.3 1271.5h2.4M305.4 1265.7h2.4M309.6 1255.5h2.4M313.8 1253.4h2.4M318 1253.3h2.4M322.2 1255.4h2.4M326.4 1253.6h2.4M330.5 1229.9h2.4M334.7 1215.8h2.4M338.9 1214.5h2.4M343.1 1215.9h2.4M347.3 1215.5h2.4M351.5 1213.5h2.4M355.7 1211.4h2.4M359.8 1210.9h2.4M364 1213h2.4M368.2 1215h2.4M372.4 1215.5h2.4M376.6 1216h2.4M380.8 1216.6h2.4M384.9 1195.1h2.4M389.1 1194h2.4M393.3 1198.6h2.4M397.5 1204.6h2.4M401.7 1210.6h2.4M405.9 1214.8h2.4M410.1 1217.6h2.4M414.2 1217.5h2.4M418.4 1206.4h2.4M422.6 1195.2h2.4M426.8 1197.5h2.4M431 1201.3h2.4M435.2 1204.1h2.4M439.3 1206.9h2.4M443.5 1209.6h2.4M447.7 1212.4h2.4M451.9 1217.6h2.4M456.1 1223.9h2.4M460.3 1230.1h2.4M464.5 1234.4h2.4M468.6 1237.2h2.4M472.8 1234.7h2.4M477 1215.9h2.4M481.2 1207.2h2.4M485.4 1204.2h2.4M489.6 1208.4h2.4M493.7 1212.6h2.4M497.9 1217.4h2.4M502.1 1222.3h2.4M506.3 1227.2h2.4M510.5 1222.9h2.4M514.7 1194.6h2.4M518.9 1183.6h2.4M523 1179.4h2.4M527.2 1183.6h2.4M531.4 1182.9h2.4M535.6 1181.5h2.4M539.8 1175.1h2.4M544 1164.7h2.4M548.1 1158.4h2.4M552.3 1156.8h2.4M556.5 1161h2.4M560.7 1165.1h2.4M564.9 1169.3h2.4M569.1 1173.5h2.4M573.3 1177.7h2.4M577.4 1181.9h2.4M581.6 1186.1h2.4M585.8 1190.3h2.4M590 1191.9h2.4M594.2 1193.3h2.4M598.4 1190.2h2.4M602.5 1184h2.4M606.7 1180.9h2.4M610.9 1181.6h2.4M615.1 1186.5h2.4M619.3 1192.2h2.4M623.5 1201.9h2.4M627.7 1211.7h2.4M631.8 1223.8h2.4M636 1236.3h2.4M640.2 1245.7h2.4M644.4 1252h2.4M648.6 1229.7h2.4M652.8 1194.6h2.4M656.9 1188.3h2.4M661.1 1180.3h2.4M665.3 1171.9h2.4M669.5 1178h2.4M673.7 1185.5h2.4M677.9 1192.9h2.4M682.1 1193.6h2.4M686.2 1185.2h2.4M690.4 1185.9h2.4M694.6 1190.5h2.4M698.8 1200.2h2.4M703 1210h2.4M707.2 1219.8h2.4M711.4 1229.5h2.4M715.5 1241.1h2.4M719.7 1253.7h2.4M723.9 1265.3h2.4M728.1 1275.1h2.4M732.3 1284.9h2.4M736.5 1296h2.4M740.6 1307.2h2.4M744.8 1316.4h2.4M749 1323.8h2.4M753.2 1324.5h2.4M757.4 1325.2h2.4M761.6 1325.9h2.4M765.8 1326.6h2.4M769.9 1328.9h2.4M774.1 1333.1h2.4M778.3 1337.3h2.4M782.5 1341.5h2.4M786.7 1345.7h2.4M790.9 1349h2.4M795 1352.1h2.4M799.2 1355.3h2.4M803.4 1358h2.4M807.6 1360.7h2.4M811.8 1363.3h2.4M816 1366.5h2.4M820.2 1370.2h2.4M824.3 1373.9h2.4M828.5 1376.7h2.4M832.7 1378.8h2.4M836.9 1380.9h2.4M841.1 1382.4h2.4M845.3 1383.1h2.4M849.4 1383.8h2.4M853.6 1384.9h2.4M857.8 1385.9h2.4M862 1387h2.4M866.2 1364.3h2.4M870.4 1352.2h2.4M874.6 1354.3h2.4M878.7 1356.6h2.4M882.9 1360.8h2.4M887.1 1365h2.4M891.3 1369.2h2.4M895.5 1373.3h2.4M899.7 1377.3h2.4M903.8 1381.1h2.4M908 1383.1h2.4M912.2 1384.5h2.4M916.4 1385.6h2.4M920.6 1386.1h2.4M924.8 1386.6h2.4M929 1387.1h2.4M933.1 1387.7h2.4M937.3 1388.2h2.4M941.5 1388.7h2.4M945.7 1389.4h2.4M949.9 1390.1h2.4M954.1 1381.9h2.4M958.2 1378.3h2.4M962.4 1377.5h2.4M966.6 1378.8h2.4M970.8 1380.9h2.4M975 1382.8h2.4M979.2 1384.4h2.4M983.4 1385.9h2.4M987.5 1386.8h2.4M991.7 1386.1h2.4M995.9 1385.4h2.4M1000.1 1383.3h2.4M1004.3 1382.7h2.4M1008.5 1384.1h2.4M1012.6 1385.8h2.4M1016.8 1389.3h2.4M1021 1392.8h2.4M1025.2 1394.3h2.4M1029.4 1395.4h2.4M1033.6 1396.4h2.4M1037.8 1396.7h2.4M1041.9 1396.7h2.4M1046.1 1396.7h2.4M1050.3 1395.7h2.4M1054.5 1394.1h2.4M1058.7 1387.1h2.4M1062.9 1375h2.4M1067 1360.3h2.4M1071.2 1325.5h2.4M1075.4 1289.2h2.4M1079.6 1258h2.4M1083.8 1241.4h2.4M1088 1238.9h2.4M1092.2 1238.4h2.4M1096.3 1239.8h2.4M1100.5 1241.3h2.4M1104.7 1243.4h2.4M1108.9 1245.5h2.4M1113.1 1245.8h2.4M1117.3 1245.8h2.4M1121.4 1249.1h2.4M1125.6 1255.4h2.4M1129.8 1256.2h2.4M1134 1256.9h2.4M1138.2 1257.2h2.4M1142.4 1255.4h2.4M1146.6 1237.3h2.4M1150.7 1230.9h2.4M1154.9 1231.2h2.4M1159.1 1233.3h2.4M1163.3 1235.1h2.4M1167.5 1236.7h2.4M1171.7 1238.3h2.4M1175.8 1240.2h2.4M1180 1242.8h2.4M1184.2 1245.4h2.4M1188.4 1247.5h2.4M1192.6 1248.1h2.4M1196.8 1248.6h2.4M1201 1249.3h2.4M1205.1 1250.8h2.4M1209.3 1252.4h2.4M1213.5 1254h2.4M1217.7 1256.1h2.4M1221.9 1244.1h2.4M1226.1 1234.1h2.4M1230.2 1231.3h2.4M1234.4 1229.6h2.4M1238.6 1229.6h2.4M1242.8 1229.2h2.4M1247 1221.7h2.4M1251.2 1216.1h2.4M1255.4 1225.8h2.4M1259.5 1227.6h2.4M1263.7 1229h2.4M1267.9 1230.6h2.4M1272.1 1232.3h2.4"/>
<polyline fill="none" stroke="#0000ff" stroke-width="6" stroke-linejoin="round" points="126.7,1345.6 130.9,1342.1 135.1,1338.6 139.3,1340.2 143.4,1342.3 147.6,1343.6 151.8,1344.3 156,1345.3 160.2,1347.4 164.4,1349.5 168.5,1351 172.7,1348.9 176.9,1346.8 181.1,1346.4 185.3,1346.4 189.5,1345.1 193.7,1342.5 197.8,1339.9 202,1338.5 206.2,1339 210.4,1339.6 214.6,1339.3 218.8,1337.2 222.9,1359.5 227.1,1373.8 231.3,1376.4 235.5,1375.9 239.7,1373.8 243.9,1371.7 248.1,1369.6 252.2,1321.2 256.4,1319.4 260.6,1318.4 264.8,1317.3 269,1340.7 273.2,1348.6 277.3,1349.5 281.5,1340.6 285.7,1331.8 289.9,1331.8 294.1,1331.8 298.3,1331.8 302.5,1330.5 306.6,1326.9 310.8,1323.2 315,1321 319.2,1323.1 323.4,1325.2 327.6,1285.3 331.7,1254.6 335.9,1227.8 340.1,1223.9 344.3,1225 348.5,1226 352.7,1223.3 356.9,1219.1 361,1217.4 365.2,1219.5 369.4,1221.6 373.6,1223.7 377.8,1225.8 382,1227.9 386.1,1225.4 390.3,1203.7 394.5,1207.3 398.7,1210.9 402.9,1214.6 407.1,1218.8 411.3,1223 415.4,1224.6 419.6,1216.2 423.8,1207.9 428,1211.8 432.2,1217.3 436.4,1221.6 440.5,1224.7 444.7,1227.8 448.9,1232.7 453.1,1239.7 457.3,1247.1 461.5,1257.6 465.7,1268 469.8,1270.1 474,1270.1 478.2,1249.8 482.4,1242.6 486.6,1243.3 490.8,1248.9 494.9,1254.5 499.1,1262.9 503.3,1272 507.5,1280.8 511.7,1284.5 515.9,1257.3 520.1,1226.1 524.2,1207.4 528.4,1208.8 532.6,1209.3 536.8,1200.9 541,1192.5 545.2,1184.2 549.3,1177.2 553.5,1175.1 557.7,1178.6 561.9,1185 566.1,1191.9 570.3,1198.9 574.5,1202.6 578.6,1205.4 582.8,1209.4 587,1215 591.2,1220.7 595.4,1227 599.6,1224.7 603.7,1216.5 607.9,1214.4 612.1,1217.4 616.3,1225.8 620.5,1239.3 624.7,1253.3 628.9,1268.9 633,1285.2 637.2,1293.6 641.4,1298.8 645.6,1300.9 649.8,1280.2 654,1240.9 658.1,1236.7 662.3,1224.7 666.5,1211.3 670.7,1216.2 674.9,1222.9 679.1,1229.9 683.3,1236.8 687.4,1238 691.6,1237 695.8,1247.5 700,1259.8 704.2,1273.8 708.4,1287.1 712.6,1298.3 716.7,1309.5 720.9,1320.6 725.1,1331.8 729.3,1340.6 733.5,1347.6 737.7,1354.1 741.8,1359.4 746,1364.6 750.2,1368.2 754.4,1360.8 758.6,1358.2 762.8,1358.9 767,1360.8 771.1,1366.4 775.3,1372 779.5,1376.3 783.7,1380.4 787.9,1384.6 792.1,1387.1 796.2,1389.2 800.4,1391.3 804.6,1393 808.8,1394.6 813,1396.1 817.2,1398 821.4,1400.1 825.5,1402.2 829.7,1403.2 833.9,1403.2 838.1,1403.2 842.3,1403.4 846.5,1404 850.6,1404.5 854.8,1405.1 859,1405.8 863.2,1406.4 867.4,1358.4 871.6,1290 875.8,1299.2 879.9,1308.5 884.1,1318.3 888.3,1328 892.5,1340 896.7,1352.5 900.9,1367 905,1380.8 909.2,1391.2 913.4,1394.5 917.6,1397.3 921.8,1397.7 926,1396.7 930.2,1395.6 934.3,1395.8 938.5,1397.2 942.7,1399.6 946.9,1406.3 951.1,1406.5 955.3,1388.6 959.4,1387.9 963.6,1387.2 967.8,1389 972,1391.6 976.2,1394.2 980.4,1396 984.6,1397.4 988.7,1400.7 992.9,1408.1 997.1,1404 1001.3,1398.7 1005.5,1400.1 1009.7,1401.4 1013.8,1404.1 1018,1406.9 1022.2,1408.9 1026.4,1410.3 1030.6,1412.3 1034.8,1416.5 1039,1420.7 1043.1,1418.5 1047.3,1415.7 1051.5,1413.8 1055.7,1412.4 1059.9,1410 1064.1,1405 1068.2,1389 1072.4,1353 1076.6,1333.5 1080.8,1314 1085,1291.1 1089.2,1288.3 1093.4,1285.5 1097.5,1286.8 1101.7,1289.6 1105.9,1291.4 1110.1,1292 1114.3,1292.5 1118.5,1292.1 1122.6,1289.5 1126.8,1286.8 1131,1284.9 1135.2,1285.6 1139.4,1286.3 1143.6,1285.2 1147.8,1267 1151.9,1239.3 1156.1,1239.3 1160.3,1239.4 1164.5,1239.9 1168.7,1240.5 1172.9,1241 1177,1241.7 1181.2,1242.4 1185.4,1244.2 1189.6,1246.3 1193.8,1248.4 1198,1249 1202.2,1249 1206.3,1249 1210.5,1249 1214.7,1249 1218.9,1246.9 1223.1,1244.8 1227.3,1242.7 1231.4,1243.5 1235.6,1244.6 1239.8,1245.6 1244,1246.9 1248.2,1248.3 1252.4,1249 1256.6,1249 1260.7,1249 1264.9,1249.8 1269.1,1251.5 1273.3,1253.3"/>
<path fill="none" stroke="#c8c8c8" stroke-width="2.4" d="M126.7 1320.6V1370.6M130.9 1317.1V1367.1M135.1 1313.6V1363.6M139.3 1315.2V1365.2M143.4 1317.3V1367.3M147.6 1318.5V1368.6M151.8 1319.2V1369.3M156 1320.3V1370.4M160.2 1322.4V1372.5M164.4 1324.5V1374.5M168.5 1325.9V1376M172.7 1323.8V1373.9M176.9 1321.7V1371.8M181.1 1321.4V1371.4M185.3 1321.4V1371.4M189.5 1320.1V1370.1M193.7 1317.5V1367.5M197.8 1314.8V1364.9M202 1313.5V1363.5M206.2 1314V1364.1M210.4 1314.5V1364.6M214.6 1314.3V1364.3M218.8 1312.2V1362.2M222.9 1334.5V1384.6M227.1 1348.8V1398.9M231.3 1351.3V1401.4M235.5 1350.9V1400.9M239.7 1348.8V1398.8M243.9 1346.7V1396.8M248.1 1344.6V1394.7M252.2 1296.1V1346.2M256.4 1294.4V1344.4M260.6 1293.3V1343.4M264.8 1292.3V1342.4M269 1315.7V1365.7M273.2 1323.6V1373.7M277.3 1324.4V1374.5M281.5 1315.6V1365.7M285.7 1306.8V1356.8M289.9 1306.8V1356.8M294.1 1306.8V1356.8M298.3 1306.8V1356.8M302.5 1305.5V1355.5M306.6 1301.8V1351.9M310.8 1298.2V1348.2M315 1295.9V1346M319.2 1298V1348.1M323.4 1300.1V1350.2M327.6 1260.3V1310.4M331.7 1230.3V1278.9M335.9 1204.2V1251.4M340.1 1201V1246.8M344.3 1202.8V1247.2M348.5 1204.6V1247.5M352.7 1202.6V1244.1M356.9 1199.1V1239.2M361 1198.1V1236.7M365.2 1200.9V1238.1M369.4 1203.7V1239.5M373.6 1205.8V1241.6M377.8 1207.9V1243.6M382 1210V1245.7M386.1 1207.5V1243.2M390.3 1185.8V1221.5M394.5 1189.4V1225.1M398.7 1193V1228.7M402.9 1196.8V1232.4M407.1 1201V1236.6M411.3 1205.2V1240.8M415.4 1206.8V1242.4M419.6 1198.4V1234M423.8 1190.1V1225.6M428 1194V1229.5M432.2 1199.6V1235.1M436.4 1203.8V1239.3M440.5 1207V1242.4M444.7 1210.1V1245.6M448.9 1215V1250.4M453.1 1222V1257.4M457.3 1229.4V1264.8M461.5 1239.9V1275.2M465.7 1250.3V1285.7M469.8 1252.5V1287.8M474 1252.5V1287.8M478.2 1232.1V1267.5M482.4 1224.9V1260.2M486.6 1225.7V1261M490.8 1231.3V1266.6M494.9 1236.9V1272.1M499.1 1245.3V1280.5M503.3 1254.3V1289.6M507.5 1263.2V1298.4M511.7 1266.9V1302.1M515.9 1239.7V1274.9M520.1 1208.5V1243.6M524.2 1189.9V1225M528.4 1191.3V1226.4M532.6 1191.7V1226.8M536.8 1183.3V1218.4M541 1175V1210.1M545.2 1166.6V1201.7M549.3 1159.6V1194.7M553.5 1157.6V1192.6M557.7 1161.1V1196.1M561.9 1167.5V1202.5M566.1 1174.4V1209.4M570.3 1181.4V1216.4M574.5 1185.1V1220M578.6 1187.9V1222.8M582.8 1192V1226.9M587 1197.6V1232.5M591.2 1203.3V1238.1M595.4 1209.5V1244.4M599.6 1207.2V1242.1M603.7 1199.1V1233.9M607.9 1197V1231.8M612.1 1200V1234.8M616.3 1208.4V1243.2M620.5 1222V1256.7M624.7 1235.9V1270.7M628.9 1251.6V1286.3M633 1267.8V1302.6M637.2 1276.2V1310.9M641.4 1281.4V1316.1M645.6 1283.5V1318.2M649.8 1262.8V1297.5M654 1223.6V1258.2M658.1 1219.4V1254M662.3 1207.4V1242M666.5 1194V1228.6M670.7 1198.9V1233.5M674.9 1205.6V1240.2M679.1 1212.6V1247.1M683.3 1219.6V1254.1M687.4 1220.7V1255.2M691.6 1219.8V1254.3M695.8 1230.3V1264.7M700 1242.6V1277.1M704.2 1256.6V1291M708.4 1269.9V1304.4M712.6 1281.1V1315.5M716.7 1292.3V1326.7M720.9 1303.4V1337.8M725.1 1314.6V1349M729.3 1323.4V1357.8M733.5 1330.4V1364.7M737.7 1337V1371.3M741.8 1342.2V1376.5M746 1347.5V1381.7M750.2 1351V1385.3M754.4 1343.7V1378M758.6 1341.1V1375.3M762.8 1341.8V1376M767 1343.7V1377.9M771.1 1349.3V1383.5M775.3 1354.9V1389M779.5 1359.2V1393.3M783.7 1363.4V1397.5M787.9 1367.6V1401.7M792.1 1370V1404.1M796.2 1372.1V1406.2M800.4 1374.2V1408.3M804.6 1376V1410M808.8 1377.5V1411.6M813 1379.1V1413.1M817.2 1381V1415M821.4 1383.1V1417.1M825.5 1385.2V1419.2M829.7 1386.2V1420.2M833.9 1386.3V1420.2M838.1 1386.3V1420.2M842.3 1386.5V1420.4M846.5 1387V1420.9M850.6 1387.5V1421.4M854.8 1388.1V1422M859 1388.8V1422.7M863.2 1389.5V1423.4M867.4 1341.5V1375.3M871.6 1273.1V1306.9M875.8 1282.4V1316.1M879.9 1291.6V1325.4M884.1 1301.4V1335.1M888.3 1311.2V1344.9M892.5 1323.1V1356.8M896.7 1335.7V1369.4M900.9 1350.2V1383.9M905 1364V1397.6M909.2 1374.4V1408.1M913.4 1377.7V1411.3M917.6 1380.5V1414.1M921.8 1380.9V1414.5M926 1379.9V1413.4M930.2 1378.8V1412.4M934.3 1379.1V1412.6M938.5 1380.5V1414M942.7 1382.8V1416.3M946.9 1389.5V1423M951.1 1389.8V1423.3M955.3 1371.8V1405.3M959.4 1371.1V1404.6M963.6 1370.5V1403.9M967.8 1372.3V1405.7M972 1374.9V1408.3M976.2 1377.5V1410.9M980.4 1379.3V1412.7M984.6 1380.7V1414.1M988.7 1384.1V1417.4M992.9 1391.4V1424.7M997.1 1387.4V1420.7M1001.3 1382V1415.3M1005.5 1383.4V1416.7M1009.7 1384.8V1418.1M1013.8 1387.5V1420.7M1018 1390.3V1423.5M1022.2 1392.3V1425.5M1026.4 1393.7V1426.9M1030.6 1395.8V1428.9M1034.8 1400V1433.1M1039 1404.2V1437.3M1043.1 1402V1435.1M1047.3 1399.2V1432.3M1051.5 1397.2V1430.3M1055.7 1395.8V1428.9M1059.9 1393.5V1426.5M1064.1 1388.5V1421.5M1068.2 1372.5V1405.5M1072.4 1336.5V1369.5M1076.6 1317V1350M1080.8 1297.5V1330.5M1085 1274.6V1307.5M1089.2 1271.8V1304.7M1093.4 1269.1V1301.9M1097.5 1270.3V1303.2M1101.7 1273.1V1306M1105.9 1275V1307.9M1110.1 1275.6V1308.4M1114.3 1276.1V1308.9M1118.5 1275.7V1308.5M1122.6 1273.1V1305.8M1126.8 1270.5V1303.2M1131 1268.5V1301.3M1135.2 1269.2V1301.9M1139.4 1269.9V1302.6M1143.6 1268.8V1301.5M1147.8 1250.6V1283.3M1151.9 1223V1255.6M1156.1 1223V1255.6M1160.3 1223.1V1255.7M1164.5 1223.6V1256.2M1168.7 1224.2V1256.8M1172.9 1224.7V1257.3M1177 1225.4V1258M1181.2 1226.1V1258.7M1185.4 1227.9V1260.5M1189.6 1230V1262.5M1193.8 1232.1V1264.6M1198 1232.8V1265.3M1202.2 1232.8V1265.3M1206.3 1232.8V1265.3M1210.5 1232.8V1265.3M1214.7 1232.8V1265.2M1218.9 1230.7V1263.1M1223.1 1228.6V1261M1227.3 1226.5V1258.9M1231.4 1227.3V1259.7M1235.6 1228.4V1260.7M1239.8 1229.5V1261.8M1244 1230.8V1263.1M1248.2 1232.2V1264.5M1252.4 1232.9V1265.2M1256.6 1232.9V1265.2M1260.7 1232.9V1265.2M1264.9 1233.6V1265.9M1269.1 1235.4V1267.6M1273.3 1237.2V1269.4"/>
<polyline fill="none" stroke="#000" stroke-width="1.4" stroke-linejoin="round" points="126.7,1345.6 130.9,1342.1 135.1,1338.6 139.3,1340.2 143.4,1342.3 147.6,1343.6 151.8,1344.3 156,1345.3 160.2,1347.4 164.4,1349.5 168.5,1351 172.7,1348.9 176.9,1346.8 181.1,1346.4 185.3,1346.4 189.5,1345.1 193.7,1342.5 197.8,1339.9 202,1338.5 206.2,1339 210.4,1339.6 214.6,1339.3 218.8,1337.2 222.9,1359.5 227.1,1373.8 231.3,1376.4 235.5,1375.9 239.7,1373.8 243.9,1371.7 248.1,1369.6 252.2,1321.2 256.4,1319.4 260.6,1318.4 264.8,1317.3 269,1340.7 273.2,1348.6 277.3,1349.5 281.5,1340.6 285.7,1331.8 289.9,1331.8 294.1,1331.8 298.3,1331.8 302.5,1330.5 306.6,1326.9 310.8,1323.2 315,1321 319.2,1323.1 323.4,1325.2 327.6,1285.3 331.7,1254.6 335.9,1227.8 340.1,1223.9 344.3,1225 348.5,1226 352.7,1223.3 356.9,1219.1 361,1217.4 365.2,1219.5 369.4,1221.6 373.6,1223.7 377.8,1225.8 382,1227.9 386.1,1225.4 390.3,1203.7 394.5,1207.3 398.7,1210.9 402.9,1214.6 407.1,1218.8 411.3,1223 415.4,1224.6 419.6,1216.2 423.8,1207.9 428,1211.8 432.2,1217.3 436.4,1221.6 440.5,1224.7 444.7,1227.8 448.9,1232.7 453.1,1239.7 457.3,1247.1 461.5,1257.6 465.7,1268 469.8,1270.1 474,1270.1 478.2,1249.8 482.4,1242.6 486.6,1243.3 490.8,1248.9 494.9,1254.5 499.1,1262.9 503.3,1272 507.5,1280.8 511.7,1284.5 515.9,1257.3 520.1,1226.1 524.2,1207.4 528.4,1208.8 532.6,1209.3 536.8,1200.9 541,1192.5 545.2,1184.2 549.3,1177.2 553.5,1175.1 557.7,1178.6 561.9,1185 566.1,1191.9 570.3,1198.9 574.5,1202.6 578.6,1205.4 582.8,1209.4 587,1215 591.2,1220.7 595.4,1227 599.6,1224.7 603.7,1216.5 607.9,1214.4 612.1,1217.4 616.3,1225.8 620.5,1239.3 624.7,1253.3 628.9,1268.9 633,1285.2 637.2,1293.6 641.4,1298.8 645.6,1300.9 649.8,1280.2 654,1240.9 658.1,1236.7 662.3,1224.7 666.5,1211.3 670.7,1216.2 674.9,1222.9 679.1,1229.9 683.3,1236.8 687.4,1238 691.6,1237 695.8,1247.5 700,1259.8 704.2,1273.8 708.4,1287.1 712.6,1298.3 716.7,1309.5 720.9,1320.6 725.1,1331.8 729.3,1340.6 733.5,1347.6 737.7,1354.1 741.8,1359.4 746,1364.6 750.2,1368.2 754.4,1360.8 758.6,1358.2 762.8,1358.9 767,1360.8 771.1,1366.4 775.3,1372 779.5,1376.3 783.7,1380.4 787.9,1384.6 792.1,1387.1 796.2,1389.2 800.4,1391.3 804.6,1393 808.8,1394.6 813,1396.1 817.2,1398 821.4,1400.1 825.5,1402.2 829.7,1403.2 833.9,1403.2 838.1,1403.2 842.3,1403.4 846.5,1404 850.6,1404.5 854.8,1405.1 859,1405.8 863.2,1406.4 867.4,1358.4 871.6,1290 875.8,1299.2 879.9,1308.5 884.1,1318.3 888.3,1328 892.5,1340 896.7,1352.5 900.9,1367 905,1380.8 909.2,1391.2 913.4,1394.5 917.6,1397.3 921.8,1397.7 926,1396.7 930.2,1395.6 934.3,1395.8 938.5,1397.2 942.7,1399.6 946.9,1406.3 951.1,1406.5 955.3,1388.6 959.4,1387.9 963.6,1387.2 967.8,1389 972,1391.6 976.2,1394.2 980.4,1396 984.6,1397.4 988.7,1400.7 992.9,1408.1 997.1,1404 1001.3,1398.7 1005.5,1400.1 1009.7,1401.4 1013.8,1404.1 1018,1406.9 1022.2,1408.9 1026.4,1410.3 1030.6,1412.3 1034.8,1416.5 1039,1420.7 1043.1,1418.5 1047.3,1415.7 1051.5,1413.8 1055.7,1412.4 1059.9,1410 1064.1,1405 1068.2,1389 1072.4,1353 1076.6,1333.5 1080.8,1314 1085,1291.1 1089.2,1288.3 1093.4,1285.5 1097.5,1286.8 1101.7,1289.6 1105.9,1291.4 1110.1,1292 1114.3,1292.5 1118.5,1292.1 1122.6,1289.5 1126.8,1286.8 1131,1284.9 1135.2,1285.6 1139.4,1286.3 1143.6,1285.2 1147.8,1267 1151.9,1239.3 1156.1,1239.3 1160.3,1239.4 1164.5,1239.9 1168.7,1240.5 1172.9,1241 1177,1241.7 1181.2,1242.4 1185.4,1244.2 1189.6,1246.3 1193.8,1248.4 1198,1249 1202.2,1249 1206.3,1249 1210.5,1249 1214.7,1249 1218.9,1246.9 1223.1,1244.8 1227.3,1242.7 1231.4,1243.5 1235.6,1244.6 1239.8,1245.6 1244,1246.9 1248.2,1248.3 1252.4,1249 1256.6,1249 1260.7,1249 1264.9,1249.8 1269.1,1251.5 1273.3,1253.3"/><path fill="none" stroke="#000" stroke-width="2.4" d="M125.5 1345.6h2.4M129.7 1342.1h2.4M133.9 1338.6h2.4M138.1 1340.2h2.4M142.2 1342.3h2.4M146.4 1343.6h2.4M150.6 1344.3h2.4M154.8 1345.3h2.4M159 1347.4h2.4M163.2 1349.5h2.4M167.3 1351h2.4M171.5 1348.9h2.4M175.7 1346.8h2.4M179.9 1346.4h2.4M184.1 1346.4h2.4M188.3 1345.1h2.4M192.5 1342.5h2.4M196.6 1339.9h2.4M200.8 1338.5h2.4M205 1339h2.4M209.2 1339.6h2.4M213.4 1339.3h2.4M217.6 1337.2h2.4M221.7 1359.5h2.4M225.9 1373.8h2.4M230.1 1376.4h2.4M234.3 1375.9h2.4M238.5 1373.8h2.4M242.7 1371.7h2.4M246.9 1369.6h2.4M251 1321.2h2.4M255.2 1319.4h2.4M259.4 1318.4h2.4M263.6 1317.3h2.4M267.8 1340.7h2.4M272 1348.6h2.4M276.1 1349.5h2.4M280.3 1340.6h2.4M284.5 1331.8h2.4M288.7 1331.8h2.4M292.9 1331.8h2.4M297.1 1331.8h2.4M301.3 1330.5h2.4M305.4 1326.9h2.4M309.6 1323.2h2.4M313.8 1321h2.4M318 1323.1h2.4M322.2 1325.2h2.4M326.4 1285.3h2.4M330.5 1254.6h2.4M334.7 1227.8h2.4M338.9 1223.9h2.4M343.1 1225h2.4M347.3 1226h2.4M351.5 1223.3h2.4M355.7 1219.1h2.4M359.8 1217.4h2.4M364 1219.5h2.4M368.2 1221.6h2.4M372.4 1223.7h2.4M376.6 1225.8h2.4M380.8 1227.9h2.4M384.9 1225.4h2.4M389.1 1203.7h2.4M393.3 1207.3h2.4M397.5 1210.9h2.4M401.7 1214.6h2.4M405.9 1218.8h2.4M410.1 1223h2.4M414.2 1224.6h2.4M418.4 1216.2h2.4M422.6 1207.9h2.4M426.8 1211.8h2.4M431 1217.3h2.4M435.2 1221.6h2.4M439.3 1224.7h2.4M443.5 1227.8h2.4M447.7 1232.7h2.4M451.9 1239.7h2.4M456.1 1247.1h2.4M460.3 1257.6h2.4M464.5 1268h2.4M468.6 1270.1h2.4M472.8 1270.1h2.4M477 1249.8h2.4M481.2 1242.6h2.4M485.4 1243.3h2.4M489.6 1248.9h2.4M493.7 1254.5h2.4M497.9 1262.9h2.4M502.1 1272h2.4M506.3 1280.8h2.4M510.5 1284.5h2.4M514.7 1257.3h2.4M518.9 1226.1h2.4M523 1207.4h2.4M527.2 1208.8h2.4M531.4 1209.3h2.4M535.6 1200.9h2.4M539.8 1192.5h2.4M544 1184.2h2.4M548.1 1177.2h2.4M552.3 1175.1h2.4M556.5 1178.6h2.4M560.7 1185h2.4M564.9 1191.9h2.4M569.1 1198.9h2.4M573.3 1202.6h2.4M577.4 1205.4h2.4M581.6 1209.4h2.4M585.8 1215h2.4M590 1220.7h2.4M594.2 1227h2.4M598.4 1224.7h2.4M602.5 1216.5h2.4M606.7 1214.4h2.4M610.9 1217.4h2.4M615.1 1225.8h2.4M619.3 1239.3h2.4M623.5 1253.3h2.4M627.7 1268.9h2.4M631.8 1285.2h2.4M636 1293.6h2.4M640.2 1298.8h2.4M644.4 1300.9h2.4M648.6 1280.2h2.4M652.8 1240.9h2.4M656.9 1236.7h2.4M661.1 1224.7h2.4M665.3 1211.3h2.4M669.5 1216.2h2.4M673.7 1222.9h2.4M677.9 1229.9h2.4M682.1 1236.8h2.4M686.2 1238h2.4M690.4 1237h2.4M694.6 1247.5h2.4M698.8 1259.8h2.4M703 1273.8h2.4M707.2 1287.1h2.4M711.4 1298.3h2.4M715.5 1309.5h2.4M719.7 1320.6h2.4M723.9 1331.8h2.4M728.1 1340.6h2.4M732.3 1347.6h2.4M736.5 1354.1h2.4M740.6 1359.4h2.4M744.8 1364.6h2.4M749 1368.2h2.4M753.2 1360.8h2.4M757.4 1358.2h2.4M761.6 1358.9h2.4M765.8 1360.8h2.4M769.9 1366.4h2.4M774.1 1372h2.4M778.3 1376.3h2.4M782.5 1380.4h2.4M786.7 1384.6h2.4M790.9 1387.1h2.4M795 1389.2h2.4M799.2 1391.3h2.4M803.4 1393h2.4M807.6 1394.6h2.4M811.8 1396.1h2.4M816 1398h2.4M820.2 1400.1h2.4M824.3 1402.2h2.4M828.5 1403.2h2.4M832.7 1403.2h2.4M836.9 1403.2h2.4M841.1 1403.4h2.4M845.3 1404h2.4M849.4 1404.5h2.4M853.6 1405.1h2.4M857.8 1405.8h2.4M862 1406.4h2.4M866.2 1358.4h2.4M870.4 1290h2.4M874.6 1299.2h2.4M878.7 1308.5h2.4M882.9 1318.3h2.4M887.1 1328h2.4M891.3 1340h2.4M895.5 1352.5h2.4M899.7 1367h2.4M903.8 1380.8h2.4M908 1391.2h2.4M912.2 1394.5h2.4M916.4 1397.3h2.4M920.6 1397.7h2.4M924.8 1396.7h2.4M929 1395.6h2.4M933.1 1395.8h2.4M937.3 1397.2h2.4M941.5 1399.6h2.4M945.7 1406.3h2.4M949.9 1406.5h2.4M954.1 1388.6h2.4M958.2 1387.9h2.4M962.4 1387.2h2.4M966.6 1389h2.4M970.8 1391.6h2.4M975 1394.2h2.4M979.2 1396h2.4M983.4 1397.4h2.4M987.5 1400.7h2.4M991.7 1408.1h2.4M995.9 1404h2.4M1000.1 1398.7h2.4M1004.3 1400.1h2.4M1008.5 1401.4h2.4M1012.6 1404.1h2.4M1016.8 1406.9h2.4M1021 1408.9h2.4M1025.2 1410.3h2.4M1029.4 1412.3h2.4M1033.6 1416.5h2.4M1037.8 1420.7h2.4M1041.9 1418.5h2.4M1046.1 1415.7h2.4M1050.3 1413.8h2.4M1054.5 1412.4h2.4M1058.7 1410h2.4M1062.9 1405h2.4M1067 1389h2.4M1071.2 1353h2.4M1075.4 1333.5h2.4M1079.6 1314h2.4M1083.8 1291.1h2.4M1088 1288.3h2.4M1092.2 1285.5h2.4M1096.3 1286.8h2.4M1100.5 1289.6h2.4M1104.7 1291.4h2.4M1108.9 1292h2.4M1113.1 1292.5h2.4M1117.3 1292.1h2.4M1121.4 1289.5h2.4M1125.6 1286.8h2.4M1129.8 1284.9h2.4M1134 1285.6h2.4M1138.2 1286.3h2.4M1142.4 1285.2h2.4M1146.6 1267h2.4M1150.7 1239.3h2.4M1154.9 1239.3h2.4M1159.1 1239.4h2.4M1163.3 1239.9h2.4M1167.5 1240.5h2.4M1171.7 1241h2.4M1175.8 1241.7h2.4M1180 1242.4h2.4M1184.2 1244.2h2.4M1188.4 1246.3h2.4M1192.6 1248.4h2.4M1196.8 1249h2.4M1201 1249h2.4M1205.1 1249h2.4M1209.3 1249h2.4M1213.5 1249h2.4M1217.7 1246.9h2.4M1221.9 1244.8h2.4M1226.1 1242.7h2.4M1230.2 1243.5h2.4M1234.4 1244.6h2.4M1238.6 1245.6h2.4M1242.8 1246.9h2.4M1247 1248.3h2.4M1251.2 1249h2.4M1255.4 1249h2.4M1259.5 1249h2.4M1263.7 1249.8h2.4M1267.9 1251.5h2.4M1272.1 1253.3h2.4"/>
<line x1="523.1" y1="1070" x2="523.1" y2="1504.8" stroke="#505050" stroke-width="2.4" stroke-dasharray="22.6 10.8" stroke-linecap="round"/>
<rect x="101.6" y="1058.7" width="1196.8" height="447" fill="none" stroke="#000" stroke-width="2.2"/>
<line x1="92.1" y1="1505.7" x2="101.6" y2="1505.7" stroke="#000" stroke-width="2.2"/>
<text x="80.1" y="1514.7" text-anchor="end" font-family='"Liberation Sans", sans-serif' font-size="25">5</text>
<line x1="92.1" y1="1416.3" x2="101.6" y2="1416.3" stroke="#000" stroke-width="2.2"/>
<text x="80.1" y="1425.3" text-anchor="end" font-family='"Liberation Sans", sans-serif' font-size="25">10</text>
<line x1="92.1" y1="1326.9" x2="101.6" y2="1326.9" stroke="#000" stroke-width="2.2"/>
<text x="80.1" y="1335.9" text-anchor="end" font-family='"Liberation Sans", sans-serif' font-size="25">15</text>
<line x1="92.1" y1="1237.5" x2="101.6" y2="1237.5" stroke="#000" stroke-width="2.2"/>
<text x="80.1" y="1246.5" text-anchor="end" font-family='"Liberation Sans", sans-serif' font-size="25">20</text>
<line x1="92.1" y1="1148.1" x2="101.6" y2="1148.1" stroke="#000" stroke-width="2.2"/>
<text x="80.1" y="1157.1" text-anchor="end" font-family='"Liberation Sans", sans-serif' font-size="25">25</text>
<line x1="92.1" y1="1058.7" x2="101.6" y2="1058.7" stroke="#000" stroke-width="2.2"/>
<text x="80.1" y="1067.7" text-anchor="end" font-family='"Liberation Sans", sans-serif' font-size="25">30</text>
<line x1="126.7" y1="1505.7" x2="126.7" y2="1515.7" stroke="#000" stroke-width="2.2"/>
<text x="126.7" y="1551.2" text-anchor="middle" font-family='"Liberation Sans", sans-serif' font-size="25">60</text>
<line x1="210.4" y1="1505.7" x2="210.4" y2="1515.7" stroke="#000" stroke-width="2.2"/>
<text x="210.4" y="1551.2" text-anchor="middle" font-family='"Liberation Sans", sans-serif' font-size="25">80</text>
<line x1="294.1" y1="1505.7" x2="294.1" y2="1515.7" stroke="#000" stroke-width="2.2"/>
<text x="294.1" y="1551.2" text-anchor="middle" font-family='"Liberation Sans", sans-serif' font-size="25">100</text>
<line x1="377.8" y1="1505.7" x2="377.8" y2="1515.7" stroke="#000" stroke-width="2.2"/>
<text x="377.8" y="1551.2" text-anchor="middle" font-family='"Liberation Sans", sans-serif' font-size="25">120</text>
<line x1="461.5" y1="1505.7" x2="461.5" y2="1515.7" stroke="#000" stroke-width="2.2"/>
<text x="461.5" y="1551.2" text-anchor="middle" font-family='"Liberation Sans", sans-serif' font-size="25">140</text>
<line x1="545.2" y1="1505.7" x2="545.2" y2="1515.7" stroke="#000" stroke-width="2.2"/>
<text x="545.2" y="1551.2" text-anchor="middle" font-family='"Liberation Sans", sans-serif' font-size="25">160</text>
<line x1="628.9" y1="1505.7" x2="628.9" y2="1515.7" stroke="#000" stroke-width="2.2"/>
<text x="628.9" y="1551.2" text-anchor="middle" font-family='"Liberation Sans", sans-serif' font-size="25">180</text>
<line x1="712.6" y1="1505.7" x2="712.6" y2="1515.7" stroke="#000" stroke-width="2.2"/>
<text x="712.6" y="1551.2" text-anchor="middle" font-family='"Liberation Sans", sans-serif' font-size="25">200</text>
<line x1="796.2" y1="1505.7" x2="796.2" y2="1515.7" stroke="#000" stroke-width="2.2"/>
<text x="796.2" y="1551.2" text-anchor="middle" font-family='"Liberation Sans", sans-serif' font-size="25">220</text>
<line x1="879.9" y1="1505.7" x2="879.9" y2="1515.7" stroke="#000" stroke-width="2.2"/>
<text x="879.9" y="1551.2" text-anchor="middle" font-family='"Liberation Sans", sans-serif' font-size="25">240</text>
<line x1="963.6" y1="1505.7" x2="963.6" y2="1515.7" stroke="#000" stroke-width="2.2"/>
<text x="963.6" y="1551.2" text-anchor="middle" font-family='"Liberation Sans", sans-serif' font-size="25">260</text>
<line x1="1047.3" y1="1505.7" x2="1047.3" y2="1515.7" stroke="#000" stroke-width="2.2"/>
<text x="1047.3" y="1551.2" text-anchor="middle" font-family='"Liberation Sans", sans-serif' font-size="25">280</text>
<line x1="1131" y1="1505.7" x2="1131" y2="1515.7" stroke="#000" stroke-width="2.2"/>
<text x="1131" y="1551.2" text-anchor="middle" font-family='"Liberation Sans", sans-serif' font-size="25">300</text>
<line x1="1214.7" y1="1505.7" x2="1214.7" y2="1515.7" stroke="#000" stroke-width="2.2"/>
<text x="1214.7" y="1551.2" text-anchor="middle" font-family='"Liberation Sans", sans-serif' font-size="25">320</text>
<line x1="1298.4" y1="1505.7" x2="1298.4" y2="1515.7" stroke="#000" stroke-width="2.2"/>
<text x="1298.4" y="1551.2" text-anchor="middle" font-family='"Liberation Sans", sans-serif' font-size="25">340</text>
<text transform="translate(28.2 1280) rotate(-90)" text-anchor="middle" font-family='"Liberation Sans", sans-serif' font-size="25.5">Soil Water Content (%)</text>
<text x="118.8" y="1097.6" font-family='"Liberation Sans", sans-serif' font-size="25.1">2009</text>
<line x1="103.5" y1="1866.4" x2="1300" y2="1866.4" stroke="#000" stroke-width="1.8"/>
<polyline fill="none" stroke="#000000" stroke-width="6" stroke-linejoin="round" points="128.3,1941.5 132.5,1935.9 136.7,1929.6 140.9,1913.6 145,1890.5 149.2,1865 153.4,1840 157.6,1819.1 161.8,1794.5 166,1773.3 170.1,1761.3 174.3,1755.7 178.5,1750.7 182.7,1747.9 186.9,1745.2 191.1,1743.6 195.3,1742.2 199.4,1742 203.6,1742.7 207.8,1743.6 212,1745.1 216.2,1746.7 220.4,1748 224.5,1747.3 228.7,1746.6 232.9,1743.1 237.1,1738.9 241.3,1736.5 245.5,1735.9 249.7,1735.4 253.8,1735.9 258,1738 262.2,1739.9 266.4,1739.2 270.6,1738.5 274.8,1738 278.9,1737.4 283.1,1736.9 287.3,1737 291.5,1737.6 295.7,1738.1 299.9,1739.1 304.1,1740.7 308.2,1742.3 312.4,1744.1 316.6,1746.2 320.8,1748.8 325,1755 329.2,1756.4 333.3,1757.8 337.5,1756.4 341.7,1755.1 345.9,1750.9 350.1,1745.3 354.3,1734.1 358.5,1711.1 362.6,1707.5 366.8,1710.1 371,1714.2 375.2,1718.4 379.4,1721.7 383.6,1724.8 387.7,1728 391.9,1730.7 396.1,1733.3 400.3,1735.9 404.5,1737.8 408.7,1739.4 412.9,1740.9 417,1742.2 421.2,1743.2 425.4,1744.3 429.6,1745.8 433.8,1747.9 438,1738.3 442.1,1726.2 446.3,1711.6 450.5,1710 454.7,1711 458.9,1712.1 463.1,1710.8 467.3,1709.7 471.4,1712.8 475.6,1716 479.8,1719.1 484,1722.2 488.2,1725.4 492.4,1728.5 496.5,1724.5 500.7,1724.3 504.9,1729.5 509.1,1734.6 513.3,1739.9 517.5,1745.1 521.7,1750.3 525.8,1756.4 530,1762.7 534.2,1769 538.4,1776.7 542.6,1785.1 546.8,1793.4 550.9,1800.1 555.1,1805.7 559.3,1812.8 563.5,1816.7 567.7,1763.7 571.9,1731.3 576.1,1712.9 580.2,1714.3 584.4,1716 588.6,1721.6 592.8,1727.2 597,1733.8 601.2,1740.8 605.3,1749.5 609.5,1760.7 613.7,1772.1 617.9,1786 622.1,1800 626.3,1815 630.5,1830.3 634.6,1845.1 638.8,1859 643,1872.2 647.2,1879.2 651.4,1886.1 655.6,1889.3 659.7,1889.4 663.9,1883.2 668.1,1885.4 672.3,1891.3 676.5,1894.4 680.7,1897.6 684.9,1900.1 689,1881.3 693.2,1873.4 697.4,1877.6 701.6,1891.4 705.8,1904.8 710,1915.9 714.2,1926.8 718.3,1930.2 722.5,1933.7 726.7,1935.8 730.9,1937.4 735.1,1939 739.3,1940.9 743.4,1943 747.6,1945.1 751.8,1947.7 756,1950.8 760.2,1954 764.4,1956.4 768.6,1958 772.7,1959.6 776.9,1961 781.1,1962 785.3,1963.1 789.5,1964 793.7,1964.5 797.8,1965.1 802,1965.6 806.2,1966.7 810.4,1967.7 814.6,1968.8 818.8,1969.8 823,1970.9 827.1,1971.9 831.3,1972.5 835.5,1973 839.7,1973.5 843.9,1973.2 848.1,1972.7 852.2,1972.2 856.4,1972.4 860.6,1972.9 864.8,1973.4 869,1974.3 873.2,1975.3 877.4,1976.4 881.5,1977.4 885.7,1978.5 889.9,1979.5 894.1,1980.5 898.3,1981.5 902.5,1982.5 906.6,1983.4 910.8,1983.9 915,1984.3 919.2,1984.7 923.4,1985.1 927.6,1985.5 931.8,1985.9 935.9,1986.4 940.1,1986.8 944.3,1987.2 948.5,1987.6 952.7,1988 956.9,1988.5 961,1988.9 965.2,1989.3 969.4,1989.7 973.6,1990.1 977.8,1990.5 982,1991 986.2,1991.4 990.3,1991.5 994.5,1991.5 998.7,1991.5 1002.9,1991.5 1007.1,1991.5 1011.3,1991.5 1015.4,1991.5 1019.6,1991.5 1023.8,1991.9 1028,1992.3 1032.2,1992.7 1036.4,1993.1 1040.6,1993.1 1044.7,1993.1 1048.9,1993.1 1053.1,1993.3 1057.3,1994.4 1061.5,1995.4 1065.7,1996.3 1069.8,1995.2 1074,1994.2 1078.2,1993.1 1082.4,1992.6 1086.6,1992.1 1090.8,1991.6 1095,1991.5 1099.1,1991.5 1103.3,1991.5 1107.5,1991.1 1111.7,1990.6 1115.9,1990 1120.1,1989.5 1124.2,1989 1128.4,1988.5 1132.6,1988.3 1136.8,1988.3 1141,1988.3 1145.2,1988 1149.4,1987.5 1153.5,1987 1157.7,1986.4 1161.9,1985.9 1166.1,1985.4 1170.3,1984.9 1174.5,1984.5 1178.6,1984.1 1182.8,1983.6 1187,1983.6 1191.2,1984.1 1195.4,1984.6 1199.6,1985.3 1203.8,1986.4 1207.9,1987.4 1212.1,1988.1 1216.3,1987.4 1220.5,1986.7 1224.7,1982.1 1228.9,1975.9 1233,1967.5 1237.2,1959.2 1241.4,1952.1 1245.6,1950 1249.8,1953.4 1254,1960.6 1258.2,1975.3 1262.3,1982.9 1266.5,1985 1270.7,1982.2 1274.9,1980.6"/>
<path fill="none" stroke="#c8c8c8" stroke-width="2.4" d="M128.3 1925.4V1957.6M132.5 1919.8V1952M136.7 1913.5V1945.7M140.9 1897.5V1929.7M145 1874.5V1906.6M149.2 1849V1881M153.4 1824V1856M157.6 1803.1V1835.1M161.8 1778.5V1810.5M166 1757.4V1789.3M170.1 1745.3V1777.3M174.3 1739.8V1771.7M178.5 1734.8V1766.7M182.7 1732V1763.9M186.9 1729.2V1761.1M191.1 1727.7V1759.5M195.3 1726.3V1758.1M199.4 1726.1V1757.9M203.6 1726.8V1758.5M207.8 1727.7V1759.4M212 1729.3V1761M216.2 1730.9V1762.5M220.4 1732.2V1763.8M224.5 1731.5V1763.1M228.7 1730.8V1762.4M232.9 1727.3V1758.9M237.1 1723.1V1754.7M241.3 1720.7V1752.2M245.5 1720.2V1751.7M249.7 1719.7V1751.2M253.8 1720.1V1751.6M258 1722.3V1753.7M262.2 1724.2V1755.6M266.4 1723.6V1754.9M270.6 1722.9V1754.2M274.8 1722.3V1753.6M278.9 1721.8V1753.1M283.1 1721.3V1752.5M287.3 1721.4V1752.7M291.5 1722V1753.2M295.7 1722.5V1753.7M299.9 1723.6V1754.7M304.1 1725.1V1756.3M308.2 1726.7V1757.8M312.4 1728.5V1759.6M316.6 1730.6V1761.7M320.8 1733.3V1764.3M325 1739.5V1770.5M329.2 1740.9V1771.9M333.3 1742.3V1773.3M337.5 1741V1771.9M341.7 1739.6V1770.5M345.9 1735.5V1766.4M350.1 1729.9V1760.8M354.3 1718.7V1749.5M358.5 1695.7V1726.5M362.6 1692.1V1722.9M366.8 1694.7V1725.4M371 1698.9V1729.6M375.2 1703.1V1733.8M379.4 1706.3V1737M383.6 1709.5V1740.1M387.7 1712.6V1743.3M391.9 1715.4V1746M396.1 1718V1748.6M400.3 1720.6V1751.2M404.5 1722.5V1753.1M408.7 1724.1V1754.6M412.9 1725.7V1756.2M417 1727V1757.4M421.2 1728V1758.5M425.4 1729.1V1759.5M429.6 1730.7V1761M433.8 1732.8V1763.1M438 1723.1V1753.4M442.1 1711.1V1741.4M446.3 1696.4V1726.7M450.5 1694.9V1725.1M454.7 1695.9V1726.2M458.9 1697V1727.2M463.1 1695.8V1725.9M467.3 1694.6V1724.8M471.4 1697.8V1727.9M475.6 1700.9V1731M479.8 1704.1V1734.1M484 1707.2V1737.3M488.2 1710.4V1740.4M492.4 1713.5V1743.5M496.5 1709.5V1739.5M500.7 1709.3V1739.3M504.9 1714.5V1744.4M509.1 1719.7V1749.6M513.3 1724.9V1754.8M517.5 1730.2V1760M521.7 1735.4V1765.2M525.8 1741.5V1771.3M530 1747.8V1777.5M534.2 1754.1V1783.8M538.4 1761.9V1791.6M542.6 1770.2V1799.9M546.8 1778.6V1808.3M550.9 1785.3V1814.9M555.1 1790.9V1820.5M559.3 1798V1827.6M563.5 1802V1831.5M567.7 1749V1778.5M571.9 1716.5V1746M576.1 1698.2V1727.7M580.2 1699.6V1729M584.4 1701.3V1730.7M588.6 1706.9V1736.3M592.8 1712.5V1741.9M597 1719.1V1748.5M601.2 1726.1V1755.4M605.3 1734.8V1764.1M609.5 1746V1775.3M613.7 1757.4V1786.7M617.9 1771.4V1800.6M622.1 1785.4V1814.6M626.3 1800.4V1829.6M630.5 1815.7V1844.9M634.6 1830.5V1859.6M638.8 1844.5V1873.5M643 1857.7V1886.7M647.2 1864.6V1893.7M651.4 1871.6V1900.6M655.6 1874.8V1903.8M659.7 1875V1903.9M663.9 1868.7V1897.6M668.1 1871V1899.9M672.3 1876.9V1905.7M676.5 1880V1908.9M680.7 1883.2V1912M684.9 1885.7V1914.5M689 1866.9V1895.7M693.2 1859V1887.8M697.4 1863.2V1892M701.6 1877.1V1905.8M705.8 1890.5V1919.1M710 1901.6V1930.3M714.2 1912.4V1941.1M718.3 1916V1944.5M722.5 1919.6V1947.9M726.7 1921.8V1949.9M730.9 1923.4V1951.4M735.1 1925.1V1952.8M739.3 1927.1V1954.6M743.4 1929.3V1956.6M747.6 1931.5V1958.6M751.8 1934.2V1961.2M756 1937.4V1964.2M760.2 1940.6V1967.3M764.4 1943.2V1969.7M768.6 1944.9V1971.2M772.7 1946.5V1972.6M776.9 1948V1974M781.1 1949.2V1974.9M785.3 1950.3V1975.9M789.5 1951.3V1976.7M793.7 1951.9V1977.2M797.8 1952.5V1977.6M802 1953.1V1978.2M806.2 1954.2V1979.2M810.4 1955.3V1980.2M814.6 1956.3V1981.2M818.8 1957.4V1982.3M823 1958.5V1983.3M827.1 1959.5V1984.3M831.3 1960.1V1984.9M835.5 1960.6V1985.4M839.7 1961.2V1985.9M843.9 1960.9V1985.6M848.1 1960.4V1985.1M852.2 1959.9V1984.5M856.4 1960.1V1984.7M860.6 1960.6V1985.2M864.8 1961.2V1985.7M869 1962V1986.5M873.2 1963.1V1987.6M877.4 1964.1V1988.6M881.5 1965.2V1989.6M885.7 1966.3V1990.7M889.9 1967.3V1991.7M894.1 1968.4V1992.7M898.3 1969.4V1993.7M902.5 1970.4V1994.6M906.6 1971.3V1995.6M910.8 1971.8V1996M915 1972.2V1996.4M919.2 1972.6V1996.8M923.4 1973.1V1997.2M927.6 1973.5V1997.6M931.8 1973.9V1998M935.9 1974.4V1998.4M940.1 1974.8V1998.8M944.3 1975.2V1999.2M948.5 1975.7V1999.6M952.7 1976.1V2000M956.9 1976.5V2000.4M961 1977V2000.8M965.2 1977.4V2001.2M969.4 1977.8V2001.6M973.6 1978.3V2002M977.8 1978.7V2002.4M982 1979.1V2002.8M986.2 1979.6V2003.2M990.3 1979.7V2003.3M994.5 1979.7V2003.3M998.7 1979.7V2003.3M1002.9 1979.8V2003.3M1007.1 1979.8V2003.2M1011.3 1979.8V2003.2M1015.4 1979.8V2003.2M1019.6 1979.8V2003.2M1023.8 1980.2V2003.6M1028 1980.7V2004M1032.2 1981.1V2004.4M1036.4 1981.5V2004.8M1040.6 1981.5V2004.7M1044.7 1981.5V2004.7M1048.9 1981.5V2004.7M1053.1 1981.8V2004.9M1057.3 1982.8V2005.9M1061.5 1983.9V2007M1065.7 1984.8V2007.8M1069.8 1983.7V2006.7M1074 1982.7V2005.7M1078.2 1981.7V2004.6M1082.4 1981.2V2004.1M1086.6 1980.6V2003.5M1090.8 1980.1V2003M1095 1980.1V2002.9M1099.1 1980.1V2002.9M1103.3 1980.1V2002.9M1107.5 1979.7V2002.5M1111.7 1979.2V2001.9M1115.9 1978.7V2001.4M1120.1 1978.2V2000.8M1124.2 1977.7V2000.3M1128.4 1977.2V1999.8M1132.6 1977V1999.5M1136.8 1977V1999.5M1141 1977V1999.5M1145.2 1976.8V1999.2M1149.4 1976.3V1998.7M1153.5 1975.8V1998.2M1157.7 1975.3V1997.6M1161.9 1974.8V1997.1M1166.1 1974.3V1996.5M1170.3 1973.8V1996M1174.5 1973.4V1995.6M1178.6 1973V1995.2M1182.8 1972.6V1994.7M1187 1972.5V1994.7M1191.2 1973.1V1995.2M1195.4 1973.6V1995.7M1199.6 1974.3V1996.3M1203.8 1975.4V1997.4M1207.9 1976.4V1998.4M1212.1 1977.2V1999.1M1216.3 1976.5V1998.4M1220.5 1975.8V1997.7M1224.7 1971.2V1993M1228.9 1965V1986.8M1233 1956.7V1978.4M1237.2 1948.3V1970.1M1241.4 1941.3V1963M1245.6 1939.2V1960.9M1249.8 1942.6V1964.3M1254 1949.8V1971.4M1258.2 1964.5V1986.1M1262.3 1972.1V1993.7M1266.5 1974.2V1995.8M1270.7 1971.5V1993M1274.9 1969.9V1991.3"/>
<polyline fill="none" stroke="#000" stroke-width="1.4" stroke-linejoin="round" points="128.3,1941.5 132.5,1935.9 136.7,1929.6 140.9,1913.6 145,1890.5 149.2,1865 153.4,1840 157.6,1819.1 161.8,1794.5 166,1773.3 170.1,1761.3 174.3,1755.7 178.5,1750.7 182.7,1747.9 186.9,1745.2 191.1,1743.6 195.3,1742.2 199.4,1742 203.6,1742.7 207.8,1743.6 212,1745.1 216.2,1746.7 220.4,1748 224.5,1747.3 228.7,1746.6 232.9,1743.1 237.1,1738.9 241.3,1736.5 245.5,1735.9 249.7,1735.4 253.8,1735.9 258,1738 262.2,1739.9 266.4,1739.2 270.6,1738.5 274.8,1738 278.9,1737.4 283.1,1736.9 287.3,1737 291.5,1737.6 295.7,1738.1 299.9,1739.1 304.1,1740.7 308.2,1742.3 312.4,1744.1 316.6,1746.2 320.8,1748.8 325,1755 329.2,1756.4 333.3,1757.8 337.5,1756.4 341.7,1755.1 345.9,1750.9 350.1,1745.3 354.3,1734.1 358.5,1711.1 362.6,1707.5 366.8,1710.1 371,1714.2 375.2,1718.4 379.4,1721.7 383.6,1724.8 387.7,1728 391.9,1730.7 396.1,1733.3 400.3,1735.9 404.5,1737.8 408.7,1739.4 412.9,1740.9 417,1742.2 421.2,1743.2 425.4,1744.3 429.6,1745.8 433.8,1747.9 438,1738.3 442.1,1726.2 446.3,1711.6 450.5,1710 454.7,1711 458.9,1712.1 463.1,1710.8 467.3,1709.7 471.4,1712.8 475.6,1716 479.8,1719.1 484,1722.2 488.2,1725.4 492.4,1728.5 496.5,1724.5 500.7,1724.3 504.9,1729.5 509.1,1734.6 513.3,1739.9 517.5,1745.1 521.7,1750.3 525.8,1756.4 530,1762.7 534.2,1769 538.4,1776.7 542.6,1785.1 546.8,1793.4 550.9,1800.1 555.1,1805.7 559.3,1812.8 563.5,1816.7 567.7,1763.7 571.9,1731.3 576.1,1712.9 580.2,1714.3 584.4,1716 588.6,1721.6 592.8,1727.2 597,1733.8 601.2,1740.8 605.3,1749.5 609.5,1760.7 613.7,1772.1 617.9,1786 622.1,1800 626.3,1815 630.5,1830.3 634.6,1845.1 638.8,1859 643,1872.2 647.2,1879.2 651.4,1886.1 655.6,1889.3 659.7,1889.4 663.9,1883.2 668.1,1885.4 672.3,1891.3 676.5,1894.4 680.7,1897.6 684.9,1900.1 689,1881.3 693.2,1873.4 697.4,1877.6 701.6,1891.4 705.8,1904.8 710,1915.9 714.2,1926.8 718.3,1930.2 722.5,1933.7 726.7,1935.8 730.9,1937.4 735.1,1939 739.3,1940.9 743.4,1943 747.6,1945.1 751.8,1947.7 756,1950.8 760.2,1954 764.4,1956.4 768.6,1958 772.7,1959.6 776.9,1961 781.1,1962 785.3,1963.1 789.5,1964 793.7,1964.5 797.8,1965.1 802,1965.6 806.2,1966.7 810.4,1967.7 814.6,1968.8 818.8,1969.8 823,1970.9 827.1,1971.9 831.3,1972.5 835.5,1973 839.7,1973.5 843.9,1973.2 848.1,1972.7 852.2,1972.2 856.4,1972.4 860.6,1972.9 864.8,1973.4 869,1974.3 873.2,1975.3 877.4,1976.4 881.5,1977.4 885.7,1978.5 889.9,1979.5 894.1,1980.5 898.3,1981.5 902.5,1982.5 906.6,1983.4 910.8,1983.9 915,1984.3 919.2,1984.7 923.4,1985.1 927.6,1985.5 931.8,1985.9 935.9,1986.4 940.1,1986.8 944.3,1987.2 948.5,1987.6 952.7,1988 956.9,1988.5 961,1988.9 965.2,1989.3 969.4,1989.7 973.6,1990.1 977.8,1990.5 982,1991 986.2,1991.4 990.3,1991.5 994.5,1991.5 998.7,1991.5 1002.9,1991.5 1007.1,1991.5 1011.3,1991.5 1015.4,1991.5 1019.6,1991.5 1023.8,1991.9 1028,1992.3 1032.2,1992.7 1036.4,1993.1 1040.6,1993.1 1044.7,1993.1 1048.9,1993.1 1053.1,1993.3 1057.3,1994.4 1061.5,1995.4 1065.7,1996.3 1069.8,1995.2 1074,1994.2 1078.2,1993.1 1082.4,1992.6 1086.6,1992.1 1090.8,1991.6 1095,1991.5 1099.1,1991.5 1103.3,1991.5 1107.5,1991.1 1111.7,1990.6 1115.9,1990 1120.1,1989.5 1124.2,1989 1128.4,1988.5 1132.6,1988.3 1136.8,1988.3 1141,1988.3 1145.2,1988 1149.4,1987.5 1153.5,1987 1157.7,1986.4 1161.9,1985.9 1166.1,1985.4 1170.3,1984.9 1174.5,1984.5 1178.6,1984.1 1182.8,1983.6 1187,1983.6 1191.2,1984.1 1195.4,1984.6 1199.6,1985.3 1203.8,1986.4 1207.9,1987.4 1212.1,1988.1 1216.3,1987.4 1220.5,1986.7 1224.7,1982.1 1228.9,1975.9 1233,1967.5 1237.2,1959.2 1241.4,1952.1 1245.6,1950 1249.8,1953.4 1254,1960.6 1258.2,1975.3 1262.3,1982.9 1266.5,1985 1270.7,1982.2 1274.9,1980.6"/><path fill="none" stroke="#000" stroke-width="2.4" d="M127.1 1941.5h2.4M131.3 1935.9h2.4M135.5 1929.6h2.4M139.7 1913.6h2.4M143.8 1890.5h2.4M148 1865h2.4M152.2 1840h2.4M156.4 1819.1h2.4M160.6 1794.5h2.4M164.8 1773.3h2.4M168.9 1761.3h2.4M173.1 1755.7h2.4M177.3 1750.7h2.4M181.5 1747.9h2.4M185.7 1745.2h2.4M189.9 1743.6h2.4M194.1 1742.2h2.4M198.2 1742h2.4M202.4 1742.7h2.4M206.6 1743.6h2.4M210.8 1745.1h2.4M215 1746.7h2.4M219.2 1748h2.4M223.3 1747.3h2.4M227.5 1746.6h2.4M231.7 1743.1h2.4M235.9 1738.9h2.4M240.1 1736.5h2.4M244.3 1735.9h2.4M248.5 1735.4h2.4M252.6 1735.9h2.4M256.8 1738h2.4M261 1739.9h2.4M265.2 1739.2h2.4M269.4 1738.5h2.4M273.6 1738h2.4M277.7 1737.4h2.4M281.9 1736.9h2.4M286.1 1737h2.4M290.3 1737.6h2.4M294.5 1738.1h2.4M298.7 1739.1h2.4M302.9 1740.7h2.4M307 1742.3h2.4M311.2 1744.1h2.4M315.4 1746.2h2.4M319.6 1748.8h2.4M323.8 1755h2.4M328 1756.4h2.4M332.1 1757.8h2.4M336.3 1756.4h2.4M340.5 1755.1h2.4M344.7 1750.9h2.4M348.9 1745.3h2.4M353.1 1734.1h2.4M357.3 1711.1h2.4M361.4 1707.5h2.4M365.6 1710.1h2.4M369.8 1714.2h2.4M374 1718.4h2.4M378.2 1721.7h2.4M382.4 1724.8h2.4M386.5 1728h2.4M390.7 1730.7h2.4M394.9 1733.3h2.4M399.1 1735.9h2.4M403.3 1737.8h2.4M407.5 1739.4h2.4M411.7 1740.9h2.4M415.8 1742.2h2.4M420 1743.2h2.4M424.2 1744.3h2.4M428.4 1745.8h2.4M432.6 1747.9h2.4M436.8 1738.3h2.4M440.9 1726.2h2.4M445.1 1711.6h2.4M449.3 1710h2.4M453.5 1711h2.4M457.7 1712.1h2.4M461.9 1710.8h2.4M466.1 1709.7h2.4M470.2 1712.8h2.4M474.4 1716h2.4M478.6 1719.1h2.4M482.8 1722.2h2.4M487 1725.4h2.4M491.2 1728.5h2.4M495.3 1724.5h2.4M499.5 1724.3h2.4M503.7 1729.5h2.4M507.9 1734.6h2.4M512.1 1739.9h2.4M516.3 1745.1h2.4M520.5 1750.3h2.4M524.6 1756.4h2.4M528.8 1762.7h2.4M533 1769h2.4M537.2 1776.7h2.4M541.4 1785.1h2.4M545.6 1793.4h2.4M549.7 1800.1h2.4M553.9 1805.7h2.4M558.1 1812.8h2.4M562.3 1816.7h2.4M566.5 1763.7h2.4M570.7 1731.3h2.4M574.9 1712.9h2.4M579 1714.3h2.4M583.2 1716h2.4M587.4 1721.6h2.4M591.6 1727.2h2.4M595.8 1733.8h2.4M600 1740.8h2.4M604.1 1749.5h2.4M608.3 1760.7h2.4M612.5 1772.1h2.4M616.7 1786h2.4M620.9 1800h2.4M625.1 1815h2.4M629.3 1830.3h2.4M633.4 1845.1h2.4M637.6 1859h2.4M641.8 1872.2h2.4M646 1879.2h2.4M650.2 1886.1h2.4M654.4 1889.3h2.4M658.5 1889.4h2.4M662.7 1883.2h2.4M666.9 1885.4h2.4M671.1 1891.3h2.4M675.3 1894.4h2.4M679.5 1897.6h2.4M683.7 1900.1h2.4M687.8 1881.3h2.4M692 1873.4h2.4M696.2 1877.6h2.4M700.4 1891.4h2.4M704.6 1904.8h2.4M708.8 1915.9h2.4M713 1926.8h2.4M717.1 1930.2h2.4M721.3 1933.7h2.4M725.5 1935.8h2.4M729.7 1937.4h2.4M733.9 1939h2.4M738.1 1940.9h2.4M742.2 1943h2.4M746.4 1945.1h2.4M750.6 1947.7h2.4M754.8 1950.8h2.4M759 1954h2.4M763.2 1956.4h2.4M767.4 1958h2.4M771.5 1959.6h2.4M775.7 1961h2.4M779.9 1962h2.4M784.1 1963.1h2.4M788.3 1964h2.4M792.5 1964.5h2.4M796.6 1965.1h2.4M800.8 1965.6h2.4M805 1966.7h2.4M809.2 1967.7h2.4M813.4 1968.8h2.4M817.6 1969.8h2.4M821.8 1970.9h2.4M825.9 1971.9h2.4M830.1 1972.5h2.4M834.3 1973h2.4M838.5 1973.5h2.4M842.7 1973.2h2.4M846.9 1972.7h2.4M851 1972.2h2.4M855.2 1972.4h2.4M859.4 1972.9h2.4M863.6 1973.4h2.4M867.8 1974.3h2.4M872 1975.3h2.4M876.2 1976.4h2.4M880.3 1977.4h2.4M884.5 1978.5h2.4M888.7 1979.5h2.4M892.9 1980.5h2.4M897.1 1981.5h2.4M901.3 1982.5h2.4M905.4 1983.4h2.4M909.6 1983.9h2.4M913.8 1984.3h2.4M918 1984.7h2.4M922.2 1985.1h2.4M926.4 1985.5h2.4M930.6 1985.9h2.4M934.7 1986.4h2.4M938.9 1986.8h2.4M943.1 1987.2h2.4M947.3 1987.6h2.4M951.5 1988h2.4M955.7 1988.5h2.4M959.8 1988.9h2.4M964 1989.3h2.4M968.2 1989.7h2.4M972.4 1990.1h2.4M976.6 1990.5h2.4M980.8 1991h2.4M985 1991.4h2.4M989.1 1991.5h2.4M993.3 1991.5h2.4M997.5 1991.5h2.4M1001.7 1991.5h2.4M1005.9 1991.5h2.4M1010.1 1991.5h2.4M1014.2 1991.5h2.4M1018.4 1991.5h2.4M1022.6 1991.9h2.4M1026.8 1992.3h2.4M1031 1992.7h2.4M1035.2 1993.1h2.4M1039.4 1993.1h2.4M1043.5 1993.1h2.4M1047.7 1993.1h2.4M1051.9 1993.3h2.4M1056.1 1994.4h2.4M1060.3 1995.4h2.4M1064.5 1996.3h2.4M1068.6 1995.2h2.4M1072.8 1994.2h2.4M1077 1993.1h2.4M1081.2 1992.6h2.4M1085.4 1992.1h2.4M1089.6 1991.6h2.4M1093.8 1991.5h2.4M1097.9 1991.5h2.4M1102.1 1991.5h2.4M1106.3 1991.1h2.4M1110.5 1990.6h2.4M1114.7 1990h2.4M1118.9 1989.5h2.4M1123 1989h2.4M1127.2 1988.5h2.4M1131.4 1988.3h2.4M1135.6 1988.3h2.4M1139.8 1988.3h2.4M1144 1988h2.4M1148.2 1987.5h2.4M1152.3 1987h2.4M1156.5 1986.4h2.4M1160.7 1985.9h2.4M1164.9 1985.4h2.4M1169.1 1984.9h2.4M1173.3 1984.5h2.4M1177.4 1984.1h2.4M1181.6 1983.6h2.4M1185.8 1983.6h2.4M1190 1984.1h2.4M1194.2 1984.6h2.4M1198.4 1985.3h2.4M1202.6 1986.4h2.4M1206.7 1987.4h2.4M1210.9 1988.1h2.4M1215.1 1987.4h2.4M1219.3 1986.7h2.4M1223.5 1982.1h2.4M1227.7 1975.9h2.4M1231.8 1967.5h2.4M1236 1959.2h2.4M1240.2 1952.1h2.4M1244.4 1950h2.4M1248.6 1953.4h2.4M1252.8 1960.6h2.4M1257 1975.3h2.4M1261.1 1982.9h2.4M1265.3 1985h2.4M1269.5 1982.2h2.4M1273.7 1980.6h2.4"/>
<polyline fill="none" stroke="#ff0000" stroke-width="6" stroke-linejoin="round" points="128.3,1826 132.5,1819 136.7,1812.8 140.9,1806 145,1798.6 149.2,1793.3 153.4,1786.8 157.6,1778.4 161.8,1767.6 166,1768.7 170.1,1774.8 174.3,1779.8 178.5,1784.1 182.7,1785.5 186.9,1786.9 191.1,1787.9 195.3,1789 199.4,1790 203.6,1791.4 207.8,1792.8 212,1795 216.2,1798.4 220.4,1799.1 224.5,1797.5 228.7,1793.1 232.9,1786.8 237.1,1776.3 241.3,1771.5 245.5,1772.9 249.7,1774.3 253.8,1776.4 258,1778.5 262.2,1781 266.4,1783.5 270.6,1779.4 274.8,1774.3 278.9,1772.1 283.1,1771.3 287.3,1772.7 291.5,1774 295.7,1774 299.9,1774 304.1,1775.2 308.2,1776.8 312.4,1778.3 316.6,1779.8 320.8,1800.2 325,1797.9 329.2,1794.9 333.3,1794.3 337.5,1793.8 341.7,1793.8 345.9,1794.5 350.1,1792.2 354.3,1762.9 358.5,1743.9 362.6,1738.3 366.8,1748.8 371,1756.9 375.2,1762.1 379.4,1767.4 383.6,1771.9 387.7,1775 391.9,1778.2 396.1,1781 400.3,1783.1 404.5,1785.2 408.7,1787.3 412.9,1789.4 417,1791.5 421.2,1793.6 425.4,1795.7 429.6,1797.8 433.8,1799.9 438,1787 442.1,1768.7 446.3,1752.1 450.5,1738.6 454.7,1742.8 458.9,1746.9 463.1,1745.6 467.3,1742.3 471.4,1748.2 475.6,1756.6 479.8,1762.6 484,1768.1 488.2,1773.9 492.4,1779.7 496.5,1782.4 500.7,1782.9 504.9,1783.3 509.1,1783.7 513.3,1791.4 517.5,1799.8 521.7,1808.1 525.8,1818.2 530,1828.7 534.2,1839.1 538.4,1848.9 542.6,1858.3 546.8,1867.7 550.9,1877.3 555.1,1887.1 559.3,1894.1 563.5,1894.1 567.7,1845.6 571.9,1794.5 576.1,1754.6 580.2,1758 584.4,1761.9 588.6,1773 592.8,1784.2 597,1796.4 601.2,1808.9 605.3,1824.4 609.5,1843.9 613.7,1863.2 617.9,1879.9 622.1,1896.7 626.3,1907 630.5,1915.4 634.6,1923.1 638.8,1930.1 643,1936.6 647.2,1938.7 651.4,1940.7 655.6,1940.7 659.7,1940 663.9,1936.7 668.1,1936.8 672.3,1939.8 676.5,1941.3 680.7,1942.9 684.9,1944.2 689,1933.3 693.2,1923.8 697.4,1928.8 701.6,1933.9 705.8,1939.5 710,1945.1 714.2,1947.8 718.3,1949.9 722.5,1952 726.7,1953.3 730.9,1954.4 735.1,1955.4 739.3,1955.8 743.4,1955.8 747.6,1955.8 751.8,1956.3 756,1957.4 760.2,1958.4 764.4,1959.5 768.6,1960.5 772.7,1961.6 776.9,1962.5 781.1,1963 785.3,1963.5 789.5,1964 793.7,1964.5 797.8,1965.1 802,1965.5 806.2,1965.5 810.4,1965.5 814.6,1965.5 818.8,1966.1 823,1966.6 827.1,1967.1 831.3,1967.6 835.5,1968.2 839.7,1968.7 843.9,1968.4 848.1,1967.8 852.2,1967.3 856.4,1967.5 860.6,1968 864.8,1968.6 869,1969.4 873.2,1970.5 877.4,1971.5 881.5,1972.3 885.7,1972.8 889.9,1973.3 894.1,1973.8 898.3,1974.3 902.5,1974.8 906.6,1975.3 910.8,1975.7 915,1976.2 919.2,1976.6 923.4,1977 927.6,1977.4 931.8,1977.8 935.9,1978.2 940.1,1978.7 944.3,1979.1 948.5,1979.5 952.7,1979.9 956.9,1980.3 961,1980.8 965.2,1981.2 969.4,1981.6 973.6,1982 977.8,1982.4 982,1982.9 986.2,1983.3 990.3,1983.1 994.5,1982.7 998.7,1982.3 1002.9,1981.8 1007.1,1982.1 1011.3,1982.5 1015.4,1983 1019.6,1983.4 1023.8,1983.8 1028,1984.2 1032.2,1984.6 1036.4,1985 1040.6,1985 1044.7,1985 1048.9,1985 1053.1,1985.2 1057.3,1986.3 1061.5,1987.3 1065.7,1988.2 1069.8,1987.1 1074,1986.1 1078.2,1985 1082.4,1984.5 1086.6,1984 1090.8,1983.5 1095,1983.9 1099.1,1984.4 1103.3,1984.9 1107.5,1984.6 1111.7,1984.1 1115.9,1983.6 1120.1,1982.7 1124.2,1981.6 1128.4,1980.6 1132.6,1980.5 1136.8,1981 1141,1981.5 1145.2,1981.3 1149.4,1980.2 1153.5,1979.2 1157.7,1978.5 1161.9,1978.5 1166.1,1978.5 1170.3,1978.3 1174.5,1977.5 1178.6,1976.6 1182.8,1975.8 1187,1975.7 1191.2,1976.7 1195.4,1977.8 1199.6,1979.1 1203.8,1981.2 1207.9,1983.3 1212.1,1984.9 1216.3,1984.2 1220.5,1983.5 1224.7,1978.9 1228.9,1973 1233,1965.7 1237.2,1959.1 1241.4,1953.5 1245.6,1950.4 1249.8,1950.7 1254,1953.4 1258.2,1961.8 1262.3,1967.3 1266.5,1970.4 1270.7,1964.8 1274.9,1959.2"/>
<path fill="none" stroke="#c8c8c8" stroke-width="2.4" d="M128.3 1806.3V1845.7M132.5 1799.4V1838.7M136.7 1793.1V1832.5M140.9 1786.3V1825.6M145 1778.9V1818.3M149.2 1773.6V1813M153.4 1767.1V1806.5M157.6 1758.7V1798.1M161.8 1748V1787.3M166 1749V1788.4M170.1 1755.1V1794.5M174.3 1760.1V1799.5M178.5 1764.4V1803.8M182.7 1765.8V1805.1M186.9 1767.2V1806.5M191.1 1768.3V1807.6M195.3 1769.3V1808.7M199.4 1770.4V1809.7M203.6 1771.7V1811M207.8 1773.1V1812.4M212 1775.4V1814.7M216.2 1778.7V1818.1M220.4 1779.5V1818.8M224.5 1777.8V1817.2M228.7 1773.5V1812.8M232.9 1767.1V1806.4M237.1 1756.6V1796M241.3 1751.8V1791.1M245.5 1753.2V1792.5M249.7 1754.7V1794M253.8 1756.8V1796.1M258 1758.9V1798.2M262.2 1761.3V1800.6M266.4 1763.8V1803.2M270.6 1759.7V1799M274.8 1754.7V1794M278.9 1752.4V1791.8M283.1 1751.7V1791M287.3 1753.1V1792.4M291.5 1754.4V1793.7M295.7 1754.4V1793.7M299.9 1754.4V1793.7M304.1 1755.5V1794.9M308.2 1757.1V1796.4M312.4 1758.7V1798M316.6 1760.1V1799.5M320.8 1780.5V1819.9M325 1778.2V1817.5M329.2 1775.2V1814.5M333.3 1774.7V1814M337.5 1774.1V1813.5M341.7 1774.1V1813.5M345.9 1774.8V1814.2M350.1 1772.5V1811.8M354.3 1743.2V1782.5M358.5 1724.2V1763.6M362.6 1718.7V1758M366.8 1729.1V1768.5M371 1737.2V1776.6M375.2 1742.5V1781.8M379.4 1747.7V1787.1M383.6 1752.2V1791.6M387.7 1755.3V1794.7M391.9 1758.5V1797.8M396.1 1761.4V1800.7M400.3 1763.5V1802.8M404.5 1765.5V1804.9M408.7 1767.6V1807M412.9 1769.7V1809.1M417 1771.8V1811.2M421.2 1773.9V1813.3M425.4 1776.1V1815.3M429.6 1778.3V1817.3M433.8 1780.5V1819.3M438 1767.6V1806.3M442.1 1749.5V1787.9M446.3 1733V1771.3M450.5 1719.5V1757.6M454.7 1723.8V1761.7M458.9 1728.1V1765.8M463.1 1726.8V1764.4M467.3 1723.6V1761M471.4 1729.6V1766.8M475.6 1738.1V1775.1M479.8 1744.1V1781M484 1749.8V1786.5M488.2 1755.6V1792.1M492.4 1761.6V1797.9M496.5 1764.3V1800.5M500.7 1764.9V1800.8M504.9 1765.4V1801.2M509.1 1765.9V1801.5M513.3 1773.7V1809.1M517.5 1782.1V1817.4M521.7 1790.6V1825.7M525.8 1800.8V1835.6M530 1811.3V1846M534.2 1821.9V1856.4M538.4 1831.7V1866M542.6 1841.2V1875.4M546.8 1850.7V1884.7M550.9 1860.4V1894.2M555.1 1870.3V1903.9M559.3 1877.4V1910.9M563.5 1877.5V1910.8M567.7 1829V1862.1M571.9 1778.1V1811M576.1 1738.2V1771M580.2 1741.7V1774.2M584.4 1745.7V1778M588.6 1756.9V1789.1M592.8 1768.3V1800.1M597 1780.6V1812.1M601.2 1793.4V1824.5M605.3 1809V1839.8M609.5 1828.7V1859.1M613.7 1848.2V1878.2M617.9 1865.1V1894.8M622.1 1882V1911.3M626.3 1892.5V1921.5M630.5 1901.1V1929.7M634.6 1909V1937.3M638.8 1916.2V1944.1M643 1922.8V1950.3M647.2 1925.1V1952.2M651.4 1927.3V1954.2M655.6 1927.4V1953.9M659.7 1926.9V1953M663.9 1923.8V1949.6M668.1 1924.1V1949.5M672.3 1927.3V1952.3M676.5 1929V1953.7M680.7 1930.7V1955.1M684.9 1932.2V1956.1M689 1921.5V1945.1M693.2 1912.2V1935.4M697.4 1917.4V1940.3M701.6 1922.6V1945.2M705.8 1928.4V1950.6M710 1934.2V1956M714.2 1937.1V1958.5M718.3 1939.2V1960.6M722.5 1941.3V1962.7M726.7 1942.6V1964M730.9 1943.7V1965M735.1 1944.7V1966.1M739.3 1945.1V1966.5M743.4 1945.2V1966.4M747.6 1945.2V1966.4M751.8 1945.7V1967M756 1946.8V1968M760.2 1947.8V1969M764.4 1948.9V1970.1M768.6 1950V1971.1M772.7 1951V1972.1M776.9 1951.9V1973M781.1 1952.5V1973.5M785.3 1953V1974M789.5 1953.5V1974.5M793.7 1954.1V1975M797.8 1954.6V1975.5M802 1955.1V1976M806.2 1955.1V1976M810.4 1955.1V1976M814.6 1955.1V1976M818.8 1955.7V1976.5M823 1956.2V1977M827.1 1956.7V1977.5M831.3 1957.3V1978M835.5 1957.8V1978.5M839.7 1958.3V1979M843.9 1958V1978.7M848.1 1957.5V1978.2M852.2 1957V1977.6M856.4 1957.2V1977.8M860.6 1957.8V1978.3M864.8 1958.3V1978.8M869 1959.2V1979.6M873.2 1960.2V1980.7M877.4 1961.3V1981.7M881.5 1962.1V1982.5M885.7 1962.6V1983M889.9 1963.2V1983.5M894.1 1963.7V1984M898.3 1964.2V1984.5M902.5 1964.7V1985M906.6 1965.2V1985.4M910.8 1965.6V1985.8M915 1966.1V1986.3M919.2 1966.5V1986.7M923.4 1966.9V1987.1M927.6 1967.4V1987.5M931.8 1967.8V1987.9M935.9 1968.2V1988.3M940.1 1968.7V1988.7M944.3 1969.1V1989.1M948.5 1969.5V1989.5M952.7 1969.9V1989.9M956.9 1970.4V1990.3M961 1970.8V1990.7M965.2 1971.2V1991.1M969.4 1971.7V1991.5M973.6 1972.1V1991.9M977.8 1972.5V1992.3M982 1973V1992.7M986.2 1973.4V1993.1M990.3 1973.2V1993M994.5 1972.8V1992.5M998.7 1972.4V1992.1M1002.9 1972V1991.7M1007.1 1972.3V1991.9M1011.3 1972.7V1992.3M1015.4 1973.2V1992.7M1019.6 1973.6V1993.1M1023.8 1974V1993.5M1028 1974.5V1993.9M1032.2 1974.9V1994.3M1036.4 1975.3V1994.7M1040.6 1975.3V1994.7M1044.7 1975.3V1994.7M1048.9 1975.3V1994.7M1053.1 1975.6V1994.9M1057.3 1976.6V1995.9M1061.5 1977.7V1996.9M1065.7 1978.6V1997.8M1069.8 1977.5V1996.7M1074 1976.5V1995.7M1078.2 1975.5V1994.6M1082.4 1974.9V1994.1M1086.6 1974.4V1993.5M1090.8 1973.9V1993M1095 1974.3V1993.4M1099.1 1974.9V1993.9M1103.3 1975.4V1994.4M1107.5 1975.1V1994.1M1111.7 1974.6V1993.5M1115.9 1974.1V1993M1120.1 1973.2V1992.1M1124.2 1972.2V1991.1M1128.4 1971.2V1990M1132.6 1971.1V1989.9M1136.8 1971.6V1990.4M1141 1972.1V1990.9M1145.2 1971.9V1990.6M1149.4 1970.9V1989.6M1153.5 1969.8V1988.5M1157.7 1969.2V1987.8M1161.9 1969.2V1987.8M1166.1 1969.2V1987.8M1170.3 1969V1987.6M1174.5 1968.2V1986.7M1178.6 1967.4V1985.9M1182.8 1966.5V1985M1187 1966.5V1984.9M1191.2 1967.5V1986M1195.4 1968.6V1987M1199.6 1969.9V1988.3M1203.8 1972.1V1990.4M1207.9 1974.2V1992.5M1212.1 1975.7V1994M1216.3 1975.1V1993.3M1220.5 1974.4V1992.6M1224.7 1969.8V1988M1228.9 1963.9V1982.1M1233 1956.6V1974.8M1237.2 1950.1V1968.2M1241.4 1944.5V1962.6M1245.6 1941.3V1959.4M1249.8 1941.7V1959.7M1254 1944.4V1962.5M1258.2 1952.8V1970.8M1262.3 1958.3V1976.3M1266.5 1961.4V1979.4M1270.7 1955.8V1973.8M1274.9 1950.3V1968.2"/>
<polyline fill="none" stroke="#000" stroke-width="1.4" stroke-linejoin="round" points="128.3,1826 132.5,1819 136.7,1812.8 140.9,1806 145,1798.6 149.2,1793.3 153.4,1786.8 157.6,1778.4 161.8,1767.6 166,1768.7 170.1,1774.8 174.3,1779.8 178.5,1784.1 182.7,1785.5 186.9,1786.9 191.1,1787.9 195.3,1789 199.4,1790 203.6,1791.4 207.8,1792.8 212,1795 216.2,1798.4 220.4,1799.1 224.5,1797.5 228.7,1793.1 232.9,1786.8 237.1,1776.3 241.3,1771.5 245.5,1772.9 249.7,1774.3 253.8,1776.4 258,1778.5 262.2,1781 266.4,1783.5 270.6,1779.4 274.8,1774.3 278.9,1772.1 283.1,1771.3 287.3,1772.7 291.5,1774 295.7,1774 299.9,1774 304.1,1775.2 308.2,1776.8 312.4,1778.3 316.6,1779.8 320.8,1800.2 325,1797.9 329.2,1794.9 333.3,1794.3 337.5,1793.8 341.7,1793.8 345.9,1794.5 350.1,1792.2 354.3,1762.9 358.5,1743.9 362.6,1738.3 366.8,1748.8 371,1756.9 375.2,1762.1 379.4,1767.4 383.6,1771.9 387.7,1775 391.9,1778.2 396.1,1781 400.3,1783.1 404.5,1785.2 408.7,1787.3 412.9,1789.4 417,1791.5 421.2,1793.6 425.4,1795.7 429.6,1797.8 433.8,1799.9 438,1787 442.1,1768.7 446.3,1752.1 450.5,1738.6 454.7,1742.8 458.9,1746.9 463.1,1745.6 467.3,1742.3 471.4,1748.2 475.6,1756.6 479.8,1762.6 484,1768.1 488.2,1773.9 492.4,1779.7 496.5,1782.4 500.7,1782.9 504.9,1783.3 509.1,1783.7 513.3,1791.4 517.5,1799.8 521.7,1808.1 525.8,1818.2 530,1828.7 534.2,1839.1 538.4,1848.9 542.6,1858.3 546.8,1867.7 550.9,1877.3 555.1,1887.1 559.3,1894.1 563.5,1894.1 567.7,1845.6 571.9,1794.5 576.1,1754.6 580.2,1758 584.4,1761.9 588.6,1773 592.8,1784.2 597,1796.4 601.2,1808.9 605.3,1824.4 609.5,1843.9 613.7,1863.2 617.9,1879.9 622.1,1896.7 626.3,1907 630.5,1915.4 634.6,1923.1 638.8,1930.1 643,1936.6 647.2,1938.7 651.4,1940.7 655.6,1940.7 659.7,1940 663.9,1936.7 668.1,1936.8 672.3,1939.8 676.5,1941.3 680.7,1942.9 684.9,1944.2 689,1933.3 693.2,1923.8 697.4,1928.8 701.6,1933.9 705.8,1939.5 710,1945.1 714.2,1947.8 718.3,1949.9 722.5,1952 726.7,1953.3 730.9,1954.4 735.1,1955.4 739.3,1955.8 743.4,1955.8 747.6,1955.8 751.8,1956.3 756,1957.4 760.2,1958.4 764.4,1959.5 768.6,1960.5 772.7,1961.6 776.9,1962.5 781.1,1963 785.3,1963.5 789.5,1964 793.7,1964.5 797.8,1965.1 802,1965.5 806.2,1965.5 810.4,1965.5 814.6,1965.5 818.8,1966.1 823,1966.6 827.1,1967.1 831.3,1967.6 835.5,1968.2 839.7,1968.7 843.9,1968.4 848.1,1967.8 852.2,1967.3 856.4,1967.5 860.6,1968 864.8,1968.6 869,1969.4 873.2,1970.5 877.4,1971.5 881.5,1972.3 885.7,1972.8 889.9,1973.3 894.1,1973.8 898.3,1974.3 902.5,1974.8 906.6,1975.3 910.8,1975.7 915,1976.2 919.2,1976.6 923.4,1977 927.6,1977.4 931.8,1977.8 935.9,1978.2 940.1,1978.7 944.3,1979.1 948.5,1979.5 952.7,1979.9 956.9,1980.3 961,1980.8 965.2,1981.2 969.4,1981.6 973.6,1982 977.8,1982.4 982,1982.9 986.2,1983.3 990.3,1983.1 994.5,1982.7 998.7,1982.3 1002.9,1981.8 1007.1,1982.1 1011.3,1982.5 1015.4,1983 1019.6,1983.4 1023.8,1983.8 1028,1984.2 1032.2,1984.6 1036.4,1985 1040.6,1985 1044.7,1985 1048.9,1985 1053.1,1985.2 1057.3,1986.3 1061.5,1987.3 1065.7,1988.2 1069.8,1987.1 1074,1986.1 1078.2,1985 1082.4,1984.5 1086.6,1984 1090.8,1983.5 1095,1983.9 1099.1,1984.4 1103.3,1984.9 1107.5,1984.6 1111.7,1984.1 1115.9,1983.6 1120.1,1982.7 1124.2,1981.6 1128.4,1980.6 1132.6,1980.5 1136.8,1981 1141,1981.5 1145.2,1981.3 1149.4,1980.2 1153.5,1979.2 1157.7,1978.5 1161.9,1978.5 1166.1,1978.5 1170.3,1978.3 1174.5,1977.5 1178.6,1976.6 1182.8,1975.8 1187,1975.7 1191.2,1976.7 1195.4,1977.8 1199.6,1979.1 1203.8,1981.2 1207.9,1983.3 1212.1,1984.9 1216.3,1984.2 1220.5,1983.5 1224.7,1978.9 1228.9,1973 1233,1965.7 1237.2,1959.1 1241.4,1953.5 1245.6,1950.4 1249.8,1950.7 1254,1953.4 1258.2,1961.8 1262.3,1967.3 1266.5,1970.4 1270.7,1964.8 1274.9,1959.2"/><path fill="none" stroke="#000" stroke-width="2.4" d="M127.1 1826h2.4M131.3 1819h2.4M135.5 1812.8h2.4M139.7 1806h2.4M143.8 1798.6h2.4M148 1793.3h2.4M152.2 1786.8h2.4M156.4 1778.4h2.4M160.6 1767.6h2.4M164.8 1768.7h2.4M168.9 1774.8h2.4M173.1 1779.8h2.4M177.3 1784.1h2.4M181.5 1785.5h2.4M185.7 1786.9h2.4M189.9 1787.9h2.4M194.1 1789h2.4M198.2 1790h2.4M202.4 1791.4h2.4M206.6 1792.8h2.4M210.8 1795h2.4M215 1798.4h2.4M219.2 1799.1h2.4M223.3 1797.5h2.4M227.5 1793.1h2.4M231.7 1786.8h2.4M235.9 1776.3h2.4M240.1 1771.5h2.4M244.3 1772.9h2.4M248.5 1774.3h2.4M252.6 1776.4h2.4M256.8 1778.5h2.4M261 1781h2.4M265.2 1783.5h2.4M269.4 1779.4h2.4M273.6 1774.3h2.4M277.7 1772.1h2.4M281.9 1771.3h2.4M286.1 1772.7h2.4M290.3 1774h2.4M294.5 1774h2.4M298.7 1774h2.4M302.9 1775.2h2.4M307 1776.8h2.4M311.2 1778.3h2.4M315.4 1779.8h2.4M319.6 1800.2h2.4M323.8 1797.9h2.4M328 1794.9h2.4M332.1 1794.3h2.4M336.3 1793.8h2.4M340.5 1793.8h2.4M344.7 1794.5h2.4M348.9 1792.2h2.4M353.1 1762.9h2.4M357.3 1743.9h2.4M361.4 1738.3h2.4M365.6 1748.8h2.4M369.8 1756.9h2.4M374 1762.1h2.4M378.2 1767.4h2.4M382.4 1771.9h2.4M386.5 1775h2.4M390.7 1778.2h2.4M394.9 1781h2.4M399.1 1783.1h2.4M403.3 1785.2h2.4M407.5 1787.3h2.4M411.7 1789.4h2.4M415.8 1791.5h2.4M420 1793.6h2.4M424.2 1795.7h2.4M428.4 1797.8h2.4M432.6 1799.9h2.4M436.8 1787h2.4M440.9 1768.7h2.4M445.1 1752.1h2.4M449.3 1738.6h2.4M453.5 1742.8h2.4M457.7 1746.9h2.4M461.9 1745.6h2.4M466.1 1742.3h2.4M470.2 1748.2h2.4M474.4 1756.6h2.4M478.6 1762.6h2.4M482.8 1768.1h2.4M487 1773.9h2.4M491.2 1779.7h2.4M495.3 1782.4h2.4M499.5 1782.9h2.4M503.7 1783.3h2.4M507.9 1783.7h2.4M512.1 1791.4h2.4M516.3 1799.8h2.4M520.5 1808.1h2.4M524.6 1818.2h2.4M528.8 1828.7h2.4M533 1839.1h2.4M537.2 1848.9h2.4M541.4 1858.3h2.4M545.6 1867.7h2.4M549.7 1877.3h2.4M553.9 1887.1h2.4M558.1 1894.1h2.4M562.3 1894.1h2.4M566.5 1845.6h2.4M570.7 1794.5h2.4M574.9 1754.6h2.4M579 1758h2.4M583.2 1761.9h2.4M587.4 1773h2.4M591.6 1784.2h2.4M595.8 1796.4h2.4M600 1808.9h2.4M604.1 1824.4h2.4M608.3 1843.9h2.4M612.5 1863.2h2.4M616.7 1879.9h2.4M620.9 1896.7h2.4M625.1 1907h2.4M629.3 1915.4h2.4M633.4 1923.1h2.4M637.6 1930.1h2.4M641.8 1936.6h2.4M646 1938.7h2.4M650.2 1940.7h2.4M654.4 1940.7h2.4M658.5 1940h2.4M662.7 1936.7h2.4M666.9 1936.8h2.4M671.1 1939.8h2.4M675.3 1941.3h2.4M679.5 1942.9h2.4M683.7 1944.2h2.4M687.8 1933.3h2.4M692 1923.8h2.4M696.2 1928.8h2.4M700.4 1933.9h2.4M704.6 1939.5h2.4M708.8 1945.1h2.4M713 1947.8h2.4M717.1 1949.9h2.4M721.3 1952h2.4M725.5 1953.3h2.4M729.7 1954.4h2.4M733.9 1955.4h2.4M738.1 1955.8h2.4M742.2 1955.8h2.4M746.4 1955.8h2.4M750.6 1956.3h2.4M754.8 1957.4h2.4M759 1958.4h2.4M763.2 1959.5h2.4M767.4 1960.5h2.4M771.5 1961.6h2.4M775.7 1962.5h2.4M779.9 1963h2.4M784.1 1963.5h2.4M788.3 1964h2.4M792.5 1964.5h2.4M796.6 1965.1h2.4M800.8 1965.5h2.4M805 1965.5h2.4M809.2 1965.5h2.4M813.4 1965.5h2.4M817.6 1966.1h2.4M821.8 1966.6h2.4M825.9 1967.1h2.4M830.1 1967.6h2.4M834.3 1968.2h2.4M838.5 1968.7h2.4M842.7 1968.4h2.4M846.9 1967.8h2.4M851 1967.3h2.4M855.2 1967.5h2.4M859.4 1968h2.4M863.6 1968.6h2.4M867.8 1969.4h2.4M872 1970.5h2.4M876.2 1971.5h2.4M880.3 1972.3h2.4M884.5 1972.8h2.4M888.7 1973.3h2.4M892.9 1973.8h2.4M897.1 1974.3h2.4M901.3 1974.8h2.4M905.4 1975.3h2.4M909.6 1975.7h2.4M913.8 1976.2h2.4M918 1976.6h2.4M922.2 1977h2.4M926.4 1977.4h2.4M930.6 1977.8h2.4M934.7 1978.2h2.4M938.9 1978.7h2.4M943.1 1979.1h2.4M947.3 1979.5h2.4M951.5 1979.9h2.4M955.7 1980.3h2.4M959.8 1980.8h2.4M964 1981.2h2.4M968.2 1981.6h2.4M972.4 1982h2.4M976.6 1982.4h2.4M980.8 1982.9h2.4M985 1983.3h2.4M989.1 1983.1h2.4M993.3 1982.7h2.4M997.5 1982.3h2.4M1001.7 1981.8h2.4M1005.9 1982.1h2.4M1010.1 1982.5h2.4M1014.2 1983h2.4M1018.4 1983.4h2.4M1022.6 1983.8h2.4M1026.8 1984.2h2.4M1031 1984.6h2.4M1035.2 1985h2.4M1039.4 1985h2.4M1043.5 1985h2.4M1047.7 1985h2.4M1051.9 1985.2h2.4M1056.1 1986.3h2.4M1060.3 1987.3h2.4M1064.5 1988.2h2.4M1068.6 1987.1h2.4M1072.8 1986.1h2.4M1077 1985h2.4M1081.2 1984.5h2.4M1085.4 1984h2.4M1089.6 1983.5h2.4M1093.8 1983.9h2.4M1097.9 1984.4h2.4M1102.1 1984.9h2.4M1106.3 1984.6h2.4M1110.5 1984.1h2.4M1114.7 1983.6h2.4M1118.9 1982.7h2.4M1123 1981.6h2.4M1127.2 1980.6h2.4M1131.4 1980.5h2.4M1135.6 1981h2.4M1139.8 1981.5h2.4M1144 1981.3h2.4M1148.2 1980.2h2.4M1152.3 1979.2h2.4M1156.5 1978.5h2.4M1160.7 1978.5h2.4M1164.9 1978.5h2.4M1169.1 1978.3h2.4M1173.3 1977.5h2.4M1177.4 1976.6h2.4M1181.6 1975.8h2.4M1185.8 1975.7h2.4M1190 1976.7h2.4M1194.2 1977.8h2.4M1198.4 1979.1h2.4M1202.6 1981.2h2.4M1206.7 1983.3h2.4M1210.9 1984.9h2.4M1215.1 1984.2h2.4M1219.3 1983.5h2.4M1223.5 1978.9h2.4M1227.7 1973h2.4M1231.8 1965.7h2.4M1236 1959.1h2.4M1240.2 1953.5h2.4M1244.4 1950.4h2.4M1248.6 1950.7h2.4M1252.8 1953.4h2.4M1257 1961.8h2.4M1261.1 1967.3h2.4M1265.3 1970.4h2.4M1269.5 1964.8h2.4M1273.7 1959.2h2.4"/>
<polyline fill="none" stroke="#008000" stroke-width="6" stroke-linejoin="round" points="128.3,1888.3 132.5,1884 136.7,1877.7 140.9,1869.2 145,1858.8 149.2,1844.3 153.4,1828.8 157.6,1812 161.8,1790.5 166,1770.1 170.1,1757.7 174.3,1751.4 178.5,1747.2 182.7,1743 186.9,1738.8 191.1,1734.6 195.3,1730.9 199.4,1728.1 203.6,1725.4 207.8,1726.8 212,1728.2 216.2,1731.4 220.4,1734.6 224.5,1730.4 228.7,1729 232.9,1729.7 237.1,1728.4 241.3,1721.1 245.5,1718.9 249.7,1718.9 253.8,1719.4 258,1720.8 262.2,1722.2 266.4,1724.3 270.6,1726.4 274.8,1725.9 278.9,1724.3 283.1,1722.7 287.3,1722.1 291.5,1722.1 295.7,1722.1 299.9,1722.4 304.1,1722.9 308.2,1723.4 312.4,1724.3 316.6,1725.7 320.8,1729.6 325,1749.2 329.2,1742.2 333.3,1735.2 337.5,1733.7 341.7,1732.3 345.9,1731.8 350.1,1729.3 354.3,1704.2 358.5,1687.1 362.6,1688.8 366.8,1694.1 371,1699.7 375.2,1705.3 379.4,1708.7 383.6,1711.8 387.7,1715 391.9,1717.3 396.1,1719.4 400.3,1721.5 404.5,1723.6 408.7,1725.6 412.9,1727.7 417,1729.8 421.2,1731.9 425.4,1733.8 429.6,1735.2 433.8,1736.6 438,1725 442.1,1704.9 446.3,1692.3 450.5,1686.6 454.7,1689.4 458.9,1692.1 463.1,1691.4 467.3,1690.4 471.4,1694.6 475.6,1698.8 479.8,1703 484,1707.1 488.2,1711.3 492.4,1715.5 496.5,1710.7 500.7,1705.6 504.9,1708.9 509.1,1712.1 513.3,1716.2 517.5,1720.4 521.7,1724.6 525.8,1730.4 530,1736.7 534.2,1743 538.4,1748.5 542.6,1753.8 546.8,1759 550.9,1763.9 555.1,1768.7 559.3,1773.5 563.5,1751.7 567.7,1718.3 571.9,1688.4 576.1,1690.5 580.2,1692.6 584.4,1696.4 588.6,1700.6 592.8,1704.8 597,1708 601.2,1710.7 605.3,1715.9 609.5,1724.2 613.7,1732.8 617.9,1743.3 622.1,1753.3 626.3,1763.1 630.5,1773.2 634.6,1784.3 638.8,1795.5 643,1804.2 647.2,1812.5 651.4,1818.6 655.6,1822.8 659.7,1824.8 663.9,1819.5 668.1,1819.8 672.3,1822.5 676.5,1825.3 680.7,1828.1 684.9,1830.3 689,1809.4 693.2,1794.5 697.4,1793.2 701.6,1798.6 705.8,1811.2 710,1823.7 714.2,1835.1 718.3,1846.3 722.5,1856.1 726.7,1864.5 730.9,1871.8 735.1,1873.9 739.3,1876 743.4,1878.2 747.6,1882.4 751.8,1886.5 756,1890.7 760.2,1893.9 764.4,1897 768.6,1900.2 772.7,1902.9 776.9,1905.5 781.1,1908.1 785.3,1910.7 789.5,1913.3 793.7,1916 797.8,1916.9 802,1916.9 806.2,1917.3 810.4,1918.7 814.6,1920.1 818.8,1921.1 823,1922.2 827.1,1923.2 831.3,1924.8 835.5,1926.3 839.7,1927.9 843.9,1927.4 848.1,1926.3 852.2,1925.3 856.4,1925.3 860.6,1925.9 864.8,1926.4 869,1927.2 873.2,1928.3 877.4,1929.3 881.5,1930.6 885.7,1932.2 889.9,1933.7 894.1,1935.1 898.3,1936.1 902.5,1937.1 906.6,1938 910.8,1938.4 915,1938.8 919.2,1939.2 923.4,1939.8 927.6,1940.6 931.8,1941.4 935.9,1942.3 940.1,1943.1 944.3,1943.9 948.5,1944.8 952.7,1945.6 956.9,1946.3 961,1946.7 965.2,1947.1 969.4,1947.5 973.6,1947.9 977.8,1948.4 982,1948.8 986.2,1949.2 990.3,1949.9 994.5,1950.7 998.7,1951.6 1002.9,1952.4 1007.1,1952.2 1011.3,1951.8 1015.4,1951.4 1019.6,1951 1023.8,1952.1 1028,1953.4 1032.2,1954.6 1036.4,1955.8 1040.6,1955.8 1044.7,1955.8 1048.9,1955.8 1053.1,1956.1 1057.3,1957.7 1061.5,1959.2 1065.7,1960.5 1069.8,1959 1074,1957.4 1078.2,1955.8 1082.4,1954.8 1086.6,1953.7 1090.8,1952.7 1095,1953.5 1099.1,1954.5 1103.3,1955.6 1107.5,1955.4 1111.7,1954.9 1115.9,1954.3 1120.1,1951.8 1124.2,1948.3 1128.4,1945.8 1132.6,1945.1 1136.8,1944.4 1141,1943.4 1145.2,1942.3 1149.4,1941.3 1153.5,1940.2 1157.7,1939.2 1161.9,1938.1 1166.1,1938 1170.3,1938 1174.5,1938 1178.6,1936.4 1182.8,1934.4 1187,1933.6 1191.2,1935 1195.4,1936.5 1199.6,1938.6 1203.8,1940.7 1207.9,1942.2 1212.1,1943.6 1216.3,1944 1220.5,1943 1224.7,1935.6 1228.9,1925.3 1233,1910.6 1237.2,1902.3 1241.4,1896.7 1245.6,1893.6 1249.8,1898.7 1254,1908.9 1258.2,1925.6 1262.3,1938.9 1266.5,1949.3 1270.7,1943.7 1274.9,1939.6"/>
<path fill="none" stroke="#c8c8c8" stroke-width="2.4" d="M128.3 1872.2V1904.4M132.5 1867.9V1900.1M136.7 1861.6V1893.8M140.9 1853.1V1885.3M145 1842.7V1874.9M149.2 1828.2V1860.4M153.4 1812.7V1844.9M157.6 1795.9V1828.1M161.8 1774.4V1806.6M166 1754V1786.2M170.1 1741.6V1773.8M174.3 1735.3V1767.5M178.5 1731.1V1763.3M182.7 1726.9V1759.1M186.9 1722.7V1754.9M191.1 1718.5V1750.7M195.3 1714.8V1747M199.4 1712V1744.2M203.6 1709.3V1741.5M207.8 1710.7V1742.9M212 1712V1744.3M216.2 1715.3V1747.5M220.4 1718.5V1750.7M224.5 1714.3V1746.5M228.7 1712.9V1745.1M232.9 1713.6V1745.8M237.1 1712.3V1744.5M241.3 1705V1737.2M245.5 1702.8V1735M249.7 1702.8V1735M253.8 1703.3V1735.5M258 1704.7V1736.9M262.2 1706.1V1738.3M266.4 1708.2V1740.4M270.6 1710.3V1742.5M274.8 1709.8V1742M278.9 1708.2V1740.4M283.1 1706.6V1738.8M287.3 1706V1738.2M291.5 1706V1738.2M295.7 1706V1738.2M299.9 1706.3V1738.5M304.1 1706.8V1739M308.2 1707.3V1739.5M312.4 1708.2V1740.4M316.6 1709.6V1741.8M320.8 1713.5V1745.7M325 1733.1V1765.3M329.2 1726.1V1758.3M333.3 1719.1V1751.3M337.5 1717.6V1749.8M341.7 1716.2V1748.4M345.9 1715.7V1747.9M350.1 1713.2V1745.4M354.3 1688.1V1720.3M358.5 1671V1703.2M362.6 1672.7V1704.9M366.8 1678V1710.2M371 1683.6V1715.8M375.2 1689.2V1721.4M379.4 1692.6V1724.8M383.6 1695.7V1727.9M387.7 1698.9V1731.1M391.9 1701.2V1733.4M396.1 1703.3V1735.5M400.3 1705.4V1737.6M404.5 1707.5V1739.7M408.7 1709.5V1741.8M412.9 1711.6V1743.8M417 1713.7V1745.9M421.2 1715.8V1748M425.4 1717.8V1749.9M429.6 1719.2V1751.2M433.8 1720.7V1752.6M438 1709V1740.9M442.1 1689V1720.8M446.3 1676.5V1708.2M450.5 1670.8V1702.4M454.7 1673.6V1705.1M458.9 1676.4V1707.8M463.1 1675.7V1707M467.3 1674.8V1706M471.4 1679V1710.2M475.6 1683.2V1714.3M479.8 1687.5V1718.4M484 1691.7V1722.6M488.2 1695.9V1726.7M492.4 1700.2V1730.9M496.5 1695.4V1726M500.7 1690.4V1720.9M504.9 1693.6V1724.1M509.1 1696.9V1727.2M513.3 1701.1V1731.3M517.5 1705.3V1735.4M521.7 1709.5V1739.6M525.8 1715.4V1745.4M530 1721.8V1751.6M534.2 1728.1V1757.9M538.4 1733.7V1763.4M542.6 1738.9V1768.6M546.8 1744.2V1773.7M550.9 1749.2V1778.7M555.1 1754.1V1783.4M559.3 1758.9V1788.1M563.5 1737.1V1766.3M567.7 1703.7V1732.8M571.9 1673.9V1702.9M576.1 1676V1704.9M580.2 1678.2V1707M584.4 1682.1V1710.8M588.6 1686.3V1714.9M592.8 1690.7V1718.9M597 1694V1721.9M601.2 1697V1724.5M605.3 1702.3V1729.5M609.5 1710.8V1737.7M613.7 1719.6V1746M617.9 1730.2V1756.3M622.1 1740.5V1766.2M626.3 1750.4V1775.8M630.5 1760.6V1785.7M634.6 1772V1796.7M638.8 1783.3V1807.7M643 1792.2V1816.2M647.2 1800.7V1824.4M651.4 1806.9V1830.2M655.6 1811.3V1834.2M659.7 1813.5V1836M663.9 1808.4V1830.6M668.1 1808.8V1830.7M672.3 1811.8V1833.3M676.5 1814.8V1835.9M680.7 1817.8V1838.5M684.9 1820.1V1840.5M689 1799.3V1819.4M693.2 1784.6V1804.3M697.4 1783.5V1802.9M701.6 1789.1V1808.1M705.8 1801.9V1820.5M710 1814.6V1832.9M714.2 1826.2V1844.1M718.3 1837.5V1855.1M722.5 1847.5V1864.7M726.7 1856V1872.9M730.9 1863.5V1880M735.1 1865.8V1881.9M739.3 1868.1V1883.8M743.4 1870.5V1885.9M747.6 1874.8V1889.9M751.8 1879.2V1893.9M756 1883.6V1897.9M760.2 1886.9V1900.9M764.4 1890.3V1903.8M768.6 1893.6V1906.8M772.7 1896.4V1909.3M776.9 1899.2V1911.8M781.1 1901.8V1914.4M785.3 1904.5V1917M789.5 1907.1V1919.6M793.7 1909.7V1922.2M797.8 1910.6V1923.1M802 1910.6V1923.1M806.2 1911.1V1923.6M810.4 1912.4V1925M814.6 1913.8V1926.4M818.8 1914.9V1927.4M823 1915.9V1928.5M827.1 1917V1929.5M831.3 1918.5V1931M835.5 1920.1V1932.6M839.7 1921.6V1934.2M843.9 1921.1V1933.6M848.1 1920.1V1932.6M852.2 1919V1931.6M856.4 1919.1V1931.6M860.6 1919.6V1932.1M864.8 1920.1V1932.6M869 1920.9V1933.5M873.2 1922V1934.5M877.4 1923V1935.6M881.5 1924.3V1936.9M885.7 1925.9V1938.4M889.9 1927.5V1940M894.1 1928.8V1941.4M898.3 1929.8V1942.3M902.5 1930.8V1943.3M906.6 1931.7V1944.3M910.8 1932.1V1944.7M915 1932.6V1945.1M919.2 1933V1945.5M923.4 1933.5V1946M927.6 1934.3V1946.9M931.8 1935.2V1947.7M935.9 1936V1948.5M940.1 1936.8V1949.4M944.3 1937.7V1950.2M948.5 1938.5V1951M952.7 1939.4V1951.9M956.9 1940V1952.5M961 1940.4V1952.9M965.2 1940.8V1953.4M969.4 1941.3V1953.8M973.6 1941.7V1954.2M977.8 1942.1V1954.6M982 1942.5V1955M986.2 1942.9V1955.5M990.3 1943.6V1956.2M994.5 1944.5V1957M998.7 1945.3V1957.8M1002.9 1946.2V1958.7M1007.1 1945.9V1958.5M1011.3 1945.5V1958.1M1015.4 1945.1V1957.6M1019.6 1944.7V1957.2M1023.8 1945.9V1958.4M1028 1947.1V1959.6M1032.2 1948.4V1960.9M1036.4 1949.5V1962.1M1040.6 1949.5V1962.1M1044.7 1949.5V1962.1M1048.9 1949.5V1962.1M1053.1 1949.8V1962.4M1057.3 1951.4V1963.9M1061.5 1953V1965.5M1065.7 1954.3V1966.8M1069.8 1952.7V1965.2M1074 1951.1V1963.6M1078.2 1949.6V1962.1M1082.4 1948.5V1961M1086.6 1947.5V1960M1090.8 1946.4V1958.9M1095 1947.2V1959.7M1099.1 1948.3V1960.8M1103.3 1949.3V1961.8M1107.5 1949.1V1961.7M1111.7 1948.6V1961.1M1115.9 1948.1V1960.6M1120.1 1945.5V1958.1M1124.2 1942V1954.6M1128.4 1939.6V1952.1M1132.6 1938.9V1951.4M1136.8 1938.2V1950.7M1141 1937.1V1949.6M1145.2 1936.1V1948.6M1149.4 1935V1947.5M1153.5 1934V1946.5M1157.7 1932.9V1945.4M1161.9 1931.9V1944.4M1166.1 1931.7V1944.2M1170.3 1931.7V1944.2M1174.5 1931.7V1944.2M1178.6 1930.2V1942.7M1182.8 1928.1V1940.6M1187 1927.4V1939.9M1191.2 1928.8V1941.3M1195.4 1930.2V1942.7M1199.6 1932.3V1944.8M1203.8 1934.4V1946.9M1207.9 1936V1948.5M1212.1 1937.4V1949.9M1216.3 1937.7V1950.3M1220.5 1936.1V1949.8M1224.7 1928.2V1943M1228.9 1917.3V1933.2M1233 1902.1V1919.1M1237.2 1893.3V1911.4M1241.4 1887.1V1906.3M1245.6 1883.4V1903.8M1249.8 1888V1909.4M1254 1898.5V1919.3M1258.2 1915.5V1935.8M1262.3 1929V1948.7M1266.5 1939.7V1958.8M1270.7 1934.5V1953M1274.9 1930.6V1948.5"/>
<polyline fill="none" stroke="#000" stroke-width="1.4" stroke-linejoin="round" points="128.3,1888.3 132.5,1884 136.7,1877.7 140.9,1869.2 145,1858.8 149.2,1844.3 153.4,1828.8 157.6,1812 161.8,1790.5 166,1770.1 170.1,1757.7 174.3,1751.4 178.5,1747.2 182.7,1743 186.9,1738.8 191.1,1734.6 195.3,1730.9 199.4,1728.1 203.6,1725.4 207.8,1726.8 212,1728.2 216.2,1731.4 220.4,1734.6 224.5,1730.4 228.7,1729 232.9,1729.7 237.1,1728.4 241.3,1721.1 245.5,1718.9 249.7,1718.9 253.8,1719.4 258,1720.8 262.2,1722.2 266.4,1724.3 270.6,1726.4 274.8,1725.9 278.9,1724.3 283.1,1722.7 287.3,1722.1 291.5,1722.1 295.7,1722.1 299.9,1722.4 304.1,1722.9 308.2,1723.4 312.4,1724.3 316.6,1725.7 320.8,1729.6 325,1749.2 329.2,1742.2 333.3,1735.2 337.5,1733.7 341.7,1732.3 345.9,1731.8 350.1,1729.3 354.3,1704.2 358.5,1687.1 362.6,1688.8 366.8,1694.1 371,1699.7 375.2,1705.3 379.4,1708.7 383.6,1711.8 387.7,1715 391.9,1717.3 396.1,1719.4 400.3,1721.5 404.5,1723.6 408.7,1725.6 412.9,1727.7 417,1729.8 421.2,1731.9 425.4,1733.8 429.6,1735.2 433.8,1736.6 438,1725 442.1,1704.9 446.3,1692.3 450.5,1686.6 454.7,1689.4 458.9,1692.1 463.1,1691.4 467.3,1690.4 471.4,1694.6 475.6,1698.8 479.8,1703 484,1707.1 488.2,1711.3 492.4,1715.5 496.5,1710.7 500.7,1705.6 504.9,1708.9 509.1,1712.1 513.3,1716.2 517.5,1720.4 521.7,1724.6 525.8,1730.4 530,1736.7 534.2,1743 538.4,1748.5 542.6,1753.8 546.8,1759 550.9,1763.9 555.1,1768.7 559.3,1773.5 563.5,1751.7 567.7,1718.3 571.9,1688.4 576.1,1690.5 580.2,1692.6 584.4,1696.4 588.6,1700.6 592.8,1704.8 597,1708 601.2,1710.7 605.3,1715.9 609.5,1724.2 613.7,1732.8 617.9,1743.3 622.1,1753.3 626.3,1763.1 630.5,1773.2 634.6,1784.3 638.8,1795.5 643,1804.2 647.2,1812.5 651.4,1818.6 655.6,1822.8 659.7,1824.8 663.9,1819.5 668.1,1819.8 672.3,1822.5 676.5,1825.3 680.7,1828.1 684.9,1830.3 689,1809.4 693.2,1794.5 697.4,1793.2 701.6,1798.6 705.8,1811.2 710,1823.7 714.2,1835.1 718.3,1846.3 722.5,1856.1 726.7,1864.5 730.9,1871.8 735.1,1873.9 739.3,1876 743.4,1878.2 747.6,1882.4 751.8,1886.5 756,1890.7 760.2,1893.9 764.4,1897 768.6,1900.2 772.7,1902.9 776.9,1905.5 781.1,1908.1 785.3,1910.7 789.5,1913.3 793.7,1916 797.8,1916.9 802,1916.9 806.2,1917.3 810.4,1918.7 814.6,1920.1 818.8,1921.1 823,1922.2 827.1,1923.2 831.3,1924.8 835.5,1926.3 839.7,1927.9 843.9,1927.4 848.1,1926.3 852.2,1925.3 856.4,1925.3 860.6,1925.9 864.8,1926.4 869,1927.2 873.2,1928.3 877.4,1929.3 881.5,1930.6 885.7,1932.2 889.9,1933.7 894.1,1935.1 898.3,1936.1 902.5,1937.1 906.6,1938 910.8,1938.4 915,1938.8 919.2,1939.2 923.4,1939.8 927.6,1940.6 931.8,1941.4 935.9,1942.3 940.1,1943.1 944.3,1943.9 948.5,1944.8 952.7,1945.6 956.9,1946.3 961,1946.7 965.2,1947.1 969.4,1947.5 973.6,1947.9 977.8,1948.4 982,1948.8 986.2,1949.2 990.3,1949.9 994.5,1950.7 998.7,1951.6 1002.9,1952.4 1007.1,1952.2 1011.3,1951.8 1015.4,1951.4 1019.6,1951 1023.8,1952.1 1028,1953.4 1032.2,1954.6 1036.4,1955.8 1040.6,1955.8 1044.7,1955.8 1048.9,1955.8 1053.1,1956.1 1057.3,1957.7 1061.5,1959.2 1065.7,1960.5 1069.8,1959 1074,1957.4 1078.2,1955.8 1082.4,1954.8 1086.6,1953.7 1090.8,1952.7 1095,1953.5 1099.1,1954.5 1103.3,1955.6 1107.5,1955.4 1111.7,1954.9 1115.9,1954.3 1120.1,1951.8 1124.2,1948.3 1128.4,1945.8 1132.6,1945.1 1136.8,1944.4 1141,1943.4 1145.2,1942.3 1149.4,1941.3 1153.5,1940.2 1157.7,1939.2 1161.9,1938.1 1166.1,1938 1170.3,1938 1174.5,1938 1178.6,1936.4 1182.8,1934.4 1187,1933.6 1191.2,1935 1195.4,1936.5 1199.6,1938.6 1203.8,1940.7 1207.9,1942.2 1212.1,1943.6 1216.3,1944 1220.5,1943 1224.7,1935.6 1228.9,1925.3 1233,1910.6 1237.2,1902.3 1241.4,1896.7 1245.6,1893.6 1249.8,1898.7 1254,1908.9 1258.2,1925.6 1262.3,1938.9 1266.5,1949.3 1270.7,1943.7 1274.9,1939.6"/><path fill="none" stroke="#000" stroke-width="2.4" d="M127.1 1888.3h2.4M131.3 1884h2.4M135.5 1877.7h2.4M139.7 1869.2h2.4M143.8 1858.8h2.4M148 1844.3h2.4M152.2 1828.8h2.4M156.4 1812h2.4M160.6 1790.5h2.4M164.8 1770.1h2.4M168.9 1757.7h2.4M173.1 1751.4h2.4M177.3 1747.2h2.4M181.5 1743h2.4M185.7 1738.8h2.4M189.9 1734.6h2.4M194.1 1730.9h2.4M198.2 1728.1h2.4M202.4 1725.4h2.4M206.6 1726.8h2.4M210.8 1728.2h2.4M215 1731.4h2.4M219.2 1734.6h2.4M223.3 1730.4h2.4M227.5 1729h2.4M231.7 1729.7h2.4M235.9 1728.4h2.4M240.1 1721.1h2.4M244.3 1718.9h2.4M248.5 1718.9h2.4M252.6 1719.4h2.4M256.8 1720.8h2.4M261 1722.2h2.4M265.2 1724.3h2.4M269.4 1726.4h2.4M273.6 1725.9h2.4M277.7 1724.3h2.4M281.9 1722.7h2.4M286.1 1722.1h2.4M290.3 1722.1h2.4M294.5 1722.1h2.4M298.7 1722.4h2.4M302.9 1722.9h2.4M307 1723.4h2.4M311.2 1724.3h2.4M315.4 1725.7h2.4M319.6 1729.6h2.4M323.8 1749.2h2.4M328 1742.2h2.4M332.1 1735.2h2.4M336.3 1733.7h2.4M340.5 1732.3h2.4M344.7 1731.8h2.4M348.9 1729.3h2.4M353.1 1704.2h2.4M357.3 1687.1h2.4M361.4 1688.8h2.4M365.6 1694.1h2.4M369.8 1699.7h2.4M374 1705.3h2.4M378.2 1708.7h2.4M382.4 1711.8h2.4M386.5 1715h2.4M390.7 1717.3h2.4M394.9 1719.4h2.4M399.1 1721.5h2.4M403.3 1723.6h2.4M407.5 1725.6h2.4M411.7 1727.7h2.4M415.8 1729.8h2.4M420 1731.9h2.4M424.2 1733.8h2.4M428.4 1735.2h2.4M432.6 1736.6h2.4M436.8 1725h2.4M440.9 1704.9h2.4M445.1 1692.3h2.4M449.3 1686.6h2.4M453.5 1689.4h2.4M457.7 1692.1h2.4M461.9 1691.4h2.4M466.1 1690.4h2.4M470.2 1694.6h2.4M474.4 1698.8h2.4M478.6 1703h2.4M482.8 1707.1h2.4M487 1711.3h2.4M491.2 1715.5h2.4M495.3 1710.7h2.4M499.5 1705.6h2.4M503.7 1708.9h2.4M507.9 1712.1h2.4M512.1 1716.2h2.4M516.3 1720.4h2.4M520.5 1724.6h2.4M524.6 1730.4h2.4M528.8 1736.7h2.4M533 1743h2.4M537.2 1748.5h2.4M541.4 1753.8h2.4M545.6 1759h2.4M549.7 1763.9h2.4M553.9 1768.7h2.4M558.1 1773.5h2.4M562.3 1751.7h2.4M566.5 1718.3h2.4M570.7 1688.4h2.4M574.9 1690.5h2.4M579 1692.6h2.4M583.2 1696.4h2.4M587.4 1700.6h2.4M591.6 1704.8h2.4M595.8 1708h2.4M600 1710.7h2.4M604.1 1715.9h2.4M608.3 1724.2h2.4M612.5 1732.8h2.4M616.7 1743.3h2.4M620.9 1753.3h2.4M625.1 1763.1h2.4M629.3 1773.2h2.4M633.4 1784.3h2.4M637.6 1795.5h2.4M641.8 1804.2h2.4M646 1812.5h2.4M650.2 1818.6h2.4M654.4 1822.8h2.4M658.5 1824.8h2.4M662.7 1819.5h2.4M666.9 1819.8h2.4M671.1 1822.5h2.4M675.3 1825.3h2.4M679.5 1828.1h2.4M683.7 1830.3h2.4M687.8 1809.4h2.4M692 1794.5h2.4M696.2 1793.2h2.4M700.4 1798.6h2.4M704.6 1811.2h2.4M708.8 1823.7h2.4M713 1835.1h2.4M717.1 1846.3h2.4M721.3 1856.1h2.4M725.5 1864.5h2.4M729.7 1871.8h2.4M733.9 1873.9h2.4M738.1 1876h2.4M742.2 1878.2h2.4M746.4 1882.4h2.4M750.6 1886.5h2.4M754.8 1890.7h2.4M759 1893.9h2.4M763.2 1897h2.4M767.4 1900.2h2.4M771.5 1902.9h2.4M775.7 1905.5h2.4M779.9 1908.1h2.4M784.1 1910.7h2.4M788.3 1913.3h2.4M792.5 1916h2.4M796.6 1916.9h2.4M800.8 1916.9h2.4M805 1917.3h2.4M809.2 1918.7h2.4M813.4 1920.1h2.4M817.6 1921.1h2.4M821.8 1922.2h2.4M825.9 1923.2h2.4M830.1 1924.8h2.4M834.3 1926.3h2.4M838.5 1927.9h2.4M842.7 1927.4h2.4M846.9 1926.3h2.4M851 1925.3h2.4M855.2 1925.3h2.4M859.4 1925.9h2.4M863.6 1926.4h2.4M867.8 1927.2h2.4M872 1928.3h2.4M876.2 1929.3h2.4M880.3 1930.6h2.4M884.5 1932.2h2.4M888.7 1933.7h2.4M892.9 1935.1h2.4M897.1 1936.1h2.4M901.3 1937.1h2.4M905.4 1938h2.4M909.6 1938.4h2.4M913.8 1938.8h2.4M918 1939.2h2.4M922.2 1939.8h2.4M926.4 1940.6h2.4M930.6 1941.4h2.4M934.7 1942.3h2.4M938.9 1943.1h2.4M943.1 1943.9h2.4M947.3 1944.8h2.4M951.5 1945.6h2.4M955.7 1946.3h2.4M959.8 1946.7h2.4M964 1947.1h2.4M968.2 1947.5h2.4M972.4 1947.9h2.4M976.6 1948.4h2.4M980.8 1948.8h2.4M985 1949.2h2.4M989.1 1949.9h2.4M993.3 1950.7h2.4M997.5 1951.6h2.4M1001.7 1952.4h2.4M1005.9 1952.2h2.4M1010.1 1951.8h2.4M1014.2 1951.4h2.4M1018.4 1951h2.4M1022.6 1952.1h2.4M1026.8 1953.4h2.4M1031 1954.6h2.4M1035.2 1955.8h2.4M1039.4 1955.8h2.4M1043.5 1955.8h2.4M1047.7 1955.8h2.4M1051.9 1956.1h2.4M1056.1 1957.7h2.4M1060.3 1959.2h2.4M1064.5 1960.5h2.4M1068.6 1959h2.4M1072.8 1957.4h2.4M1077 1955.8h2.4M1081.2 1954.8h2.4M1085.4 1953.7h2.4M1089.6 1952.7h2.4M1093.8 1953.5h2.4M1097.9 1954.5h2.4M1102.1 1955.6h2.4M1106.3 1955.4h2.4M1110.5 1954.9h2.4M1114.7 1954.3h2.4M1118.9 1951.8h2.4M1123 1948.3h2.4M1127.2 1945.8h2.4M1131.4 1945.1h2.4M1135.6 1944.4h2.4M1139.8 1943.4h2.4M1144 1942.3h2.4M1148.2 1941.3h2.4M1152.3 1940.2h2.4M1156.5 1939.2h2.4M1160.7 1938.1h2.4M1164.9 1938h2.4M1169.1 1938h2.4M1173.3 1938h2.4M1177.4 1936.4h2.4M1181.6 1934.4h2.4M1185.8 1933.6h2.4M1190 1935h2.4M1194.2 1936.5h2.4M1198.4 1938.6h2.4M1202.6 1940.7h2.4M1206.7 1942.2h2.4M1210.9 1943.6h2.4M1215.1 1944h2.4M1219.3 1943h2.4M1223.5 1935.6h2.4M1227.7 1925.3h2.4M1231.8 1910.6h2.4M1236 1902.3h2.4M1240.2 1896.7h2.4M1244.4 1893.6h2.4M1248.6 1898.7h2.4M1252.8 1908.9h2.4M1257 1925.6h2.4M1261.1 1938.9h2.4M1265.3 1949.3h2.4M1269.5 1943.7h2.4M1273.7 1939.6h2.4"/>
<polyline fill="none" stroke="#0000ff" stroke-width="6" stroke-linejoin="round" points="128.3,1822.7 132.5,1815.5 136.7,1805.1 140.9,1791.3 145,1777.1 149.2,1768.6 153.4,1765.4 157.6,1757.2 161.8,1744.3 166,1742.3 170.1,1745.7 174.3,1751.2 178.5,1756.5 182.7,1757.9 186.9,1759.3 191.1,1760.4 195.3,1761.4 199.4,1762.5 203.6,1763.8 207.8,1765.2 212,1767.8 216.2,1772 220.4,1773.2 224.5,1771.5 228.7,1768.4 232.9,1763.9 237.1,1749.3 241.3,1742.2 245.5,1743.6 249.7,1745.1 253.8,1746.6 258,1748.2 262.2,1749.5 266.4,1745.3 270.6,1741.5 274.8,1738 278.9,1735.1 283.1,1735.1 287.3,1735.1 291.5,1744.9 295.7,1745.4 299.9,1745.9 304.1,1746.4 308.2,1747 312.4,1747.5 316.6,1748 320.8,1727.2 325,1755.6 329.2,1762.1 333.3,1761.5 337.5,1761.1 341.7,1761.1 345.9,1761.1 350.1,1758.5 354.3,1733.4 358.5,1707 362.6,1705.1 366.8,1710.7 371,1717.7 375.2,1724.6 379.4,1729.1 383.6,1733.3 387.7,1737.5 391.9,1740.8 396.1,1744 400.3,1747.1 404.5,1749.5 408.7,1751.6 412.9,1753.7 417,1756.2 421.2,1759 425.4,1761.4 429.6,1762.8 433.8,1764.2 438,1753.9 442.1,1734.1 446.3,1716.4 450.5,1702.9 454.7,1707.1 458.9,1711.2 463.1,1709.9 467.3,1706.6 471.4,1709.9 475.6,1714.9 479.8,1720.4 484,1726 488.2,1733.4 492.4,1742.6 496.5,1739.1 500.7,1734 504.9,1739.2 509.1,1744.4 513.3,1749.6 517.5,1754.8 521.7,1760.1 525.8,1767 530,1774.3 534.2,1781.6 538.4,1788.9 542.6,1796.3 546.8,1803.6 550.9,1811.6 555.1,1819.9 559.3,1828.3 563.5,1831 567.7,1777.8 571.9,1733.1 576.1,1712.4 580.2,1715.8 584.4,1719.5 588.6,1727.8 592.8,1736.2 597,1742.5 601.2,1748.1 605.3,1757.1 609.5,1771.1 613.7,1785 617.9,1799 622.1,1812.9 626.3,1824.8 630.5,1835.9 634.6,1846.5 638.8,1856.2 643,1865.5 647.2,1871.1 651.4,1876.7 655.6,1878.7 659.7,1876.6 663.9,1865.2 668.1,1868.5 672.3,1871.9 676.5,1875.5 680.7,1879.2 684.9,1882 689,1851.6 693.2,1837.7 697.4,1841.9 701.6,1853.8 705.8,1866.4 710,1878.9 714.2,1891.3 718.3,1899.6 722.5,1908 726.7,1911.9 730.9,1914 735.1,1916.1 739.3,1918.1 743.4,1920.2 747.6,1922.3 751.8,1924.4 756,1926.5 760.2,1928.6 764.4,1930.3 768.6,1931.3 772.7,1932.4 776.9,1933.4 781.1,1934.5 785.3,1935.5 789.5,1936.6 793.7,1938 797.8,1939.4 802,1932.2 806.2,1931.6 810.4,1933.9 814.6,1936.3 818.8,1937.9 823,1939.5 827.1,1941 831.3,1942.6 835.5,1944.2 839.7,1945.7 843.9,1945.2 848.1,1944.2 852.2,1943.1 856.4,1943.2 860.6,1943.7 864.8,1944.2 869,1945.1 873.2,1946.1 877.4,1947.2 881.5,1947.9 885.7,1948.5 889.9,1949 894.1,1949.7 898.3,1950.7 902.5,1951.7 906.6,1952.6 910.8,1953 915,1953.4 919.2,1953.9 923.4,1954.4 927.6,1955.2 931.8,1956 935.9,1956.9 940.1,1957.6 944.3,1958 948.5,1958.4 952.7,1958.8 956.9,1959.2 961,1959.7 965.2,1960.1 969.4,1960.5 973.6,1961.2 977.8,1962 982,1962.8 986.2,1963.7 990.3,1964.2 994.5,1964.6 998.7,1965.1 1002.9,1965.5 1007.1,1965.2 1011.3,1964.8 1015.4,1964.4 1019.6,1963.9 1023.8,1964.7 1028,1965.6 1032.2,1966.4 1036.4,1967.2 1040.6,1967.2 1044.7,1967.2 1048.9,1967.2 1053.1,1967.5 1057.3,1969 1061.5,1970.6 1065.7,1971.9 1069.8,1970.9 1074,1969.8 1078.2,1968.8 1082.4,1967.8 1086.6,1966.7 1090.8,1965.7 1095,1966 1099.1,1966.5 1103.3,1967.1 1107.5,1966.8 1111.7,1966.2 1115.9,1965.7 1120.1,1964.8 1124.2,1963.8 1128.4,1962.7 1132.6,1962.9 1136.8,1963.9 1141,1965 1145.2,1964.8 1149.4,1963.2 1153.5,1961.7 1157.7,1960.5 1161.9,1960 1166.1,1959.4 1170.3,1958.7 1174.5,1957.5 1178.6,1956.2 1182.8,1954.9 1187,1954.6 1191.2,1955.6 1195.4,1956.7 1199.6,1957.9 1203.8,1959.5 1207.9,1961 1212.1,1962.4 1216.3,1963.1 1220.5,1963.8 1224.7,1955.8 1228.9,1946.1 1233,1935.6 1237.2,1928.3 1241.4,1922.7 1245.6,1919.6 1249.8,1918.9 1254,1919.6 1258.2,1921.5 1262.3,1925.7 1266.5,1932 1270.7,1929.6 1274.9,1924"/>
<path fill="none" stroke="#c8c8c8" stroke-width="2.4" d="M128.3 1806.6V1838.8M132.5 1799.4V1831.6M136.7 1788.9V1821.2M140.9 1775.2V1807.4M145 1761V1793.2M149.2 1752.5V1784.7M153.4 1749.3V1781.5M157.6 1741.1V1773.3M161.8 1728.2V1760.4M166 1726.2V1758.4M170.1 1729.6V1761.8M174.3 1735.1V1767.3M178.5 1740.4V1772.6M182.7 1741.8V1774M186.9 1743.2V1775.4M191.1 1744.3V1776.5M195.3 1745.3V1777.5M199.4 1746.3V1778.6M203.6 1747.7V1779.9M207.8 1749.1V1781.3M212 1751.7V1783.9M216.2 1755.9V1788.1M220.4 1757.1V1789.3M224.5 1755.4V1787.6M228.7 1752.3V1784.5M232.9 1747.8V1780M237.1 1733.2V1765.4M241.3 1726.1V1758.3M245.5 1727.5V1759.7M249.7 1729V1761.2M253.8 1730.5V1762.7M258 1732.1V1764.3M262.2 1733.4V1765.6M266.4 1729.2V1761.4M270.6 1725.4V1757.6M274.8 1721.9V1754.1M278.9 1719V1751.2M283.1 1719V1751.2M287.3 1719V1751.2M291.5 1728.8V1761M295.7 1729.3V1761.5M299.9 1729.8V1762M304.1 1730.3V1762.5M308.2 1730.9V1763.1M312.4 1731.4V1763.6M316.6 1731.9V1764.1M320.8 1711V1743.3M325 1739.5V1771.7M329.2 1746V1778.2M333.3 1745.4V1777.6M337.5 1745V1777.2M341.7 1745V1777.2M345.9 1745V1777.2M350.1 1742.4V1774.6M354.3 1717.3V1749.5M358.5 1690.9V1723.1M362.6 1689V1721.2M366.8 1694.6V1726.8M371 1701.6V1733.8M375.2 1708.5V1740.7M379.4 1713V1745.2M383.6 1717.2V1749.4M387.7 1721.4V1753.6M391.9 1724.7V1756.9M396.1 1727.9V1760.1M400.3 1731V1763.2M404.5 1733.4V1765.6M408.7 1735.5V1767.7M412.9 1737.6V1769.8M417 1740.1V1772.3M421.2 1742.9V1775.1M425.4 1745.3V1777.5M429.6 1746.7V1778.9M433.8 1748.1V1780.3M438 1737.8V1770M442.1 1718V1750.2M446.3 1700.3V1732.5M450.5 1686.8V1719M454.7 1691V1723.2M458.9 1695.1V1727.3M463.1 1693.8V1726M467.3 1690.5V1722.7M471.4 1693.8V1726M475.6 1698.8V1731M479.8 1704.3V1736.5M484 1709.8V1742.1M488.2 1717.3V1749.5M492.4 1726.5V1758.7M496.5 1723V1755.2M500.7 1717.9V1750.1M504.9 1723.1V1755.3M509.1 1728.3V1760.5M513.3 1733.5V1765.7M517.5 1738.7V1770.9M521.7 1744V1776.2M525.8 1750.9V1783.1M530 1758.2V1790.4M534.2 1765.5V1797.7M538.4 1772.8V1805.1M542.6 1780.2V1812.4M546.8 1787.5V1819.7M550.9 1795.4V1827.7M555.1 1803.8V1836M559.3 1812.2V1844.4M563.5 1814.9V1847.1M567.7 1761.7V1793.9M571.9 1717V1749.2M576.1 1696.3V1728.5M580.2 1699.7V1731.9M584.4 1703.4V1735.6M588.6 1711.7V1743.9M592.8 1720.3V1752.1M597 1726.7V1758.2M601.2 1732.5V1763.6M605.3 1741.8V1772.5M609.5 1755.9V1786.3M613.7 1770V1800.1M617.9 1784.1V1813.8M622.1 1798.3V1827.6M626.3 1810.3V1839.3M630.5 1821.6V1850.2M634.6 1832.3V1860.6M638.8 1842.3V1870.2M643 1851.8V1879.3M647.2 1857.5V1884.7M651.4 1863.3V1890.1M655.6 1865.5V1892M659.7 1863.6V1889.7M663.9 1852.3V1878M668.1 1855.8V1881.2M672.3 1859.4V1884.4M676.5 1863.2V1887.9M680.7 1867V1891.4M684.9 1870V1893.9M689 1839.8V1863.4M693.2 1826.1V1849.3M697.4 1830.4V1853.3M701.6 1842.5V1865.1M705.8 1855.3V1877.5M710 1868V1889.8M714.2 1880.5V1902M718.3 1889V1910.3M722.5 1897.5V1918.6M726.7 1901.4V1922.3M730.9 1903.6V1924.3M735.1 1905.8V1926.3M739.3 1907.9V1928.3M743.4 1910.1V1930.3M747.6 1912.3V1932.3M751.8 1914.5V1934.4M756 1916.7V1936.4M760.2 1918.9V1938.4M764.4 1920.6V1939.9M768.6 1921.7V1940.9M772.7 1922.9V1941.8M776.9 1924V1942.8M781.1 1925.1V1943.8M785.3 1926.3V1944.7M789.5 1927.5V1945.7M793.7 1929V1947M797.8 1930.5V1948.4M802 1923.3V1941.2M806.2 1922.6V1940.5M810.4 1925V1942.9M814.6 1927.4V1945.3M818.8 1929V1946.8M823 1930.5V1948.4M827.1 1932.1V1950M831.3 1933.7V1951.6M835.5 1935.2V1953.1M839.7 1936.8V1954.7M843.9 1936.3V1954.2M848.1 1935.2V1953.1M852.2 1934.2V1952.1M856.4 1934.2V1952.1M860.6 1934.8V1952.7M864.8 1935.3V1953.2M869 1936.1V1954M873.2 1937.2V1955.1M877.4 1938.2V1956.1M881.5 1939V1956.9M885.7 1939.5V1957.4M889.9 1940V1957.9M894.1 1940.7V1958.6M898.3 1941.7V1959.6M902.5 1942.7V1960.6M906.6 1943.7V1961.5M910.8 1944.1V1962M915 1944.5V1962.4M919.2 1944.9V1962.8M923.4 1945.4V1963.3M927.6 1946.3V1964.1M931.8 1947.1V1965M935.9 1947.9V1965.8M940.1 1948.6V1966.5M944.3 1949V1966.9M948.5 1949.5V1967.4M952.7 1949.9V1967.8M956.9 1950.3V1968.2M961 1950.7V1968.6M965.2 1951.1V1969M969.4 1951.6V1969.4M973.6 1952.2V1970.1M977.8 1953.1V1970.9M982 1953.9V1971.8M986.2 1954.7V1972.6M990.3 1955.3V1973.2M994.5 1955.7V1973.6M998.7 1956.1V1974M1002.9 1956.5V1974.4M1007.1 1956.2V1974.1M1011.3 1955.8V1973.7M1015.4 1955.4V1973.3M1019.6 1955V1972.9M1023.8 1955.8V1973.7M1028 1956.6V1974.5M1032.2 1957.4V1975.3M1036.4 1958.2V1976.1M1040.6 1958.2V1976.1M1044.7 1958.2V1976.1M1048.9 1958.2V1976.1M1053.1 1958.5V1976.4M1057.3 1960.1V1978M1061.5 1961.7V1979.6M1065.7 1963V1980.9M1069.8 1961.9V1979.8M1074 1960.9V1978.8M1078.2 1959.9V1977.7M1082.4 1958.8V1976.7M1086.6 1957.8V1975.7M1090.8 1956.7V1974.6M1095 1957.1V1975M1099.1 1957.6V1975.5M1103.3 1958.1V1976M1107.5 1957.8V1975.7M1111.7 1957.3V1975.2M1115.9 1956.8V1974.7M1120.1 1955.9V1973.8M1124.2 1954.8V1972.7M1128.4 1953.8V1971.7M1132.6 1954V1971.8M1136.8 1955V1972.9M1141 1956V1973.9M1145.2 1955.8V1973.7M1149.4 1954.3V1972.2M1153.5 1952.7V1970.6M1157.7 1951.5V1969.4M1161.9 1951V1968.9M1166.1 1950.5V1968.4M1170.3 1949.8V1967.7M1174.5 1948.5V1966.4M1178.6 1947.3V1965.1M1182.8 1946V1963.9M1187 1945.6V1963.5M1191.2 1946.7V1964.6M1195.4 1947.7V1965.6M1199.6 1948.9V1966.8M1203.8 1950.5V1968.4M1207.9 1952.1V1970M1212.1 1953.5V1971.4M1216.3 1954.2V1972.1M1220.5 1954.9V1972.8M1224.7 1946.8V1964.7M1228.9 1937.1V1955M1233 1926.6V1944.5M1237.2 1919.4V1937.3M1241.4 1913.7V1931.6M1245.6 1910.6V1928.5M1249.8 1910V1927.9M1254 1910.7V1928.6M1258.2 1912.5V1930.4M1262.3 1916.7V1934.6M1266.5 1923.1V1941M1270.7 1920.6V1938.5M1274.9 1915.1V1933"/>
<polyline fill="none" stroke="#000" stroke-width="1.4" stroke-linejoin="round" points="128.3,1822.7 132.5,1815.5 136.7,1805.1 140.9,1791.3 145,1777.1 149.2,1768.6 153.4,1765.4 157.6,1757.2 161.8,1744.3 166,1742.3 170.1,1745.7 174.3,1751.2 178.5,1756.5 182.7,1757.9 186.9,1759.3 191.1,1760.4 195.3,1761.4 199.4,1762.5 203.6,1763.8 207.8,1765.2 212,1767.8 216.2,1772 220.4,1773.2 224.5,1771.5 228.7,1768.4 232.9,1763.9 237.1,1749.3 241.3,1742.2 245.5,1743.6 249.7,1745.1 253.8,1746.6 258,1748.2 262.2,1749.5 266.4,1745.3 270.6,1741.5 274.8,1738 278.9,1735.1 283.1,1735.1 287.3,1735.1 291.5,1744.9 295.7,1745.4 299.9,1745.9 304.1,1746.4 308.2,1747 312.4,1747.5 316.6,1748 320.8,1727.2 325,1755.6 329.2,1762.1 333.3,1761.5 337.5,1761.1 341.7,1761.1 345.9,1761.1 350.1,1758.5 354.3,1733.4 358.5,1707 362.6,1705.1 366.8,1710.7 371,1717.7 375.2,1724.6 379.4,1729.1 383.6,1733.3 387.7,1737.5 391.9,1740.8 396.1,1744 400.3,1747.1 404.5,1749.5 408.7,1751.6 412.9,1753.7 417,1756.2 421.2,1759 425.4,1761.4 429.6,1762.8 433.8,1764.2 438,1753.9 442.1,1734.1 446.3,1716.4 450.5,1702.9 454.7,1707.1 458.9,1711.2 463.1,1709.9 467.3,1706.6 471.4,1709.9 475.6,1714.9 479.8,1720.4 484,1726 488.2,1733.4 492.4,1742.6 496.5,1739.1 500.7,1734 504.9,1739.2 509.1,1744.4 513.3,1749.6 517.5,1754.8 521.7,1760.1 525.8,1767 530,1774.3 534.2,1781.6 538.4,1788.9 542.6,1796.3 546.8,1803.6 550.9,1811.6 555.1,1819.9 559.3,1828.3 563.5,1831 567.7,1777.8 571.9,1733.1 576.1,1712.4 580.2,1715.8 584.4,1719.5 588.6,1727.8 592.8,1736.2 597,1742.5 601.2,1748.1 605.3,1757.1 609.5,1771.1 613.7,1785 617.9,1799 622.1,1812.9 626.3,1824.8 630.5,1835.9 634.6,1846.5 638.8,1856.2 643,1865.5 647.2,1871.1 651.4,1876.7 655.6,1878.7 659.7,1876.6 663.9,1865.2 668.1,1868.5 672.3,1871.9 676.5,1875.5 680.7,1879.2 684.9,1882 689,1851.6 693.2,1837.7 697.4,1841.9 701.6,1853.8 705.8,1866.4 710,1878.9 714.2,1891.3 718.3,1899.6 722.5,1908 726.7,1911.9 730.9,1914 735.1,1916.1 739.3,1918.1 743.4,1920.2 747.6,1922.3 751.8,1924.4 756,1926.5 760.2,1928.6 764.4,1930.3 768.6,1931.3 772.7,1932.4 776.9,1933.4 781.1,1934.5 785.3,1935.5 789.5,1936.6 793.7,1938 797.8,1939.4 802,1932.2 806.2,1931.6 810.4,1933.9 814.6,1936.3 818.8,1937.9 823,1939.5 827.1,1941 831.3,1942.6 835.5,1944.2 839.7,1945.7 843.9,1945.2 848.1,1944.2 852.2,1943.1 856.4,1943.2 860.6,1943.7 864.8,1944.2 869,1945.1 873.2,1946.1 877.4,1947.2 881.5,1947.9 885.7,1948.5 889.9,1949 894.1,1949.7 898.3,1950.7 902.5,1951.7 906.6,1952.6 910.8,1953 915,1953.4 919.2,1953.9 923.4,1954.4 927.6,1955.2 931.8,1956 935.9,1956.9 940.1,1957.6 944.3,1958 948.5,1958.4 952.7,1958.8 956.9,1959.2 961,1959.7 965.2,1960.1 969.4,1960.5 973.6,1961.2 977.8,1962 982,1962.8 986.2,1963.7 990.3,1964.2 994.5,1964.6 998.7,1965.1 1002.9,1965.5 1007.1,1965.2 1011.3,1964.8 1015.4,1964.4 1019.6,1963.9 1023.8,1964.7 1028,1965.6 1032.2,1966.4 1036.4,1967.2 1040.6,1967.2 1044.7,1967.2 1048.9,1967.2 1053.1,1967.5 1057.3,1969 1061.5,1970.6 1065.7,1971.9 1069.8,1970.9 1074,1969.8 1078.2,1968.8 1082.4,1967.8 1086.6,1966.7 1090.8,1965.7 1095,1966 1099.1,1966.5 1103.3,1967.1 1107.5,1966.8 1111.7,1966.2 1115.9,1965.7 1120.1,1964.8 1124.2,1963.8 1128.4,1962.7 1132.6,1962.9 1136.8,1963.9 1141,1965 1145.2,1964.8 1149.4,1963.2 1153.5,1961.7 1157.7,1960.5 1161.9,1960 1166.1,1959.4 1170.3,1958.7 1174.5,1957.5 1178.6,1956.2 1182.8,1954.9 1187,1954.6 1191.2,1955.6 1195.4,1956.7 1199.6,1957.9 1203.8,1959.5 1207.9,1961 1212.1,1962.4 1216.3,1963.1 1220.5,1963.8 1224.7,1955.8 1228.9,1946.1 1233,1935.6 1237.2,1928.3 1241.4,1922.7 1245.6,1919.6 1249.8,1918.9 1254,1919.6 1258.2,1921.5 1262.3,1925.7 1266.5,1932 1270.7,1929.6 1274.9,1924"/><path fill="none" stroke="#000" stroke-width="2.4" d="M127.1 1822.7h2.4M131.3 1815.5h2.4M135.5 1805.1h2.4M139.7 1791.3h2.4M143.8 1777.1h2.4M148 1768.6h2.4M152.2 1765.4h2.4M156.4 1757.2h2.4M160.6 1744.3h2.4M164.8 1742.3h2.4M168.9 1745.7h2.4M173.1 1751.2h2.4M177.3 1756.5h2.4M181.5 1757.9h2.4M185.7 1759.3h2.4M189.9 1760.4h2.4M194.1 1761.4h2.4M198.2 1762.5h2.4M202.4 1763.8h2.4M206.6 1765.2h2.4M210.8 1767.8h2.4M215 1772h2.4M219.2 1773.2h2.4M223.3 1771.5h2.4M227.5 1768.4h2.4M231.7 1763.9h2.4M235.9 1749.3h2.4M240.1 1742.2h2.4M244.3 1743.6h2.4M248.5 1745.1h2.4M252.6 1746.6h2.4M256.8 1748.2h2.4M261 1749.5h2.4M265.2 1745.3h2.4M269.4 1741.5h2.4M273.6 1738h2.4M277.7 1735.1h2.4M281.9 1735.1h2.4M286.1 1735.1h2.4M290.3 1744.9h2.4M294.5 1745.4h2.4M298.7 1745.9h2.4M302.9 1746.4h2.4M307 1747h2.4M311.2 1747.5h2.4M315.4 1748h2.4M319.6 1727.2h2.4M323.8 1755.6h2.4M328 1762.1h2.4M332.1 1761.5h2.4M336.3 1761.1h2.4M340.5 1761.1h2.4M344.7 1761.1h2.4M348.9 1758.5h2.4M353.1 1733.4h2.4M357.3 1707h2.4M361.4 1705.1h2.4M365.6 1710.7h2.4M369.8 1717.7h2.4M374 1724.6h2.4M378.2 1729.1h2.4M382.4 1733.3h2.4M386.5 1737.5h2.4M390.7 1740.8h2.4M394.9 1744h2.4M399.1 1747.1h2.4M403.3 1749.5h2.4M407.5 1751.6h2.4M411.7 1753.7h2.4M415.8 1756.2h2.4M420 1759h2.4M424.2 1761.4h2.4M428.4 1762.8h2.4M432.6 1764.2h2.4M436.8 1753.9h2.4M440.9 1734.1h2.4M445.1 1716.4h2.4M449.3 1702.9h2.4M453.5 1707.1h2.4M457.7 1711.2h2.4M461.9 1709.9h2.4M466.1 1706.6h2.4M470.2 1709.9h2.4M474.4 1714.9h2.4M478.6 1720.4h2.4M482.8 1726h2.4M487 1733.4h2.4M491.2 1742.6h2.4M495.3 1739.1h2.4M499.5 1734h2.4M503.7 1739.2h2.4M507.9 1744.4h2.4M512.1 1749.6h2.4M516.3 1754.8h2.4M520.5 1760.1h2.4M524.6 1767h2.4M528.8 1774.3h2.4M533 1781.6h2.4M537.2 1788.9h2.4M541.4 1796.3h2.4M545.6 1803.6h2.4M549.7 1811.6h2.4M553.9 1819.9h2.4M558.1 1828.3h2.4M562.3 1831h2.4M566.5 1777.8h2.4M570.7 1733.1h2.4M574.9 1712.4h2.4M579 1715.8h2.4M583.2 1719.5h2.4M587.4 1727.8h2.4M591.6 1736.2h2.4M595.8 1742.5h2.4M600 1748.1h2.4M604.1 1757.1h2.4M608.3 1771.1h2.4M612.5 1785h2.4M616.7 1799h2.4M620.9 1812.9h2.4M625.1 1824.8h2.4M629.3 1835.9h2.4M633.4 1846.5h2.4M637.6 1856.2h2.4M641.8 1865.5h2.4M646 1871.1h2.4M650.2 1876.7h2.4M654.4 1878.7h2.4M658.5 1876.6h2.4M662.7 1865.2h2.4M666.9 1868.5h2.4M671.1 1871.9h2.4M675.3 1875.5h2.4M679.5 1879.2h2.4M683.7 1882h2.4M687.8 1851.6h2.4M692 1837.7h2.4M696.2 1841.9h2.4M700.4 1853.8h2.4M704.6 1866.4h2.4M708.8 1878.9h2.4M713 1891.3h2.4M717.1 1899.6h2.4M721.3 1908h2.4M725.5 1911.9h2.4M729.7 1914h2.4M733.9 1916.1h2.4M738.1 1918.1h2.4M742.2 1920.2h2.4M746.4 1922.3h2.4M750.6 1924.4h2.4M754.8 1926.5h2.4M759 1928.6h2.4M763.2 1930.3h2.4M767.4 1931.3h2.4M771.5 1932.4h2.4M775.7 1933.4h2.4M779.9 1934.5h2.4M784.1 1935.5h2.4M788.3 1936.6h2.4M792.5 1938h2.4M796.6 1939.4h2.4M800.8 1932.2h2.4M805 1931.6h2.4M809.2 1933.9h2.4M813.4 1936.3h2.4M817.6 1937.9h2.4M821.8 1939.5h2.4M825.9 1941h2.4M830.1 1942.6h2.4M834.3 1944.2h2.4M838.5 1945.7h2.4M842.7 1945.2h2.4M846.9 1944.2h2.4M851 1943.1h2.4M855.2 1943.2h2.4M859.4 1943.7h2.4M863.6 1944.2h2.4M867.8 1945.1h2.4M872 1946.1h2.4M876.2 1947.2h2.4M880.3 1947.9h2.4M884.5 1948.5h2.4M888.7 1949h2.4M892.9 1949.7h2.4M897.1 1950.7h2.4M901.3 1951.7h2.4M905.4 1952.6h2.4M909.6 1953h2.4M913.8 1953.4h2.4M918 1953.9h2.4M922.2 1954.4h2.4M926.4 1955.2h2.4M930.6 1956h2.4M934.7 1956.9h2.4M938.9 1957.6h2.4M943.1 1958h2.4M947.3 1958.4h2.4M951.5 1958.8h2.4M955.7 1959.2h2.4M959.8 1959.7h2.4M964 1960.1h2.4M968.2 1960.5h2.4M972.4 1961.2h2.4M976.6 1962h2.4M980.8 1962.8h2.4M985 1963.7h2.4M989.1 1964.2h2.4M993.3 1964.6h2.4M997.5 1965.1h2.4M1001.7 1965.5h2.4M1005.9 1965.2h2.4M1010.1 1964.8h2.4M1014.2 1964.4h2.4M1018.4 1963.9h2.4M1022.6 1964.7h2.4M1026.8 1965.6h2.4M1031 1966.4h2.4M1035.2 1967.2h2.4M1039.4 1967.2h2.4M1043.5 1967.2h2.4M1047.7 1967.2h2.4M1051.9 1967.5h2.4M1056.1 1969h2.4M1060.3 1970.6h2.4M1064.5 1971.9h2.4M1068.6 1970.9h2.4M1072.8 1969.8h2.4M1077 1968.8h2.4M1081.2 1967.8h2.4M1085.4 1966.7h2.4M1089.6 1965.7h2.4M1093.8 1966h2.4M1097.9 1966.5h2.4M1102.1 1967.1h2.4M1106.3 1966.8h2.4M1110.5 1966.2h2.4M1114.7 1965.7h2.4M1118.9 1964.8h2.4M1123 1963.8h2.4M1127.2 1962.7h2.4M1131.4 1962.9h2.4M1135.6 1963.9h2.4M1139.8 1965h2.4M1144 1964.8h2.4M1148.2 1963.2h2.4M1152.3 1961.7h2.4M1156.5 1960.5h2.4M1160.7 1960h2.4M1164.9 1959.4h2.4M1169.1 1958.7h2.4M1173.3 1957.5h2.4M1177.4 1956.2h2.4M1181.6 1954.9h2.4M1185.8 1954.6h2.4M1190 1955.6h2.4M1194.2 1956.7h2.4M1198.4 1957.9h2.4M1202.6 1959.5h2.4M1206.7 1961h2.4M1210.9 1962.4h2.4M1215.1 1963.1h2.4M1219.3 1963.8h2.4M1223.5 1955.8h2.4M1227.7 1946.1h2.4M1231.8 1935.6h2.4M1236 1928.3h2.4M1240.2 1922.7h2.4M1244.4 1919.6h2.4M1248.6 1918.9h2.4M1252.8 1919.6h2.4M1257 1921.5h2.4M1261.1 1925.7h2.4M1265.3 1932h2.4M1269.5 1929.6h2.4M1273.7 1924h2.4"/>
<line x1="496.7" y1="1604.6" x2="496.7" y2="2020.8" stroke="#505050" stroke-width="2.4" stroke-dasharray="22.6 10.8" stroke-linecap="round"/>
<line x1="967.8" y1="1602.2" x2="967.8" y2="2019.4" stroke="#505050" stroke-width="2.4" stroke-dasharray="22.6 10.8" stroke-linecap="round"/>
<rect x="103.5" y="1584.1" width="1196.5" height="447.3" fill="none" stroke="#000" stroke-width="2.2"/>
<line x1="94" y1="2031.4" x2="103.5" y2="2031.4" stroke="#000" stroke-width="2.2"/>
<text x="82" y="2040.4" text-anchor="end" font-family='"Liberation Sans", sans-serif' font-size="25">5</text>
<line x1="94" y1="1941.9" x2="103.5" y2="1941.9" stroke="#000" stroke-width="2.2"/>
<text x="82" y="1950.9" text-anchor="end" font-family='"Liberation Sans", sans-serif' font-size="25">10</text>
<line x1="94" y1="1852.5" x2="103.5" y2="1852.5" stroke="#000" stroke-width="2.2"/>
<text x="82" y="1861.5" text-anchor="end" font-family='"Liberation Sans", sans-serif' font-size="25">15</text>
<line x1="94" y1="1763" x2="103.5" y2="1763" stroke="#000" stroke-width="2.2"/>
<text x="82" y="1772" text-anchor="end" font-family='"Liberation Sans", sans-serif' font-size="25">20</text>
<line x1="94" y1="1673.6" x2="103.5" y2="1673.6" stroke="#000" stroke-width="2.2"/>
<text x="82" y="1682.6" text-anchor="end" font-family='"Liberation Sans", sans-serif' font-size="25">25</text>
<line x1="94" y1="1584.1" x2="103.5" y2="1584.1" stroke="#000" stroke-width="2.2"/>
<text x="82" y="1593.1" text-anchor="end" font-family='"Liberation Sans", sans-serif' font-size="25">30</text>
<line x1="128.3" y1="2031.4" x2="128.3" y2="2041.4" stroke="#000" stroke-width="2.2"/>
<text x="128.3" y="2076.9" text-anchor="middle" font-family='"Liberation Sans", sans-serif' font-size="25">60</text>
<line x1="212" y1="2031.4" x2="212" y2="2041.4" stroke="#000" stroke-width="2.2"/>
<text x="212" y="2076.9" text-anchor="middle" font-family='"Liberation Sans", sans-serif' font-size="25">80</text>
<line x1="295.7" y1="2031.4" x2="295.7" y2="2041.4" stroke="#000" stroke-width="2.2"/>
<text x="295.7" y="2076.9" text-anchor="middle" font-family='"Liberation Sans", sans-serif' font-size="25">100</text>
<line x1="379.4" y1="2031.4" x2="379.4" y2="2041.4" stroke="#000" stroke-width="2.2"/>
<text x="379.4" y="2076.9" text-anchor="middle" font-family='"Liberation Sans", sans-serif' font-size="25">120</text>
<line x1="463.1" y1="2031.4" x2="463.1" y2="2041.4" stroke="#000" stroke-width="2.2"/>
<text x="463.1" y="2076.9" text-anchor="middle" font-family='"Liberation Sans", sans-serif' font-size="25">140</text>
<line x1="546.8" y1="2031.4" x2="546.8" y2="2041.4" stroke="#000" stroke-width="2.2"/>
<text x="546.8" y="2076.9" text-anchor="middle" font-family='"Liberation Sans", sans-serif' font-size="25">160</text>
<line x1="630.5" y1="2031.4" x2="630.5" y2="2041.4" stroke="#000" stroke-width="2.2"/>
<text x="630.5" y="2076.9" text-anchor="middle" font-family='"Liberation Sans", sans-serif' font-size="25">180</text>
<line x1="714.2" y1="2031.4" x2="714.2" y2="2041.4" stroke="#000" stroke-width="2.2"/>
<text x="714.2" y="2076.9" text-anchor="middle" font-family='"Liberation Sans", sans-serif' font-size="25">200</text>
<line x1="797.8" y1="2031.4" x2="797.8" y2="2041.4" stroke="#000" stroke-width="2.2"/>
<text x="797.8" y="2076.9" text-anchor="middle" font-family='"Liberation Sans", sans-serif' font-size="25">220</text>
<line x1="881.5" y1="2031.4" x2="881.5" y2="2041.4" stroke="#000" stroke-width="2.2"/>
<text x="881.5" y="2076.9" text-anchor="middle" font-family='"Liberation Sans", sans-serif' font-size="25">240</text>
<line x1="965.2" y1="2031.4" x2="965.2" y2="2041.4" stroke="#000" stroke-width="2.2"/>
<text x="965.2" y="2076.9" text-anchor="middle" font-family='"Liberation Sans", sans-serif' font-size="25">260</text>
<line x1="1048.9" y1="2031.4" x2="1048.9" y2="2041.4" stroke="#000" stroke-width="2.2"/>
<text x="1048.9" y="2076.9" text-anchor="middle" font-family='"Liberation Sans", sans-serif' font-size="25">280</text>
<line x1="1132.6" y1="2031.4" x2="1132.6" y2="2041.4" stroke="#000" stroke-width="2.2"/>
<text x="1132.6" y="2076.9" text-anchor="middle" font-family='"Liberation Sans", sans-serif' font-size="25">300</text>
<line x1="1216.3" y1="2031.4" x2="1216.3" y2="2041.4" stroke="#000" stroke-width="2.2"/>
<text x="1216.3" y="2076.9" text-anchor="middle" font-family='"Liberation Sans", sans-serif' font-size="25">320</text>
<line x1="1300" y1="2031.4" x2="1300" y2="2041.4" stroke="#000" stroke-width="2.2"/>
<text x="1300" y="2076.9" text-anchor="middle" font-family='"Liberation Sans", sans-serif' font-size="25">340</text>
<text transform="translate(26.8 1813.4) rotate(-90)" text-anchor="middle" font-family='"Liberation Sans", sans-serif' font-size="25.5">Soil Water Content (%)</text>
<text x="125" y="1627.9" font-family='"Liberation Sans", sans-serif' font-size="25.1">2010</text>
<text x="589.2" y="1623.5" font-family='"Liberation Sans", sans-serif' font-size="24.75">Reproductive season control</text>
<line x1="102.3" y1="2370.4" x2="1305" y2="2370.4" stroke="#000" stroke-width="1.8"/>
<polyline fill="none" stroke="#000000" stroke-width="6" stroke-linejoin="round" points="127.7,2459 131.9,2457.6 136.1,2455.3 140.3,2447.9 144.5,2437.3 148.7,2425.3 152.9,2421.1 157.1,2416.2 161.3,2410.6 165.5,2405.6 169.7,2402.8 174,2400 178.2,2397.1 182.4,2394.3 186.6,2391.5 190.8,2388.7 195,2386.1 199.2,2384 203.4,2381.9 207.6,2380.1 211.8,2379.6 216,2379 220.2,2378.7 224.4,2380.1 228.6,2381.5 232.8,2382.3 237,2383.1 241.2,2382.2 245.4,2379.3 249.6,2376.3 253.8,2372.1 258,2367.9 262.2,2366.6 266.5,2365.9 270.7,2367.2 274.9,2370.3 279.1,2367.7 283.3,2364.9 287.5,2362.9 291.7,2361.4 295.9,2359.8 300.1,2357.6 304.3,2355 308.5,2352.4 312.7,2351 316.9,2351 321.1,2348.4 325.3,2345.6 329.5,2342.8 333.7,2340 337.9,2331.1 342.1,2308 346.3,2294.4 350.5,2285.2 354.8,2281 359,2276.8 363.2,2272.6 367.4,2271.8 371.6,2277.4 375.8,2282.9 380,2286.1 384.2,2289.2 388.4,2292.4 392.6,2293.5 396.8,2294.6 401,2295.6 405.2,2296.7 409.4,2297.8 413.6,2298.8 417.8,2300.7 422,2302.8 426.2,2305.2 430.4,2290.2 434.6,2257.4 438.8,2251.4 443,2254.2 447.3,2257 451.5,2259.1 455.7,2261.2 459.9,2263.3 464.1,2247.1 468.3,2247.9 472.5,2253 476.7,2253 480.9,2252.3 485.1,2253.9 489.3,2257.4 493.5,2259.5 497.7,2257.3 501.9,2255.1 506.1,2252.9 510.3,2254.4 514.5,2258.7 518.7,2262.9 522.9,2267.1 527.1,2271.7 531.3,2277.4 535.6,2283.1 539.8,2292.9 544,2302.7 548.2,2304.5 552.4,2303.1 556.6,2303.9 560.8,2308.2 565,2315.9 569.2,2324.3 573.4,2333.5 577.6,2343.3 581.8,2352.2 586,2357.8 590.2,2363.4 594.4,2362.1 598.6,2358.4 602.8,2352.1 607,2354.4 611.2,2358.6 615.4,2364.9 619.6,2373.3 623.8,2382.5 628.1,2395.1 632.3,2407.7 636.5,2416.7 640.7,2425.1 644.9,2432 649.1,2437.6 653.3,2443.2 657.5,2448.8 661.7,2454.4 665.9,2457.4 670.1,2460.2 674.3,2462.6 678.5,2464.7 682.7,2466.4 686.9,2467.3 691.1,2443.7 695.3,2397.8 699.5,2382.9 703.7,2389.2 707.9,2401.1 712.1,2413.7 716.4,2427.1 720.6,2441.1 724.8,2453.2 729,2459.5 733.2,2465.8 737.4,2471.8 741.6,2476 745.8,2480.2 750,2484.2 754.2,2486.3 758.4,2488.4 762.6,2490.5 766.8,2492.6 771,2494.7 775.2,2496.5 779.4,2498.2 783.6,2434.5 787.8,2232.2 792,2239 796.2,2245.9 800.4,2253.2 804.6,2260.6 808.9,2267.9 813.1,2275.3 817.3,2282.6 821.5,2290.2 825.7,2299.7 829.9,2309.1 834.1,2318.6 838.3,2328 842.5,2337.5 846.7,2347 850.9,2355.5 855.1,2363.9 859.3,2372.3 863.5,2379.8 867.7,2387.2 871.9,2394.5 876.1,2401.9 880.3,2409.2 884.5,2416.6 888.7,2423.3 892.9,2429.6 897.1,2435.9 901.4,2442.3 905.6,2448.8 909.8,2455 914,2457.1 918.2,2459.2 922.4,2461.3 926.6,2462.9 930.8,2464.5 935,2466 939.2,2466.7 943.4,2467.2 947.6,2467.7 951.8,2468.7 956,2469.7 960.2,2470.8 964.4,2459 968.6,2451.1 972.8,2450.3 977,2450.6 981.2,2451.7 985.4,2452.7 989.7,2454.4 993.9,2456.5 998.1,2458.6 1002.3,2460.9 1006.5,2463.5 1010.7,2466.2 1014.9,2468.6 1019.1,2470.7 1023.3,2472.8 1027.5,2474.9 1031.7,2477 1035.9,2479.1 1040.1,2481.1 1044.3,2482.7 1048.5,2484.3 1052.7,2485.8 1056.9,2487.2 1061.1,2488.6 1065.3,2487.8 1069.5,2466.1 1073.7,2444.5 1077.9,2437.1 1082.2,2435 1086.4,2433.7 1090.6,2433.7 1094.8,2433.7 1099,2433.9 1103.2,2434.4 1107.4,2434.9 1111.6,2435.4 1115.8,2435.4 1120,2435.4 1124.2,2435.6 1128.4,2437.1 1132.6,2438.7 1136.8,2440.3 1141,2441.7 1145.2,2443.1 1149.4,2435.2 1153.6,2425 1157.8,2421.5 1162,2418 1166.2,2416.3 1170.5,2414.9 1174.7,2410.3 1178.9,2402.9 1183.1,2398.7 1187.3,2395.1 1191.5,2392.3 1195.7,2389.2 1199.9,2383.9 1204.1,2377.4 1208.3,2370.2 1212.5,2366 1216.7,2360.8 1220.9,2354.5 1225.1,2363.3 1229.3,2367.5 1233.5,2364.4 1237.7,2365.8 1241.9,2367.9 1246.1,2367.7 1250.3,2365.5 1254.5,2363.8 1258.7,2363.1 1263,2362.4 1267.2,2361.7 1271.4,2361 1275.6,2360.7 1279.8,2360.7"/>
<path fill="none" stroke="#c8c8c8" stroke-width="2.4" d="M127.7 2441.1V2476.9M131.9 2439.7V2475.5M136.1 2437.4V2473.2M140.3 2430V2465.8M144.5 2419.4V2455.3M148.7 2407.4V2443.3M152.9 2403.2V2439.1M157.1 2398.2V2434.1M161.3 2392.6V2428.5M165.5 2387.6V2423.5M169.7 2384.8V2420.7M174 2382V2417.9M178.2 2379.2V2415.1M182.4 2376.4V2412.3M186.6 2373.6V2409.5M190.8 2370.7V2406.7M195 2368.1V2404.1M199.2 2366V2402M203.4 2363.9V2399.9M207.6 2362.1V2398.1M211.8 2361.5V2397.6M216 2361V2397.1M220.2 2360.7V2396.7M224.4 2362V2398.1M228.6 2363.4V2399.5M232.8 2364.3V2400.4M237 2365V2401.1M241.2 2364.1V2400.2M245.4 2361.3V2397.4M249.6 2358.3V2394.4M253.8 2354.1V2390.2M258 2349.8V2386M262.2 2348.5V2384.7M266.5 2347.8V2384M270.7 2349.1V2385.3M274.9 2352.2V2388.5M279.1 2349.6V2385.9M283.3 2346.8V2383.1M287.5 2344.8V2381.1M291.7 2343.2V2379.5M295.9 2341.6V2377.9M300.1 2339.5V2375.8M304.3 2336.8V2373.1M308.5 2334.2V2370.5M312.7 2332.8V2369.2M316.9 2332.8V2369.2M321.1 2330.2V2366.6M325.3 2327.4V2363.8M329.5 2324.6V2361M333.7 2321.7V2358.2M337.9 2312.9V2349.3M342.1 2289.7V2326.2M346.3 2276.1V2312.6M350.5 2266.9V2303.4M354.8 2262.7V2299.2M359 2258.5V2295M363.2 2254.3V2290.8M367.4 2253.5V2290.1M371.6 2259.1V2295.7M375.8 2264.6V2301.2M380 2267.8V2304.4M384.2 2270.9V2307.5M388.4 2274.1V2310.7M392.6 2275.2V2311.8M396.8 2276.3V2312.9M401 2277.3V2314M405.2 2278.4V2315M409.4 2279.4V2316.1M413.6 2280.5V2317.1M417.8 2282.3V2319M422 2284.4V2321.1M426.2 2286.8V2323.5M430.4 2271.9V2308.6M434.6 2239.1V2275.8M438.8 2233V2269.8M443 2235.8V2272.6M447.3 2238.6V2275.3M451.5 2240.7V2277.5M455.7 2242.8V2279.6M459.9 2244.9V2281.7M464.1 2228.7V2265.5M468.3 2229.5V2266.4M472.5 2234.6V2271.4M476.7 2234.6V2271.4M480.9 2233.8V2270.7M485.1 2235.5V2272.4M489.3 2239V2275.9M493.5 2241.1V2278M497.7 2238.9V2275.8M501.9 2236.6V2273.6M506.1 2234.4V2271.4M510.3 2236V2272.9M514.5 2240.2V2277.1M518.7 2244.4V2281.4M522.9 2248.6V2285.6M527.1 2253.2V2290.3M531.3 2258.8V2295.9M535.6 2264.5V2301.6M539.8 2274.3V2311.4M544 2284.2V2321.2M548.2 2286V2323.1M552.4 2284.6V2321.7M556.6 2285.4V2322.5M560.8 2289.6V2326.7M565 2297.4V2334.5M569.2 2305.8V2342.9M573.4 2314.9V2352.1M577.6 2324.7V2361.9M581.8 2333.6V2370.8M586 2339.2V2376.4M590.2 2344.8V2382M594.4 2343.4V2380.7M598.6 2339.8V2377.1M602.8 2333.5V2370.8M607 2335.8V2373M611.2 2340V2377.2M615.4 2346.3V2383.6M619.6 2354.7V2392M623.8 2363.8V2401.2M628.1 2376.4V2413.8M632.3 2389.1V2426.4M636.5 2398V2435.4M640.7 2406.4V2443.8M644.9 2413.3V2450.7M649.1 2418.9V2456.3M653.3 2424.5V2461.9M657.5 2430.1V2467.5M661.7 2435.7V2473.1M665.9 2438.7V2476.1M670.1 2441.5V2479M674.3 2443.9V2481.3M678.5 2446V2483.4M682.7 2447.7V2485.2M686.9 2448.5V2486M691.1 2424.9V2462.5M695.3 2379V2416.6M699.5 2364.1V2401.7M703.7 2370.4V2408M707.9 2382.3V2419.9M712.1 2394.9V2432.5M716.4 2408.3V2445.9M720.6 2422.3V2459.9M724.8 2434.4V2472M729 2440.7V2478.3M733.2 2447V2484.6M737.4 2452.9V2490.6M741.6 2457.1V2494.8M745.8 2461.3V2499M750 2465.4V2503.1M754.2 2467.5V2505.2M758.4 2469.5V2507.3M762.6 2471.6V2509.4M766.8 2473.7V2511.5M771 2475.8V2513.6M775.2 2477.6V2515.4M779.4 2479.3V2517.1M783.6 2415.6V2453.4M787.8 2213.3V2251.1M792 2220V2257.9M796.2 2226.9V2264.8M800.4 2234.3V2272.1M804.6 2241.6V2279.5M808.9 2249V2286.9M813.1 2256.3V2294.2M817.3 2263.7V2301.6M821.5 2271.2V2309.2M825.7 2280.7V2318.6M829.9 2290.1V2328.1M834.1 2299.6V2337.6M838.3 2309V2347M842.5 2318.5V2356.5M846.7 2328V2366M850.9 2336.4V2374.5M855.1 2344.8V2382.9M859.3 2353.3V2391.3M863.5 2360.8V2398.8M867.7 2368.1V2406.2M871.9 2375.5V2413.6M876.1 2382.8V2420.9M880.3 2390.2V2428.3M884.5 2397.5V2435.7M888.7 2404.2V2442.3M892.9 2410.5V2448.7M897.1 2416.8V2455M901.4 2423.2V2461.4M905.6 2429.7V2467.9M909.8 2435.9V2474.1M914 2438V2476.2M918.2 2440.1V2478.3M922.4 2442.2V2480.4M926.6 2443.7V2482M930.8 2445.3V2483.6M935 2446.9V2485.2M939.2 2447.5V2485.8M943.4 2448V2486.4M947.6 2448.6V2486.9M951.8 2449.5V2487.8M956 2450.5V2488.9M960.2 2451.6V2490M964.4 2439.8V2478.2M968.6 2431.9V2470.3M972.8 2431.1V2469.5M977 2431.4V2469.8M981.2 2432.5V2470.9M985.4 2433.5V2472M989.7 2435.1V2473.6M993.9 2437.2V2475.7M998.1 2439.3V2477.8M1002.3 2441.7V2480.2M1006.5 2444.3V2482.8M1010.7 2446.9V2485.4M1014.9 2449.3V2487.9M1019.1 2451.4V2490M1023.3 2453.5V2492.1M1027.5 2455.6V2494.2M1031.7 2457.7V2496.3M1035.9 2459.8V2498.4M1040.1 2461.8V2500.4M1044.3 2463.4V2502M1048.5 2464.9V2503.6M1052.7 2466.5V2505.1M1056.9 2467.9V2506.6M1061.1 2469.3V2508M1065.3 2468.5V2507.2M1069.5 2446.8V2485.5M1073.7 2425.1V2463.9M1077.9 2417.8V2456.5M1082.2 2415.7V2454.4M1086.4 2414.4V2453.1M1090.6 2414.4V2453.1M1094.8 2414.3V2453.1M1099 2414.5V2453.3M1103.2 2415V2453.8M1107.4 2415.5V2454.4M1111.6 2415.9V2454.8M1115.8 2415.9V2454.8M1120 2415.9V2454.8M1124.2 2416.1V2455M1128.4 2417.7V2456.6M1132.6 2419.3V2458.2M1136.8 2420.8V2459.7M1141 2422.2V2461.1M1145.2 2423.6V2462.6M1149.4 2415.7V2454.7M1153.6 2405.5V2444.5M1157.8 2402V2441M1162 2398.5V2437.5M1166.2 2396.8V2435.8M1170.5 2395.4V2434.4M1174.7 2390.8V2429.8M1178.9 2383.4V2422.4M1183.1 2379.2V2418.2M1187.3 2375.6V2414.7M1191.5 2372.8V2411.9M1195.7 2369.6V2408.7M1199.9 2364.4V2403.5M1204.1 2357.9V2397M1208.3 2350.7V2389.8M1212.5 2346.5V2385.6M1216.7 2341.2V2380.3M1220.9 2334.9V2374M1225.1 2343.7V2382.9M1229.3 2347.9V2387.1M1233.5 2344.7V2384M1237.7 2346.2V2385.4M1241.9 2348.3V2387.5M1246.1 2348V2387.3M1250.3 2345.9V2385.2M1254.5 2344.1V2383.4M1258.7 2343.4V2382.7M1263 2342.7V2382M1267.2 2342V2381.3M1271.4 2341.3V2380.7M1275.6 2341V2380.4M1279.8 2341V2380.4"/>
<polyline fill="none" stroke="#000" stroke-width="1.4" stroke-linejoin="round" points="127.7,2459 131.9,2457.6 136.1,2455.3 140.3,2447.9 144.5,2437.3 148.7,2425.3 152.9,2421.1 157.1,2416.2 161.3,2410.6 165.5,2405.6 169.7,2402.8 174,2400 178.2,2397.1 182.4,2394.3 186.6,2391.5 190.8,2388.7 195,2386.1 199.2,2384 203.4,2381.9 207.6,2380.1 211.8,2379.6 216,2379 220.2,2378.7 224.4,2380.1 228.6,2381.5 232.8,2382.3 237,2383.1 241.2,2382.2 245.4,2379.3 249.6,2376.3 253.8,2372.1 258,2367.9 262.2,2366.6 266.5,2365.9 270.7,2367.2 274.9,2370.3 279.1,2367.7 283.3,2364.9 287.5,2362.9 291.7,2361.4 295.9,2359.8 300.1,2357.6 304.3,2355 308.5,2352.4 312.7,2351 316.9,2351 321.1,2348.4 325.3,2345.6 329.5,2342.8 333.7,2340 337.9,2331.1 342.1,2308 346.3,2294.4 350.5,2285.2 354.8,2281 359,2276.8 363.2,2272.6 367.4,2271.8 371.6,2277.4 375.8,2282.9 380,2286.1 384.2,2289.2 388.4,2292.4 392.6,2293.5 396.8,2294.6 401,2295.6 405.2,2296.7 409.4,2297.8 413.6,2298.8 417.8,2300.7 422,2302.8 426.2,2305.2 430.4,2290.2 434.6,2257.4 438.8,2251.4 443,2254.2 447.3,2257 451.5,2259.1 455.7,2261.2 459.9,2263.3 464.1,2247.1 468.3,2247.9 472.5,2253 476.7,2253 480.9,2252.3 485.1,2253.9 489.3,2257.4 493.5,2259.5 497.7,2257.3 501.9,2255.1 506.1,2252.9 510.3,2254.4 514.5,2258.7 518.7,2262.9 522.9,2267.1 527.1,2271.7 531.3,2277.4 535.6,2283.1 539.8,2292.9 544,2302.7 548.2,2304.5 552.4,2303.1 556.6,2303.9 560.8,2308.2 565,2315.9 569.2,2324.3 573.4,2333.5 577.6,2343.3 581.8,2352.2 586,2357.8 590.2,2363.4 594.4,2362.1 598.6,2358.4 602.8,2352.1 607,2354.4 611.2,2358.6 615.4,2364.9 619.6,2373.3 623.8,2382.5 628.1,2395.1 632.3,2407.7 636.5,2416.7 640.7,2425.1 644.9,2432 649.1,2437.6 653.3,2443.2 657.5,2448.8 661.7,2454.4 665.9,2457.4 670.1,2460.2 674.3,2462.6 678.5,2464.7 682.7,2466.4 686.9,2467.3 691.1,2443.7 695.3,2397.8 699.5,2382.9 703.7,2389.2 707.9,2401.1 712.1,2413.7 716.4,2427.1 720.6,2441.1 724.8,2453.2 729,2459.5 733.2,2465.8 737.4,2471.8 741.6,2476 745.8,2480.2 750,2484.2 754.2,2486.3 758.4,2488.4 762.6,2490.5 766.8,2492.6 771,2494.7 775.2,2496.5 779.4,2498.2 783.6,2434.5 787.8,2232.2 792,2239 796.2,2245.9 800.4,2253.2 804.6,2260.6 808.9,2267.9 813.1,2275.3 817.3,2282.6 821.5,2290.2 825.7,2299.7 829.9,2309.1 834.1,2318.6 838.3,2328 842.5,2337.5 846.7,2347 850.9,2355.5 855.1,2363.9 859.3,2372.3 863.5,2379.8 867.7,2387.2 871.9,2394.5 876.1,2401.9 880.3,2409.2 884.5,2416.6 888.7,2423.3 892.9,2429.6 897.1,2435.9 901.4,2442.3 905.6,2448.8 909.8,2455 914,2457.1 918.2,2459.2 922.4,2461.3 926.6,2462.9 930.8,2464.5 935,2466 939.2,2466.7 943.4,2467.2 947.6,2467.7 951.8,2468.7 956,2469.7 960.2,2470.8 964.4,2459 968.6,2451.1 972.8,2450.3 977,2450.6 981.2,2451.7 985.4,2452.7 989.7,2454.4 993.9,2456.5 998.1,2458.6 1002.3,2460.9 1006.5,2463.5 1010.7,2466.2 1014.9,2468.6 1019.1,2470.7 1023.3,2472.8 1027.5,2474.9 1031.7,2477 1035.9,2479.1 1040.1,2481.1 1044.3,2482.7 1048.5,2484.3 1052.7,2485.8 1056.9,2487.2 1061.1,2488.6 1065.3,2487.8 1069.5,2466.1 1073.7,2444.5 1077.9,2437.1 1082.2,2435 1086.4,2433.7 1090.6,2433.7 1094.8,2433.7 1099,2433.9 1103.2,2434.4 1107.4,2434.9 1111.6,2435.4 1115.8,2435.4 1120,2435.4 1124.2,2435.6 1128.4,2437.1 1132.6,2438.7 1136.8,2440.3 1141,2441.7 1145.2,2443.1 1149.4,2435.2 1153.6,2425 1157.8,2421.5 1162,2418 1166.2,2416.3 1170.5,2414.9 1174.7,2410.3 1178.9,2402.9 1183.1,2398.7 1187.3,2395.1 1191.5,2392.3 1195.7,2389.2 1199.9,2383.9 1204.1,2377.4 1208.3,2370.2 1212.5,2366 1216.7,2360.8 1220.9,2354.5 1225.1,2363.3 1229.3,2367.5 1233.5,2364.4 1237.7,2365.8 1241.9,2367.9 1246.1,2367.7 1250.3,2365.5 1254.5,2363.8 1258.7,2363.1 1263,2362.4 1267.2,2361.7 1271.4,2361 1275.6,2360.7 1279.8,2360.7"/><path fill="none" stroke="#000" stroke-width="2.4" d="M126.5 2459h2.4M130.7 2457.6h2.4M134.9 2455.3h2.4M139.1 2447.9h2.4M143.3 2437.3h2.4M147.5 2425.3h2.4M151.7 2421.1h2.4M155.9 2416.2h2.4M160.1 2410.6h2.4M164.3 2405.6h2.4M168.5 2402.8h2.4M172.8 2400h2.4M177 2397.1h2.4M181.2 2394.3h2.4M185.4 2391.5h2.4M189.6 2388.7h2.4M193.8 2386.1h2.4M198 2384h2.4M202.2 2381.9h2.4M206.4 2380.1h2.4M210.6 2379.6h2.4M214.8 2379h2.4M219 2378.7h2.4M223.2 2380.1h2.4M227.4 2381.5h2.4M231.6 2382.3h2.4M235.8 2383.1h2.4M240 2382.2h2.4M244.2 2379.3h2.4M248.4 2376.3h2.4M252.6 2372.1h2.4M256.8 2367.9h2.4M261 2366.6h2.4M265.3 2365.9h2.4M269.5 2367.2h2.4M273.7 2370.3h2.4M277.9 2367.7h2.4M282.1 2364.9h2.4M286.3 2362.9h2.4M290.5 2361.4h2.4M294.7 2359.8h2.4M298.9 2357.6h2.4M303.1 2355h2.4M307.3 2352.4h2.4M311.5 2351h2.4M315.7 2351h2.4M319.9 2348.4h2.4M324.1 2345.6h2.4M328.3 2342.8h2.4M332.5 2340h2.4M336.7 2331.1h2.4M340.9 2308h2.4M345.1 2294.4h2.4M349.3 2285.2h2.4M353.6 2281h2.4M357.8 2276.8h2.4M362 2272.6h2.4M366.2 2271.8h2.4M370.4 2277.4h2.4M374.6 2282.9h2.4M378.8 2286.1h2.4M383 2289.2h2.4M387.2 2292.4h2.4M391.4 2293.5h2.4M395.6 2294.6h2.4M399.8 2295.6h2.4M404 2296.7h2.4M408.2 2297.8h2.4M412.4 2298.8h2.4M416.6 2300.7h2.4M420.8 2302.8h2.4M425 2305.2h2.4M429.2 2290.2h2.4M433.4 2257.4h2.4M437.6 2251.4h2.4M441.8 2254.2h2.4M446.1 2257h2.4M450.3 2259.1h2.4M454.5 2261.2h2.4M458.7 2263.3h2.4M462.9 2247.1h2.4M467.1 2247.9h2.4M471.3 2253h2.4M475.5 2253h2.4M479.7 2252.3h2.4M483.9 2253.9h2.4M488.1 2257.4h2.4M492.3 2259.5h2.4M496.5 2257.3h2.4M500.7 2255.1h2.4M504.9 2252.9h2.4M509.1 2254.4h2.4M513.3 2258.7h2.4M517.5 2262.9h2.4M521.7 2267.1h2.4M525.9 2271.7h2.4M530.1 2277.4h2.4M534.4 2283.1h2.4M538.6 2292.9h2.4M542.8 2302.7h2.4M547 2304.5h2.4M551.2 2303.1h2.4M555.4 2303.9h2.4M559.6 2308.2h2.4M563.8 2315.9h2.4M568 2324.3h2.4M572.2 2333.5h2.4M576.4 2343.3h2.4M580.6 2352.2h2.4M584.8 2357.8h2.4M589 2363.4h2.4M593.2 2362.1h2.4M597.4 2358.4h2.4M601.6 2352.1h2.4M605.8 2354.4h2.4M610 2358.6h2.4M614.2 2364.9h2.4M618.4 2373.3h2.4M622.6 2382.5h2.4M626.9 2395.1h2.4M631.1 2407.7h2.4M635.3 2416.7h2.4M639.5 2425.1h2.4M643.7 2432h2.4M647.9 2437.6h2.4M652.1 2443.2h2.4M656.3 2448.8h2.4M660.5 2454.4h2.4M664.7 2457.4h2.4M668.9 2460.2h2.4M673.1 2462.6h2.4M677.3 2464.7h2.4M681.5 2466.4h2.4M685.7 2467.3h2.4M689.9 2443.7h2.4M694.1 2397.8h2.4M698.3 2382.9h2.4M702.5 2389.2h2.4M706.7 2401.1h2.4M710.9 2413.7h2.4M715.1 2427.1h2.4M719.4 2441.1h2.4M723.6 2453.2h2.4M727.8 2459.5h2.4M732 2465.8h2.4M736.2 2471.8h2.4M740.4 2476h2.4M744.6 2480.2h2.4M748.8 2484.2h2.4M753 2486.3h2.4M757.2 2488.4h2.4M761.4 2490.5h2.4M765.6 2492.6h2.4M769.8 2494.7h2.4M774 2496.5h2.4M778.2 2498.2h2.4M782.4 2434.5h2.4M786.6 2232.2h2.4M790.8 2239h2.4M795 2245.9h2.4M799.2 2253.2h2.4M803.4 2260.6h2.4M807.7 2267.9h2.4M811.9 2275.3h2.4M816.1 2282.6h2.4M820.3 2290.2h2.4M824.5 2299.7h2.4M828.7 2309.1h2.4M832.9 2318.6h2.4M837.1 2328h2.4M841.3 2337.5h2.4M845.5 2347h2.4M849.7 2355.5h2.4M853.9 2363.9h2.4M858.1 2372.3h2.4M862.3 2379.8h2.4M866.5 2387.2h2.4M870.7 2394.5h2.4M874.9 2401.9h2.4M879.1 2409.2h2.4M883.3 2416.6h2.4M887.5 2423.3h2.4M891.7 2429.6h2.4M895.9 2435.9h2.4M900.2 2442.3h2.4M904.4 2448.8h2.4M908.6 2455h2.4M912.8 2457.1h2.4M917 2459.2h2.4M921.2 2461.3h2.4M925.4 2462.9h2.4M929.6 2464.5h2.4M933.8 2466h2.4M938 2466.7h2.4M942.2 2467.2h2.4M946.4 2467.7h2.4M950.6 2468.7h2.4M954.8 2469.7h2.4M959 2470.8h2.4M963.2 2459h2.4M967.4 2451.1h2.4M971.6 2450.3h2.4M975.8 2450.6h2.4M980 2451.7h2.4M984.2 2452.7h2.4M988.5 2454.4h2.4M992.7 2456.5h2.4M996.9 2458.6h2.4M1001.1 2460.9h2.4M1005.3 2463.5h2.4M1009.5 2466.2h2.4M1013.7 2468.6h2.4M1017.9 2470.7h2.4M1022.1 2472.8h2.4M1026.3 2474.9h2.4M1030.5 2477h2.4M1034.7 2479.1h2.4M1038.9 2481.1h2.4M1043.1 2482.7h2.4M1047.3 2484.3h2.4M1051.5 2485.8h2.4M1055.7 2487.2h2.4M1059.9 2488.6h2.4M1064.1 2487.8h2.4M1068.3 2466.1h2.4M1072.5 2444.5h2.4M1076.7 2437.1h2.4M1081 2435h2.4M1085.2 2433.7h2.4M1089.4 2433.7h2.4M1093.6 2433.7h2.4M1097.8 2433.9h2.4M1102 2434.4h2.4M1106.2 2434.9h2.4M1110.4 2435.4h2.4M1114.6 2435.4h2.4M1118.8 2435.4h2.4M1123 2435.6h2.4M1127.2 2437.1h2.4M1131.4 2438.7h2.4M1135.6 2440.3h2.4M1139.8 2441.7h2.4M1144 2443.1h2.4M1148.2 2435.2h2.4M1152.4 2425h2.4M1156.6 2421.5h2.4M1160.8 2418h2.4M1165 2416.3h2.4M1169.3 2414.9h2.4M1173.5 2410.3h2.4M1177.7 2402.9h2.4M1181.9 2398.7h2.4M1186.1 2395.1h2.4M1190.3 2392.3h2.4M1194.5 2389.2h2.4M1198.7 2383.9h2.4M1202.9 2377.4h2.4M1207.1 2370.2h2.4M1211.3 2366h2.4M1215.5 2360.8h2.4M1219.7 2354.5h2.4M1223.9 2363.3h2.4M1228.1 2367.5h2.4M1232.3 2364.4h2.4M1236.5 2365.8h2.4M1240.7 2367.9h2.4M1244.9 2367.7h2.4M1249.1 2365.5h2.4M1253.3 2363.8h2.4M1257.5 2363.1h2.4M1261.8 2362.4h2.4M1266 2361.7h2.4M1270.2 2361h2.4M1274.4 2360.7h2.4M1278.6 2360.7h2.4"/>
<polyline fill="none" stroke="#ff0000" stroke-width="6" stroke-linejoin="round" points="127.7,2429 131.9,2425.8 136.1,2421.7 140.3,2419.1 144.5,2419.1 148.7,2419.3 152.9,2421.4 157.1,2426.8 161.3,2435.2 165.5,2427.1 169.7,2421.1 174,2418.3 178.2,2414.8 182.4,2406.4 186.6,2399.2 190.8,2393.1 195,2392.4 199.2,2391.7 203.4,2391.2 207.6,2390.6 211.8,2390.1 216,2390.4 220.2,2391.1 224.4,2392.5 228.6,2395.7 232.8,2396 237,2395.5 241.2,2395 245.4,2393.4 249.6,2391.2 253.8,2389.1 258,2387 262.2,2385.1 266.5,2386.5 270.7,2387.9 274.9,2391.4 279.1,2388.8 283.3,2386 287.5,2384.4 291.7,2383.3 295.9,2382.3 300.1,2380 304.3,2377 308.5,2378 312.7,2379.1 316.9,2380.1 321.1,2379.7 325.3,2379.2 329.5,2378.6 333.7,2375.9 337.9,2372.4 342.1,2368.2 346.3,2351.3 350.5,2327.8 354.8,2325.7 359,2318.8 363.2,2309.6 367.4,2310.3 371.6,2314.5 375.8,2318.7 380,2322.9 384.2,2326.6 388.4,2329.7 392.6,2332.9 396.8,2335.4 401,2337 405.2,2338.5 409.4,2340.7 413.6,2344.2 417.8,2347.7 422,2356.1 426.2,2365.5 430.4,2353 434.6,2314.3 438.8,2296.1 443,2301.6 447.3,2307.3 451.5,2310.8 455.7,2314.3 459.9,2315.3 464.1,2283.6 468.3,2282.1 472.5,2288.8 476.7,2293 480.9,2294.4 485.1,2290.2 489.3,2294.3 493.5,2298.8 497.7,2297.9 501.9,2297 506.1,2296.2 510.3,2298.8 514.5,2303.8 518.7,2310.1 522.9,2317.2 527.1,2327.5 531.3,2344.3 535.6,2360 539.8,2375.4 544,2387.5 548.2,2395.9 552.4,2375.4 556.6,2372.1 560.8,2376.1 565,2386.2 569.2,2399 573.4,2417.9 577.6,2429.9 581.8,2439.7 586,2446.6 590.2,2450 594.4,2445.8 598.6,2435.1 602.8,2427.8 607,2430.3 611.2,2434 615.4,2441 619.6,2448 623.8,2455 628.1,2462.1 632.3,2466.4 636.5,2469.2 640.7,2471.4 644.9,2472.5 649.1,2473.5 653.3,2474.7 657.5,2476.3 661.7,2477.8 665.9,2479.3 670.1,2479.8 674.3,2480.3 678.5,2480.8 682.7,2481.5 686.9,2482.2 691.1,2460.5 695.3,2413.8 699.5,2382.9 703.7,2389.2 707.9,2401.1 712.1,2413.7 716.4,2427.1 720.6,2441.1 724.8,2453.5 729,2460.8 733.2,2468.2 737.4,2474.8 741.6,2478 745.8,2481.1 750,2484.1 754.2,2485.2 758.4,2486.2 762.6,2487.3 766.8,2488 771,2488.7 775.2,2489.5 779.4,2490.3 783.6,2465.5 787.8,2328.3 792,2277.2 796.2,2273.2 800.4,2283.3 804.6,2293.2 808.9,2303 813.1,2312.8 817.3,2322.6 821.5,2332.6 825.7,2343.8 829.9,2355 834.1,2366.2 838.3,2377.4 842.5,2388.6 846.7,2399.8 850.9,2410.4 855.1,2417.4 859.3,2424.4 863.5,2429.1 867.7,2433.3 871.9,2437.5 876.1,2441.7 880.3,2445.9 884.5,2450.1 888.7,2453.3 892.9,2455.9 897.1,2458.6 901.4,2460.8 905.6,2462.8 909.8,2464.7 914,2466.8 918.2,2468.9 922.4,2471 926.6,2472.1 930.8,2473.1 935,2474.2 939.2,2474.8 943.4,2475.3 947.6,2475.8 951.8,2476.8 956,2477.8 960.2,2478.9 964.4,2468.1 968.6,2460.9 972.8,2460 977,2460.4 981.2,2461.4 985.4,2462.5 989.7,2464.1 993.9,2466.2 998.1,2468.3 1002.3,2470.4 1006.5,2472.5 1010.7,2474.6 1014.9,2476.5 1019.1,2478.1 1023.3,2479.7 1027.5,2481.1 1031.7,2482.1 1035.9,2483.2 1040.1,2484.3 1044.3,2485.3 1048.5,2486.4 1052.7,2487.4 1056.9,2488.1 1061.1,2488.8 1065.3,2461.3 1069.5,2421.9 1073.7,2376.7 1077.9,2374.2 1082.2,2372.1 1086.4,2372.1 1090.6,2372.1 1094.8,2372.5 1099,2373 1103.2,2373.6 1107.4,2375.3 1111.6,2377.4 1115.8,2379.5 1120,2381.2 1124.2,2382.8 1128.4,2384.4 1132.6,2387.1 1136.8,2390.6 1141,2391.7 1145.2,2384.7 1149.4,2365 1153.6,2360 1157.8,2357.2 1162,2356.5 1166.2,2355.5 1170.5,2352 1174.7,2348.5 1178.9,2346.1 1183.1,2344 1187.3,2342.2 1191.5,2340.8 1195.7,2339.5 1199.9,2338.8 1204.1,2338.1 1208.3,2338.6 1212.5,2339.3 1216.7,2340.7 1220.9,2342.8 1225.1,2344.9 1229.3,2347 1233.5,2349.1 1237.7,2349.8 1241.9,2350.3 1246.1,2350.9 1250.3,2351 1254.5,2351 1258.7,2351 1263,2351.7 1267.2,2352.8 1271.4,2353.8 1275.6,2354.2 1279.8,2354.2"/>
<path fill="none" stroke="#c8c8c8" stroke-width="2.4" d="M127.7 2413.8V2444.2M131.9 2410.7V2441M136.1 2406.6V2436.9M140.3 2404V2434.2M144.5 2404.1V2434.2M148.7 2404.2V2434.3M152.9 2406.4V2436.4M157.1 2411.8V2441.8M161.3 2420.3V2450.2M165.5 2412.2V2442M169.7 2406.3V2436M174 2403.5V2433.2M178.2 2400V2429.7M182.4 2391.6V2421.2M186.6 2384.5V2414M190.8 2378.4V2407.9M195 2377.7V2407.1M199.2 2377.1V2406.4M203.4 2376.5V2405.8M207.6 2376V2405.2M211.8 2375.5V2404.7M216 2375.8V2404.9M220.2 2376.6V2405.6M224.4 2378.1V2407M228.6 2381.3V2410.1M232.8 2381.6V2410.4M237 2381.1V2409.9M241.2 2380.6V2409.3M245.4 2379V2407.7M249.6 2377V2405.5M253.8 2374.9V2403.4M258 2372.8V2401.3M262.2 2370.9V2399.3M266.5 2372.4V2400.7M270.7 2373.8V2402.1M274.9 2377.3V2405.5M279.1 2374.8V2402.9M283.3 2372V2400.1M287.5 2370.4V2398.4M291.7 2369.4V2397.3M295.9 2368.3V2396.2M300.1 2366.1V2393.9M304.3 2363.1V2390.8M308.5 2364.2V2391.8M312.7 2365.3V2392.9M316.9 2366.3V2393.9M321.1 2366V2393.4M325.3 2365.5V2392.9M329.5 2365V2392.3M333.7 2362.3V2389.5M337.9 2358.8V2386M342.1 2354.7V2381.8M346.3 2337.8V2364.9M350.5 2314.3V2341.3M354.8 2312.2V2339.2M359 2305.4V2332.3M363.2 2296.2V2323M367.4 2296.9V2323.6M371.6 2301.1V2327.8M375.8 2305.3V2332M380 2309.6V2336.2M384.2 2313.3V2339.8M388.4 2316.5V2342.9M392.6 2319.7V2346.1M396.8 2322.2V2348.5M401 2323.8V2350.1M405.2 2325.4V2351.6M409.4 2327.7V2353.8M413.6 2331.2V2357.3M417.8 2334.7V2360.7M422 2343.2V2369.1M426.2 2352.6V2378.4M430.4 2340.1V2365.9M434.6 2301.5V2327.2M438.8 2283.3V2309M443 2288.8V2314.4M447.3 2294.6V2320.1M451.5 2298.1V2323.6M455.7 2301.6V2327.1M459.9 2302.6V2328M464.1 2271V2296.3M468.3 2269.5V2294.7M472.5 2276.2V2301.4M476.7 2280.4V2305.5M480.9 2281.9V2306.9M485.1 2277.7V2302.7M489.3 2281.8V2306.7M493.5 2286.4V2311.3M497.7 2285.5V2310.3M501.9 2284.7V2309.4M506.1 2283.8V2308.5M510.3 2286.5V2311.1M514.5 2291.5V2316.1M518.7 2297.9V2322.4M522.9 2304.9V2329.4M527.1 2315.3V2339.7M531.3 2332.2V2356.5M535.6 2347.9V2372.1M539.8 2363.4V2387.5M544 2375.4V2399.5M548.2 2383.9V2407.9M552.4 2363.4V2387.4M556.6 2360.1V2384M560.8 2364.2V2388M565 2374.3V2398.1M569.2 2387.1V2410.8M573.4 2406.1V2429.7M577.6 2418.1V2441.7M581.8 2427.9V2451.4M586 2434.9V2458.3M590.2 2438.3V2461.7M594.4 2434.1V2457.5M598.6 2423.5V2446.7M602.8 2416.2V2439.4M607 2418.7V2441.8M611.2 2422.5V2445.6M615.4 2429.5V2452.5M619.6 2436.6V2459.5M623.8 2443.6V2466.5M628.1 2450.6V2473.5M632.3 2455V2477.7M636.5 2457.8V2480.5M640.7 2460.1V2482.7M644.9 2461.2V2483.7M649.1 2462.3V2484.8M653.3 2463.5V2485.9M657.5 2465.1V2487.4M661.7 2466.7V2489M665.9 2468.1V2490.4M670.1 2468.7V2490.9M674.3 2469.3V2491.4M678.5 2469.8V2491.9M682.7 2470.6V2492.5M686.9 2471.3V2493.2M691.1 2449.6V2471.4M695.3 2402.9V2424.7M699.5 2372V2393.8M703.7 2378.4V2400M707.9 2390.3V2411.9M712.1 2402.9V2424.5M716.4 2416.4V2437.8M720.6 2430.4V2451.9M724.8 2442.7V2464.2M729 2450V2471.6M733.2 2457.3V2479M737.4 2464V2485.7M741.6 2467.1V2488.9M745.8 2470.2V2492M750 2473.2V2495M754.2 2474.2V2496.1M758.4 2475.3V2497.2M762.6 2476.3V2498.3M766.8 2477V2499M771 2477.7V2499.7M775.2 2478.4V2500.5M779.4 2479.3V2501.4M783.6 2454.4V2476.6M787.8 2317.2V2339.4M792 2266V2288.3M796.2 2262V2284.4M800.4 2272.1V2294.5M804.6 2282V2304.4M808.9 2291.8V2314.2M813.1 2301.6V2324.1M817.3 2311.3V2333.9M821.5 2321.3V2343.9M825.7 2332.5V2355.1M829.9 2343.7V2366.3M834.1 2354.8V2377.6M838.3 2366V2388.8M842.5 2377.2V2400M846.7 2388.4V2411.3M850.9 2399V2421.9M855.1 2406V2428.9M859.3 2413V2435.9M863.5 2417.6V2440.6M867.7 2421.8V2444.9M871.9 2426V2449.1M876.1 2430.2V2453.3M880.3 2434.3V2457.5M884.5 2438.5V2461.8M888.7 2441.7V2465M892.9 2444.3V2467.6M897.1 2446.9V2470.3M901.4 2449.1V2472.5M905.6 2451V2474.5M909.8 2453V2476.5M914 2455V2478.6M918.2 2457.1V2480.7M922.4 2459.2V2482.9M926.6 2460.2V2484M930.8 2461.3V2485M935 2462.3V2486.1M939.2 2462.9V2486.7M943.4 2463.4V2487.3M947.6 2463.9V2487.8M951.8 2464.8V2488.8M956 2465.8V2489.8M960.2 2466.9V2490.9M964.4 2456.1V2480.2M968.6 2448.8V2472.9M972.8 2447.9V2472.1M977 2448.2V2472.5M981.2 2449.3V2473.6M985.4 2450.3V2474.6M989.7 2451.9V2476.3M993.9 2454V2478.4M998.1 2456.1V2480.5M1002.3 2458.1V2482.7M1006.5 2460.2V2484.8M1010.7 2462.3V2486.9M1014.9 2464.2V2488.8M1019.1 2465.7V2490.4M1023.3 2467.3V2492M1027.5 2468.7V2493.5M1031.7 2469.7V2494.6M1035.9 2470.8V2495.6M1040.1 2471.8V2496.7M1044.3 2472.8V2497.8M1048.5 2473.9V2498.9M1052.7 2474.8V2499.9M1056.9 2475.5V2500.6M1061.1 2476.2V2501.4M1065.3 2448.7V2474M1069.5 2409.2V2434.5M1073.7 2364V2389.4M1077.9 2361.5V2386.9M1082.2 2359.3V2384.8M1086.4 2359.3V2384.9M1090.6 2359.2V2384.9M1094.8 2359.7V2385.4M1099 2360.1V2385.9M1103.2 2360.6V2386.5M1107.4 2362.3V2388.2M1111.6 2364.4V2390.4M1115.8 2366.5V2392.5M1120 2368.2V2394.3M1124.2 2369.7V2395.9M1128.4 2371.3V2397.5M1132.6 2373.9V2400.2M1136.8 2377.4V2403.8M1141 2378.5V2404.9M1145.2 2371.4V2397.9M1149.4 2351.8V2378.3M1153.6 2346.7V2373.3M1157.8 2343.8V2370.5M1162 2343.1V2369.9M1166.2 2342.1V2369M1170.5 2338.6V2365.5M1174.7 2335.1V2362M1178.9 2332.6V2359.6M1183.1 2330.5V2357.6M1187.3 2328.6V2355.8M1191.5 2327.2V2354.4M1195.7 2325.9V2353.2M1199.9 2325.1V2352.5M1204.1 2324.4V2351.8M1208.3 2324.8V2352.3M1212.5 2325.5V2353.1M1216.7 2326.9V2354.5M1220.9 2328.9V2356.6M1225.1 2331V2358.8M1229.3 2333.1V2360.9M1233.5 2335.1V2363M1237.7 2335.8V2363.8M1241.9 2336.3V2364.4M1246.1 2336.8V2364.9M1250.3 2336.9V2365.1M1254.5 2336.9V2365.1M1258.7 2336.8V2365.1M1263 2337.5V2365.9M1267.2 2338.5V2367M1271.4 2339.6V2368.1M1275.6 2339.9V2368.5M1279.8 2339.9V2368.5"/>
<polyline fill="none" stroke="#000" stroke-width="1.4" stroke-linejoin="round" points="127.7,2429 131.9,2425.8 136.1,2421.7 140.3,2419.1 144.5,2419.1 148.7,2419.3 152.9,2421.4 157.1,2426.8 161.3,2435.2 165.5,2427.1 169.7,2421.1 174,2418.3 178.2,2414.8 182.4,2406.4 186.6,2399.2 190.8,2393.1 195,2392.4 199.2,2391.7 203.4,2391.2 207.6,2390.6 211.8,2390.1 216,2390.4 220.2,2391.1 224.4,2392.5 228.6,2395.7 232.8,2396 237,2395.5 241.2,2395 245.4,2393.4 249.6,2391.2 253.8,2389.1 258,2387 262.2,2385.1 266.5,2386.5 270.7,2387.9 274.9,2391.4 279.1,2388.8 283.3,2386 287.5,2384.4 291.7,2383.3 295.9,2382.3 300.1,2380 304.3,2377 308.5,2378 312.7,2379.1 316.9,2380.1 321.1,2379.7 325.3,2379.2 329.5,2378.6 333.7,2375.9 337.9,2372.4 342.1,2368.2 346.3,2351.3 350.5,2327.8 354.8,2325.7 359,2318.8 363.2,2309.6 367.4,2310.3 371.6,2314.5 375.8,2318.7 380,2322.9 384.2,2326.6 388.4,2329.7 392.6,2332.9 396.8,2335.4 401,2337 405.2,2338.5 409.4,2340.7 413.6,2344.2 417.8,2347.7 422,2356.1 426.2,2365.5 430.4,2353 434.6,2314.3 438.8,2296.1 443,2301.6 447.3,2307.3 451.5,2310.8 455.7,2314.3 459.9,2315.3 464.1,2283.6 468.3,2282.1 472.5,2288.8 476.7,2293 480.9,2294.4 485.1,2290.2 489.3,2294.3 493.5,2298.8 497.7,2297.9 501.9,2297 506.1,2296.2 510.3,2298.8 514.5,2303.8 518.7,2310.1 522.9,2317.2 527.1,2327.5 531.3,2344.3 535.6,2360 539.8,2375.4 544,2387.5 548.2,2395.9 552.4,2375.4 556.6,2372.1 560.8,2376.1 565,2386.2 569.2,2399 573.4,2417.9 577.6,2429.9 581.8,2439.7 586,2446.6 590.2,2450 594.4,2445.8 598.6,2435.1 602.8,2427.8 607,2430.3 611.2,2434 615.4,2441 619.6,2448 623.8,2455 628.1,2462.1 632.3,2466.4 636.5,2469.2 640.7,2471.4 644.9,2472.5 649.1,2473.5 653.3,2474.7 657.5,2476.3 661.7,2477.8 665.9,2479.3 670.1,2479.8 674.3,2480.3 678.5,2480.8 682.7,2481.5 686.9,2482.2 691.1,2460.5 695.3,2413.8 699.5,2382.9 703.7,2389.2 707.9,2401.1 712.1,2413.7 716.4,2427.1 720.6,2441.1 724.8,2453.5 729,2460.8 733.2,2468.2 737.4,2474.8 741.6,2478 745.8,2481.1 750,2484.1 754.2,2485.2 758.4,2486.2 762.6,2487.3 766.8,2488 771,2488.7 775.2,2489.5 779.4,2490.3 783.6,2465.5 787.8,2328.3 792,2277.2 796.2,2273.2 800.4,2283.3 804.6,2293.2 808.9,2303 813.1,2312.8 817.3,2322.6 821.5,2332.6 825.7,2343.8 829.9,2355 834.1,2366.2 838.3,2377.4 842.5,2388.6 846.7,2399.8 850.9,2410.4 855.1,2417.4 859.3,2424.4 863.5,2429.1 867.7,2433.3 871.9,2437.5 876.1,2441.7 880.3,2445.9 884.5,2450.1 888.7,2453.3 892.9,2455.9 897.1,2458.6 901.4,2460.8 905.6,2462.8 909.8,2464.7 914,2466.8 918.2,2468.9 922.4,2471 926.6,2472.1 930.8,2473.1 935,2474.2 939.2,2474.8 943.4,2475.3 947.6,2475.8 951.8,2476.8 956,2477.8 960.2,2478.9 964.4,2468.1 968.6,2460.9 972.8,2460 977,2460.4 981.2,2461.4 985.4,2462.5 989.7,2464.1 993.9,2466.2 998.1,2468.3 1002.3,2470.4 1006.5,2472.5 1010.7,2474.6 1014.9,2476.5 1019.1,2478.1 1023.3,2479.7 1027.5,2481.1 1031.7,2482.1 1035.9,2483.2 1040.1,2484.3 1044.3,2485.3 1048.5,2486.4 1052.7,2487.4 1056.9,2488.1 1061.1,2488.8 1065.3,2461.3 1069.5,2421.9 1073.7,2376.7 1077.9,2374.2 1082.2,2372.1 1086.4,2372.1 1090.6,2372.1 1094.8,2372.5 1099,2373 1103.2,2373.6 1107.4,2375.3 1111.6,2377.4 1115.8,2379.5 1120,2381.2 1124.2,2382.8 1128.4,2384.4 1132.6,2387.1 1136.8,2390.6 1141,2391.7 1145.2,2384.7 1149.4,2365 1153.6,2360 1157.8,2357.2 1162,2356.5 1166.2,2355.5 1170.5,2352 1174.7,2348.5 1178.9,2346.1 1183.1,2344 1187.3,2342.2 1191.5,2340.8 1195.7,2339.5 1199.9,2338.8 1204.1,2338.1 1208.3,2338.6 1212.5,2339.3 1216.7,2340.7 1220.9,2342.8 1225.1,2344.9 1229.3,2347 1233.5,2349.1 1237.7,2349.8 1241.9,2350.3 1246.1,2350.9 1250.3,2351 1254.5,2351 1258.7,2351 1263,2351.7 1267.2,2352.8 1271.4,2353.8 1275.6,2354.2 1279.8,2354.2"/><path fill="none" stroke="#000" stroke-width="2.4" d="M126.5 2429h2.4M130.7 2425.8h2.4M134.9 2421.7h2.4M139.1 2419.1h2.4M143.3 2419.1h2.4M147.5 2419.3h2.4M151.7 2421.4h2.4M155.9 2426.8h2.4M160.1 2435.2h2.4M164.3 2427.1h2.4M168.5 2421.1h2.4M172.8 2418.3h2.4M177 2414.8h2.4M181.2 2406.4h2.4M185.4 2399.2h2.4M189.6 2393.1h2.4M193.8 2392.4h2.4M198 2391.7h2.4M202.2 2391.2h2.4M206.4 2390.6h2.4M210.6 2390.1h2.4M214.8 2390.4h2.4M219 2391.1h2.4M223.2 2392.5h2.4M227.4 2395.7h2.4M231.6 2396h2.4M235.8 2395.5h2.4M240 2395h2.4M244.2 2393.4h2.4M248.4 2391.2h2.4M252.6 2389.1h2.4M256.8 2387h2.4M261 2385.1h2.4M265.3 2386.5h2.4M269.5 2387.9h2.4M273.7 2391.4h2.4M277.9 2388.8h2.4M282.1 2386h2.4M286.3 2384.4h2.4M290.5 2383.3h2.4M294.7 2382.3h2.4M298.9 2380h2.4M303.1 2377h2.4M307.3 2378h2.4M311.5 2379.1h2.4M315.7 2380.1h2.4M319.9 2379.7h2.4M324.1 2379.2h2.4M328.3 2378.6h2.4M332.5 2375.9h2.4M336.7 2372.4h2.4M340.9 2368.2h2.4M345.1 2351.3h2.4M349.3 2327.8h2.4M353.6 2325.7h2.4M357.8 2318.8h2.4M362 2309.6h2.4M366.2 2310.3h2.4M370.4 2314.5h2.4M374.6 2318.7h2.4M378.8 2322.9h2.4M383 2326.6h2.4M387.2 2329.7h2.4M391.4 2332.9h2.4M395.6 2335.4h2.4M399.8 2337h2.4M404 2338.5h2.4M408.2 2340.7h2.4M412.4 2344.2h2.4M416.6 2347.7h2.4M420.8 2356.1h2.4M425 2365.5h2.4M429.2 2353h2.4M433.4 2314.3h2.4M437.6 2296.1h2.4M441.8 2301.6h2.4M446.1 2307.3h2.4M450.3 2310.8h2.4M454.5 2314.3h2.4M458.7 2315.3h2.4M462.9 2283.6h2.4M467.1 2282.1h2.4M471.3 2288.8h2.4M475.5 2293h2.4M479.7 2294.4h2.4M483.9 2290.2h2.4M488.1 2294.3h2.4M492.3 2298.8h2.4M496.5 2297.9h2.4M500.7 2297h2.4M504.9 2296.2h2.4M509.1 2298.8h2.4M513.3 2303.8h2.4M517.5 2310.1h2.4M521.7 2317.2h2.4M525.9 2327.5h2.4M530.1 2344.3h2.4M534.4 2360h2.4M538.6 2375.4h2.4M542.8 2387.5h2.4M547 2395.9h2.4M551.2 2375.4h2.4M555.4 2372.1h2.4M559.6 2376.1h2.4M563.8 2386.2h2.4M568 2399h2.4M572.2 2417.9h2.4M576.4 2429.9h2.4M580.6 2439.7h2.4M584.8 2446.6h2.4M589 2450h2.4M593.2 2445.8h2.4M597.4 2435.1h2.4M601.6 2427.8h2.4M605.8 2430.3h2.4M610 2434h2.4M614.2 2441h2.4M618.4 2448h2.4M622.6 2455h2.4M626.9 2462.1h2.4M631.1 2466.4h2.4M635.3 2469.2h2.4M639.5 2471.4h2.4M643.7 2472.5h2.4M647.9 2473.5h2.4M652.1 2474.7h2.4M656.3 2476.3h2.4M660.5 2477.8h2.4M664.7 2479.3h2.4M668.9 2479.8h2.4M673.1 2480.3h2.4M677.3 2480.8h2.4M681.5 2481.5h2.4M685.7 2482.2h2.4M689.9 2460.5h2.4M694.1 2413.8h2.4M698.3 2382.9h2.4M702.5 2389.2h2.4M706.7 2401.1h2.4M710.9 2413.7h2.4M715.1 2427.1h2.4M719.4 2441.1h2.4M723.6 2453.5h2.4M727.8 2460.8h2.4M732 2468.2h2.4M736.2 2474.8h2.4M740.4 2478h2.4M744.6 2481.1h2.4M748.8 2484.1h2.4M753 2485.2h2.4M757.2 2486.2h2.4M761.4 2487.3h2.4M765.6 2488h2.4M769.8 2488.7h2.4M774 2489.5h2.4M778.2 2490.3h2.4M782.4 2465.5h2.4M786.6 2328.3h2.4M790.8 2277.2h2.4M795 2273.2h2.4M799.2 2283.3h2.4M803.4 2293.2h2.4M807.7 2303h2.4M811.9 2312.8h2.4M816.1 2322.6h2.4M820.3 2332.6h2.4M824.5 2343.8h2.4M828.7 2355h2.4M832.9 2366.2h2.4M837.1 2377.4h2.4M841.3 2388.6h2.4M845.5 2399.8h2.4M849.7 2410.4h2.4M853.9 2417.4h2.4M858.1 2424.4h2.4M862.3 2429.1h2.4M866.5 2433.3h2.4M870.7 2437.5h2.4M874.9 2441.7h2.4M879.1 2445.9h2.4M883.3 2450.1h2.4M887.5 2453.3h2.4M891.7 2455.9h2.4M895.9 2458.6h2.4M900.2 2460.8h2.4M904.4 2462.8h2.4M908.6 2464.7h2.4M912.8 2466.8h2.4M917 2468.9h2.4M921.2 2471h2.4M925.4 2472.1h2.4M929.6 2473.1h2.4M933.8 2474.2h2.4M938 2474.8h2.4M942.2 2475.3h2.4M946.4 2475.8h2.4M950.6 2476.8h2.4M954.8 2477.8h2.4M959 2478.9h2.4M963.2 2468.1h2.4M967.4 2460.9h2.4M971.6 2460h2.4M975.8 2460.4h2.4M980 2461.4h2.4M984.2 2462.5h2.4M988.5 2464.1h2.4M992.7 2466.2h2.4M996.9 2468.3h2.4M1001.1 2470.4h2.4M1005.3 2472.5h2.4M1009.5 2474.6h2.4M1013.7 2476.5h2.4M1017.9 2478.1h2.4M1022.1 2479.7h2.4M1026.3 2481.1h2.4M1030.5 2482.1h2.4M1034.7 2483.2h2.4M1038.9 2484.3h2.4M1043.1 2485.3h2.4M1047.3 2486.4h2.4M1051.5 2487.4h2.4M1055.7 2488.1h2.4M1059.9 2488.8h2.4M1064.1 2461.3h2.4M1068.3 2421.9h2.4M1072.5 2376.7h2.4M1076.7 2374.2h2.4M1081 2372.1h2.4M1085.2 2372.1h2.4M1089.4 2372.1h2.4M1093.6 2372.5h2.4M1097.8 2373h2.4M1102 2373.6h2.4M1106.2 2375.3h2.4M1110.4 2377.4h2.4M1114.6 2379.5h2.4M1118.8 2381.2h2.4M1123 2382.8h2.4M1127.2 2384.4h2.4M1131.4 2387.1h2.4M1135.6 2390.6h2.4M1139.8 2391.7h2.4M1144 2384.7h2.4M1148.2 2365h2.4M1152.4 2360h2.4M1156.6 2357.2h2.4M1160.8 2356.5h2.4M1165 2355.5h2.4M1169.3 2352h2.4M1173.5 2348.5h2.4M1177.7 2346.1h2.4M1181.9 2344h2.4M1186.1 2342.2h2.4M1190.3 2340.8h2.4M1194.5 2339.5h2.4M1198.7 2338.8h2.4M1202.9 2338.1h2.4M1207.1 2338.6h2.4M1211.3 2339.3h2.4M1215.5 2340.7h2.4M1219.7 2342.8h2.4M1223.9 2344.9h2.4M1228.1 2347h2.4M1232.3 2349.1h2.4M1236.5 2349.8h2.4M1240.7 2350.3h2.4M1244.9 2350.9h2.4M1249.1 2351h2.4M1253.3 2351h2.4M1257.5 2351h2.4M1261.8 2351.7h2.4M1266 2352.8h2.4M1270.2 2353.8h2.4M1274.4 2354.2h2.4M1278.6 2354.2h2.4"/>
<polyline fill="none" stroke="#008000" stroke-width="6" stroke-linejoin="round" points="127.7,2440 131.9,2432.6 136.1,2424.3 140.3,2415.9 144.5,2407.5 148.7,2403.3 152.9,2400 157.1,2404.3 161.3,2409.3 165.5,2398.4 169.7,2389.5 174,2378.3 178.2,2365.9 182.4,2355.4 186.6,2347.3 190.8,2341.2 195,2341.2 199.2,2341.2 203.4,2341.7 207.6,2342.4 211.8,2343.1 216,2343.8 220.2,2346 224.4,2362.8 228.6,2371 232.8,2372.1 237,2358.4 241.2,2348.4 245.4,2342.8 249.6,2337.8 253.8,2336.4 258,2335 262.2,2334.7 266.5,2334.7 270.7,2340.1 274.9,2350.6 279.1,2340.8 283.3,2333.6 287.5,2330.8 291.7,2328 295.9,2325.9 300.1,2323.8 304.3,2321.8 308.5,2321.2 312.7,2320.7 316.9,2320.2 321.1,2319.7 325.3,2319.1 329.5,2318.6 333.7,2316.7 337.9,2307.7 342.1,2283.7 346.3,2266.9 350.5,2259.2 354.8,2255 359,2250.8 363.2,2246.6 367.4,2248.6 371.6,2252.8 375.8,2257 380,2261.2 384.2,2265.9 388.4,2271.2 392.6,2271.5 396.8,2271.5 401,2271.5 405.2,2271.5 409.4,2271.5 413.6,2271.5 417.8,2273.1 422,2275.2 426.2,2277.6 430.4,2263.3 434.6,2235.9 438.8,2236.4 443,2242.8 447.3,2246.2 451.5,2249 455.7,2250.4 459.9,2250.4 464.1,2217.9 468.3,2221.4 472.5,2229.8 476.7,2232.7 480.9,2232.4 485.1,2227.1 489.3,2229.3 493.5,2232.1 497.7,2230.3 501.9,2228.5 506.1,2226.7 510.3,2228 514.5,2231.4 518.7,2234.8 522.9,2238.3 527.1,2242.1 531.3,2246.3 535.6,2250.5 539.8,2256.1 544,2261.7 548.2,2265.3 552.4,2251.5 556.6,2246.1 560.8,2247 565,2251.9 569.2,2257.5 573.4,2263.8 577.6,2270.8 581.8,2277.9 586,2284.9 590.2,2291.9 594.4,2286 598.6,2267.3 602.8,2262.2 607,2264.7 611.2,2268.1 615.4,2273.7 619.6,2279.3 623.8,2290.3 628.1,2301.5 632.3,2313.6 636.5,2326.2 640.7,2337.5 644.9,2345.9 649.1,2354.3 653.3,2362.7 657.5,2371.1 661.7,2377.6 665.9,2383.2 670.1,2388.3 674.3,2392.5 678.5,2396.6 682.7,2399.4 686.9,2402.2 691.1,2384.1 695.3,2312.5 699.5,2294.5 703.7,2297.2 707.9,2304.2 712.1,2314.5 716.4,2331.3 720.6,2348.1 724.8,2362.1 729,2376.1 733.2,2390.1 737.4,2404.1 741.6,2415.4 745.8,2422.4 750,2429.1 754.2,2431.9 758.4,2434.7 762.6,2437.5 766.8,2440.3 771,2443.1 775.2,2445.9 779.4,2439.2 783.6,2369.1 787.8,2215.7 792,2220.7 796.2,2225.9 800.4,2231.5 804.6,2237.1 808.9,2241.4 813.1,2245.6 817.3,2251.6 821.5,2258.6 825.7,2264.4 829.9,2267.5 834.1,2277.2 838.3,2288.7 842.5,2299.9 846.7,2311.1 850.9,2321 855.1,2330.9 859.3,2339 863.5,2346 867.7,2352.6 871.9,2358.2 876.1,2363.8 880.3,2372.1 884.5,2380.5 888.7,2387.1 892.9,2392.7 897.1,2398.1 901.4,2403.1 905.6,2408 909.8,2412.9 914,2417.1 918.2,2421.3 922.4,2424 926.6,2426.1 930.8,2427.5 935,2428 939.2,2428.5 943.4,2429.1 947.6,2429.8 951.8,2430.6 956,2432.2 960.2,2431.8 964.4,2412.6 968.6,2396.3 972.8,2395.6 977,2394.9 981.2,2396.6 985.4,2398.7 989.7,2400.8 993.9,2402.9 998.1,2405 1002.3,2408.7 1006.5,2414.3 1010.7,2419.9 1014.9,2425.5 1019.1,2431.1 1023.3,2433.8 1027.5,2435.9 1031.7,2438.1 1035.9,2440.2 1040.1,2442.3 1044.3,2444.4 1048.5,2446.5 1052.7,2448.6 1056.9,2450.7 1061.1,2451.6 1065.3,2433 1069.5,2391.2 1073.7,2369.1 1077.9,2366.3 1082.2,2363.8 1086.4,2363.1 1090.6,2362.4 1094.8,2363.7 1099,2365.2 1103.2,2366.8 1107.4,2367.6 1111.6,2368.1 1115.8,2368.6 1120,2369.9 1124.2,2371.4 1128.4,2373 1132.6,2374.9 1136.8,2377 1141,2378.8 1145.2,2379.9 1149.4,2365.1 1153.6,2358 1157.8,2353.7 1162,2352.3 1166.2,2350.7 1170.5,2347.9 1174.7,2345.1 1178.9,2336.4 1183.1,2353.9 1187.3,2352.5 1191.5,2351.1 1195.7,2349.1 1199.9,2340 1204.1,2329 1208.3,2324.8 1212.5,2322.3 1216.7,2324.4 1220.9,2329.6 1225.1,2335 1229.3,2336.4 1233.5,2337.8 1237.7,2336.8 1241.9,2335.4 1246.1,2334 1250.3,2332.6 1254.5,2330.8 1258.7,2328 1263,2325.2 1267.2,2326.3 1271.4,2327.7 1275.6,2326.1 1279.8,2322.6"/>
<path fill="none" stroke="#c8c8c8" stroke-width="2.4" d="M127.7 2422.1V2457.9M131.9 2414.7V2450.5M136.1 2406.4V2442.2M140.3 2398V2433.8M144.5 2389.6V2425.4M148.7 2385.4V2421.2M152.9 2382V2417.9M157.1 2386.3V2422.2M161.3 2391.4V2427.3M165.5 2380.4V2416.3M169.7 2371.5V2407.4M174 2360.3V2396.2M178.2 2347.9V2383.9M182.4 2337.4V2373.4M186.6 2329.3V2365.3M190.8 2323.2V2359.2M195 2323.2V2359.2M199.2 2323.2V2359.2M203.4 2323.7V2359.8M207.6 2324.4V2360.5M211.8 2325.1V2361.2M216 2325.8V2361.9M220.2 2327.9V2364M224.4 2344.7V2380.8M228.6 2353V2389.1M232.8 2354V2390.1M237 2340.3V2376.5M241.2 2330.3V2366.5M245.4 2324.7V2360.9M249.6 2319.7V2355.9M253.8 2318.3V2354.5M258 2316.9V2353.1M262.2 2316.6V2352.8M266.5 2316.6V2352.9M270.7 2322V2358.2M274.9 2332.5V2368.7M279.1 2322.7V2359M283.3 2315.4V2351.7M287.5 2312.6V2348.9M291.7 2309.9V2346.2M295.9 2307.8V2344.1M300.1 2305.7V2342M304.3 2303.6V2339.9M308.5 2303.1V2339.4M312.7 2302.5V2338.9M316.9 2302V2338.4M321.1 2301.5V2337.8M325.3 2300.9V2337.3M329.5 2300.4V2336.8M333.7 2298.5V2335M337.9 2289.5V2326M342.1 2265.5V2301.9M346.3 2248.6V2285.1M350.5 2241V2277.4M354.8 2236.8V2273.2M359 2232.5V2269M363.2 2228.3V2264.9M367.4 2230.3V2266.8M371.6 2234.5V2271.1M375.8 2238.7V2275.3M380 2242.9V2279.5M384.2 2247.6V2284.2M388.4 2252.9V2289.5M392.6 2253.1V2289.8M396.8 2253.1V2289.8M401 2253.1V2289.8M405.2 2253.1V2289.8M409.4 2253.1V2289.8M413.6 2253.1V2289.8M417.8 2254.7V2291.4M422 2256.8V2293.5M426.2 2259.2V2296M430.4 2244.9V2281.6M434.6 2217.5V2254.3M438.8 2218.1V2254.8M443 2224.4V2261.1M447.3 2227.8V2264.6M451.5 2230.6V2267.4M455.7 2232V2268.8M459.9 2231.9V2268.8M464.1 2199.5V2236.3M468.3 2203V2239.9M472.5 2211.4V2248.3M476.7 2214.3V2251.2M480.9 2213.9V2250.8M485.1 2208.7V2245.6M489.3 2210.9V2247.8M493.5 2213.6V2250.5M497.7 2211.8V2248.8M501.9 2210V2247M506.1 2208.3V2245.2M510.3 2209.5V2246.5M514.5 2212.9V2249.8M518.7 2216.3V2253.3M522.9 2219.8V2256.8M527.1 2223.5V2260.6M531.3 2227.7V2264.8M535.6 2232V2269M539.8 2237.6V2274.6M544 2243.2V2280.3M548.2 2246.8V2283.9M552.4 2232.9V2270M556.6 2227.6V2264.7M560.8 2228.4V2265.5M565 2233.3V2270.4M569.2 2238.9V2276.1M573.4 2245.3V2282.4M577.6 2252.3V2289.4M581.8 2259.3V2296.5M586 2266.3V2303.5M590.2 2273.3V2310.5M594.4 2267.4V2304.6M598.6 2248.7V2285.9M602.8 2243.6V2280.9M607 2246.1V2283.4M611.2 2249.5V2286.7M615.4 2255.1V2292.4M619.6 2260.7V2298M623.8 2271.6V2308.9M628.1 2282.8V2320.2M632.3 2294.9V2332.3M636.5 2307.5V2344.9M640.7 2318.8V2356.2M644.9 2327.2V2364.6M649.1 2335.6V2373M653.3 2344V2381.4M657.5 2352.4V2389.8M661.7 2358.9V2396.3M665.9 2364.5V2401.9M670.1 2369.5V2407M674.3 2373.7V2411.2M678.5 2377.8V2415.3M682.7 2380.6V2418.1M686.9 2383.4V2421M691.1 2365.4V2402.9M695.3 2293.8V2331.3M699.5 2275.7V2313.3M703.7 2278.4V2315.9M707.9 2285.4V2323M712.1 2295.7V2333.3M716.4 2312.5V2350.1M720.6 2329.3V2366.9M724.8 2343.3V2380.9M729 2357.3V2394.9M733.2 2371.3V2409M737.4 2385.3V2423M741.6 2396.6V2434.2M745.8 2403.6V2441.3M750 2410.2V2447.9M754.2 2413V2450.8M758.4 2415.8V2453.6M762.6 2418.6V2456.4M766.8 2421.4V2459.2M771 2424.2V2462M775.2 2427V2464.8M779.4 2420.3V2458.1M783.6 2350.2V2388M787.8 2196.7V2234.6M792 2201.8V2239.6M796.2 2207V2244.8M800.4 2212.6V2250.4M804.6 2218.2V2256.1M808.9 2222.4V2260.3M813.1 2226.6V2264.5M817.3 2232.6V2270.6M821.5 2239.6V2277.6M825.7 2245.4V2283.3M829.9 2248.5V2286.5M834.1 2258.2V2296.2M838.3 2269.7V2307.7M842.5 2280.9V2318.9M846.7 2292.1V2330.1M850.9 2302V2340.1M855.1 2311.8V2349.9M859.3 2319.9V2358M863.5 2326.9V2365M867.7 2333.5V2371.6M871.9 2339.1V2377.2M876.1 2344.7V2382.9M880.3 2353.1V2391.2M884.5 2361.5V2399.6M888.7 2368V2406.2M892.9 2373.6V2411.8M897.1 2379V2417.2M901.4 2384V2422.2M905.6 2388.9V2427.1M909.8 2393.8V2432M914 2398V2436.2M918.2 2402.2V2440.5M922.4 2404.8V2443.1M926.6 2406.9V2445.2M930.8 2408.3V2446.6M935 2408.9V2447.1M939.2 2409.4V2447.7M943.4 2410V2448.3M947.6 2410.7V2449M951.8 2411.4V2449.7M956 2413.1V2451.4M960.2 2412.6V2451M964.4 2393.4V2431.8M968.6 2377.1V2415.5M972.8 2376.4V2414.8M977 2375.7V2414.1M981.2 2377.4V2415.8M985.4 2379.5V2417.9M989.7 2381.6V2420M993.9 2383.7V2422.1M998.1 2385.8V2424.2M1002.3 2389.4V2427.9M1006.5 2395V2433.6M1010.7 2400.6V2439.2M1014.9 2406.2V2444.8M1019.1 2411.8V2450.4M1023.3 2414.6V2453.1M1027.5 2416.7V2455.2M1031.7 2418.8V2457.3M1035.9 2420.9V2459.5M1040.1 2422.9V2461.6M1044.3 2425V2463.7M1048.5 2427.1V2465.8M1052.7 2429.2V2467.9M1056.9 2431.3V2470M1061.1 2432.3V2470.9M1065.3 2413.7V2452.4M1069.5 2371.8V2410.5M1073.7 2349.8V2388.5M1077.9 2347V2385.7M1082.2 2344.5V2383.2M1086.4 2343.8V2382.5M1090.6 2343.1V2381.8M1094.8 2344.3V2383.1M1099 2345.8V2384.6M1103.2 2347.4V2386.2M1107.4 2348.2V2387M1111.6 2348.7V2387.5M1115.8 2349.2V2388.1M1120 2350.4V2389.3M1124.2 2352V2390.9M1128.4 2353.6V2392.5M1132.6 2355.5V2394.4M1136.8 2357.5V2396.5M1141 2359.4V2398.3M1145.2 2360.4V2399.4M1149.4 2345.6V2384.6M1153.6 2338.5V2377.5M1157.8 2334.2V2373.1M1162 2332.8V2371.8M1166.2 2331.2V2370.2M1170.5 2328.4V2367.4M1174.7 2325.6V2364.6M1178.9 2316.9V2355.9M1183.1 2334.4V2373.4M1187.3 2333V2372M1191.5 2331.6V2370.6M1195.7 2329.5V2368.6M1199.9 2320.5V2359.6M1204.1 2309.4V2348.6M1208.3 2305.2V2344.4M1212.5 2302.8V2341.9M1216.7 2304.9V2344M1220.9 2310V2349.2M1225.1 2315.4V2354.6M1229.3 2316.8V2356M1233.5 2318.2V2357.4M1237.7 2317.1V2356.4M1241.9 2315.7V2355M1246.1 2314.3V2353.6M1250.3 2312.9V2352.2M1254.5 2311.2V2350.5M1258.7 2308.4V2347.7M1263 2305.6V2344.9M1267.2 2306.6V2346M1271.4 2308V2347.4M1275.6 2306.4V2345.8M1279.8 2302.9V2342.3"/>
<polyline fill="none" stroke="#000" stroke-width="1.4" stroke-linejoin="round" points="127.7,2440 131.9,2432.6 136.1,2424.3 140.3,2415.9 144.5,2407.5 148.7,2403.3 152.9,2400 157.1,2404.3 161.3,2409.3 165.5,2398.4 169.7,2389.5 174,2378.3 178.2,2365.9 182.4,2355.4 186.6,2347.3 190.8,2341.2 195,2341.2 199.2,2341.2 203.4,2341.7 207.6,2342.4 211.8,2343.1 216,2343.8 220.2,2346 224.4,2362.8 228.6,2371 232.8,2372.1 237,2358.4 241.2,2348.4 245.4,2342.8 249.6,2337.8 253.8,2336.4 258,2335 262.2,2334.7 266.5,2334.7 270.7,2340.1 274.9,2350.6 279.1,2340.8 283.3,2333.6 287.5,2330.8 291.7,2328 295.9,2325.9 300.1,2323.8 304.3,2321.8 308.5,2321.2 312.7,2320.7 316.9,2320.2 321.1,2319.7 325.3,2319.1 329.5,2318.6 333.7,2316.7 337.9,2307.7 342.1,2283.7 346.3,2266.9 350.5,2259.2 354.8,2255 359,2250.8 363.2,2246.6 367.4,2248.6 371.6,2252.8 375.8,2257 380,2261.2 384.2,2265.9 388.4,2271.2 392.6,2271.5 396.8,2271.5 401,2271.5 405.2,2271.5 409.4,2271.5 413.6,2271.5 417.8,2273.1 422,2275.2 426.2,2277.6 430.4,2263.3 434.6,2235.9 438.8,2236.4 443,2242.8 447.3,2246.2 451.5,2249 455.7,2250.4 459.9,2250.4 464.1,2217.9 468.3,2221.4 472.5,2229.8 476.7,2232.7 480.9,2232.4 485.1,2227.1 489.3,2229.3 493.5,2232.1 497.7,2230.3 501.9,2228.5 506.1,2226.7 510.3,2228 514.5,2231.4 518.7,2234.8 522.9,2238.3 527.1,2242.1 531.3,2246.3 535.6,2250.5 539.8,2256.1 544,2261.7 548.2,2265.3 552.4,2251.5 556.6,2246.1 560.8,2247 565,2251.9 569.2,2257.5 573.4,2263.8 577.6,2270.8 581.8,2277.9 586,2284.9 590.2,2291.9 594.4,2286 598.6,2267.3 602.8,2262.2 607,2264.7 611.2,2268.1 615.4,2273.7 619.6,2279.3 623.8,2290.3 628.1,2301.5 632.3,2313.6 636.5,2326.2 640.7,2337.5 644.9,2345.9 649.1,2354.3 653.3,2362.7 657.5,2371.1 661.7,2377.6 665.9,2383.2 670.1,2388.3 674.3,2392.5 678.5,2396.6 682.7,2399.4 686.9,2402.2 691.1,2384.1 695.3,2312.5 699.5,2294.5 703.7,2297.2 707.9,2304.2 712.1,2314.5 716.4,2331.3 720.6,2348.1 724.8,2362.1 729,2376.1 733.2,2390.1 737.4,2404.1 741.6,2415.4 745.8,2422.4 750,2429.1 754.2,2431.9 758.4,2434.7 762.6,2437.5 766.8,2440.3 771,2443.1 775.2,2445.9 779.4,2439.2 783.6,2369.1 787.8,2215.7 792,2220.7 796.2,2225.9 800.4,2231.5 804.6,2237.1 808.9,2241.4 813.1,2245.6 817.3,2251.6 821.5,2258.6 825.7,2264.4 829.9,2267.5 834.1,2277.2 838.3,2288.7 842.5,2299.9 846.7,2311.1 850.9,2321 855.1,2330.9 859.3,2339 863.5,2346 867.7,2352.6 871.9,2358.2 876.1,2363.8 880.3,2372.1 884.5,2380.5 888.7,2387.1 892.9,2392.7 897.1,2398.1 901.4,2403.1 905.6,2408 909.8,2412.9 914,2417.1 918.2,2421.3 922.4,2424 926.6,2426.1 930.8,2427.5 935,2428 939.2,2428.5 943.4,2429.1 947.6,2429.8 951.8,2430.6 956,2432.2 960.2,2431.8 964.4,2412.6 968.6,2396.3 972.8,2395.6 977,2394.9 981.2,2396.6 985.4,2398.7 989.7,2400.8 993.9,2402.9 998.1,2405 1002.3,2408.7 1006.5,2414.3 1010.7,2419.9 1014.9,2425.5 1019.1,2431.1 1023.3,2433.8 1027.5,2435.9 1031.7,2438.1 1035.9,2440.2 1040.1,2442.3 1044.3,2444.4 1048.5,2446.5 1052.7,2448.6 1056.9,2450.7 1061.1,2451.6 1065.3,2433 1069.5,2391.2 1073.7,2369.1 1077.9,2366.3 1082.2,2363.8 1086.4,2363.1 1090.6,2362.4 1094.8,2363.7 1099,2365.2 1103.2,2366.8 1107.4,2367.6 1111.6,2368.1 1115.8,2368.6 1120,2369.9 1124.2,2371.4 1128.4,2373 1132.6,2374.9 1136.8,2377 1141,2378.8 1145.2,2379.9 1149.4,2365.1 1153.6,2358 1157.8,2353.7 1162,2352.3 1166.2,2350.7 1170.5,2347.9 1174.7,2345.1 1178.9,2336.4 1183.1,2353.9 1187.3,2352.5 1191.5,2351.1 1195.7,2349.1 1199.9,2340 1204.1,2329 1208.3,2324.8 1212.5,2322.3 1216.7,2324.4 1220.9,2329.6 1225.1,2335 1229.3,2336.4 1233.5,2337.8 1237.7,2336.8 1241.9,2335.4 1246.1,2334 1250.3,2332.6 1254.5,2330.8 1258.7,2328 1263,2325.2 1267.2,2326.3 1271.4,2327.7 1275.6,2326.1 1279.8,2322.6"/><path fill="none" stroke="#000" stroke-width="2.4" d="M126.5 2440h2.4M130.7 2432.6h2.4M134.9 2424.3h2.4M139.1 2415.9h2.4M143.3 2407.5h2.4M147.5 2403.3h2.4M151.7 2400h2.4M155.9 2404.3h2.4M160.1 2409.3h2.4M164.3 2398.4h2.4M168.5 2389.5h2.4M172.8 2378.3h2.4M177 2365.9h2.4M181.2 2355.4h2.4M185.4 2347.3h2.4M189.6 2341.2h2.4M193.8 2341.2h2.4M198 2341.2h2.4M202.2 2341.7h2.4M206.4 2342.4h2.4M210.6 2343.1h2.4M214.8 2343.8h2.4M219 2346h2.4M223.2 2362.8h2.4M227.4 2371h2.4M231.6 2372.1h2.4M235.8 2358.4h2.4M240 2348.4h2.4M244.2 2342.8h2.4M248.4 2337.8h2.4M252.6 2336.4h2.4M256.8 2335h2.4M261 2334.7h2.4M265.3 2334.7h2.4M269.5 2340.1h2.4M273.7 2350.6h2.4M277.9 2340.8h2.4M282.1 2333.6h2.4M286.3 2330.8h2.4M290.5 2328h2.4M294.7 2325.9h2.4M298.9 2323.8h2.4M303.1 2321.8h2.4M307.3 2321.2h2.4M311.5 2320.7h2.4M315.7 2320.2h2.4M319.9 2319.7h2.4M324.1 2319.1h2.4M328.3 2318.6h2.4M332.5 2316.7h2.4M336.7 2307.7h2.4M340.9 2283.7h2.4M345.1 2266.9h2.4M349.3 2259.2h2.4M353.6 2255h2.4M357.8 2250.8h2.4M362 2246.6h2.4M366.2 2248.6h2.4M370.4 2252.8h2.4M374.6 2257h2.4M378.8 2261.2h2.4M383 2265.9h2.4M387.2 2271.2h2.4M391.4 2271.5h2.4M395.6 2271.5h2.4M399.8 2271.5h2.4M404 2271.5h2.4M408.2 2271.5h2.4M412.4 2271.5h2.4M416.6 2273.1h2.4M420.8 2275.2h2.4M425 2277.6h2.4M429.2 2263.3h2.4M433.4 2235.9h2.4M437.6 2236.4h2.4M441.8 2242.8h2.4M446.1 2246.2h2.4M450.3 2249h2.4M454.5 2250.4h2.4M458.7 2250.4h2.4M462.9 2217.9h2.4M467.1 2221.4h2.4M471.3 2229.8h2.4M475.5 2232.7h2.4M479.7 2232.4h2.4M483.9 2227.1h2.4M488.1 2229.3h2.4M492.3 2232.1h2.4M496.5 2230.3h2.4M500.7 2228.5h2.4M504.9 2226.7h2.4M509.1 2228h2.4M513.3 2231.4h2.4M517.5 2234.8h2.4M521.7 2238.3h2.4M525.9 2242.1h2.4M530.1 2246.3h2.4M534.4 2250.5h2.4M538.6 2256.1h2.4M542.8 2261.7h2.4M547 2265.3h2.4M551.2 2251.5h2.4M555.4 2246.1h2.4M559.6 2247h2.4M563.8 2251.9h2.4M568 2257.5h2.4M572.2 2263.8h2.4M576.4 2270.8h2.4M580.6 2277.9h2.4M584.8 2284.9h2.4M589 2291.9h2.4M593.2 2286h2.4M597.4 2267.3h2.4M601.6 2262.2h2.4M605.8 2264.7h2.4M610 2268.1h2.4M614.2 2273.7h2.4M618.4 2279.3h2.4M622.6 2290.3h2.4M626.9 2301.5h2.4M631.1 2313.6h2.4M635.3 2326.2h2.4M639.5 2337.5h2.4M643.7 2345.9h2.4M647.9 2354.3h2.4M652.1 2362.7h2.4M656.3 2371.1h2.4M660.5 2377.6h2.4M664.7 2383.2h2.4M668.9 2388.3h2.4M673.1 2392.5h2.4M677.3 2396.6h2.4M681.5 2399.4h2.4M685.7 2402.2h2.4M689.9 2384.1h2.4M694.1 2312.5h2.4M698.3 2294.5h2.4M702.5 2297.2h2.4M706.7 2304.2h2.4M710.9 2314.5h2.4M715.1 2331.3h2.4M719.4 2348.1h2.4M723.6 2362.1h2.4M727.8 2376.1h2.4M732 2390.1h2.4M736.2 2404.1h2.4M740.4 2415.4h2.4M744.6 2422.4h2.4M748.8 2429.1h2.4M753 2431.9h2.4M757.2 2434.7h2.4M761.4 2437.5h2.4M765.6 2440.3h2.4M769.8 2443.1h2.4M774 2445.9h2.4M778.2 2439.2h2.4M782.4 2369.1h2.4M786.6 2215.7h2.4M790.8 2220.7h2.4M795 2225.9h2.4M799.2 2231.5h2.4M803.4 2237.1h2.4M807.7 2241.4h2.4M811.9 2245.6h2.4M816.1 2251.6h2.4M820.3 2258.6h2.4M824.5 2264.4h2.4M828.7 2267.5h2.4M832.9 2277.2h2.4M837.1 2288.7h2.4M841.3 2299.9h2.4M845.5 2311.1h2.4M849.7 2321h2.4M853.9 2330.9h2.4M858.1 2339h2.4M862.3 2346h2.4M866.5 2352.6h2.4M870.7 2358.2h2.4M874.9 2363.8h2.4M879.1 2372.1h2.4M883.3 2380.5h2.4M887.5 2387.1h2.4M891.7 2392.7h2.4M895.9 2398.1h2.4M900.2 2403.1h2.4M904.4 2408h2.4M908.6 2412.9h2.4M912.8 2417.1h2.4M917 2421.3h2.4M921.2 2424h2.4M925.4 2426.1h2.4M929.6 2427.5h2.4M933.8 2428h2.4M938 2428.5h2.4M942.2 2429.1h2.4M946.4 2429.8h2.4M950.6 2430.6h2.4M954.8 2432.2h2.4M959 2431.8h2.4M963.2 2412.6h2.4M967.4 2396.3h2.4M971.6 2395.6h2.4M975.8 2394.9h2.4M980 2396.6h2.4M984.2 2398.7h2.4M988.5 2400.8h2.4M992.7 2402.9h2.4M996.9 2405h2.4M1001.1 2408.7h2.4M1005.3 2414.3h2.4M1009.5 2419.9h2.4M1013.7 2425.5h2.4M1017.9 2431.1h2.4M1022.1 2433.8h2.4M1026.3 2435.9h2.4M1030.5 2438.1h2.4M1034.7 2440.2h2.4M1038.9 2442.3h2.4M1043.1 2444.4h2.4M1047.3 2446.5h2.4M1051.5 2448.6h2.4M1055.7 2450.7h2.4M1059.9 2451.6h2.4M1064.1 2433h2.4M1068.3 2391.2h2.4M1072.5 2369.1h2.4M1076.7 2366.3h2.4M1081 2363.8h2.4M1085.2 2363.1h2.4M1089.4 2362.4h2.4M1093.6 2363.7h2.4M1097.8 2365.2h2.4M1102 2366.8h2.4M1106.2 2367.6h2.4M1110.4 2368.1h2.4M1114.6 2368.6h2.4M1118.8 2369.9h2.4M1123 2371.4h2.4M1127.2 2373h2.4M1131.4 2374.9h2.4M1135.6 2377h2.4M1139.8 2378.8h2.4M1144 2379.9h2.4M1148.2 2365.1h2.4M1152.4 2358h2.4M1156.6 2353.7h2.4M1160.8 2352.3h2.4M1165 2350.7h2.4M1169.3 2347.9h2.4M1173.5 2345.1h2.4M1177.7 2336.4h2.4M1181.9 2353.9h2.4M1186.1 2352.5h2.4M1190.3 2351.1h2.4M1194.5 2349.1h2.4M1198.7 2340h2.4M1202.9 2329h2.4M1207.1 2324.8h2.4M1211.3 2322.3h2.4M1215.5 2324.4h2.4M1219.7 2329.6h2.4M1223.9 2335h2.4M1228.1 2336.4h2.4M1232.3 2337.8h2.4M1236.5 2336.8h2.4M1240.7 2335.4h2.4M1244.9 2334h2.4M1249.1 2332.6h2.4M1253.3 2330.8h2.4M1257.5 2328h2.4M1261.8 2325.2h2.4M1266 2326.3h2.4M1270.2 2327.7h2.4M1274.4 2326.1h2.4M1278.6 2322.6h2.4"/>
<polyline fill="none" stroke="#0000ff" stroke-width="6" stroke-linejoin="round" points="127.7,2364.1 131.9,2360.9 136.1,2358.1 140.3,2355.3 144.5,2355.5 148.7,2357.6 152.9,2360.1 157.1,2363.6 161.3,2367.1 165.5,2361 169.7,2356.5 174,2354.4 178.2,2351.2 182.4,2339.6 186.6,2333.1 190.8,2330.3 195,2328.5 199.2,2329.6 203.4,2330.6 207.6,2331.7 211.8,2332.7 216,2333.8 220.2,2335.1 224.4,2339.3 228.6,2341.5 232.8,2342 237,2342.6 241.2,2341.9 245.4,2339.8 249.6,2337.6 253.8,2334.8 258,2332 262.2,2330.9 266.5,2330.2 270.7,2333.1 274.9,2339.4 279.1,2334.5 283.3,2330.9 287.5,2329.5 291.7,2328 295.9,2325.9 300.1,2323.8 304.3,2321.8 308.5,2322.8 312.7,2323.9 316.9,2324.9 321.1,2325 325.3,2325 329.5,2325 333.7,2325 337.9,2321.9 342.1,2311.4 346.3,2297.7 350.5,2284.7 354.8,2278.4 359,2273.5 363.2,2269.3 367.4,2272.5 371.6,2278.4 375.8,2284.1 380,2289.7 384.2,2293.8 388.4,2296.5 392.6,2299.1 396.8,2301.1 401,2302.1 405.2,2303.2 409.4,2304.4 413.6,2305.8 417.8,2307.2 422,2316.3 426.2,2325.4 430.4,2322.5 434.6,2277.6 438.8,2263.6 443,2268.3 447.3,2273.3 451.5,2277.5 455.7,2281.7 459.9,2283.8 464.1,2254 468.3,2248.4 472.5,2255.8 476.7,2262.7 480.9,2256.4 485.1,2256.7 489.3,2262.4 493.5,2266.4 497.7,2265.5 501.9,2264.6 506.1,2263.7 510.3,2266.3 514.5,2271.3 518.7,2276.8 522.9,2282.4 527.1,2289.9 531.3,2301.1 535.6,2312.3 539.8,2322.1 544,2331.9 548.2,2340.7 552.4,2318.9 556.6,2311.4 560.8,2314.8 565,2324.8 569.2,2336 573.4,2348.7 577.6,2362.7 581.8,2375.5 586,2383.9 590.2,2392.4 594.4,2384.5 598.6,2367.7 602.8,2354.9 607,2358.3 611.2,2363 615.4,2371.4 619.6,2379.8 623.8,2392.2 628.1,2404.9 632.3,2414.8 636.5,2423.2 640.7,2429.8 644.9,2432.6 649.1,2435.4 653.3,2439.6 657.5,2443.8 661.7,2446.6 665.9,2448.7 670.1,2450.2 674.3,2450.9 678.5,2451.7 682.7,2452.9 686.9,2454.1 691.1,2429.2 695.3,2355.2 699.5,2337.8 703.7,2341.2 707.9,2350.1 712.1,2371.1 716.4,2389.8 720.6,2406.6 724.8,2422 729,2433.2 733.2,2444.4 737.4,2450.4 741.6,2456 745.8,2459.8 750,2462.6 754.2,2465.4 758.4,2468.2 762.6,2471 766.8,2467.9 771,2467.1 775.2,2469.2 779.4,2464.5 783.6,2370.8 787.8,2235.8 792,2244.2 796.2,2252.6 800.4,2261 804.6,2269.4 808.9,2277.9 813.1,2286.3 817.3,2296.5 821.5,2307.7 825.7,2318.9 829.9,2330.1 834.1,2341.3 838.3,2352.5 842.5,2363.7 846.7,2372 850.9,2379.1 855.1,2385.4 859.3,2390.7 863.5,2395.9 867.7,2400.9 871.9,2405.1 876.1,2409.3 880.3,2413.5 884.5,2417.7 888.7,2421.9 892.9,2425.9 897.1,2428.8 901.4,2431.6 905.6,2434.4 909.8,2437.2 914,2440.7 918.2,2444.2 922.4,2446.2 926.6,2447.6 930.8,2448.6 935,2449.1 939.2,2449.6 943.4,2450.5 947.6,2451.9 951.8,2453.3 956,2454.7 960.2,2456.1 964.4,2445.4 968.6,2437.7 972.8,2436 977,2436.2 981.2,2437.6 985.4,2439.5 989.7,2442.3 993.9,2445.1 998.1,2447.2 1002.3,2449.3 1006.5,2451.4 1010.7,2454 1014.9,2456.6 1019.1,2459.2 1023.3,2461.4 1027.5,2463.5 1031.7,2465.6 1035.9,2467 1040.1,2468 1044.3,2469.1 1048.5,2470.5 1052.7,2472 1056.9,2473.6 1061.1,2475.5 1065.3,2414.7 1069.5,2351.5 1073.7,2341.2 1077.9,2341.2 1082.2,2341.2 1086.4,2341.6 1090.6,2342.7 1094.8,2343.7 1099,2344.5 1103.2,2344.5 1107.4,2352.4 1111.6,2353.1 1115.8,2353.6 1120,2354.2 1124.2,2355.5 1128.4,2356.9 1132.6,2359.1 1136.8,2361.9 1141,2364.7 1145.2,2363.7 1149.4,2337.5 1153.6,2328.3 1157.8,2328.3 1162,2328.3 1166.2,2329.5 1170.5,2330.9 1174.7,2322.4 1178.9,2311 1183.1,2307.7 1187.3,2308.5 1191.5,2309.7 1195.7,2311.1 1199.9,2312.3 1204.1,2313 1208.3,2313.7 1212.5,2314.8 1216.7,2317 1220.9,2320.5 1225.1,2323.5 1229.3,2324.2 1233.5,2324.9 1237.7,2325.5 1241.9,2326 1246.1,2326.5 1250.3,2327 1254.5,2327.6 1258.7,2328.1 1263,2330.5 1267.2,2333 1271.4,2331.9 1275.6,2331.5 1279.8,2331.5"/>
<path fill="none" stroke="#c8c8c8" stroke-width="2.4" d="M127.7 2337.2V2390.9M131.9 2334.1V2387.7M136.1 2331.3V2384.9M140.3 2328.5V2382.1M144.5 2328.8V2382.2M148.7 2330.9V2384.3M152.9 2333.5V2386.8M157.1 2337V2390.3M161.3 2340.5V2393.8M165.5 2334.4V2387.6M169.7 2330V2383.1M174 2327.9V2381M178.2 2324.6V2377.7M182.4 2313.1V2366.1M186.6 2306.6V2359.6M190.8 2303.9V2356.8M195 2302.1V2355M199.2 2303.2V2356M203.4 2304.3V2357M207.6 2305.3V2358M211.8 2306.4V2359.1M216 2307.5V2360.1M220.2 2308.8V2361.4M224.4 2313.1V2365.6M228.6 2315.3V2367.7M232.8 2315.8V2368.2M237 2316.4V2368.7M241.2 2315.8V2368M245.4 2313.7V2365.9M249.6 2311.5V2363.7M253.8 2308.7V2360.9M258 2305.9V2358M262.2 2304.9V2356.9M266.5 2304.2V2356.2M270.7 2307.1V2359.1M274.9 2313.5V2365.3M279.1 2308.6V2360.5M283.3 2305V2356.8M287.5 2303.6V2355.4M291.7 2302.2V2353.9M295.9 2300.1V2351.7M300.1 2298V2349.6M304.3 2296V2347.5M308.5 2297.1V2348.6M312.7 2298.2V2349.6M316.9 2299.2V2350.6M321.1 2299.3V2350.7M325.3 2299.4V2350.6M329.5 2299.4V2350.6M333.7 2299.4V2350.6M337.9 2296.3V2347.4M342.1 2285.8V2336.9M346.3 2272.2V2323.2M350.5 2259.2V2310.2M354.8 2253V2303.9M359 2248.1V2298.9M363.2 2243.9V2294.7M367.4 2247.2V2297.9M371.6 2253.1V2303.8M375.8 2258.8V2309.4M380 2264.4V2315M384.2 2268.6V2319.1M388.4 2271.2V2321.7M392.6 2273.9V2324.3M396.8 2275.9V2326.3M401 2277V2327.3M405.2 2278V2328.3M409.4 2279.2V2329.5M413.6 2280.7V2330.9M417.8 2282.1V2332.2M422 2291.2V2341.3M426.2 2300.7V2350.1M430.4 2298.2V2346.8M434.6 2253.6V2301.6M438.8 2240V2287.2M443 2245V2291.6M447.3 2250.4V2296.2M451.5 2255V2300M455.7 2259.5V2303.9M459.9 2262V2305.7M464.1 2232.6V2275.5M468.3 2227.3V2269.5M472.5 2235.1V2276.6M476.7 2242.3V2283.1M480.9 2236.3V2276.4M485.1 2237.1V2276.4M489.3 2242.7V2282M493.5 2246.7V2286.1M497.7 2245.8V2285.2M501.9 2244.9V2284.3M506.1 2244V2283.4M510.3 2246.6V2286M514.5 2251.6V2291.1M518.7 2257V2296.5M522.9 2262.6V2302.1M527.1 2270.1V2309.7M531.3 2281.3V2320.9M535.6 2292.5V2332.1M539.8 2302.3V2341.9M544 2312.1V2351.7M548.2 2320.9V2360.5M552.4 2299.1V2338.8M556.6 2291.6V2331.2M560.8 2294.9V2334.6M565 2304.9V2344.7M569.2 2316.1V2355.9M573.4 2328.9V2368.6M577.6 2342.9V2382.6M581.8 2355.6V2395.4M586 2364V2403.9M590.2 2372.4V2412.3M594.4 2364.5V2404.4M598.6 2347.7V2387.6M602.8 2335V2374.8M607 2338.3V2378.2M611.2 2343V2383M615.4 2351.4V2391.4M619.6 2359.8V2399.8M623.8 2372.2V2412.2M628.1 2384.8V2424.9M632.3 2394.8V2434.8M636.5 2403.2V2443.2M640.7 2409.7V2449.8M644.9 2412.5V2452.6M649.1 2415.3V2455.4M653.3 2419.5V2459.7M657.5 2423.7V2463.9M661.7 2426.5V2466.6M665.9 2428.6V2468.7M670.1 2430.1V2470.3M674.3 2430.8V2471M678.5 2431.5V2471.8M682.7 2432.7V2473M686.9 2433.9V2474.2M691.1 2409V2449.3M695.3 2335.1V2375.4M699.5 2317.6V2358M703.7 2321V2361.4M707.9 2329.9V2370.3M712.1 2350.9V2391.3M716.4 2369.6V2410M720.6 2386.4V2426.8M724.8 2401.8V2442.2M729 2413V2453.4M733.2 2424.2V2464.6M737.4 2430.1V2470.6M741.6 2435.7V2476.2M745.8 2439.6V2480.1M750 2442.4V2482.9M754.2 2445.1V2485.7M758.4 2447.9V2488.5M762.6 2450.7V2491.3M766.8 2447.6V2488.3M771 2446.8V2487.5M775.2 2448.9V2489.6M779.4 2444.1V2484.8M783.6 2350.5V2391.2M787.8 2215.4V2256.2M792 2223.8V2264.6M796.2 2232.2V2273M800.4 2240.6V2281.4M804.6 2249V2289.9M808.9 2257.4V2298.3M813.1 2265.8V2306.7M817.3 2276V2316.9M821.5 2287.2V2328.1M825.7 2298.4V2339.3M829.9 2309.6V2350.6M834.1 2320.9V2361.8M838.3 2332.1V2373M842.5 2343.3V2384.2M846.7 2351.6V2392.5M850.9 2358.6V2399.6M855.1 2364.9V2405.9M859.3 2370.1V2411.2M863.5 2375.4V2416.5M867.7 2380.3V2421.4M871.9 2384.5V2425.6M876.1 2388.7V2429.8M880.3 2392.9V2434.1M884.5 2397.1V2438.3M888.7 2401.3V2442.5M892.9 2405.3V2446.5M897.1 2408.1V2449.4M901.4 2410.9V2452.2M905.6 2413.7V2455M909.8 2416.6V2457.9M914 2420.1V2461.4M918.2 2423.6V2464.9M922.4 2425.5V2466.8M926.6 2426.9V2468.2M930.8 2427.9V2469.3M935 2428.4V2469.8M939.2 2428.9V2470.3M943.4 2429.7V2471.2M947.6 2431.1V2472.6M951.8 2432.5V2474M956 2433.9V2475.4M960.2 2435.3V2476.8M964.4 2424.6V2466.2M968.6 2416.9V2458.4M972.8 2415.2V2456.8M977 2415.5V2457M981.2 2416.8V2458.4M985.4 2418.7V2460.3M989.7 2421.5V2463.1M993.9 2424.3V2465.9M998.1 2426.4V2468M1002.3 2428.5V2470.1M1006.5 2430.5V2472.3M1010.7 2433.1V2474.8M1014.9 2435.7V2477.5M1019.1 2438.4V2480.1M1023.3 2440.5V2482.3M1027.5 2442.6V2484.4M1031.7 2444.7V2486.6M1035.9 2446V2487.9M1040.1 2447.1V2489M1044.3 2448.1V2490M1048.5 2449.5V2491.4M1052.7 2451.1V2493M1056.9 2452.6V2494.6M1061.1 2454.5V2496.5M1065.3 2393.7V2435.6M1069.5 2330.5V2372.5M1073.7 2320.2V2362.2M1077.9 2320.2V2362.3M1082.2 2320.2V2362.3M1086.4 2320.6V2362.7M1090.6 2321.6V2363.7M1094.8 2322.7V2364.8M1099 2323.4V2365.5M1103.2 2323.4V2365.6M1107.4 2331.3V2373.5M1111.6 2332V2374.2M1115.8 2332.5V2374.7M1120 2333.1V2375.3M1124.2 2334.4V2376.6M1128.4 2335.7V2378M1132.6 2337.9V2380.2M1136.8 2340.7V2383M1141 2343.5V2385.8M1145.2 2342.6V2384.9M1149.4 2316.3V2358.7M1153.6 2307.1V2349.4M1157.8 2307.1V2349.4M1162 2307V2349.5M1166.2 2308.2V2350.7M1170.5 2309.6V2352.1M1174.7 2301.2V2343.6M1178.9 2289.7V2332.2M1183.1 2286.4V2328.9M1187.3 2287.2V2329.8M1191.5 2288.5V2331M1195.7 2289.9V2332.4M1199.9 2291V2333.6M1204.1 2291.7V2334.3M1208.3 2292.4V2335M1212.5 2293.4V2336.1M1216.7 2295.7V2338.4M1220.9 2299.2V2341.9M1225.1 2302.2V2344.9M1229.3 2302.9V2345.6M1233.5 2303.6V2346.3M1237.7 2304.1V2346.8M1241.9 2304.6V2347.4M1246.1 2305.1V2347.9M1250.3 2305.6V2348.4M1254.5 2306.2V2349M1258.7 2306.7V2349.5M1263 2309V2351.9M1267.2 2311.5V2354.4M1271.4 2310.5V2353.4M1275.6 2310V2353M1279.8 2310V2353"/>
<polyline fill="none" stroke="#000" stroke-width="1.4" stroke-linejoin="round" points="127.7,2364.1 131.9,2360.9 136.1,2358.1 140.3,2355.3 144.5,2355.5 148.7,2357.6 152.9,2360.1 157.1,2363.6 161.3,2367.1 165.5,2361 169.7,2356.5 174,2354.4 178.2,2351.2 182.4,2339.6 186.6,2333.1 190.8,2330.3 195,2328.5 199.2,2329.6 203.4,2330.6 207.6,2331.7 211.8,2332.7 216,2333.8 220.2,2335.1 224.4,2339.3 228.6,2341.5 232.8,2342 237,2342.6 241.2,2341.9 245.4,2339.8 249.6,2337.6 253.8,2334.8 258,2332 262.2,2330.9 266.5,2330.2 270.7,2333.1 274.9,2339.4 279.1,2334.5 283.3,2330.9 287.5,2329.5 291.7,2328 295.9,2325.9 300.1,2323.8 304.3,2321.8 308.5,2322.8 312.7,2323.9 316.9,2324.9 321.1,2325 325.3,2325 329.5,2325 333.7,2325 337.9,2321.9 342.1,2311.4 346.3,2297.7 350.5,2284.7 354.8,2278.4 359,2273.5 363.2,2269.3 367.4,2272.5 371.6,2278.4 375.8,2284.1 380,2289.7 384.2,2293.8 388.4,2296.5 392.6,2299.1 396.8,2301.1 401,2302.1 405.2,2303.2 409.4,2304.4 413.6,2305.8 417.8,2307.2 422,2316.3 426.2,2325.4 430.4,2322.5 434.6,2277.6 438.8,2263.6 443,2268.3 447.3,2273.3 451.5,2277.5 455.7,2281.7 459.9,2283.8 464.1,2254 468.3,2248.4 472.5,2255.8 476.7,2262.7 480.9,2256.4 485.1,2256.7 489.3,2262.4 493.5,2266.4 497.7,2265.5 501.9,2264.6 506.1,2263.7 510.3,2266.3 514.5,2271.3 518.7,2276.8 522.9,2282.4 527.1,2289.9 531.3,2301.1 535.6,2312.3 539.8,2322.1 544,2331.9 548.2,2340.7 552.4,2318.9 556.6,2311.4 560.8,2314.8 565,2324.8 569.2,2336 573.4,2348.7 577.6,2362.7 581.8,2375.5 586,2383.9 590.2,2392.4 594.4,2384.5 598.6,2367.7 602.8,2354.9 607,2358.3 611.2,2363 615.4,2371.4 619.6,2379.8 623.8,2392.2 628.1,2404.9 632.3,2414.8 636.5,2423.2 640.7,2429.8 644.9,2432.6 649.1,2435.4 653.3,2439.6 657.5,2443.8 661.7,2446.6 665.9,2448.7 670.1,2450.2 674.3,2450.9 678.5,2451.7 682.7,2452.9 686.9,2454.1 691.1,2429.2 695.3,2355.2 699.5,2337.8 703.7,2341.2 707.9,2350.1 712.1,2371.1 716.4,2389.8 720.6,2406.6 724.8,2422 729,2433.2 733.2,2444.4 737.4,2450.4 741.6,2456 745.8,2459.8 750,2462.6 754.2,2465.4 758.4,2468.2 762.6,2471 766.8,2467.9 771,2467.1 775.2,2469.2 779.4,2464.5 783.6,2370.8 787.8,2235.8 792,2244.2 796.2,2252.6 800.4,2261 804.6,2269.4 808.9,2277.9 813.1,2286.3 817.3,2296.5 821.5,2307.7 825.7,2318.9 829.9,2330.1 834.1,2341.3 838.3,2352.5 842.5,2363.7 846.7,2372 850.9,2379.1 855.1,2385.4 859.3,2390.7 863.5,2395.9 867.7,2400.9 871.9,2405.1 876.1,2409.3 880.3,2413.5 884.5,2417.7 888.7,2421.9 892.9,2425.9 897.1,2428.8 901.4,2431.6 905.6,2434.4 909.8,2437.2 914,2440.7 918.2,2444.2 922.4,2446.2 926.6,2447.6 930.8,2448.6 935,2449.1 939.2,2449.6 943.4,2450.5 947.6,2451.9 951.8,2453.3 956,2454.7 960.2,2456.1 964.4,2445.4 968.6,2437.7 972.8,2436 977,2436.2 981.2,2437.6 985.4,2439.5 989.7,2442.3 993.9,2445.1 998.1,2447.2 1002.3,2449.3 1006.5,2451.4 1010.7,2454 1014.9,2456.6 1019.1,2459.2 1023.3,2461.4 1027.5,2463.5 1031.7,2465.6 1035.9,2467 1040.1,2468 1044.3,2469.1 1048.5,2470.5 1052.7,2472 1056.9,2473.6 1061.1,2475.5 1065.3,2414.7 1069.5,2351.5 1073.7,2341.2 1077.9,2341.2 1082.2,2341.2 1086.4,2341.6 1090.6,2342.7 1094.8,2343.7 1099,2344.5 1103.2,2344.5 1107.4,2352.4 1111.6,2353.1 1115.8,2353.6 1120,2354.2 1124.2,2355.5 1128.4,2356.9 1132.6,2359.1 1136.8,2361.9 1141,2364.7 1145.2,2363.7 1149.4,2337.5 1153.6,2328.3 1157.8,2328.3 1162,2328.3 1166.2,2329.5 1170.5,2330.9 1174.7,2322.4 1178.9,2311 1183.1,2307.7 1187.3,2308.5 1191.5,2309.7 1195.7,2311.1 1199.9,2312.3 1204.1,2313 1208.3,2313.7 1212.5,2314.8 1216.7,2317 1220.9,2320.5 1225.1,2323.5 1229.3,2324.2 1233.5,2324.9 1237.7,2325.5 1241.9,2326 1246.1,2326.5 1250.3,2327 1254.5,2327.6 1258.7,2328.1 1263,2330.5 1267.2,2333 1271.4,2331.9 1275.6,2331.5 1279.8,2331.5"/><path fill="none" stroke="#000" stroke-width="2.4" d="M126.5 2364.1h2.4M130.7 2360.9h2.4M134.9 2358.1h2.4M139.1 2355.3h2.4M143.3 2355.5h2.4M147.5 2357.6h2.4M151.7 2360.1h2.4M155.9 2363.6h2.4M160.1 2367.1h2.4M164.3 2361h2.4M168.5 2356.5h2.4M172.8 2354.4h2.4M177 2351.2h2.4M181.2 2339.6h2.4M185.4 2333.1h2.4M189.6 2330.3h2.4M193.8 2328.5h2.4M198 2329.6h2.4M202.2 2330.6h2.4M206.4 2331.7h2.4M210.6 2332.7h2.4M214.8 2333.8h2.4M219 2335.1h2.4M223.2 2339.3h2.4M227.4 2341.5h2.4M231.6 2342h2.4M235.8 2342.6h2.4M240 2341.9h2.4M244.2 2339.8h2.4M248.4 2337.6h2.4M252.6 2334.8h2.4M256.8 2332h2.4M261 2330.9h2.4M265.3 2330.2h2.4M269.5 2333.1h2.4M273.7 2339.4h2.4M277.9 2334.5h2.4M282.1 2330.9h2.4M286.3 2329.5h2.4M290.5 2328h2.4M294.7 2325.9h2.4M298.9 2323.8h2.4M303.1 2321.8h2.4M307.3 2322.8h2.4M311.5 2323.9h2.4M315.7 2324.9h2.4M319.9 2325h2.4M324.1 2325h2.4M328.3 2325h2.4M332.5 2325h2.4M336.7 2321.9h2.4M340.9 2311.4h2.4M345.1 2297.7h2.4M349.3 2284.7h2.4M353.6 2278.4h2.4M357.8 2273.5h2.4M362 2269.3h2.4M366.2 2272.5h2.4M370.4 2278.4h2.4M374.6 2284.1h2.4M378.8 2289.7h2.4M383 2293.8h2.4M387.2 2296.5h2.4M391.4 2299.1h2.4M395.6 2301.1h2.4M399.8 2302.1h2.4M404 2303.2h2.4M408.2 2304.4h2.4M412.4 2305.8h2.4M416.6 2307.2h2.4M420.8 2316.3h2.4M425 2325.4h2.4M429.2 2322.5h2.4M433.4 2277.6h2.4M437.6 2263.6h2.4M441.8 2268.3h2.4M446.1 2273.3h2.4M450.3 2277.5h2.4M454.5 2281.7h2.4M458.7 2283.8h2.4M462.9 2254h2.4M467.1 2248.4h2.4M471.3 2255.8h2.4M475.5 2262.7h2.4M479.7 2256.4h2.4M483.9 2256.7h2.4M488.1 2262.4h2.4M492.3 2266.4h2.4M496.5 2265.5h2.4M500.7 2264.6h2.4M504.9 2263.7h2.4M509.1 2266.3h2.4M513.3 2271.3h2.4M517.5 2276.8h2.4M521.7 2282.4h2.4M525.9 2289.9h2.4M530.1 2301.1h2.4M534.4 2312.3h2.4M538.6 2322.1h2.4M542.8 2331.9h2.4M547 2340.7h2.4M551.2 2318.9h2.4M555.4 2311.4h2.4M559.6 2314.8h2.4M563.8 2324.8h2.4M568 2336h2.4M572.2 2348.7h2.4M576.4 2362.7h2.4M580.6 2375.5h2.4M584.8 2383.9h2.4M589 2392.4h2.4M593.2 2384.5h2.4M597.4 2367.7h2.4M601.6 2354.9h2.4M605.8 2358.3h2.4M610 2363h2.4M614.2 2371.4h2.4M618.4 2379.8h2.4M622.6 2392.2h2.4M626.9 2404.9h2.4M631.1 2414.8h2.4M635.3 2423.2h2.4M639.5 2429.8h2.4M643.7 2432.6h2.4M647.9 2435.4h2.4M652.1 2439.6h2.4M656.3 2443.8h2.4M660.5 2446.6h2.4M664.7 2448.7h2.4M668.9 2450.2h2.4M673.1 2450.9h2.4M677.3 2451.7h2.4M681.5 2452.9h2.4M685.7 2454.1h2.4M689.9 2429.2h2.4M694.1 2355.2h2.4M698.3 2337.8h2.4M702.5 2341.2h2.4M706.7 2350.1h2.4M710.9 2371.1h2.4M715.1 2389.8h2.4M719.4 2406.6h2.4M723.6 2422h2.4M727.8 2433.2h2.4M732 2444.4h2.4M736.2 2450.4h2.4M740.4 2456h2.4M744.6 2459.8h2.4M748.8 2462.6h2.4M753 2465.4h2.4M757.2 2468.2h2.4M761.4 2471h2.4M765.6 2467.9h2.4M769.8 2467.1h2.4M774 2469.2h2.4M778.2 2464.5h2.4M782.4 2370.8h2.4M786.6 2235.8h2.4M790.8 2244.2h2.4M795 2252.6h2.4M799.2 2261h2.4M803.4 2269.4h2.4M807.7 2277.9h2.4M811.9 2286.3h2.4M816.1 2296.5h2.4M820.3 2307.7h2.4M824.5 2318.9h2.4M828.7 2330.1h2.4M832.9 2341.3h2.4M837.1 2352.5h2.4M841.3 2363.7h2.4M845.5 2372h2.4M849.7 2379.1h2.4M853.9 2385.4h2.4M858.1 2390.7h2.4M862.3 2395.9h2.4M866.5 2400.9h2.4M870.7 2405.1h2.4M874.9 2409.3h2.4M879.1 2413.5h2.4M883.3 2417.7h2.4M887.5 2421.9h2.4M891.7 2425.9h2.4M895.9 2428.8h2.4M900.2 2431.6h2.4M904.4 2434.4h2.4M908.6 2437.2h2.4M912.8 2440.7h2.4M917 2444.2h2.4M921.2 2446.2h2.4M925.4 2447.6h2.4M929.6 2448.6h2.4M933.8 2449.1h2.4M938 2449.6h2.4M942.2 2450.5h2.4M946.4 2451.9h2.4M950.6 2453.3h2.4M954.8 2454.7h2.4M959 2456.1h2.4M963.2 2445.4h2.4M967.4 2437.7h2.4M971.6 2436h2.4M975.8 2436.2h2.4M980 2437.6h2.4M984.2 2439.5h2.4M988.5 2442.3h2.4M992.7 2445.1h2.4M996.9 2447.2h2.4M1001.1 2449.3h2.4M1005.3 2451.4h2.4M1009.5 2454h2.4M1013.7 2456.6h2.4M1017.9 2459.2h2.4M1022.1 2461.4h2.4M1026.3 2463.5h2.4M1030.5 2465.6h2.4M1034.7 2467h2.4M1038.9 2468h2.4M1043.1 2469.1h2.4M1047.3 2470.5h2.4M1051.5 2472h2.4M1055.7 2473.6h2.4M1059.9 2475.5h2.4M1064.1 2414.7h2.4M1068.3 2351.5h2.4M1072.5 2341.2h2.4M1076.7 2341.2h2.4M1081 2341.2h2.4M1085.2 2341.6h2.4M1089.4 2342.7h2.4M1093.6 2343.7h2.4M1097.8 2344.5h2.4M1102 2344.5h2.4M1106.2 2352.4h2.4M1110.4 2353.1h2.4M1114.6 2353.6h2.4M1118.8 2354.2h2.4M1123 2355.5h2.4M1127.2 2356.9h2.4M1131.4 2359.1h2.4M1135.6 2361.9h2.4M1139.8 2364.7h2.4M1144 2363.7h2.4M1148.2 2337.5h2.4M1152.4 2328.3h2.4M1156.6 2328.3h2.4M1160.8 2328.3h2.4M1165 2329.5h2.4M1169.3 2330.9h2.4M1173.5 2322.4h2.4M1177.7 2311h2.4M1181.9 2307.7h2.4M1186.1 2308.5h2.4M1190.3 2309.7h2.4M1194.5 2311.1h2.4M1198.7 2312.3h2.4M1202.9 2313h2.4M1207.1 2313.7h2.4M1211.3 2314.8h2.4M1215.5 2317h2.4M1219.7 2320.5h2.4M1223.9 2323.5h2.4M1228.1 2324.2h2.4M1232.3 2324.9h2.4M1236.5 2325.5h2.4M1240.7 2326h2.4M1244.9 2326.5h2.4M1249.1 2327h2.4M1253.3 2327.6h2.4M1257.5 2328.1h2.4M1261.8 2330.5h2.4M1266 2333h2.4M1270.2 2331.9h2.4M1274.4 2331.5h2.4M1278.6 2331.5h2.4"/>
<line x1="525.4" y1="2122.2" x2="525.4" y2="2555.8" stroke="#505050" stroke-width="2.4" stroke-dasharray="22.6 10.8" stroke-linecap="round"/>
<line x1="1047.3" y1="2122.2" x2="1047.3" y2="2542.1" stroke="#505050" stroke-width="2.4" stroke-dasharray="22.6 10.8" stroke-linecap="round"/>
<rect x="102.3" y="2110.2" width="1202.7" height="447.3" fill="none" stroke="#000" stroke-width="2.2"/>
<line x1="92.8" y1="2557.5" x2="102.3" y2="2557.5" stroke="#000" stroke-width="2.2"/>
<text x="80.8" y="2566.5" text-anchor="end" font-family='"Liberation Sans", sans-serif' font-size="25">5</text>
<line x1="92.8" y1="2468" x2="102.3" y2="2468" stroke="#000" stroke-width="2.2"/>
<text x="80.8" y="2477" text-anchor="end" font-family='"Liberation Sans", sans-serif' font-size="25">10</text>
<line x1="92.8" y1="2378.6" x2="102.3" y2="2378.6" stroke="#000" stroke-width="2.2"/>
<text x="80.8" y="2387.6" text-anchor="end" font-family='"Liberation Sans", sans-serif' font-size="25">15</text>
<line x1="92.8" y1="2289.1" x2="102.3" y2="2289.1" stroke="#000" stroke-width="2.2"/>
<text x="80.8" y="2298.1" text-anchor="end" font-family='"Liberation Sans", sans-serif' font-size="25">20</text>
<line x1="92.8" y1="2199.7" x2="102.3" y2="2199.7" stroke="#000" stroke-width="2.2"/>
<text x="80.8" y="2208.7" text-anchor="end" font-family='"Liberation Sans", sans-serif' font-size="25">25</text>
<line x1="92.8" y1="2110.2" x2="102.3" y2="2110.2" stroke="#000" stroke-width="2.2"/>
<text x="80.8" y="2119.2" text-anchor="end" font-family='"Liberation Sans", sans-serif' font-size="25">30</text>
<line x1="127.7" y1="2557.5" x2="127.7" y2="2567.5" stroke="#000" stroke-width="2.2"/>
<text x="127.7" y="2603" text-anchor="middle" font-family='"Liberation Sans", sans-serif' font-size="25">60</text>
<line x1="211.8" y1="2557.5" x2="211.8" y2="2567.5" stroke="#000" stroke-width="2.2"/>
<text x="211.8" y="2603" text-anchor="middle" font-family='"Liberation Sans", sans-serif' font-size="25">80</text>
<line x1="295.9" y1="2557.5" x2="295.9" y2="2567.5" stroke="#000" stroke-width="2.2"/>
<text x="295.9" y="2603" text-anchor="middle" font-family='"Liberation Sans", sans-serif' font-size="25">100</text>
<line x1="380" y1="2557.5" x2="380" y2="2567.5" stroke="#000" stroke-width="2.2"/>
<text x="380" y="2603" text-anchor="middle" font-family='"Liberation Sans", sans-serif' font-size="25">120</text>
<line x1="464.1" y1="2557.5" x2="464.1" y2="2567.5" stroke="#000" stroke-width="2.2"/>
<text x="464.1" y="2603" text-anchor="middle" font-family='"Liberation Sans", sans-serif' font-size="25">140</text>
<line x1="548.2" y1="2557.5" x2="548.2" y2="2567.5" stroke="#000" stroke-width="2.2"/>
<text x="548.2" y="2603" text-anchor="middle" font-family='"Liberation Sans", sans-serif' font-size="25">160</text>
<line x1="632.3" y1="2557.5" x2="632.3" y2="2567.5" stroke="#000" stroke-width="2.2"/>
<text x="632.3" y="2603" text-anchor="middle" font-family='"Liberation Sans", sans-serif' font-size="25">180</text>
<line x1="716.4" y1="2557.5" x2="716.4" y2="2567.5" stroke="#000" stroke-width="2.2"/>
<text x="716.4" y="2603" text-anchor="middle" font-family='"Liberation Sans", sans-serif' font-size="25">200</text>
<line x1="800.4" y1="2557.5" x2="800.4" y2="2567.5" stroke="#000" stroke-width="2.2"/>
<text x="800.4" y="2603" text-anchor="middle" font-family='"Liberation Sans", sans-serif' font-size="25">220</text>
<line x1="884.5" y1="2557.5" x2="884.5" y2="2567.5" stroke="#000" stroke-width="2.2"/>
<text x="884.5" y="2603" text-anchor="middle" font-family='"Liberation Sans", sans-serif' font-size="25">240</text>
<line x1="968.6" y1="2557.5" x2="968.6" y2="2567.5" stroke="#000" stroke-width="2.2"/>
<text x="968.6" y="2603" text-anchor="middle" font-family='"Liberation Sans", sans-serif' font-size="25">260</text>
<line x1="1052.7" y1="2557.5" x2="1052.7" y2="2567.5" stroke="#000" stroke-width="2.2"/>
<text x="1052.7" y="2603" text-anchor="middle" font-family='"Liberation Sans", sans-serif' font-size="25">280</text>
<line x1="1136.8" y1="2557.5" x2="1136.8" y2="2567.5" stroke="#000" stroke-width="2.2"/>
<text x="1136.8" y="2603" text-anchor="middle" font-family='"Liberation Sans", sans-serif' font-size="25">300</text>
<line x1="1220.9" y1="2557.5" x2="1220.9" y2="2567.5" stroke="#000" stroke-width="2.2"/>
<text x="1220.9" y="2603" text-anchor="middle" font-family='"Liberation Sans", sans-serif' font-size="25">320</text>
<line x1="1305" y1="2557.5" x2="1305" y2="2567.5" stroke="#000" stroke-width="2.2"/>
<text x="1305" y="2603" text-anchor="middle" font-family='"Liberation Sans", sans-serif' font-size="25">340</text>
<text transform="translate(26.8 2337.2) rotate(-90)" text-anchor="middle" font-family='"Liberation Sans", sans-serif' font-size="25.5">Soil Water Content (%)</text>
<text x="118.8" y="2148.4" font-family='"Liberation Sans", sans-serif' font-size="25.1">2011</text>
<text x="589.2" y="2154.2" font-family='"Liberation Sans", sans-serif' font-size="24.75">Reproductive season control</text>
<text x="691" y="2640" text-anchor="middle" font-family='"Liberation Serif", serif' font-size="25.4">Day of Year</text>
</svg></body></html>
